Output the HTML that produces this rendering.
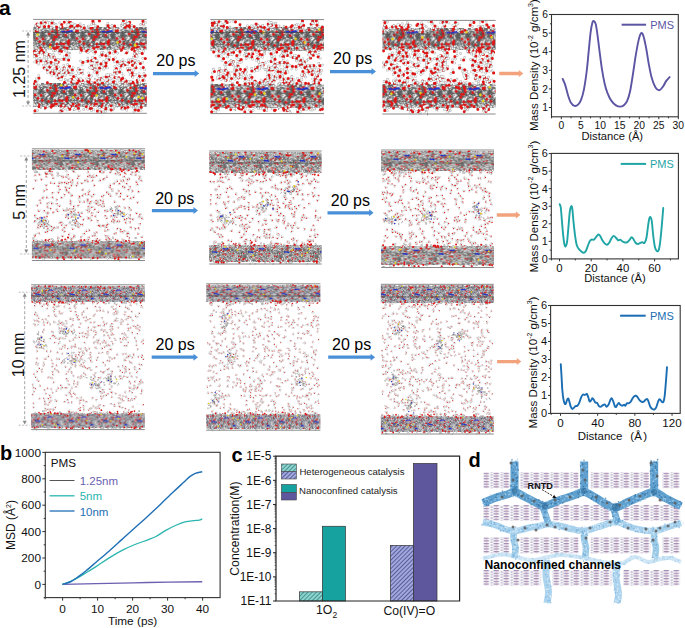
<!DOCTYPE html><html><head><meta charset="utf-8"><style>html,body{margin:0;padding:0;background:#fff;}svg{display:block;}</style></head><body><svg width="685" height="628" viewBox="0 0 685 628" font-family='"Liberation Sans", sans-serif'>
<rect width="685" height="628" fill="#fff"/>
<defs><pattern id="t0" width="40" height="24" patternUnits="userSpaceOnUse"><linearGradient id="bgg0" x1="0" y1="0" x2="0" y2="1"><stop offset="0" stop-color="#c4c4c4" stop-opacity="0"/><stop offset=".3" stop-color="#c4c4c4"/><stop offset=".75" stop-color="#c4c4c4"/><stop offset="1" stop-color="#c4c4c4" stop-opacity="0"/></linearGradient><rect y="1.0" width="40" height="22.1" fill="url(#bgg0)"/><g fill="none" stroke-linecap="round" stroke-linejoin="round"><path d="M5.8 10.9l-1.5 -.5l-.3 -1.6l1.2 -1l-.3 -1.6M45.8 10.9l-1.5 -.5l-.3 -1.6l1.2 -1l-.3 -1.6M21.3 1.9l1.5 .6l.2 1.6M9.2 20.1l-.7 1.4l.9 1.3M35.7 8.9l-1.1 1.2l-1.6 -.4M-4.3 8.9l-1.1 1.2l-1.6 -.4M22.2 21.6l.1 1.6l1.4 .7M.2 9.5l.3 1.6l1.5 .5l1.2 -1.1l-.3 -1.6M40.2 9.5l.3 1.6l1.5 .5l1.2 -1.1l-.3 -1.6M36.6 5.7l-1.2 1l.3 1.6l1.5 .6l1.2 -1M-3.4 5.7l-1.2 1l.3 1.6l1.5 .6l1.2 -1M28.7 18.6l-1.4 .8l-1.4 -.8l0 -1.6M39.9 9.6l.5 1.5l-1.1 1.2M-.1 9.6l.5 1.5l-1.1 1.2M10.1 20.3l-1.2 -1.1l.4 -1.6l1.5 -.4l.4 -1.6M2.3 14l-.8 1.4l.8 1.4M42.3 14l-.8 1.4l.8 1.4M28.7 18.8l-.3 1.6l-1.5 .6l-1.2 -1M18.2 16.5l1.4 .7l1.3 -.9l-.1 -1.6l1.3 -.9M29 2.5l-1.6 -.1l-.8 1.4M28 3.9l.2 1.6l1.5 .6M6.3 .9l1.5 -.6l1.3 1M2.7 22.7l-1.1 1.2l-1.6 -.4l-.5 -1.5l1.1 -1.2M42.7 22.7l-1.1 1.2l-1.6 -.4l-.5 -1.5l1.1 -1.2M27.8 12.6l-1.6 .3l-.5 1.5l1 1.2M33.1 1.9l-.8 -1.4l.8 -1.4l-.8 -1.4M7.6 24l1.6 .3l.5 1.5l-1 1.2M1.5 .6l.1 1.6l-1.4 .8l.1 1.6M41.5 .6l.1 1.6l-1.4 .8l.1 1.6M26.1 5.3l.9 1.3l1.6 -.1l.9 1.3l-.7 1.4M27 10.7l.5 1.5l1.6 .3M27.7 20.5l-.1 1.6l1.4 .8l1.4 -.8l0 -1.6M28.1 12.2l-0 1.6l1.4 .8l1.4 -.8M36.4 14.4l1.2 1.1l-.4 1.6l1.2 1.1M-3.6 14.4l1.2 1.1l-.4 1.6l1.2 1.1M17.5 20.5l-1.4 .8l-0 1.6l1.4 .8l1.4 -.8M1.9 19.3l1.5 .5l1.2 -1.1l-.4 -1.6M41.9 19.3l1.5 .5l1.2 -1.1l-.4 -1.6M36.3 10l1.2 1.1l1.5 -.5l1.2 1.1M-3.7 10l1.2 1.1l1.5 -.5l1.2 1.1M25 2.3l1.2 1.1l1.5 -.5M6.8 22.8l.5 1.5l-1.1 1.2l-1.6 -.4M4.6 22l.3 1.6l-1.2 1l.3 1.6M44.6 22l.3 1.6l-1.2 1l.3 1.6M1.4 .3l1.4 .8l1.4 -.8l1.4 .8l1.4 -.8M41.4 .3l1.4 .8l1.4 -.8l1.4 .8l1.4 -.8M29.5 8.4l1.4 .7l.1 1.6l1.4 .7M24.2 12.6l.1 1.6l1.4 .7M37.3 17l1.5 .6l1.3 -1l-.2 -1.6l1.3 -1M-2.7 17l1.5 .6l1.3 -1l-.2 -1.6l1.3 -1M35.2 2.9l-.7 1.5l-1.6 .2l-.7 1.5M-4.8 2.9l-.7 1.5l-1.6 .2l-.7 1.5M13 3.8l1.1 1.2l1.6 -.4l1.1 1.2l1.6 -.4M3.5 14.5l1.6 -.1l.9 1.3M43.5 14.5l1.6 -.1l.9 1.3M37.2 21.7l1.5 -.6l1.3 1l1.5 -.6l1.3 1M-2.8 21.7l1.5 -.6l1.3 1l1.5 -.6l1.3 1M39 .2l-1.4 .8l0 1.6l1.4 .8M-1 .2l-1.4 .8l0 1.6l1.4 .8M17.4 4.9l-.4 1.5l-1.6 .4l-1.1 -1.2M13.4 17.5l1.5 -.5l.4 -1.6l1.5 -.5l.4 -1.6M28.8 2.9l-1.5 -.6l-1.3 1l.2 1.6M16.2 .5l-1.4 -.8l0 -1.6M23.9 1.2l.5 1.5l-1.1 1.2M23 17.3l-.6 1.5l-1.6 .2l-.6 1.5M36.7 17.7l-.8 1.4l.8 1.4l-.8 1.4M-3.3 17.7l-.8 1.4l.8 1.4l-.8 1.4M29.8 12.7l1.4 -.8l0 -1.6M24.6 19.9l-1.4 -.8l0 -1.6M27.7 14.3l-1.3 .9l.1 1.6l-1.3 .9l.1 1.6M15 23.5l1.6 .3l.5 1.5M37.7 12.8l.4 1.5l-1.1 1.1l-1.5 -.4l-.4 -1.5M-2.3 12.8l.4 1.5l-1.1 1.1l-1.5 -.4l-.4 -1.5M21.3 17.7l1 1.3l-.6 1.5l-1.6 .2l-.6 1.5M3.5 18.3l1 1.2l1.6 -.3l1 1.2l1.6 -.3M43.5 18.3l1 1.2l1.6 -.3l1 1.2l1.6 -.3M39.5 12.2l1.6 .3l.5 1.5l1.6 .3M-.5 12.2l1.6 .3l.5 1.5l1.6 .3M31.6 17.9l-1.6 -.1l-.9 1.3l-1.6 -.1M16.9 10.8l.6 1.5l-1 1.2l-1.6 -.3M25.4 12.7l-.2 1.6l1.3 1l-.2 1.6M15.6 .6l1.6 .3l1.1 -1.2M38 21.7l.4 1.5l-1.1 1.1l-1.5 -.4M-2 21.7l.4 1.5l-1.1 1.1l-1.5 -.4M11.9 20.5l-1 1.2l.6 1.5l1.6 .3l1 -1.2M20.4 1.4l-1.4 .8l-0 1.6l1.4 .8M4.5 5.4l1.6 .2l.6 1.5l-1 1.2M44.5 5.4l1.6 .2l.6 1.5l-1 1.2M26.7 8.3l-1.1 1.2l.5 1.5M39.4 9.3l1.6 -.2l1 1.3l-.6 1.5l-1.6 .2M-.6 9.3l1.6 -.2l1 1.3l-.6 1.5l-1.6 .2M10.2 3.3l-1.6 -.2l-.6 -1.5l-1.6 -.2l-1 1.3M15.7 12.5l1.6 .3l.5 1.5M2 16.9l-1.5 .7l-1.3 -.9l-1.5 .7l-1.3 -.9M42 16.9l-1.5 .7l-1.3 -.9l-1.5 .7l-1.3 -.9M23.6 16.2l-.2 1.6l1.3 .9l-.2 1.6l-1.5 .6M12.6 7.7l1.6 -.1l.9 1.3M38.1 23.5l.9 1.3l-.7 1.5M-1.9 23.5l.9 1.3l-.7 1.5M5.9 11.3l1.3 -.9l-.1 -1.6l-1.4 -.7M45.9 11.3l1.3 -.9l-.1 -1.6l-1.4 -.7M28.6 6.8l-1.4 -.8l0 -1.6l1.4 -.8M1.2 9.2l-1 1.2l-1.6 -.3l-.5 -1.5M41.2 9.2l-1 1.2l-1.6 -.3l-.5 -1.5M28.9 .7l1.3 .9l-.1 1.6l-1.4 .7M14 9l1.2 -1l-.2 -1.6M3.3 3.7l-0 1.6l-1.4 .8l-1.4 -.8l-1.4 .8M43.3 3.7l-0 1.6l-1.4 .8l-1.4 -.8l-1.4 .8M15.8 8l-1.6 .1l-.7 1.4l.9 1.3M2.8 17.8l-1.5 .5l-.4 1.6l1.2 1.1l1.5 -.5M42.8 17.8l-1.5 .5l-.4 1.6l1.2 1.1l1.5 -.5M21 22.2l.4 1.6l1.5 .5l.4 1.6M.2 8.2l1.5 .6l.2 1.6M40.2 8.2l1.5 .6l.2 1.6M2.4 15.4l-1 -1.3l.6 -1.5l1.6 -.2l.6 -1.5M42.4 15.4l-1 -1.3l.6 -1.5l1.6 -.2l.6 -1.5M2.1 23.6l-1.6 -.3l-1.1 1.2l-1.6 -.3M42.1 23.6l-1.6 -.3l-1.1 1.2l-1.6 -.3M1.6 9.5l-1.5 .5l-.3 1.6M41.6 9.5l-1.5 .5l-.3 1.6M27.6 19.7l1.4 -.7l.1 -1.6l1.4 -.7M8.8 3.4l-1.4 .8l-0 1.6l-1.4 .8l-0 1.6M3.9 21.5l-.9 -1.3l-1.6 .1l-.9 -1.3l.7 -1.4M43.9 21.5l-.9 -1.3l-1.6 .1l-.9 -1.3l.7 -1.4M1.4 16.3l-1.6 .4l-.5 1.5l-1.6 .4l-1.1 -1.2M41.4 16.3l-1.6 .4l-.5 1.5l-1.6 .4l-1.1 -1.2M22.3 1.5l-1.3 -.9l.2 -1.6l-1.3 -.9l-1.5 .7M1.4 16l-1.6 -.3l-1 1.2l-1.6 -.3l-1 1.2M41.4 16l-1.6 -.3l-1 1.2l-1.6 -.3l-1 1.2M26.9 2.3l.9 -1.3l1.6 .1l.7 1.4l1.6 .1M25.2 1.4l1.5 -.5l1.2 1l1.5 -.5l.3 -1.6M18.4 15l-1.4 .8l-1.4 -.8M17.8 10.2l-1.6 .4l-1.1 -1.2l-1.6 .4l-1.1 -1.2M14.8 4.5l-.7 1.5l.9 1.3l1.6 -.2l.9 1.3M34 1.1l1.6 .3l.5 1.5l-1.1 1.2M23.7 8.8l1.1 -1.1l1.6 .4l1.1 -1.1M22.8 6.7l.8 1.4l-.8 1.4l.8 1.4M21.3 15.3l1.6 -.3l1 1.2M32.5 23.1l-.1 1.6l1.3 .9l1.4 -.7l1.3 .9M32.9 14.6l-1.2 1.1l.3 1.6l1.5 .5l.3 1.6M15.6 19.3l-.1 1.6l-1.4 .7l-1.3 -.9M16 8.7l-1.4 .8l-1.4 -.8M19.5 15.5l-.2 1.6l1.3 .9M25.3 13l-.1 1.6l1.3 .9M36.6 21.6l-1.6 -.1l-.7 -1.4l.9 -1.3l-.7 -1.4M-3.4 21.6l-1.6 -.1l-.7 -1.4l.9 -1.3l-.7 -1.4M26.1 9.5l1.2 -1.1l1.5 .5M16.5 4l1.6 .1l.7 1.5M6.5 21.8l-1.4 -.8l-1.4 .8l-1.4 -.8M16.9 3l1.4 .7l1.3 -.9l1.4 .7M2.6 20.8l-1.4 -.8l0 -1.6l1.4 -.8l0 -1.6M42.6 20.8l-1.4 -.8l0 -1.6l1.4 -.8l0 -1.6M23.3 13l-1.2 -1.1l-1.5 .5l-.4 1.6l1.2 1.1M5.1 10.7l-1.6 -0l-.8 -1.4l.8 -1.4l1.6 0M45.1 10.7l-1.6 -0l-.8 -1.4l.8 -1.4l1.6 0M8.8 6.4l1.6 -.2l.7 -1.5M28.3 9.1l.5 1.5l-1.1 1.2M7.1 15.3l1.2 -1l-.3 -1.6l-1.5 -.5M35.6 20.5l.5 1.5l-1.1 1.2l-1.6 -.4l-1.1 1.2M-4.4 20.5l.5 1.5l-1.1 1.2l-1.6 -.4l-1.1 1.2M21.3 5.7l-1 1.2l.5 1.5l1.6 .3l1 -1.2M31.9 6l1.5 -.4l1.2 1.1M7.7 7.9l-1.5 -.6l-1.3 1l-1.5 -.6l-.2 -1.6M23.2 19l1.4 -.7l.1 -1.6M27.8 7.3l1.5 -.4l.4 -1.6l-1.2 -1.1M31.5 5.1l-1.2 -1l-1.5 .6M23.8 5.4l-1.3 .9l-1.4 -.7M32.7 14.4l.1 1.6l1.4 .7l1.3 -.9M22 4.8l1.6 -.1l.9 1.3M30.9 24l-1.5 -.5l-1.2 1.1l.4 1.6l-1.2 1.1M26.4 9.3l-1.6 -.3l-.5 -1.5l-1.6 -.3l-1.1 1.2M13.9 17.5l1.5 -.6l.2 -1.6M37.1 10.5l1.6 -.3l.5 -1.5l-1 -1.2l.5 -1.5M-2.9 10.5l1.6 -.3l.5 -1.5l-1 -1.2l.5 -1.5M11 4.8l1.6 -.2l.6 -1.5l1.6 -.2l.6 -1.5M26.4 9.7l.7 1.4l-.9 1.3l.7 1.4M16.8 10.4l-1.3 .9l-1.5 -.7l-1.3 .9M25 16l-1 1.2l.6 1.5l1.6 .2l.6 1.5M14.4 7.2l1.5 .5l.3 1.6M11.6 6l1.2 1.1l1.5 -.5M37.7 7.4l1.2 -1l1.5 .6l1.2 -1M-2.3 7.4l1.2 -1l1.5 .6l1.2 -1M1.4 4.6l-.5 1.5l-1.6 .4M41.4 4.6l-.5 1.5l-1.6 .4M23.1 18.5l1.4 .8l1.4 -.8l1.4 .8M11.1 16.5l-.6 1.5l.9 1.3M33.9 .7l-1 -1.2l-1.6 .3M15.9 16.3l.9 1.3l1.6 -.2l.6 -1.5l1.6 -.2M27.9 13.5l-1.3 .9l.1 1.6l-1.3 .9l-1.4 -.7M28.1 6l-.1 1.6l1.3 .9M19.6 21.4l1.6 -.3l1 1.2M25.3 11.7l.6 1.5l-1 1.2M10.5 10.3l.7 1.4l-.9 1.3M24.3 5.3l-.8 -1.4l.8 -1.4M6.9 2.9l.6 1.5l1.6 .3l1 -1.2l-.6 -1.5M19.2 9.4l-1.5 -.6l-1.3 1M11.2 7.6l-1.1 -1.2l-1.6 .3l-1.1 -1.2M25.3 10.8l-.9 1.3l.7 1.5l-.9 1.3M32.2 13.7l-1 -1.2l.6 -1.5M32.4 6.2l.2 1.6l-1.3 1l.2 1.6l-1.3 1M37.2 1l.4 1.5l-1.1 1.1l-1.5 -.4l-1.1 1.1M-2.8 1l.4 1.5l-1.1 1.1l-1.5 -.4l-1.1 1.1M20.2 2.7l-.7 1.4l.9 1.3l1.6 -.1l.9 1.3M39.7 10.6l-1.2 1l-1.5 -.6M-.3 10.6l-1.2 1l-1.5 -.6M11.3 1.1l-1.2 -1.1l-1.5 .5l-.3 1.6M11.6 9.9l1.3 -.9l1.4 .7M32.3 .9l1.6 -.2l1 1.3M21.5 17l1.2 1l1.5 -.5l1.2 1l-.3 1.6M7.1 23.6l-.3 1.6l1.2 1.1M35.3 23.5l.5 1.5l1.6 .3M-4.7 23.5l.5 1.5l1.6 .3M11.7 10.4l1.5 .5l1.2 -1.1M10.9 23.7l-1.6 -0l-.8 -1.4M36.1 7.5l-1.1 1.2l.5 1.5l-1.1 1.2l-1.6 -.4M-3.9 7.5l-1.1 1.2l.5 1.5l-1.1 1.2l-1.6 -.4M10.4 1.1l-.6 1.5l1 1.3M21.6 20.7l-.8 -1.4l-1.6 .1l-.8 -1.4l.8 -1.4M37.1 1.5l1.1 1.2l1.6 -.4l1.1 1.2M-2.9 1.5l1.1 1.2l1.6 -.4l1.1 1.2M29.1 .2l1.5 -.5l1.2 1.1l-.4 1.6M5.4 8l.2 1.6l-1.3 1l.2 1.6M45.4 8l.2 1.6l-1.3 1l.2 1.6M23.8 1l-1.6 -.3l-.5 -1.5l-1.6 -.3M4.2 3.4l1 1.3l-.6 1.5l1 1.3M44.2 3.4l1 1.3l-.6 1.5l1 1.3M2.6 7.1l-.4 1.5l1.1 1.1l1.6 -.4l1.1 1.1M42.6 7.1l-.4 1.5l1.1 1.1l1.6 -.4l1.1 1.1M20.2 10.5l-1 -1.2l-1.6 .3l-1 -1.2l-1.6 .3M38.4 14.9l-.4 1.5l-1.5 .4M-1.6 14.9l-.4 1.5l-1.5 .4M27.8 15.7l.9 1.3l1.6 -.1M35.7 20.7l-1.5 .6l-.2 1.6l-1.5 .6M-4.3 20.7l-1.5 .6l-.2 1.6l-1.5 .6M16.2 16.5l.3 1.6l-1.2 1l-1.5 -.6M12.2 13.8l.8 1.4l-.8 1.4M8.1 20.1l1.6 .3l1 -1.2l1.6 .3l1 -1.2M1.8 22.9l-.1 1.6l1.3 .9l1.4 -.7l.1 -1.6M41.8 22.9l-.1 1.6l1.3 .9l1.4 -.7l.1 -1.6M11.8 17.4l-.9 1.3l.7 1.5M4.3 15.5l.1 1.6l-1.3 .9l-1.4 -.7M44.3 15.5l.1 1.6l-1.3 .9l-1.4 -.7M2.9 20.2l0 1.6l-1.4 .8l-1.4 -.8l-1.4 .8M42.9 20.2l0 1.6l-1.4 .8l-1.4 -.8l-1.4 .8M35.4 10.4l-.9 -1.3l.7 -1.5l1.6 -.2l.7 -1.5M-4.6 10.4l-.9 -1.3l.7 -1.5l1.6 -.2l.7 -1.5M21 9.4l.7 1.4l-.9 1.3l-1.6 -.1l-.9 1.3M39.5 8.1l.8 1.4l1.6 0l.8 -1.4M-.5 8.1l.8 1.4l1.6 0l.8 -1.4M28.4 8.4l.9 1.3l1.6 -.1M17.2 18.9l1.2 1l-.3 1.6l-1.5 .6M36.6 9.8l-1.5 -.4l-1.1 1.1l.4 1.5l1.6 .4M-3.4 9.8l-1.5 -.4l-1.1 1.1l.4 1.5l1.6 .4M27.4 19.2l-.8 1.4l-1.6 -0M36.7 .5l-1.1 -1.1l-1.5 .4l-.4 1.6M-3.3 .5l-1.1 -1.1l-1.5 .4l-.4 1.6M.1 7.5l.3 1.6l1.5 .5l1.2 -1.1M40.1 7.5l.3 1.6l1.5 .5l1.2 -1.1M23.7 2.4l1.4 -.7l.1 -1.6l1.4 -.7l1.3 .9M9.8 3.9l1.4 .8l-.1 1.6l-1.4 .8M31.9 7.8l-1.2 -1.1l.4 -1.6l1.5 -.5M31.6 8.2l-.9 -1.4l-1.6 .1l-.9 -1.4l.7 -1.4M23.4 9.7l.7 1.4l-.9 1.3l-1.6 -.1M11.4 3.4l-1.5 -.5l-1.2 1.1l.4 1.6M17.6 23.6l-.7 1.5l.9 1.3M6.6 11.2l-.7 1.5l.9 1.3l1.6 -.2M6.2 8.5l-.1 1.6l-1.4 .7l-.1 1.6M38.8 13.3l1.3 -1l1.5 .6M-1.2 13.3l1.3 -1l1.5 .6M34 1.9l.6 1.5l-1 1.3M2.1 11.4l.9 1.3l1.6 -.1l.9 1.3l1.6 -.1M42.1 11.4l.9 1.3l1.6 -.1l.9 1.3l1.6 -.1M33.6 16.3l.4 1.5l-1.1 1.1l.4 1.5M7.3 15.5l1.2 1l-.3 1.6l1.2 1l-.3 1.6M12.1 15.5l1.6 .3l.5 1.5l1.6 .3l.5 1.5M21.5 9.4l.6 1.5l1.6 .2l1 -1.3l-.6 -1.5M19.7 17.6l.9 1.4l1.6 -.1l.7 -1.4M5.4 15.4l-.3 1.6l1.2 1l1.5 -.5M45.4 15.4l-.3 1.6l1.2 1l1.5 -.5M1.1 20.5l1 1.3l-.6 1.5l-1.6 .2l-.6 1.5M41.1 20.5l1 1.3l-.6 1.5l-1.6 .2l-.6 1.5M4.2 11l1.3 .9l1.4 -.7l.1 -1.6M44.2 11l1.3 .9l1.4 -.7l.1 -1.6M23.9 3.5l-.2 1.6l-1.5 .6M39.8 8.5l1.5 .6l1.3 -1l1.5 .6l.2 1.6M-.2 8.5l1.5 .6l1.3 -1l1.5 .6l.2 1.6M30.5 16l.2 1.6l-1.3 1l-1.5 -.6M3.8 1.6l-1.5 -.6l-1.2 1M43.8 1.6l-1.5 -.6l-1.2 1M23.6 11.5l.9 1.3l-.7 1.4l.9 1.3l1.6 -.1M21.9 13.2l-1.3 1l.2 1.6M30.8 18.4l1.6 0l.8 -1.4l-.8 -1.4M16.6 1.8l1.6 .1l.7 1.4l1.6 .1l.7 1.4M19.5 11.3l-.8 1.4l.8 1.4l1.6 -0M20.8 19.1l-1.2 1.1l-1.5 -.5l-1.2 1.1M27.9 3.5l1.1 1.2l1.6 -.4l.4 -1.5M38.7 1.8l-1.4 -.7l-1.4 .9l-1.4 -.7l-1.4 .9M-1.3 1.8l-1.4 -.7l-1.4 .9l-1.4 -.7l-1.4 .9M24.8 11l-.3 1.6l-1.5 .5M24.3 12.2l-.8 1.4l-1.6 0M13.9 23.8l-.4 1.5l1.1 1.1l-.4 1.5l-1.5 .4M2.1 17.1l-1.6 .2l-1 -1.3M42.1 17.1l-1.6 .2l-1 -1.3M26.5 17.8l-1.4 .8l-1.4 -.8l-0 -1.6l1.4 -.8M31.1 8.1l-1.5 -.6l-1.3 .9l.2 1.6M9.2 20.3l1 1.2l-.5 1.5l1 1.2M23.9 9.3l-.8 1.4l.8 1.4l1.6 -0l.8 -1.4M37.3 10.2l-1.4 .8l-1.4 -.8l0 -1.6l-1.4 -.8M-2.7 10.2l-1.4 .8l-1.4 -.8l0 -1.6l-1.4 -.8M31.3 15.9l.3 1.6l1.5 .5l1.2 -1M27 10l-1.5 .5l-1.2 -1.1l-1.5 .5l-1.2 -1.1M13.9 14.2l-1.6 -.1l-.9 1.3l-1.6 -.1l-.7 -1.4M38.4 4.8l-.6 1.5l1 1.2M-1.6 4.8l-.6 1.5l1 1.2M10.8 10.6l-.9 1.3l-1.6 -.1l-.7 -1.4M29 21.3l1.1 1.1l1.5 -.4M26.1 5.1l1.6 .4l1.1 -1.2l1.6 .4l1.1 -1.2M20.4 21.2l1 -1.2l-.6 -1.5l-1.6 -.3M33.8 14.4l1.1 1.2l-.5 1.5l1.1 1.2M34.9 23.4l-1.2 -1.1l-1.5 .5l-1.2 -1.1l.4 -1.6M-5.1 23.4l-1.2 -1.1l-1.5 .5l-1.2 -1.1l.4 -1.6M37.3 15.1l-1 -1.3l-1.6 .2l-1 -1.3M-2.7 15.1l-1 -1.3l-1.6 .2l-1 -1.3M37 3.8l-1.4 -.8l-1.4 .8l-1.4 -.8l0 -1.6M-3 3.8l-1.4 -.8l-1.4 .8l-1.4 -.8l0 -1.6M8.9 4.8l-1.1 -1.2l.5 -1.5l1.6 -.3" stroke="#555555" stroke-width="0.9"/><defs><path id="tw0" d="M.3 4h0M40.3 4h0M10.8 23h0M20.5 12.4h0M2 11.3h0M42 11.3h0M23.3 13.7h0M4.2 20.7h0M27.4 19.7h0M9.6 18.8h0M4.7 3.9h0M20.9 .2h0M30.8 5.5h0M28 15.8h0M37.7 6.2h0M-2.3 6.2h0M39.6 12.9h0M-.4 12.9h0M1.1 22.8h0M41.1 22.8h0M23.5 21.7h0M23.4 17.5h0M19.7 21.9h0M31.5 13.2h0M24.8 5.8h0M9 22.4h0M12.4 5.4h0M11.4 8h0M31.1 14.6h0M26.1 22.1h0M22.2 14.9h0M20.2 10.7h0M34.8 11.6h0M30.1 22.6h0M28.5 14.9h0M23.1 3.2h0M12.9 22.6h0M35 15.8h0M13.6 16.6h0M4.8 15.1h0M37.8 23.1h0M-2.2 23.1h0M33.8 5.5h0M19.3 5.9h0M36.6 18.3h0M-3.4 18.3h0M39.4 8h0M-.6 8h0M17.7 20.2h0M22.1 6h0M4 .9h0M44 .9h0M.4 4h0M40.4 4h0M13.5 14.4h0M39.8 1.3h0M-.2 1.3h0M1.6 .4h0M41.6 .4h0M30.6 16.2h0M15.2 12.5h0M34.5 4.5h0M36.2 4.6h0M-3.8 4.6h0M30.7 21.8h0M2.2 6.5h0M42.2 6.5h0M13.1 22.3h0M5.3 22h0M20.8 2.6h0M31.8 6.6h0M1.3 16.5h0M41.3 16.5h0M18.1 22.6h0M37.7 21.2h0M-2.3 21.2h0M1.5 9.5h0M41.5 9.5h0M36.6 15.3h0M-3.4 15.3h0M19.4 12.9h0M36.8 22.4h0M-3.2 22.4h0M15.6 24h0M21.7 23.5h0M22.6 22.8h0M30 23h0M21.5 11.2h0M23.4 4.6h0M39.6 1.5h0M-.4 1.5h0M19.2 2.3h0M33.2 9.3h0M18.6 6.4h0M31.8 21.4h0M38.1 18.7h0M-1.9 18.7h0M7.9 21h0M11.4 2.7h0M8.9 1.9h0M11.8 4.1h0M10.8 11.4h0M8.9 2.2h0M30 15.1h0M3.6 19.5h0M43.6 19.5h0M8.2 21.4h0M36.2 15h0M-3.8 15h0"/></defs><use href="#tw0" stroke="#8c8c8c" stroke-width="2.40"/><use href="#tw0" stroke="#f2f2f2" stroke-width="1.60"/><path d="M24.6 .1h0M9.7 3.8h0M28.7 10.4h0M25.6 22h0M.1 15.7h0M40.1 15.7h0M16.2 17.4h0M36.1 17.8h0M-3.9 17.8h0M30.2 5.7h0M9.1 12h0M30.4 7.7h0M30.5 20.9h0M36.8 21.5h0M-3.2 21.5h0M.9 16.3h0M40.9 16.3h0M22.6 18.4h0M24.5 4.8h0M38 8.7h0M-2 8.7h0M36.8 5h0M-3.2 5h0M29 17.9h0M.9 14.3h0M40.9 14.3h0M9.2 4.8h0M15.1 12.4h0M26.7 10.3h0M27 23.1h0M26 13.2h0M12.8 21.7h0M29.2 2.7h0M33.6 17.4h0M28.8 21.1h0M.5 17.9h0M40.5 17.9h0M21.4 7.4h0M0 3.7h0M40 3.7h0M8.3 4.4h0M12 15.3h0" stroke="#e01616" stroke-width="2.80"/><path d="M38.5 5.6h0M-1.5 5.6h0M40.3 5h0M.3 5h0M42.1 4.5h0M2.1 4.5h0M43.9 4.4h0M3.9 4.4h0M34.4 5h0M36.2 5h0M-3.8 5h0" stroke="#2434c8" stroke-width="2.30"/></g></pattern><pattern id="t1" width="36" height="20" patternUnits="userSpaceOnUse"><linearGradient id="bgg1" x1="0" y1="0" x2="0" y2="1"><stop offset="0" stop-color="#cecece" stop-opacity="0"/><stop offset=".3" stop-color="#cecece"/><stop offset=".75" stop-color="#cecece"/><stop offset="1" stop-color="#cecece" stop-opacity="0"/></linearGradient><rect y="0.8" width="36" height="18.4" fill="url(#bgg1)"/><g fill="none" stroke-linecap="round" stroke-linejoin="round"><path d="M20.9 3.9l-.7 -.9l-1.1 .1l-.5 1.1M21.7 18.4l-1 .6l-1 -.5M2.5 3.9l.3 1.1l1.1 .3l.3 1.1l-.8 .8M38.5 3.9l.3 1.1l1.1 .3l.3 1.1l-.8 .8M8.6 15.8l-.8 .8l-1.1 -.3M11 2.2l-1 -.5l-0 -1.2l1 -.6l1 .6M8.2 1.5l.3 1.1l-.8 .8l.3 1.1M19.3 6.9l.5 1l1.1 .1l.5 1l1.1 .1M35.5 8.6l-.4 1.1l-1.1 .2M-.5 8.6l-.4 1.1l-1.1 .2M32.3 11.4l-0 1.2l1 .6l1 -.6l-0 -1.2M-3.7 11.4l-0 1.2l1 .6l1 -.6l-0 -1.2M2.4 11.5l-1.1 .5l-.1 1.1l-1.1 .5l-.1 1.1M38.4 11.5l-1.1 .5l-.1 1.1l-1.1 .5l-.1 1.1M24.7 18.5l-.1 1.1l.9 .7l1.1 -.5l.1 -1.1M31.8 6.8l.3 1.1l-.8 .8l.3 1.1l1.1 .2M-4.2 6.8l.3 1.1l-.8 .8l.3 1.1l1.1 .2M10 16.5l.3 1.1l-.8 .8M7.4 2.2l-.5 1l.6 1l-.5 1M23.5 17.8l.5 1l-.6 1l.5 1l-.6 1M8.6 5.5l-1.2 0l-.6 -1l-1.2 0l-.6 1M10.4 13.6l-.2 1.1l.9 .8l1.1 -.4M7.8 13.3l.1 1.1l1 .5M16.1 13.3l-1.2 -0l-.6 1l.5 1l-.6 1M19.7 6.4l-1.2 -0l-.6 1l-1.2 -0l-.6 1M16.4 5.9l.4 1.1l-.7 .9M15.8 1l.9 .7l-.2 1.1M35.1 12.4l-1 -.6l0 -1.2M-.9 12.4l-1 -.6l0 -1.2M24 15.4l-.4 1.1l.7 .9l-.4 1.1M21.8 2.4l.3 1.1l-.8 .8l.3 1.1l1.1 .3M16.9 19.5l.9 -.7l1.1 .4M7.8 15.9l.8 -.8l-.3 -1.1M6.2 18.3l.2 1.1l-.9 .7l.2 1.1l1.1 .4M35.5 17.9l-.4 1.1l.8 .9l1.1 -.2l.8 .9M-.5 17.9l-.4 1.1l.8 .9l1.1 -.2l.8 .9M32.5 10.2l.1 1.1l1.1 .5l.9 -.7l-.1 -1.1M-3.5 10.2l.1 1.1l1.1 .5l.9 -.7l-.1 -1.1M35.6 9l.8 .8l-.3 1.1l-1.1 .3l-.3 1.1M-.4 9l.8 .8l-.3 1.1l-1.1 .3l-.3 1.1M25.2 2.3l.5 1l-.6 1M10.4 3.3l-1 -.6l-1 .6l-1 -.6l-1 .6M8.6 7.8l1.1 -.3l.8 .8M5.4 3.3l-.9 .8l.2 1.1M41.4 3.3l-.9 .8l.2 1.1M27.2 3.8l-1.1 -.4l-.2 -1.1M1.2 17.8l.1 1.1l-.9 .7l-1.1 -.5l-.9 .7M37.2 17.8l.1 1.1l-.9 .7l-1.1 -.5l-.9 .7M16.3 6l-0 1.2l-1 .5M30.8 .9l-.7 -.9l-1.1 .2M-5.2 .9l-.7 -.9l-1.1 .2M8.3 7.6l1 .5l1 -.6l1 .5M24.8 15.9l-1.1 -.2l-.8 .9l-1.1 -.2M30.7 2.8l0 1.2l-1 .6l0 1.2l-1 .6M-5.3 2.8l0 1.2l-1 .6l0 1.2l-1 .6M31.6 10.5l.7 -.9l1.1 .2M-4.4 10.5l.7 -.9l1.1 .2M10.3 12.5l-1.1 .2l-.7 -.9M8.7 2.7l-.9 .7l.2 1.1M22.4 9.6l-.6 -1l.6 -1M29.3 16.6l1 -.6l1 .6M26.6 15.3l-.8 -.8l-1.1 .3M.5 5.1l.4 1.1l-.7 .9l.4 1.1l1.1 .2M36.5 5.1l.4 1.1l-.7 .9l.4 1.1l1.1 .2M6.9 1l1 -.5l.1 -1.1l1 -.5M18 6.1l.1 1.1l-1 .7M17.3 1.2l-.7 .9l.5 1M24.1 .1l-.5 1l.6 1M33.7 12.7l-.6 1l.6 1l-.6 1M-2.3 12.7l-.6 1l.6 1l-.6 1M5.3 18.5l-.6 1l-1.2 -0l-.6 1l-1.2 -0M41.3 18.5l-.6 1l-1.2 -0l-.6 1l-1.2 -0M10.6 5.7l-.4 1.1l.8 .9M13.6 10.6l-1 -.5l-1 .6M16 18.5l1.1 -.4l.9 .7M32.4 16.1l-.8 .9l.4 1.1M-3.6 16.1l-.8 .9l.4 1.1M22.3 10l-1.1 -.3l-.8 .8M24.7 4.1l-.9 -.8l-1.1 .4l-.2 1.1l.9 .8M13.9 20l-1 .6l-0 1.2l1 .6l-0 1.2M6.2 9.9l.3 1.1l-.8 .8l-1.1 -.3l-.3 -1.1M2.5 13.4l-.6 1l-1.1 -.1M38.5 13.4l-.6 1l-1.1 -.1M1.4 1.4l1.2 0l.6 -1l-.5 -1M37.4 1.4l1.2 0l.6 -1l-.5 -1M28.5 9.4l1.1 -.1l.5 -1.1l-.7 -.9M32.6 2.7l1 .6l1 -.5l1 .6M-3.4 2.7l1 .6l1 -.5l1 .6M24.9 .6l-.1 1.2l-1 .5l-1 -.6M20.5 14.9l1.1 .3l.3 1.1l1.1 .3l.8 -.8M11.1 19.9l1 -.5l.1 -1.1l1 -.5M2.9 10.8l1 -.6l-.1 -1.2M38.9 10.8l1 -.6l-.1 -1.2M25.3 10.6l-.4 1.1l.7 .9l-.4 1.1l-1.1 .2M27.3 8l-.9 -.8l.2 -1.1l-.9 -.8M20.7 5.2l.9 .7l-.2 1.1l.9 .7l1.1 -.4M.7 9.8l.9 -.7l1.1 .4l.9 -.7l1.1 .4M36.7 9.8l.9 -.7l1.1 .4l.9 -.7l1.1 .4M29.4 19.2l-.9 .7l-1.1 -.5M31.3 13.6l-.3 1.1l-1.1 .3M-4.7 13.6l-.3 1.1l-1.1 .3M1.5 18.7l.5 1.1l-.7 .9l.5 1.1M37.5 18.7l.5 1.1l-.7 .9l.5 1.1M24.1 8.4l.9 .7l1 -.5M7 1.7l1.1 .2l.4 1.1l-.7 .9M28.9 17.2l.2 1.1l-.9 .8l.2 1.1l-.9 .8M23.9 13.2l0 1.2l-1 .6l0 1.2l1 .5M3.8 9l-.4 1.1l.8 .9l1.1 -.2l.4 -1.1M39.8 9l-.4 1.1l.8 .9l1.1 -.2l.4 -1.1M11.2 6.7l1 .5l1 -.6M22 12.8l-1 .6l0 1.2l-1 .6l0 1.2M8.7 5.9l.7 -.9l1.1 .2l.7 -.9M28.8 16.9l.9 -.7l-.2 -1.1M34.9 14.3l-1.1 .2l-.4 1.1l.7 .9M-1.1 14.3l-1.1 .2l-.4 1.1l.7 .9M32.2 2.6l-1.1 .4l-.9 -.7l-1.1 .4M-3.8 2.6l-1.1 .4l-.9 -.7l-1.1 .4M28 6.6l0 1.2l1 .5l0 1.2M20.4 3.6l-.9 .7l.2 1.1l1.1 .4l.9 -.7M28.9 .8l-.9 .7l.2 1.1l-.9 .7M34.9 7.1l-.3 1.1l-1.1 .3M-1.1 7.1l-.3 1.1l-1.1 .3M7.4 13.7l-.3 1.1l-1.1 .2l-.3 1.1l.8 .8M14.6 11.9l-1.1 -.1l-.7 .9l-1.1 -.1l-.5 -1M8.5 10.5l.5 1l1.1 .1l.5 1l1.1 .1M9 18.5l-0 1.2l1 .6M23.9 10.7l-1 -.5l-.9 .7l.1 1.1l-.9 .7M25.8 11.5l-.5 1l-1.1 .1M2.9 20l-.7 .9l.5 1l1.1 .1M38.9 20l-.7 .9l.5 1l1.1 .1M17.7 9.3l.7 .9l-.5 1.1M19.6 19.7l-1.1 .1l-.5 1l-1.1 .1l-.7 -.9M24.2 4.9l-.6 -1l-1.2 .1l-.5 1M9.9 9.6l-.7 -.9l-1.1 .2l-.7 -.9M4.8 18.4l-1.1 .3l-.3 1.1M40.8 18.4l-1.1 .3l-.3 1.1M22.1 19l-1.1 .4l-.9 -.8l.2 -1.1l1.1 -.4M31.9 16.9l.9 .7l1.1 -.4l.9 .7M-4.1 16.9l.9 .7l1.1 -.4l.9 .7M11.7 14.7l-.2 1.1l-1.1 .4l-.9 -.8M16.3 14.2l-.5 1.1l-1.1 .1l-.7 -.9M24.6 3.1l-.4 1.1l-1.1 .2M11.5 10.2l-1.1 -.3l-.8 .8l.3 1.1l1.1 .3M2.6 1.9l1 .5l1 -.6l-.1 -1.1M38.6 1.9l1 .5l1 -.6l-.1 -1.1M26.7 4.5l-.3 1.1l-1.1 .3l-.8 -.8M31.8 8.8l-.3 1.1l.8 .8M-4.2 8.8l-.3 1.1l.8 .8M17.8 16.6l-.6 -1l.5 -1l-.6 -1M22.4 .9l1.1 -.5l.1 -1.1l-.9 -.7l.1 -1.1M18.1 19.8l-1 -.6l-1 .6l-0 1.2M2.4 4.4l1 .6l0 1.2l-1 .6l-1 -.6M38.4 4.4l1 .6l0 1.2l-1 .6l-1 -.6M11.5 15.6l-1.1 .4l-.9 -.7M9.8 9.7l1.1 -.3l.8 .8l1.1 -.3l.8 .8M1.9 12.6l-.9 .7l-1.1 -.4M37.9 12.6l-.9 .7l-1.1 -.4M12.1 19.2l-.6 -1l-1.2 .1M.6 19.7l1.1 -.5l.1 -1.1l1.1 -.5M36.6 19.7l1.1 -.5l.1 -1.1l1.1 -.5M18 9.6l.1 1.1l1.1 .4M4.6 7.3l.4 1.1l-.7 .9l.4 1.1M40.6 7.3l.4 1.1l-.7 .9l.4 1.1M3.5 7.2l.8 .8l1.1 -.3M39.5 7.2l.8 .8l1.1 -.3M14.9 .2l-.8 -.9l-1.1 .2M30.8 19.2l-1.1 -.3l-.3 -1.1l-1.1 -.3l-.3 -1.1M-5.2 19.2l-1.1 -.3l-.3 -1.1l-1.1 -.3l-.3 -1.1M33 18.1l.3 1.1l1.1 .3M-3 18.1l.3 1.1l1.1 .3M16.1 19l-.4 1.1l-1.1 .2M3.8 7.7l.1 1.1l1 .5l.9 -.7l-.1 -1.1M39.8 7.7l.1 1.1l1 .5l.9 -.7l-.1 -1.1M26.8 15.5l-.9 -.7l-1 .5l-.1 1.1l1 .6M35.1 16.6l-.6 1l.5 1M-.9 16.6l-.6 1l.5 1M3.8 11l-1.1 -.2l-.7 .9l.4 1.1l1.1 .2M39.8 11l-1.1 -.2l-.7 .9l.4 1.1l1.1 .2M27.6 .7l.3 1.1l1.1 .3l.3 1.1l1.1 .3M35 12.7l-1 -.5l-.1 -1.2M-1 12.7l-1 -.5l-.1 -1.2M12.7 18.3l.3 1.1l1.1 .2l.3 1.1l-.8 .8M.4 5.2l1.1 -.3l.8 .8M36.4 5.2l1.1 -.3l.8 .8M.5 7.7l-1.1 .4l-.2 1.1l-1.1 .4l-.2 1.1M36.5 7.7l-1.1 .4l-.2 1.1l-1.1 .4l-.2 1.1M17 18.6l-.9 .7l-1.1 -.4l-.2 -1.1l.9 -.7M2.2 15.5l.8 -.8l-.3 -1.1M38.2 15.5l.8 -.8l-.3 -1.1M11.3 5.3l.8 .9l-.4 1.1l.8 .9M11.4 10.6l-1.1 .3l-.3 1.1l-1.1 .3M11.6 17.5l.5 1l1.1 .1l.5 1M14.1 7.9l.9 .7l-.2 1.1l.9 .7M31.9 2.2l.8 -.8l-.3 -1.1l-1.1 -.3l-.3 -1.1M-4.1 2.2l.8 -.8l-.3 -1.1l-1.1 -.3l-.3 -1.1M12.6 7.4l.6 -1l1.2 .1M21.1 8.8l1.1 -.5l.9 .7M12 2.4l-.3 1.1l-1.1 .3M29.3 17.9l.4 1.1l1.1 .2M10.2 16l-.6 1l.6 1M29.4 6.8l-1.1 .1l-.6 -1l-1.1 .1l-.6 -1M5.2 .2l.3 1.1l-.8 .8l-1.1 -.3M41.2 .2l.3 1.1l-.8 .8l-1.1 -.3M18.7 14.6l-.6 1l.5 1l-.6 1M23.9 13.8l-.8 .9l.4 1.1M31.8 6.5l-.9 .8l.2 1.1M-4.2 6.5l-.9 .8l.2 1.1M2.8 8.7l.5 1l1.1 .1l.7 -.9M38.8 8.7l.5 1l1.1 .1l.7 -.9M27 3l1 -.5l.1 -1.1M23 12.1l.4 1.1l-.7 .9l.4 1.1l-.7 .9M16 10.4l.4 1.1l-.7 .9l.4 1.1M17.6 13.5l-.3 1.1l.8 .8l1.1 -.3l.8 .8M.8 12l.4 1.1l1.1 .2M36.8 12l.4 1.1l1.1 .2M16.5 9.3l-.4 1.1l.7 .9l-.4 1.1M12.2 8.9l-1 .5l-.1 1.2M14.7 6.4l-1.1 .4l-.9 -.7M12.1 9.5l1.2 .1l.5 1M34.7 1l-.1 1.1l1 .6l-.1 1.1M-1.3 1l-.1 1.1l1 .6l-.1 1.1M17.1 17.4l.7 .9l-.4 1.1l-1.1 .2M23.8 17.5l-.3 1.1l-1.1 .3M33.7 15.5l1.1 .1l.5 1.1M-2.3 15.5l1.1 .1l.5 1.1M34.5 2.2l-1.1 -.5l-.1 -1.1M-1.5 2.2l-1.1 -.5l-.1 -1.1M4.7 5.5l-1 -.6l.1 -1.1M40.7 5.5l-1 -.6l.1 -1.1M20.9 19.2l.8 .8l1.1 -.3l.8 .8l1.1 -.3M19.9 10.6l-.9 -.7l-1.1 .5l-.9 -.7l-1.1 .5M19.7 4.6l-.3 1.1l.8 .8l1.1 -.3M13.8 9.3l-.1 1.1l-1.1 .5l-.1 1.1M35.4 17l-1 -.5l-.1 -1.2M-.6 17l-1 -.5l-.1 -1.2M11.9 5.6l-1 -.6l.1 -1.1l1 -.5M26.3 6.9l.7 -.9l1.1 .2l.7 -.9l1.1 .2M34.8 17.8l1.1 .4l.2 1.1l-.9 .7M-1.2 17.8l1.1 .4l.2 1.1l-.9 .7M9.9 3.2l.6 1l1.2 0l.6 1M27.1 8.1l-.5 1l.6 1l-.5 1l.6 1M21.6 19.4l-1.1 -.2l-.7 .9l-1.1 -.2M19.1 5.9l-.5 1.1l.7 .9M18.6 7.3l-1.1 .1l-.7 -.9M9.5 12.1l1.2 -0l.6 1l1.2 -0l.5 -1M33.3 4.6l.8 .8l-.3 1.1M-2.7 4.6l.8 .8l-.3 1.1M18.8 11.3l1.1 -.1l.7 .9M29.3 8.5l.2 1.1l1.1 .4l.9 -.7l1.1 .4M29.9 6.9l-.7 -.9l-1.1 .2l-.7 -.9l.4 -1.1M34.9 8.3l-.9 .7l-1.1 -.5M-1.1 8.3l-.9 .7l-1.1 -.5M24.7 6.7l.9 -.7l1.1 .4l.2 1.1M31.6 11.3l.2 1.1l-.9 .8M-4.4 11.3l.2 1.1l-.9 .8M21.2 6.4l-.6 -1l-1.1 .1M3.5 13.8l-.3 1.1l-1.1 .3l-.8 -.8l-1.1 .3M39.5 13.8l-.3 1.1l-1.1 .3l-.8 -.8l-1.1 .3M5.5 4.1l1 .5l0 1.2l-1 .6M41.5 4.1l1 .5l0 1.2l-1 .6M16.1 2l-1.1 -.2l-.4 -1.1l-1.1 -.2M34.8 19.4l-.9 -.7l.2 -1.1l-.9 -.7l-1.1 .4M-1.2 19.4l-.9 -.7l.2 -1.1l-.9 -.7l-1.1 .4M6.4 12.5l.5 1.1l1.1 .1M26.8 6.1l-1.1 -.3l-.8 .8l.3 1.1l-.8 .8M4.8 7.5l.8 .8l-.3 1.1l-1.1 .3M40.8 7.5l.8 .8l-.3 1.1l-1.1 .3M8.7 5.9l-.9 .7l-1 -.5l-.9 .7M2 15.9l.1 1.1l-.9 .7l.1 1.1M38 15.9l.1 1.1l-.9 .7l.1 1.1M35.3 7.4l.6 1l-.5 1l-1.1 .1l-.5 1M-.7 7.4l.6 1l-.5 1l-1.1 .1l-.5 1M8.5 7.4l1 .5l.1 1.2M12.8 9.8l1.1 -.2l.4 -1.1l1.1 -.2M27.5 8.8l-.3 1.1l.8 .8l-.3 1.1l-1.1 .3M5.2 16.1l-.9 .8l.2 1.1M41.2 16.1l-.9 .8l.2 1.1M14.3 5.3l1.1 -.5l.1 -1.1M2.8 17.3l-1.1 -.5l-.1 -1.1l-1.1 -.5M38.8 17.3l-1.1 -.5l-.1 -1.1l-1.1 -.5M15.4 8l-.7 .9l-1.1 -.1l-.5 -1l.7 -.9M6.3 14l.5 1l1.1 .1M.6 16.3l-1.1 .4l-.9 -.7l-1.1 .4l-.2 1.1M36.6 16.3l-1.1 .4l-.9 -.7l-1.1 .4l-.2 1.1M10.8 9.2l.8 -.8l1.1 .3l.2 1.1l-.9 .8M12.5 17.8l-1.1 -.1l-.7 .9l-1.1 -.1M19.6 15.7l-.7 .9l.4 1.1l1.1 .2M35.1 3.5l1.1 -.4l.9 .8l-.2 1.1M-.9 3.5l1.1 -.4l.9 .8l-.2 1.1M2.8 15.7l-.8 -.8l.3 -1.1M38.8 15.7l-.8 -.8l.3 -1.1M34.5 19.3l.9 .8l1.1 -.4M-1.5 19.3l.9 .8l1.1 -.4M31.6 15.5l-1.1 .1l-.7 -.9l-1.1 .1l-.7 -.9M-4.4 15.5l-1.1 .1l-.7 -.9l-1.1 .1l-.7 -.9M9.1 2.7l-.7 -.9l.4 -1.1l1.1 -.2M10.8 .7l-.9 .8l-1.1 -.4l-.2 -1.1M15.3 8.1l1 -.5l.1 -1.1l1 -.5l.1 -1.1M12.1 11.5l.3 1.1l-.8 .8l.3 1.1M29.7 14.3l.1 1.1l-1 .6M28.1 7.6l-.7 .9l.4 1.1M25.7 1.6l.2 1.1l1.1 .4l.9 -.8M8.2 17l.6 1l1.2 -.1M8.8 1.3l1.1 .5l.1 1.1M15.4 11l-1 .7l-1 -.5M4.7 13.1l.5 1.1l-.7 .9M40.7 13.1l.5 1.1l-.7 .9M29.3 19.3l1 -.5l1 .6M12.1 17.5l-1 -.6l-1 .6l0 1.2M7.6 10.8l1.1 -.4l.9 .7M33.3 14.1l.5 1l1.2 0l.6 -1M-2.7 14.1l.5 1l1.2 0l.6 -1M1.9 1.4l-1.2 .1l-.6 -1M37.9 1.4l-1.2 .1l-.6 -1M27.5 6.3l-1.1 -.3l-.8 .8l-1.1 -.3l-.3 -1.1M34.7 3l.3 1.1l-.8 .8M-1.3 3l.3 1.1l-.8 .8M22.9 6.6l1.1 .3l.8 -.8l1.1 .3M12.1 .1l-.4 1.1l.7 .9M26.6 7.5l.8 .9l-.4 1.1l-1.1 .2M5 17.7l-.6 -1l.5 -1l1.1 -.1M41 17.7l-.6 -1l.5 -1l1.1 -.1M10.5 3l-1.1 -.4l-.2 -1.1M33.3 5.4l.8 .8l-.3 1.1l.8 .8l-.3 1.1M-2.7 5.4l.8 .8l-.3 1.1l.8 .8l-.3 1.1M34.6 9.1l-.3 1.1l.8 .8l1.1 -.3l.8 .8M-1.4 9.1l-.3 1.1l.8 .8l1.1 -.3l.8 .8M34 .4l-1.2 0l-.6 -1l-1.2 0M-2 .4l-1.2 0l-.6 -1l-1.2 0M14.1 5.5l-.7 -.9l.4 -1.1l1.1 -.2M8.1 8.8l-1.1 -.1l-.5 -1.1M30.4 19.5l.6 -1l1.2 0M-5.6 19.5l.6 -1l1.2 0M12 4.7l.8 -.9l-.4 -1.1l-1.1 -.2l-.7 .9M22.9 13.8l-.8 .9l-1.1 -.2l-.3 -1.1l.8 -.8M2.3 .6l-1 -.6l-1 .5l-1 -.6l.1 -1.1M38.3 .6l-1 -.6l-1 .5l-1 -.6l.1 -1.1M2.2 13.5l.7 -.9l1.1 .2M38.2 13.5l.7 -.9l1.1 .2M28.5 19.3l-1.2 0l-.6 -1l-1.2 0M24.7 4.6l-.6 1l-1.2 -0l-.6 -1l-1.2 -0M32.9 9.5l-.5 1l-1.1 .1l-.6 -1M-3.1 9.5l-.5 1l-1.1 .1l-.6 -1M19.2 14.3l.7 -.9l1.1 .2M4.5 8.3l-.7 -.9l-1.1 .2l-.7 -.9l.4 -1.1M40.5 8.3l-.7 -.9l-1.1 .2l-.7 -.9l.4 -1.1M15 3.3l-0 1.2l1 .6M25.3 14.5l-.8 .9l.4 1.1l-.8 .9M7.6 .2l-1 .6l0 1.2l-1 .6l-1 -.6M34.9 12.7l-1.1 .1l-.5 1.1l-1.1 .1M-1.1 12.7l-1.1 .1l-.5 1.1l-1.1 .1M4.1 18.1l-1.1 .2l-.4 1.1l-1.1 .2M40.1 18.1l-1.1 .2l-.4 1.1l-1.1 .2M5.9 5.1l-.4 1.1l.7 .9M41.9 5.1l-.4 1.1l.7 .9M1.5 14.4l.7 -.9l-.5 -1l.7 -.9M37.5 14.4l.7 -.9l-.5 -1l.7 -.9M32.7 2.6l1.1 .3l.8 -.8M-3.3 2.6l1.1 .3l.8 -.8M9.3 3.9l.5 1l1.1 .1M15.7 .7l.1 1.1l-.9 .7l.1 1.1M31.9 15.5l-.8 -.9l.4 -1.1l1.1 -.2M-4.1 15.5l-.8 -.9l.4 -1.1l1.1 -.2M21.6 18.8l-.9 .7l.1 1.1l1.1 .4l.9 -.7M7.6 9.8l-.6 -1l.5 -1l1.2 -0l.5 -1M8.4 4.8l.1 1.1l1 .5M20.4 12.8l.8 .8l1.1 -.3M33.8 7.7l.5 1l-.7 .9l-1.1 -.1l-.7 .9M-2.2 7.7l.5 1l-.7 .9l-1.1 -.1l-.7 .9M11.8 .9l-1.1 -.2l-.7 .9l-1.1 -.2l-.4 -1.1M16.2 17.3l1.1 .3l.8 -.8l1.1 .3M.4 10.1l.8 .9l-.4 1.1l-1.1 .2l-.4 1.1M36.4 10.1l.8 .9l-.4 1.1l-1.1 .2l-.4 1.1M13.6 17.8l.9 .7l1.1 -.4M17.8 10l.9 .8l-.2 1.1M27.7 1.1l-.1 1.2l1 .6M26 5.6l-.6 -1l-1.2 .1l-.5 1l.6 1M23.5 7.6l.1 1.1l1.1 .5M19.8 16l-0 1.2l-1 .5l-1 -.6l-1 .5M11 18.6l-.6 1l-1.2 -0l-.6 -1l.6 -1M17.9 5.8l1.2 -0l.6 1l1.2 -0M33.2 6.7l-1 -.5l-.9 .7M-2.8 6.7l-1 -.5l-.9 .7M1.9 13.7l.6 1l1.2 -0l.6 1l1.2 -0M37.9 13.7l.6 1l1.2 -0l.6 1l1.2 -0M3.1 6.7l0 1.2l-1 .6l-1 -.6l-1 .6M39.1 6.7l0 1.2l-1 .6l-1 -.6l-1 .6M1.7 14.8l-.4 1.1l-1.1 .2M37.7 14.8l-.4 1.1l-1.1 .2M.7 .8l-1.1 .4l-.2 1.1l.9 .8M36.7 .8l-1.1 .4l-.2 1.1l.9 .8M9.3 6.2l.2 1.1l-.9 .7l.2 1.1" stroke="#5e5e5e" stroke-width="0.6"/><defs><path id="tw1" d="M24.1 10.5h0M12 15.1h0M10.3 14.7h0M32.1 3.6h0M-3.9 3.6h0M25.2 15.1h0M17.3 18.3h0M15.9 9.5h0M33.8 4.8h0M-2.2 4.8h0M.1 10h0M36.1 10h0M35.9 3.3h0M-.1 3.3h0M34.3 19.9h0M-1.7 19.9h0M24.8 2h0M27.6 17.5h0M22.7 8.5h0M12.3 16.1h0M27.1 5.8h0M35.1 2.5h0M-.9 2.5h0M2.2 19.5h0M38.2 19.5h0M22.6 13.7h0M27.4 8.4h0M9 11.4h0M4.5 6.9h0M14.9 7.2h0M23.3 19.3h0M19.8 4.5h0M9.8 14.3h0M17 .7h0M13.4 9.9h0M1.5 3h0M37.5 3h0M9.7 1.7h0M31.4 8h0M5.3 15.8h0M7.1 6.9h0M31.1 11.6h0M6.4 .6h0M20.9 18.6h0M13.5 2.7h0M18.8 19.1h0M16.2 3.7h0M27.2 14.8h0M17.7 9.1h0M1 17h0M37 17h0M11.9 4.3h0M33.2 11.6h0M-2.8 11.6h0M4.5 13.2h0M18.7 11.5h0M20.9 15.2h0M34.2 16.1h0M-1.8 16.1h0M19 7.7h0M10.6 1h0M18.1 2.6h0M.3 1.8h0M36.3 1.8h0M20.2 9h0M33 9.1h0M-3 9.1h0M29.2 .6h0M11.7 14.6h0M8.1 9.7h0M27.7 1.2h0M26.9 2.7h0M21.1 0h0M13 15.3h0M28.7 11.3h0M4.5 12.3h0M33.8 4.9h0M-2.2 4.9h0M11.8 6.7h0M16 1.8h0M1.5 18h0M37.5 18h0M10.3 4.8h0M10.1 9.6h0M17.7 11.5h0M15 13.7h0M13 4.8h0M10.1 15.5h0M12.9 3.6h0M21.1 12.2h0M5.3 5.4h0M31.3 2.8h0M1.5 16.8h0M37.5 16.8h0M30.5 15.2h0M24.7 14.6h0M21.8 1h0M23.6 5.9h0M15.6 2.4h0M17.4 4.2h0M14.2 8h0M5.8 17.7h0M5.4 14.4h0M14.3 7.1h0M19.3 1.6h0M8.7 12.2h0M4.3 12.5h0M1.2 6.8h0M37.2 6.8h0M28.5 10.1h0M11.9 15.3h0M25.3 1.7h0M19.9 15.9h0M34 16.7h0M-2 16.7h0M23.1 3.4h0M26.3 15.5h0M29.9 14.6h0M30.6 3.4h0M30.4 13.3h0M30 14.2h0M9.4 11.5h0M20.8 17h0M17.6 18.4h0M26.3 17.8h0M.4 6.1h0M36.4 6.1h0M24.8 16.6h0M24.9 8.1h0M23.1 9.8h0M18.9 3.9h0M16 3.2h0M33.3 11h0M-2.7 11h0M5.4 16.5h0M8.5 15.5h0M11.3 5h0M24.5 .7h0M18.6 .1h0M5.2 14.1h0M26.3 18.7h0M11.2 2.1h0M18.9 8.9h0M3.5 2.2h0M39.5 2.2h0M11.2 9.5h0M4.2 9.3h0M22.9 3.7h0M32.1 18.3h0M-3.9 18.3h0M35.3 11.4h0M-.7 11.4h0M23.3 6.1h0M13.9 1.2h0M18 8.3h0M10.4 6.4h0M23 16.4h0M27 10.8h0M1.5 3.1h0M37.5 3.1h0M14.1 11.5h0M25.4 17.3h0"/></defs><use href="#tw1" stroke="#8c8c8c" stroke-width="1.90"/><use href="#tw1" stroke="#f2f2f2" stroke-width="1.10"/><path d="M23.4 10.5h0M31.7 3h0M25.9 12.8h0M3 4.4h0M39 4.4h0M16.4 16.1h0M22.9 2.7h0M8.5 14h0M15.8 .6h0M26.3 10h0M14.3 6.2h0M1.6 16.2h0M37.6 16.2h0M17.4 5.5h0M.7 9.9h0M36.7 9.9h0M18 10.8h0M7.9 5.8h0M16 10.8h0M20.7 6.9h0M11.9 7.3h0M7.5 .4h0M22.2 5.9h0M24.9 19.6h0M33.9 13.7h0M-2.1 13.7h0M3.9 18.3h0M39.9 18.3h0M20.4 18.6h0M14.7 18.3h0M30.8 3.5h0M16.3 7.7h0M8.9 3.8h0M13 15.3h0M13.5 17.2h0M18.9 11.9h0M31.6 13.2h0M28.9 .9h0" stroke="#e01616" stroke-width="1.55"/><path d="M16.5 4.4h0M17.8 4.5h0M19.1 4.8h0M20.4 4.4h0M5.7 8.1h0M7 8.3h0M8.3 8.3h0M9.6 8.8h0" stroke="#2434c8" stroke-width="1.66"/></g></pattern><pattern id="t2" width="34" height="16" patternUnits="userSpaceOnUse"><linearGradient id="bgg2" x1="0" y1="0" x2="0" y2="1"><stop offset="0" stop-color="#d2d2da" stop-opacity="0"/><stop offset=".3" stop-color="#d2d2da"/><stop offset=".75" stop-color="#d2d2da"/><stop offset="1" stop-color="#d2d2da" stop-opacity="0"/></linearGradient><rect y="0.6" width="34" height="14.7" fill="url(#bgg2)"/><g fill="none" stroke-linecap="round" stroke-linejoin="round"><path d="M5 9.9l.8 -.5l.8 .5l-0 .9l-.8 .5M39 9.9l.8 -.5l.8 .5l-0 .9l-.8 .5M19.3 .7l.8 .5l-.1 .9l-.8 .4l-.1 .9M17.3 1.4l.3 .9l.9 .2M24.3 8.4l-.8 .5l0 .9l.8 .4M20.8 13.3l-.6 .7l-.9 -.1M28.6 2.1l.1 .9l.8 .4l.8 -.5M-5.4 2.1l.1 .9l.8 .4l.8 -.5M21.5 6.9l-.9 .3l-.7 -.6l.2 -.9M21.7 8.6l-.1 .9l-.9 .4l-.1 .9l.7 .6M20.4 14.6l-.9 .1l-.3 .9l-.9 .1l-.3 .9M31.9 15.1l-0 .9l-.8 .4M-2.1 15.1l-0 .9l-.8 .4M14.1 14.2l-0 .9l.8 .5l.8 -.5M7.5 6.6l.8 -.5l-.1 -.9l-.8 -.4M8.2 4.4l.7 -.6l.9 .3M9.3 4.3l.9 .3l.2 .9l.9 .3l.2 .9M28.3 10.9l.4 .8l.9 .1M-5.7 10.9l.4 .8l.9 .1M21.8 3.6l.2 .9l-.7 .6M4.7 4.1l-.6 .7l.3 .9M38.7 4.1l-.6 .7l.3 .9M24 15.4l.5 .8l.9 -.1l.5 .8M23.5 2.6l.8 -.4l.1 -.9M4.6 11.4l.9 .2l.3 .9l.9 .2l.3 .9M38.6 11.4l.9 .2l.3 .9l.9 .2l.3 .9M31.1 7.3l.9 -.2l.7 .7M-2.9 7.3l.9 -.2l.7 .7M19.8 4.5l.7 .6l.9 -.3l.2 -.9M25.8 12.1l-.6 -.7l.4 -.9M18.9 9.6l.8 .4l.8 -.5l.8 .4M18.8 1.3l.4 .8l.9 .1M31.3 12.4l.4 .8l-.6 .7l.4 .8M-2.7 12.4l.4 .8l-.6 .7l.4 .8M27 12l-.3 .9l.6 .7l.9 -.2M16.4 3.3l.2 .9l-.7 .6l-.9 -.3l-.7 .6M20.3 12.3l.9 .3l.1 .9M.9 1.8l-.3 .9l.6 .7l-.3 .9M34.9 1.8l-.3 .9l.6 .7l-.3 .9M32.8 11.3l.3 .9l-.6 .7M-1.2 11.3l.3 .9l-.6 .7M33.4 15.2l-.9 .1l-.4 .8l-.9 .1M-.6 15.2l-.9 .1l-.4 .8l-.9 .1M25.3 13l.4 .8l.9 0M9.6 1.4l-.8 -.5l-.8 .4l-.1 .9M2.7 11.6l-.9 .3l-.1 .9M36.7 11.6l-.9 .3l-.1 .9M33.3 15.6l.9 .3l.7 -.6l.9 .3M-.7 15.6l.9 .3l.7 -.6l.9 .3M16.7 8.2l-.8 -.4l-.1 -.9M17.1 15.1l.9 -.3l.7 .6l.9 -.3M14.4 11.8l-.8 .5l0 .9M30.4 11.8l-.4 .9l.6 .7l.9 -.1M-3.6 11.8l-.4 .9l.6 .7l.9 -.1M6.5 6.2l-.3 .9l.6 .7l.9 -.1M17.1 4.5l-.9 .2l-.6 -.7M12.7 14.5l-.8 -.5l0 -.9M25.9 15.8l-.6 -.7l-.9 .2l-.3 .9M9.2 3l-.9 -.3l-.7 .6M13 10.3l-0 .9l-.8 .4M33.3 2.7l-.6 .7l-.9 -.1l-.6 .7M-.7 2.7l-.6 .7l-.9 -.1l-.6 .7M17.4 .1l-.9 -.3l-.7 .6l.1 .9l.9 .3M30.6 12l.6 .7l.9 -.2M-3.4 12l.6 .7l.9 -.2M14.2 15.8l0 .9l.8 .5l.8 -.5l.8 .5M26.5 7.6l-.2 .9l.7 .6l.9 -.3l.7 .6M31.5 3.1l.8 -.4l.7 .5l-.1 .9l-.9 .4M-2.5 3.1l.8 -.4l.7 .5l-.1 .9l-.9 .4M3 8.4l.8 .4l.8 -.5M37 8.4l.8 .4l.8 -.5M1.9 15.3l-.9 -0l-.4 -.8l-.9 -0l-.4 -.8M35.9 15.3l-.9 -0l-.4 -.8l-.9 -0l-.4 -.8M28.1 9.8l-.2 .9l-.9 .3l-.2 .9l-.9 .3M-5.9 9.8l-.2 .9l-.9 .3l-.2 .9l-.9 .3M16.7 10.6l.9 -.4l.7 .6l-.1 .9M11.9 9.9l-.9 -.1l-.4 -.8l-.9 -.1l-.4 -.8M23.7 6.2l.2 .9l-.7 .6l-.9 -.3l-.7 .6M3.9 12.5l-.3 .9l-.9 .2M37.9 12.5l-.3 .9l-.9 .2M20.1 13.6l-.4 .8l-.9 0l-.5 -.8M27 12.5l.3 .9l.9 .1l.6 -.7M3.5 14.9l.9 .2l.2 .9l-.7 .7M37.5 14.9l.9 .2l.2 .9l-.7 .7M11.2 1.2l-.1 .9l.7 .6l-.1 .9l.7 .6M27.3 13.5l-.8 .5l-.8 -.4M20.5 11.3l.8 .5l.8 -.5l0 -.9M7.2 .5l.3 .9l.9 .2M7.9 15.7l-.1 .9l.8 .5l-.1 .9l-.8 .4M20.1 13.9l-.9 .1l-.4 .8l.5 .8M26 3.7l.8 .5l.8 -.5l0 -.9M31.9 10.5l.8 -.5l0 -.9l.8 -.5M-2.1 10.5l.8 -.5l0 -.9l.8 -.5M28.4 15.7l-.2 .9l.7 .6M-5.6 15.7l-.2 .9l.7 .6M23.9 10.3l.4 .8l.9 .1M7.8 6.8l.7 -.6l-.1 -.9M21.6 11.7l.9 -.2l.6 .7M26.6 13l-.8 -.5l.1 -.9l.8 -.4M7.5 6.2l-.5 -.8l.5 -.8l.9 -0l.5 -.8M17.8 7.2l.9 .2l.7 -.7M10.5 1.7l.8 .4l.8 -.5l.8 .4M25.4 7.1l.9 .2l.3 .9l.9 .2M12.6 8.2l-.5 .8l-.9 -0l-.5 .8l-.9 -0M12.9 2l-.9 .4l-.7 -.6M9.8 3.7l-.9 .2l-.6 -.7l.3 -.9M1.3 .1l.1 .9l.9 .3l.1 .9l-.7 .6M35.3 .1l.1 .9l.9 .3l.1 .9l-.7 .6M5.5 2l-.6 .7l-.9 -.2M39.5 2l-.6 .7l-.9 -.2M15.2 12.4l-.5 .8l.4 .8l-.5 .8M16.3 9.6l-.3 .9l-.9 .2l-.3 .9M28.7 13l-.1 .9l-.8 .4l-.8 -.5l.1 -.9M-5.3 13l-.1 .9l-.8 .4l-.8 -.5l.1 -.9M4.3 12.5l-.6 -.7l-.9 .2l-.3 .9l-.9 .2M38.3 12.5l-.6 -.7l-.9 .2l-.3 .9l-.9 .2M26.4 .2l.6 .7l-.3 .9l-.9 .1l-.3 .9M3.1 6.2l.5 -.8l-.4 -.8l.5 -.8M37.1 6.2l.5 -.8l-.4 -.8l.5 -.8M26.8 4.6l.7 -.6l.9 .3l.7 -.6M29.8 8.1l-.8 -.5l-.8 .4l-.8 -.5M-4.2 8.1l-.8 -.5l-.8 .4l-.8 -.5M4.4 2.2l.7 .6l-.2 .9M38.4 2.2l.7 .6l-.2 .9M19.8 13.6l.5 -.8l-.5 -.8l.5 -.8M5.4 14.5l-.4 .8l.5 .8l.9 -0l.5 .8M39.4 14.5l-.4 .8l.5 .8l.9 -0l.5 .8M29.3 10.8l-.9 .3l-.7 -.6M-4.7 10.8l-.9 .3l-.7 -.6M7.2 15.1l.4 .8l-.5 .8l-.9 -0l-.5 .8M19.4 9.9l.3 .9l.9 .2l.6 -.7l.9 .2M19.2 6.3l.9 .1l.4 .8l-.6 .7l.4 .8M29.4 2.5l-.9 .4l-.7 -.6l.1 -.9l.9 -.4M-4.6 2.5l-.9 .4l-.7 -.6l.1 -.9l.9 -.4M32.4 9l.8 .5l-0 .9M-1.6 9l.8 .5l-0 .9M1.9 9.7l.1 .9l-.7 .6l-.9 -.4l-.1 -.9M35.9 9.7l.1 .9l-.7 .6l-.9 -.4l-.1 -.9M22.1 9.1l-.1 .9l-.8 .4M23.7 14.6l-.9 -.1l-.5 .8l.4 .8M1.5 13.6l.3 .9l.9 .2l.6 -.7l.9 .2M35.5 13.6l.3 .9l.9 .2l.6 -.7l.9 .2M30 .9l.3 .9l-.6 .7l-.9 -.2M-4 .9l.3 .9l-.6 .7l-.9 -.2M21.4 6.7l.4 .8l-.5 .8l-.9 -.1l-.5 .8M20 14.2l.6 -.7l.9 .2M19.7 8.9l-.8 .5l0 .9M16.3 7l.4 .8l-.5 .8l.4 .8l-.5 .8M31.4 1l-0 .9l-.8 .4M-2.6 1l-0 .9l-.8 .4M10.1 8.6l.4 .8l-.5 .8M5.7 7.2l.2 .9l.9 .3l.7 -.6l-.2 -.9M39.7 7.2l.2 .9l.9 .3l.7 -.6l-.2 -.9M28.2 5l.9 .1l.3 .9M-5.8 5l.9 .1l.3 .9M26 14.5l-.4 .8l-.9 .1l-.5 -.8l.4 -.8M1.2 3.5l-.9 -0l-.5 .8l-.9 -0M35.2 3.5l-.9 -0l-.5 .8l-.9 -0M14.6 14.9l.4 .8l.9 .1l.4 .8l-.5 .8M10.3 15.1l.2 .9l-.7 .6l-.9 -.3M24 8.5l-.5 -.8l.4 -.8l.9 -0l.5 .8M17.9 5.7l-.8 .5l0 .9l-.8 .5l0 .9M34 10.8l.5 -.8l-.4 -.8l.5 -.8M-0 10.8l.5 -.8l-.4 -.8l.5 -.8M.7 11.9l.5 -.8l-.5 -.8M34.7 11.9l.5 -.8l-.5 -.8M24.3 11.7l.2 .9l-.7 .6M2.8 15.3l-.7 -.6l.2 -.9M36.8 15.3l-.7 -.6l.2 -.9M.4 7l.8 -.4l.8 .5M34.4 7l.8 -.4l.8 .5M1.3 11.9l.8 .4l.8 -.5l-.1 -.9l-.8 -.4M35.3 11.9l.8 .4l.8 -.5l-.1 -.9l-.8 -.4M18.7 12.5l.9 .2l.3 .9M24.6 .2l.5 .8l-.5 .8l.5 .8l-.5 .8M16.3 .8l-0 .9l.8 .5l-0 .9l-.8 .4M13 10.7l-.1 .9l-.9 .4l-.1 .9M6.8 3.8l-.1 .9l.8 .5l.8 -.4l.8 .5M29 1.3l.7 -.6l-.2 -.9M-5 1.3l.7 -.6l-.2 -.9M11.2 6.7l-.6 -.7l-.9 .2l-.3 .9l-.9 .2M22.9 1.5l.9 -.2l.3 -.9l.9 -.2M9.3 .3l-.6 -.7l.3 -.9M4.9 10.9l.2 .9l-.7 .6l.2 .9M38.9 10.9l.2 .9l-.7 .6l.2 .9M27.6 8.5l.1 .9l.9 .4l.1 .9l.9 .4M18.7 3.7l-.3 .9l-.9 .2l-.6 -.7l-.9 .2M27.2 6.1l.6 .7l-.3 .9l.6 .7M29.2 .1l.4 .9l-.6 .7M-4.8 .1l.4 .9l-.6 .7M3.1 10.9l.9 .3l.2 .9l-.7 .6l.2 .9M37.1 10.9l.9 .3l.2 .9l-.7 .6l.2 .9M15.6 1.6l.6 .7l.9 -.2l.6 .7l-.3 .9M4.5 6.1l-.5 .8l.5 .8M38.5 6.1l-.5 .8l.5 .8M13.8 6.1l.2 .9l-.7 .7M17.3 9l.8 -.4l.8 .5M9.5 8.4l.7 -.6l.9 .3l.7 -.6l.9 .3M33.1 1.7l.2 .9l-.7 .6l-.9 -.3M-.9 1.7l.2 .9l-.7 .6l-.9 -.3M27 13.1l.5 .8l.9 -0l.5 -.8l-.5 -.8M9.3 5.4l.9 .2l.6 -.7l-.3 -.9M3.2 11.2l-.5 .8l.4 .8l.9 .1l.5 -.8M37.2 11.2l-.5 .8l.4 .8l.9 .1l.5 -.8M17 3.8l.8 .4l.8 -.5l.8 .4l.8 -.5M2.9 5.8l0 .9l.8 .4l0 .9M36.9 5.8l0 .9l.8 .4l0 .9M22.7 5l.6 -.7l.9 .2l.3 .9l.9 .2M24.3 7.6l-.9 -.3l-.2 -.9l-.9 -.3l-.2 -.9M29.9 .5l-.2 .9l.7 .6l-.2 .9M-4.1 .5l-.2 .9l.7 .6l-.2 .9M19.1 3.6l-.6 -.7l-.9 .2M14.2 6.4l.8 .4l0 .9l-.8 .5M28.4 6.7l.8 .5l-.1 .9l-.8 .4M-5.6 6.7l.8 .5l-.1 .9l-.8 .4M28 16l.7 .6l.9 -.4l.1 -.9M22.7 12.5l-.3 .9l-.9 .1l-.3 .9M29.5 9.1l-.9 -.3l-.2 -.9l.7 -.6M-4.5 9.1l-.9 -.3l-.2 -.9l.7 -.6M3.6 9l-0 .9l.8 .5l.8 -.4l.8 .5M37.6 9l-0 .9l.8 .5l.8 -.4l.8 .5M17 13.7l.7 -.6l-.1 -.9l.7 -.6l-.1 -.9M14.4 .9l.1 .9l.8 .4M21 2.2l.5 -.8l-.4 -.8M12.9 4.4l.7 .6l.9 -.3l.7 .6M7.7 15.5l0 .9l.8 .4l.8 -.5M23.5 4.3l.1 .9l.8 .4l.1 .9l.8 .4M30 10.3l.6 -.7l.9 .1M-4 10.3l.6 -.7l.9 .1M11.2 7.5l.1 .9l.8 .4l.1 .9l.8 .4M13.1 4.7l-.9 -.3l-.1 -.9M12.2 12.5l.9 -0l.5 .8l-.5 .8l-.9 0M30.1 4.8l.3 .9l-.6 .7l-.9 -.2l-.3 -.9M-3.9 4.8l.3 .9l-.6 .7l-.9 -.2l-.3 -.9M32.1 11l-.5 -.8l.4 -.8M-1.9 11l-.5 -.8l.4 -.8M25.8 1.3l-.9 -.3l-.2 -.9l-.9 -.3l-.7 .6M12.3 10.8l.5 .8l-.5 .8l.5 .8l-.5 .8M28.1 .6l0 .9l-.8 .5l0 .9M-5.9 .6l0 .9l-.8 .5l0 .9M25.1 .8l-0 .9l.8 .5l-0 .9l-.8 .4M3.6 7l.4 .8l.9 0l.4 .8M37.6 7l.4 .8l.9 0l.4 .8M22.9 13.9l-.5 .8l-.9 -.1l-.5 .8l-.9 -.1M31.6 3.1l-.7 -.6l-.9 .3M-2.4 3.1l-.7 -.6l-.9 .3M15.2 5.6l.9 .3l.7 -.6l-.1 -.9M.6 3.4l.9 -.4l.1 -.9l.9 -.4l.1 -.9M34.6 3.4l.9 -.4l.1 -.9l.9 -.4l.1 -.9M30.9 14l-.6 -.7l-.9 .2l-.3 .9M-3.1 14l-.6 -.7l-.9 .2l-.3 .9M4.7 12.6l-.4 .8l-.9 .1M38.7 12.6l-.4 .8l-.9 .1M24.1 5.4l-.4 .8l-.9 0l-.4 .8l.5 .8M22.4 10.5l-.9 0l-.5 -.8l.5 -.8l-.5 -.8M11.6 1.5l-.9 0l-.5 .8M11 11.4l-.9 -.1l-.3 -.9M9.7 .4l.8 .4l.1 .9l.8 .4l.8 -.5M2.7 10.6l-.8 -.5l.1 -.9l-.8 -.5M36.7 10.6l-.8 -.5l.1 -.9l-.8 -.5M12.3 9.8l-.9 -.1l-.6 .7l.3 .9l-.6 .7M5.8 5.4l-.9 .2l-.6 -.7l.3 -.9M39.8 5.4l-.9 .2l-.6 -.7l.3 -.9M33.8 9.4l.1 .9l-.8 .5l-.8 -.4l-.1 -.9M-.2 9.4l.1 .9l-.8 .5l-.8 -.4l-.1 -.9M24.2 14.5l-.7 -.6l.1 -.9l-.7 -.6M5.8 4.2l-.8 .5l-0 .9l-.8 .5l-.8 -.5M39.8 4.2l-.8 .5l-0 .9l-.8 .5l-.8 -.5M8.4 5.4l.9 .1l.5 -.8l.9 .1M26.5 9.6l-.9 -.3l-.2 -.9l-.9 -.3l-.2 -.9M28.5 8l-.9 -0l-.5 -.8l.5 -.8l-.5 -.8M-5.5 8l-.9 -0l-.5 -.8l.5 -.8l-.5 -.8M27.2 4.1l.5 -.8l.9 0l.4 .8M.7 .8l.8 .4l.8 -.5l.8 .4M34.7 .8l.8 .4l.8 -.5l.8 .4M7.9 13.2l-.4 .9l-.9 .1l-.4 .9l-.9 .1M9.2 15.1l-.8 .5l-.8 -.5l-.8 .5l0 .9M24.4 14.3l.2 .9l.9 .2l.2 .9M14.4 10.9l-.4 .8l.5 .8M21.6 7.9l-.4 .8l.5 .8l.9 -.1l.4 -.8M28 4.2l-.1 .9l-.9 .3l-.7 -.6M-6 4.2l-.1 .9l-.9 .3l-.7 -.6M15.7 7l.3 .9l.9 .2M6 1.5l.5 .8l-.4 .8l-.9 0l-.5 -.8M40 1.5l.5 .8l-.4 .8l-.9 0l-.5 -.8M8.5 14.9l-.4 .8l-.9 0l-.5 -.8l-.9 0M22.4 16l-.9 .2l-.3 .9l.6 .7M11.7 3.9l.3 .9l.9 .2M20 8.7l-.8 -.4l-.1 -.9l.8 -.5M22.9 4.8l.9 -.2l.6 .7M14.8 13.4l0 .9l-.8 .5l0 .9l-.8 .5M1.6 3.1l-.9 -.4l-.7 .6l-.9 -.4l-.7 .6M35.6 3.1l-.9 -.4l-.7 .6l-.9 -.4l-.7 .6M18.5 14.4l-.2 .9l.7 .6l-.2 .9l-.9 .3M29.9 14.7l.7 -.6l-.2 -.9M-4.1 14.7l.7 -.6l-.2 -.9M10.2 11.6l.4 .8l-.5 .8l-.9 -0l-.5 .8M33.2 2.9l.9 .1l.6 -.7l.9 .1l.4 .9M-.8 2.9l.9 .1l.6 -.7l.9 .1l.4 .9M22.8 3.1l.4 .8l-.5 .8M5 13.6l.7 .6l-.2 .9l-.9 .3l-.7 -.6M39 13.6l.7 .6l-.2 .9l-.9 .3l-.7 -.6M.6 14.3l.8 .5l.8 -.4l0 -.9M34.6 14.3l.8 .5l.8 -.4l0 -.9M18.6 12.4l-.9 .2l-.3 .9l-.9 .2l-.3 .9M18.3 8.8l.9 .1l.5 -.7M28.6 2.8l-.7 -.6l-.9 .3M-5.4 2.8l-.7 -.6l-.9 .3M29.8 13.9l.3 .9l.9 .2l.6 -.7l.9 .2M-4.2 13.9l.3 .9l.9 .2l.6 -.7l.9 .2M2.1 4l-.7 .6l-.9 -.3l-.7 .6M36.1 4l-.7 .6l-.9 -.3l-.7 .6M26.1 .7l-.9 -.3l-.2 -.9M13.3 14.4l.9 .3l.2 .9l-.7 .6M14.3 15.9l.4 .8l-.5 .8M9.1 .9l-.9 .1l-.4 .9l.6 .7l.9 -.1M5.6 .2l.8 .5l-0 .9M39.6 .2l.8 .5l-0 .9M19 15.8l.3 .9l.9 .1l.6 -.7l-.3 -.9M9.3 8.8l.3 .9l.9 .2M27.5 0l.7 -.6l-.2 -.9l-.9 -.3l-.2 -.9M20 7.5l-.9 .3l-.7 -.6l-.9 .3l-.2 .9M1.8 2.9l.7 -.6l.9 .3M35.8 2.9l.7 -.6l.9 .3M7.3 .6l.7 -.5l-.1 -.9M15.2 9.2l-.4 .8l-.9 .1M2.3 10l.9 .1l.5 -.8l-.4 -.8M36.3 10l.9 .1l.5 -.8l-.4 -.8M28.7 12.3l.7 .6l-.2 .9M-5.3 12.3l.7 .6l-.2 .9M16.7 2.1l.1 .9l-.8 .5l-.8 -.4l-.8 .5M33.4 10.5l-.3 .9l-.9 .2l-.6 -.7M-.6 10.5l-.3 .9l-.9 .2l-.6 -.7M1.8 5l-.9 -.1l-.4 -.8M35.8 5l-.9 -.1l-.4 -.8M16.1 13.9l-.7 -.6l-.9 .3l-.7 -.6M31.6 8.4l-.4 .9l.6 .7M-2.4 8.4l-.4 .9l.6 .7M4.9 1.3l.6 .7l.9 -.1l.6 .7l-.4 .9M38.9 1.3l.6 .7l.9 -.1l.6 .7l-.4 .9M26.6 15.7l.1 .9l.8 .4l.1 .9l-.8 .5M10.6 7l-.3 .9l.6 .7l-.3 .9l-.9 .2M15.6 6.4l.5 .8l-.4 .8l.5 .8M19.7 10.5l-.9 .3l-.2 .9l.7 .6M10.7 6.9l-.2 .9l.7 .6l.9 -.3M8.4 2.4l.3 .9l.9 .2l.3 .9M12 13.5l.1 .9l-.8 .5l-.8 -.4M32.2 2.6l.9 .1l.6 -.7l-.4 -.9l.6 -.7M-1.8 2.6l.9 .1l.6 -.7l-.4 -.9l.6 -.7M19.7 8.5l-.9 .3l-.7 -.6l-.9 .3M15.1 8.4l.1 .9l.9 .4l.1 .9M26.2 8.5l-.9 0l-.5 -.8l.4 -.8l.9 -0M25.7 14.4l.6 .7l.9 -.2l.6 .7l-.3 .9M18.1 8.7l-0 .9l.8 .5l-0 .9M19.2 1.3l.6 .7l.9 -.2l.6 .7M6 6.2l-.8 .4l-.8 -.5l.1 -.9l.8 -.4M24.6 6.4l.7 -.6l-.1 -.9M9.4 8.4l-.9 -.2l-.2 -.9l-.9 -.2M1.4 .5l-.8 .5l0 .9l.8 .4l0 .9M35.4 .5l-.8 .5l0 .9l.8 .4l0 .9M6 11.7l.6 .7l.9 -.2l.6 .7M32.8 7.7l-.9 .1l-.3 .9l.6 .7M-1.2 7.7l-.9 .1l-.3 .9l.6 .7M18.4 14.3l-.8 .5l0 .9l.8 .5l0 .9M26.3 2.9l-.8 -.5l0 -.9l.8 -.4M31.3 8.4l.9 .4l.1 .9l.9 .4l.7 -.6M-2.7 8.4l.9 .4l.1 .9l.9 .4l.7 -.6M19.7 13l.3 .9l.9 .1l.6 -.7M10.7 4.3l-.9 .1l-.5 -.8l.4 -.8M12.8 12.4l.4 .8l.9 .1l.4 .8M22.1 8.2l-.9 .2l-.3 .9M3.4 9.4l.9 -.3l.2 -.9M37.4 9.4l.9 -.3l.2 -.9M29.4 11.3l-.7 -.6l.1 -.9l-.7 -.6l.1 -.9M-4.6 11.3l-.7 -.6l.1 -.9l-.7 -.6l.1 -.9M28.8 12.8l.9 .4l.1 .9M-5.2 12.8l.9 .4l.1 .9M14.6 10l-.5 .8l-.9 -.1l-.4 -.8M9.2 13.7l-.8 .5l0 .9l-.8 .5l-.8 -.5M22.8 12.1l.5 .8l.9 -.1M19 4.2l-.9 -.1l-.4 -.8M28.3 4.6l-.8 .5l-.8 -.4l-.8 .5M-5.7 4.6l-.8 .5l-.8 -.4l-.8 .5M22 6.1l.4 .8l.9 0l.4 .8l.9 0M7 7.1l.9 -.1l.3 -.9M10.1 2.5l.9 0l.4 .8l.9 0M16 .5l.7 .6l.9 -.4M4.6 1.9l.9 -.2l.6 .7l-.3 .9M38.6 1.9l.9 -.2l.6 .7l-.3 .9M4.5 7.1l.8 -.4l.1 -.9l-.8 -.5l-.8 .4M38.5 7.1l.8 -.4l.1 -.9l-.8 -.5l-.8 .4M23.6 4.3l.9 -.4l.7 .6l-.1 .9l-.9 .4M33.8 7.1l.9 -.1l.4 -.8l.9 -.1M-.2 7.1l.9 -.1l.4 -.8l.9 -.1M27.5 4.9l-.8 -.4l-.8 .5l.1 .9l-.8 .5M27.6 4.5l.9 .1l.5 -.8l.9 .1l.5 -.8M13.8 8.4l.3 .9l-.6 .7l.3 .9M28.5 8.6l.9 -.3l.2 -.9l.9 -.3M-5.5 8.6l.9 -.3l.2 -.9l.9 -.3M13.1 2.1l-.4 .8l-.9 0l-.4 .8M26.6 9.7l.8 -.5l-0 -.9l.8 -.5l-0 -.9M20.2 2l.9 .3l.2 .9l-.7 .6M10.6 9.5l.3 .9l.9 .2l.3 .9M32.7 5.6l-.8 .4l-.1 .9l.8 .5l.8 -.4M-1.3 5.6l-.8 .4l-.1 .9l.8 .5l.8 -.4M11.1 1.3l.5 .8l-.4 .8M32.6 14.4l.2 .9l-.7 .7l.2 .9M-1.4 14.4l.2 .9l-.7 .7l.2 .9M33.3 7.5l.1 .9l.9 .4l.7 -.6M-.7 7.5l.1 .9l.9 .4l.7 -.6M7.2 2.2l.8 -.5l.8 .5M1.1 1.9l.9 -.1l.5 .8l.9 -.1l.4 -.8M35.1 1.9l.9 -.1l.5 .8l.9 -.1l.4 -.8M27.6 .2l-.4 .8l-.9 0l-.5 -.8M19.8 4.3l0 .9l.8 .5M26 10.4l.1 .9l-.8 .5M27.4 3l-.9 -.1l-.4 -.8l-.9 -.1M32.2 7.6l.3 .9l-.6 .7l-.9 -.2l-.3 -.9M-1.8 7.6l.3 .9l-.6 .7l-.9 -.2l-.3 -.9M27.6 11.1l-.4 .9l.6 .7l-.4 .9l.6 .7M23.2 1.2l-.5 .8l.4 .8l.9 .1M8 4.7l-.5 -.8l.4 -.8l.9 -0M10.5 7.9l-.2 .9l-.9 .3M3.2 3.7l.9 .3l.2 .9l.9 .3l.2 .9M37.2 3.7l.9 .3l.2 .9l.9 .3l.2 .9M27.5 10.6l.6 -.7l.9 .2l.3 .9M26.1 4l.8 .4l.1 .9M23.2 13.8l-.8 -.5l-.8 .4l-.8 -.5M16.8 1.5l-.9 0l-.5 -.8l-.9 0M9.7 4l-.9 -.4l-.7 .6M4.3 1.1l-.1 .9l.8 .5M38.3 1.1l-.1 .9l.8 .5M15.6 8.3l.3 .9l.9 .1l.3 .9l.9 .1M18.2 7.2l-.2 .9l-.9 .3l-.2 .9l.7 .6" stroke="#5a5a6a" stroke-width="0.5"/><defs><path id="tw2" d="M8.7 8.9h0M14 8.6h0M18.7 3.9h0M27.3 3.7h0M10.5 14.1h0M28 11.7h0M27.3 4.6h0M19 13h0M20.2 3.1h0M32.1 2.7h0M-1.9 2.7h0M20.6 6.3h0M10.9 1.3h0M12.9 12.9h0M7.7 7.8h0M9.3 9.1h0M22.8 12.6h0M20.1 13.4h0M7.5 14.6h0M10.8 15.4h0M21.1 10.3h0M21.9 4.3h0M32.9 13.4h0M-1.1 13.4h0M10.8 6.9h0M21.1 10.9h0M11.7 13.7h0M2.4 6.2h0M36.4 6.2h0M30.7 14.1h0M-3.3 14.1h0M3.3 14.7h0M37.3 14.7h0M25.4 1.1h0M18.9 1.4h0M32.5 1.8h0M-1.5 1.8h0M33.3 11.7h0M-.7 11.7h0M15.4 13.3h0M21.4 12.9h0M5.6 13.6h0M20.5 1h0M21.3 11.3h0M33.9 2.2h0M-.1 2.2h0M13.8 9h0M3.2 4.9h0M37.2 4.9h0M26.6 9.2h0M21.5 8.6h0M27.1 .6h0M17.5 8.7h0M23.4 8h0M12.3 10.9h0M29.9 6.7h0M9.9 7.1h0M21.7 .2h0M20.1 7.5h0M17.5 11.5h0M27.8 1.2h0M4.5 6.5h0M18.7 3h0M29.6 11.6h0M32.6 3.7h0M-1.4 3.7h0M8.8 10.9h0M19.5 12.2h0M19.6 14.7h0M19.5 8h0M8.2 5.4h0M13.8 .9h0M17.2 8.7h0M3 12.5h0M37 12.5h0M26.1 3.5h0M.4 15.7h0M34.4 15.7h0M5.7 12.3h0M31.4 11.9h0M-2.6 11.9h0M13.1 .9h0M20.4 11.2h0M10.3 10.8h0M23.9 .7h0M.9 13.1h0M34.9 13.1h0M31.3 8.8h0M-2.7 8.8h0M10.8 15.3h0M17.9 4.5h0M29.1 16h0M19 5.9h0M13.8 7.6h0M26.5 .8h0M22.1 .8h0M2.5 6.4h0M36.5 6.4h0M26.7 5.6h0M21.6 4.2h0M.4 9.5h0M34.4 9.5h0M4.1 14.4h0M28.3 3.9h0M27.8 14.4h0M16.1 11.3h0M10.8 1.3h0M19 11.9h0M12.5 3.3h0M13.9 9.6h0M8 8.7h0M11.2 15.4h0M28.2 12.8h0M26.2 9.7h0M10.5 15.3h0M29.3 11.8h0M23.5 2.2h0M14.3 5.2h0M26.9 7.5h0M8.9 2h0M5 9.4h0M2.1 14.9h0M36.1 14.9h0M28.7 10.8h0M21.8 3.3h0M28.8 9.1h0M19.9 5.6h0M15.5 .2h0M29 4.4h0M31.8 5.5h0M-2.2 5.5h0M4.4 3.7h0M13.1 7.8h0M15.7 3.2h0M5.7 4.8h0M8.3 3.2h0M29.1 4.5h0M1 4.1h0M35 4.1h0M1.3 1h0M35.3 1h0M13.8 8.3h0M30.5 2.8h0M-3.5 2.8h0M10.2 11.6h0M27.1 3.9h0M6.3 5.3h0M25.2 8.3h0M33.7 .5h0M-.3 .5h0M33.5 8.6h0M-.5 8.6h0M10 15.4h0"/></defs><use href="#tw2" stroke="#8c8c8c" stroke-width="1.60"/><use href="#tw2" stroke="#f2f2f2" stroke-width="0.80"/><path d="M12.2 2.9h0M2.6 .2h0M36.6 .2h0M19.4 14.8h0M17.5 10.6h0M7.6 .1h0M32.5 11.4h0M-1.5 11.4h0M25.9 7h0M13.7 7.2h0M9.4 3.9h0M10.1 1.3h0M20.4 13.9h0M11.8 1.8h0M12.8 15.5h0M20.7 .8h0M17.5 6.6h0M14.8 7.4h0M19 5.2h0M13.2 9.4h0M7.5 .7h0M11.5 12h0M23.5 9.4h0M3.4 10.4h0M37.4 10.4h0M31.4 9h0M-2.6 9h0M26.3 4.4h0M14.7 2.4h0M2.5 6.2h0M36.5 6.2h0M25.1 4.9h0M25.1 1.1h0M32.2 5h0M-1.8 5h0M28.8 8.8h0M18.9 6.4h0M29.3 3.8h0M22.1 8.8h0M32.7 7.6h0M-1.3 7.6h0M33.8 5.8h0M-.2 5.8h0M33.3 10.9h0M-.7 10.9h0M25.4 12.7h0M5.8 15.7h0" stroke="#e01616" stroke-width="1.30"/><path d="M16 7.9h0M17.1 8.2h0M18.1 8.4h0M19.2 8.4h0M20.2 8.8h0M28.1 4.3h0M29.1 4.2h0M30.2 4.1h0M-3.8 4.1h0M31.2 3.9h0M-2.8 3.9h0M32.2 4.3h0M-1.8 4.3h0M3.4 12.5h0M37.4 12.5h0M4.4 12.5h0M5.5 12.9h0" stroke="#2434c8" stroke-width="1.33"/></g></pattern></defs>
<g transform="translate(27.8 27) scale(1 0.958)"><rect x="5.4" width="113.6" height="24" fill="url(#t0)"/></g>
<g transform="translate(26.1 83) scale(1 1.000)"><rect x="7.1" width="113.6" height="24" fill="url(#t0)"/></g>
<g stroke-linecap="round" fill="none">
<path d="M106.9 25.5l1.8 .2M37.4 27.4l1.3 1.2M58.6 29.1l1.8 .1M130.2 26l-1.2 1.4M128.6 24.3l-1.4 1.1M121.1 25.3l.1 1.8M143.8 27.3l-.1 1.8M124.5 24.5l-1.7 .7M102.5 28.4l1.4 1.2M72.6 28.1l1.2 1.4M113.6 27.5l.1 1.8M36.8 25.4l-1.7 .6M59.1 32.4l-.4 1.7M68.8 53.1l1.8 0M112.8 49.5l.8 1.6M57.2 49l-.9 1.6M67.2 48.1l-1.7 .7M121.5 50.2l-.9 1.5M88.3 49.2l-1.2 1.4M101.2 53.9l.9 1.6M49.3 48l1.8 .2M42.4 52.3l-.6 1.7M137.4 50.8l-1.4 1.1M126.6 53l-1.7 .6M45.7 50.8l-1.8 .2M135.7 49.6l-.8 1.6M67.2 48.2l-1.7 .5M142.4 48.8l1.4 1.1M63.1 49.7l1.3 1.3M106 55.6l1 1.5M70.7 48.4l.9 1.6M66.7 50.6l-0 1.8M53.5 50.9l1.7 .6M91.6 44.3l-1.7 .6M82.5 84.7l1.8 .4M94.6 84.3l1.2 1.3M97.9 84.7l1.2 1.3M115.8 83.2l.5 1.7M132.7 81.8l-1.1 1.5M134.3 85.5l1.4 1.1M97.8 82.4l-1 1.5M104.3 82.5l-1.4 1.2M82.5 80.6l1.7 .7M47.4 82.7l-1.3 1.3M101.8 85l1.1 1.4M77 83.2l-1.5 1M106.5 85.1l1.8 0M79.8 82.8l-.7 1.7M93.5 101.1l.6 1.7M117.3 105.3l-0 1.8M92.6 105.4l-.8 1.6M113.8 108.8l-.6 1.7M101.9 106.8l-1.1 1.4M74.5 109.4l-1.1 1.4M45.4 107.9l-.5 1.7M141.8 107.5l-1.6 .9M76.4 106.2l-1.5 1M85.8 105.8l-.5 1.7M135.7 106.3l-1.4 1.1M40.6 106.8l.2 1.8M39 106.7l1.7 .5" stroke="#6a6a6a" stroke-width="0.80"/>
<defs><path id="w1" d="M128.8 27.1h0M106.9 25.5h0M134.8 27.4h0M37.4 27.4h0M58.6 29.1h0M113.6 28.9h0M68.1 26.2h0M112.7 26.1h0M121.1 25.3h0M37.5 30h0M143.8 27.3h0M140.5 24.5h0M125.8 25.5h0M124.5 24.5h0M88.3 25.9h0M102.5 28.4h0M54 23.6h0M72.6 28.1h0M113.6 27.5h0M52.1 27h0M95 28h0M59.1 32.4h0M68.8 53.1h0M141.6 48.9h0M112.8 49.5h0M67.2 48.1h0M127.7 51.7h0M88.3 49.2h0M101.2 53.9h0M66.7 51.8h0M49.3 48h0M42.4 52.3h0M121.5 47.4h0M59.2 51.4h0M137.4 50.8h0M45.7 50.8h0M135.7 49.6h0M142.4 48.8h0M103.1 52.5h0M63.1 49.7h0M43.3 48.9h0M106 55.6h0M70.7 48.4h0M94.9 53.5h0M66.7 50.6h0M53.5 50.9h0M91.6 44.3h0M82.5 84.7h0M141.7 85.7h0M94.6 84.3h0M36.9 81.2h0M126.7 83.7h0M102.5 83h0M106.6 83.2h0M115.8 83.2h0M96.7 85.3h0M132.7 81.8h0M116.4 85.8h0M97.8 82.4h0M38.7 85h0M104.3 82.5h0M128.2 87.4h0M83.9 87.7h0M135.6 84h0M101.8 85h0M122.5 85.6h0M95.1 79.1h0M47.4 83h0M98.1 82.1h0M34.3 85.2h0M68.2 80.2h0M106.5 85.1h0M65.2 79.6h0M144.4 80.6h0M93.5 101.1h0M81.7 103.7h0M134.4 109.2h0M117.4 105.2h0M104.4 104.8h0M121.5 108.9h0M131.7 105.9h0M117.3 105.3h0M139.8 107.9h0M92.6 105.4h0M113.8 108.8h0M60.1 105.9h0M113.1 107.3h0M69.5 106.6h0M83.7 109.6h0M74.5 109.4h0M114.4 106.7h0M133.4 107.1h0M141.8 107.5h0M47.4 106.7h0M85.8 105.8h0M135.7 106.3h0M129.9 106.2h0M78.8 108.8h0M40.6 106.8h0M37.3 104.9h0M108.2 104.5h0"/></defs>
<use href="#w1" stroke="#999" stroke-width="2.50"/>
<use href="#w1" stroke="#f6f6f6" stroke-width="1.70"/>
<path d="M127.5 23.9h0M114.7 28.4h0M76.7 27.1h0M127.7 24.3h0M130.2 26h0M128.6 24.3h0M80.4 26.9h0M78.1 27.8h0M64.3 22.2h0M97.8 26.7h0M125.3 25h0M109.3 27.3h0M62.1 27.2h0M36.8 25.4h0M91.1 28.4h0M125.4 27.4h0M70.1 26.5h0M131.9 49.5h0M132.3 48.8h0M57.2 49h0M134.6 51.3h0M121.5 50.2h0M43.7 52.1h0M126.6 53h0M38.7 50.2h0M81.2 50.9h0M38.6 51.5h0M67.2 48.2h0M61.6 51.5h0M42.1 50.2h0M122.9 47.7h0M97.9 84.7h0M64.9 82.6h0M132.1 82.5h0M134.3 85.5h0M114.2 81.6h0M82.5 80.6h0M47.4 82.7h0M34.6 83.8h0M94.7 82.6h0M77 83.2h0M142.8 80.5h0M79.8 82.8h0M73.2 104.2h0M86.3 106.7h0M111.1 105.9h0M64.2 106.2h0M71 106.5h0M121.9 108h0M101.9 106.8h0M45.4 107.9h0M76.4 106.2h0M51.2 107.3h0M127.9 107.4h0M39 106.7h0" stroke="#e01616" stroke-width="2.90"/>
<path d="M41.2 22.8h0M56.6 27h0M108.1 25.7h0M114.6 26h0M143 21.2h0M129.4 26.8h0M44.5 26.5h0M75.6 27.9h0M93.5 23.5h0M78.3 25.7h0M37.1 24.2h0M123.4 20.7h0M77.1 25.9h0M48.9 26.4h0M129.6 22.4h0M61.7 24.5h0M72.1 26.3h0M99.4 20.8h0M84.3 27.9h0M127.2 25.6h0M134.1 26.7h0M51.9 23h0M45.2 22.8h0M39.2 26.5h0M69.3 22.4h0M70.6 26h0M92.9 21.2h0M70.6 22.6h0M143.3 23.8h0M137.6 82h0M137.3 80.4h0M49.4 67.3h0M144.8 75.9h0M117.4 61.9h0M106 63.3h0M143.3 67.6h0M50.9 72.7h0M135.2 56.1h0M115.3 51.7h0M95.1 58.8h0M63.5 70.9h0M43.1 52.4h0M105.9 55.7h0M36.8 62.1h0M113.4 59.4h0M100.9 78.6h0M81.7 72.3h0M139.5 76.3h0M124.9 82.9h0M56.8 74.6h0M91.6 66.1h0M132.6 76.3h0M38.9 78.1h0M55.5 59.9h0M35 54h0M133.1 74.6h0M94.8 68.9h0M92.8 67.9h0M140.4 63.5h0M68.6 60h0M99.6 68.1h0M52.5 71h0M116.3 68.7h0M79.1 80.9h0M108.9 79.7h0M128.5 62.7h0M122.9 62.3h0M87.9 61.1h0M47.4 61.7h0M36.4 55.7h0M129.8 69.5h0M145.3 58.5h0M116.6 72.8h0M120.8 66h0M89 82.1h0M44.6 54.3h0M59.9 50.9h0M87.8 81.4h0M114.9 77.5h0M102.4 82.9h0M93.8 61.4h0M142.2 53.4h0M81.1 72.2h0M63.9 59.2h0M122.6 78.3h0M109.7 52.9h0M108.8 59.7h0M135 53.8h0M46.2 62.8h0M56.8 67.2h0M133.1 82.7h0M89.2 79.5h0M58.3 75.1h0M88.4 50.3h0M107.5 80.6h0M64.1 67.8h0M118.9 77.8h0M64.9 73.3h0M48.9 56.4h0M101 81.7h0M102.1 54.9h0M65.5 72.9h0M58.2 62.1h0M72 70h0M132.2 72.9h0M40.9 60.8h0M106.1 76.8h0M69.5 66.3h0M48.6 54.6h0M44.2 67.8h0M97 72.6h0M56.6 68.7h0M81.4 50.1h0M68.3 70.3h0M59.4 72.5h0M72.3 69.8h0M37 60.9h0M62.3 75.4h0M39 52.6h0M45.9 60.5h0M39.9 51h0M78.8 80.8h0M61.3 72.4h0M91.7 60.6h0M73.6 76.5h0M128.2 70h0M79.5 72.4h0M93.1 68.6h0M78.2 79.6h0M95.5 51.8h0M53.9 57.1h0M95.1 58.3h0M93.4 65.6h0M45.9 62.3h0M94.9 68h0M114.8 72.6h0M68.7 72.5h0M136 54.7h0M58.4 77.8h0M71.7 79.3h0M128.8 62.6h0M47.5 69.8h0M108.6 76.4h0M35.3 81.4h0M105.9 62.5h0M132.6 65.2h0M101 63.9h0M79.8 70h0M86.7 51.2h0M34.5 51.4h0M49.9 66.8h0M64.5 82.5h0M107.2 76.5h0M61.7 76.7h0M96.9 61.8h0M120.8 80.2h0M132.2 61.4h0M145.1 75.5h0M82.8 62.4h0M125.2 64.6h0M105 67.1h0M109.2 79.4h0M105.9 66.1h0M113.4 82.2h0M134.2 62.6h0M53.8 73.6h0M71.7 82h0M121.6 65.2h0M89.2 75.5h0M55.9 64.5h0M97.9 80.6h0M51.1 62.4h0M37.3 52.5h0M119.6 72h0M66.5 55.1h0M126.3 81.2h0M78.5 70.9h0M135.9 67.7h0M35 110.8h0M135.3 110h0M61 110.7h0M141.2 107.1h0M91.5 108.6h0M138.5 110.3h0M111.2 109.9h0M62 110.7h0M106 108.3h0M105.7 108.9h0M61 106.1h0M69.1 107.7h0M100.6 111.9h0M69.8 109.2h0M90.2 108.5h0M78.4 108.3h0M125.2 108.2h0M97.4 111.1h0" stroke="#e01616" stroke-width="3.20"/>
<defs><path id="ww1" d="M39 24.2h0M54.3 28.2h0M56 24.6h0M107.9 23.2h0M110.5 26.2h0M114.6 28.6h0M112.1 25.4h0M143.6 23.7h0M131.8 27.6h0M128 28.9h0M42 27h0M44.7 24h0M78 28.5h0M74.3 30.1h0M95.3 25.4h0M91.3 24.8h0M80.2 23.9h0M79.5 27.9h0M39.3 25.6h0M35.3 25.9h0M125.9 21.2h0M122.3 23h0M76.1 28.2h0M75.1 24.3h0M49.7 24h0M50.9 27.8h0M127.3 23.6h0M60.5 26.7h0M59.8 22.7h0M74.5 25.6h0M72.1 28.8h0M83.8 25.4h0M86.8 28h0M124.7 25h0M128.4 23.3h0M133.5 29.1h0M131.9 25.4h0M49.3 22.6h0M52.8 20.6h0M43 21.6h0M46.9 20.8h0M37.8 24.5h0M41.6 25.6h0M67.7 24.4h0M67.7 20.4h0M68 26h0M71.2 23.5h0M93.6 23.6h0M72.9 23.7h0M69 24.6h0M145.5 22.5h0M144.1 26.3h0M138.6 79.7h0M139.6 83.6h0M138.1 78h0M139.4 81.8h0M47.1 66.1h0M51.1 65.4h0M144 73.4h0M119.8 61h0M117.7 64.5h0M103.5 63.8h0M106 60.7h0M144.6 69.8h0M140.9 68.2h0M48.5 71.7h0M52.4 70.6h0M133.1 57.4h0M134.5 53.7h0M117.4 53.1h0M113.4 53.3h0M97.1 60.4h0M93.1 60.3h0M61 70.4h0M64.5 68.5h0M44.6 50.3h0M44.7 54.4h0M107.6 53.8h0M107.4 57.8h0M38.3 60.1h0M38.5 64.1h0M115.4 57.8h0M114.5 61.7h0M102.9 77h0M102 80.9h0M79.3 71.6h0M83 70.1h0M139.1 73.8h0M142 76.6h0M124.8 85.5h0M122.5 82.2h0M57.1 72.1h0M59.2 75.6h0M89.5 67.5h0M90.7 63.7h0M130.4 75h0M134.3 74.5h0M36.4 78.7h0M38.8 75.5h0M54.6 57.5h0M58 59.6h0M34.2 56.4h0M135.6 74.2h0M132.9 77.2h0M92.4 68.1h0M96.2 66.7h0M93.9 65.6h0M94.8 69.5h0M138.7 61.6h0M142.6 62.2h0M66.1 59.9h0M69.3 57.5h0M102.1 67.8h0M99.3 70.7h0M55.1 70.9h0M52 73.5h0M114.5 70.5h0M114.9 66.5h0M81.1 79.3h0M80.1 83.2h0M111.1 78.5h0M109.4 82.1h0M126 63.2h0M128.6 60.1h0M122.9 59.8h0M125.4 62.9h0M85.5 61.8h0M87.9 58.6h0M45.2 63h0M46.6 59.3h0M36.3 58.2h0M129.2 71.9h0M127.5 68.3h0M142.8 58.3h0M114.3 73.8h0M116.2 70.3h0M120.3 63.5h0M123.3 66.1h0M88.5 79.6h0M91.6 82.2h0M47.1 53.7h0M44.5 56.8h0M59.8 53.4h0M57.4 50.2h0M85.7 82.9h0M86.8 79.1h0M117 78.9h0M113 79.3h0M100 82.1h0M103.8 80.7h0M96.2 60.6h0M94.1 64h0M139.8 52.6h0M143.6 51.3h0M82.9 73.9h0M78.9 73.6h0M61.4 59.5h0M64.2 56.7h0M123.2 75.8h0M124.9 79.5h0M107.7 54.5h0M108.6 50.6h0M106.2 59.6h0M109.5 57.3h0M136.6 51.8h0M136.6 55.8h0M48.3 61.3h0M47 65.1h0M54.6 68.5h0M56.1 64.7h0M132.5 85.2h0M130.9 81.5h0M86.7 78.8h0M90.5 77.3h0M56.9 77.2h0M56.5 73.2h0M91 50.1h0M88 52.8h0M110 80.1h0M107.4 83.1h0M61.8 68.8h0M63.8 65.3h0M119.2 80.3h0M116.4 77.5h0M62.8 74.6h0M64.2 70.9h0M46.5 55.5h0M50.4 54.4h0M98.5 81.2h0M102.1 79.4h0M99.9 56.2h0M101.4 52.5h0M65.2 75.5h0M63.1 72.1h0M55.7 62.6h0M58.4 59.6h0M73.1 72.3h0M69.5 70.5h0M129.8 72.4h0M133.4 70.6h0M39.9 58.4h0M43.4 60.4h0M108.1 75.2h0M107.2 79.1h0M68.2 68.5h0M67.6 64.6h0M48.5 57.2h0M46.2 53.9h0M43.4 65.3h0M46.7 67.7h0M97.4 75.1h0M94.5 72.3h0M58.5 67h0M57.7 71h0M83.9 50.5h0M80.4 52.5h0M70.5 71.6h0M66.6 72.1h0M61.9 72.2h0M59 75h0M69.8 69.5h0M73.2 67.5h0M38.6 62.8h0M34.7 62h0M61.2 73.1h0M64.8 74.9h0M38.6 50h0M41.5 52.8h0M45.6 63h0M43.5 59.5h0M41.6 53h0M37.6 52.1h0M77.2 78.9h0M81.1 79.7h0M60.9 74.9h0M59 71.4h0M94.1 59.8h0M91.9 63.2h0M72 74.5h0M75.9 75.4h0M129.9 68.2h0M129.5 72.2h0M77.6 70.7h0M81.6 71h0M90.6 68.1h0M94.2 66.4h0M76.5 77.8h0M80.4 78.5h0M92.9 51.6h0M96.2 49.4h0M51.5 58.1h0M53.5 54.6h0M94.8 60.8h0M92.7 57.3h0M91.3 67.1h0M92.5 63.2h0M44.5 60.2h0M48.3 61.4h0M96.3 65.9h0M96.6 69.9h0M117.3 73.1h0M113.7 74.9h0M70.1 74.6h0M66.3 73.4h0M137.8 52.9h0M137.2 56.9h0M59.9 75.7h0M60.1 79.7h0M73.1 81.5h0M69.3 80.1h0M126.5 63.5h0M128.5 60.1h0M47.2 72.4h0M45.1 68.9h0M106.5 74.8h0M110.6 74.8h0M37.5 80.2h0M36 83.9h0M103.5 61.6h0M107.4 60.5h0M133 62.7h0M134.9 66.2h0M103.3 62.9h0M101.4 66.4h0M82.2 70.8h0M78.4 72.1h0M86 48.8h0M89.3 51.1h0M36.4 53h0M48.3 68.8h0M48.4 64.7h0M66.7 81.1h0M65.3 84.9h0M108.3 74.2h0M109.2 78.1h0M61.8 79.2h0M59.2 76.2h0M98.3 63.9h0M94.5 62.6h0M119.8 82.6h0M118.8 78.7h0M130.8 59.3h0M134.6 60.6h0M143.7 77.6h0M82.1 64.9h0M80.6 61.1h0M124.4 62.1h0M127.7 64.4h0M107.4 68h0M103.6 69.2h0M110.4 81.7h0M106.8 80h0M104.5 68.2h0M104.1 64.2h0M115.9 82.5h0M112.4 84.5h0M135.5 60.4h0M136 64.4h0M55.9 75.1h0M51.9 75.3h0M70.3 79.9h0M74.1 81.2h0M119.1 65.7h0M121.8 62.7h0M88.8 73h0M91.7 75.7h0M53.5 63.9h0M57.2 62.3h0M99.3 78.4h0M99.7 82.4h0M53 64h0M49 63.9h0M38.4 54.8h0M34.8 52.9h0M120.3 69.6h0M121.8 73.3h0M69 54.7h0M66.3 57.7h0M128.8 81.5h0M125.3 83.6h0M78.3 68.4h0M81 71.3h0M133.9 69.4h0M134.8 65.4h0M37.5 110.5h0M133.9 112.1h0M133.6 108.1h0M63.3 109.6h0M139 105.8h0M143 105.3h0M92.2 106.1h0M93.7 109.8h0M137.7 107.9h0M141 110.2h0M108.7 109.3h0M112.4 107.7h0M59.8 112.1h0M103.6 107.4h0M107.5 106.3h0M108.2 108.5h0M105.4 111.4h0M63.4 105.4h0M61.1 108.6h0M66.9 109h0M68.4 105.2h0M99.9 109.5h0M103.1 111.9h0M67.4 110h0M69.6 106.7h0M91.4 110.7h0M87.7 109.2h0M79.2 110.8h0M75.8 108.5h0M126.7 110.2h0M122.9 109.1h0M97.9 108.6h0M99.7 112.2h0"/></defs>
<use href="#ww1" stroke="#a0a0a0" stroke-width="2.60"/>
<use href="#ww1" stroke="#f6f6f6" stroke-width="1.90"/>
<path d="" stroke="#2434c8" stroke-width="2.30"/>
<path d="M50 47.1h0M37.7 34.6h0M135 44.9h0M135.4 45.7h0M117.5 42.5h0M142.4 98.1h0M61.3 85.3h0M138.6 97h0M73.2 97.3h0M96.7 95.5h0" stroke="#e6d21e" stroke-width="2.60"/>
</g>
<line x1="33.2" y1="32.5" x2="146.8" y2="32.5" stroke="#444" stroke-width="0.8" opacity="0.8"/>
<line x1="33.2" y1="19.4" x2="146.8" y2="19.4" stroke="#8a8a8a" stroke-width="1"/>
<line x1="33.2" y1="113.3" x2="146.8" y2="113.3" stroke="#8a8a8a" stroke-width="1"/>
<g transform="translate(172.2 27) scale(1 1.000)"><rect x="38.2" width="113.6" height="24" fill="url(#t0)"/></g>
<g transform="translate(183.4 84) scale(1 1.000)"><rect x="27" width="113.6" height="24" fill="url(#t0)"/></g>
<g stroke-linecap="round" fill="none">
<path d="M279.1 26l-1.2 1.4M270.1 25.6l1.6 .7M296.5 24.8l-1.8 .1M229.9 27.1l-1.7 .5M284.1 26.2l1.4 1.1M292.4 25.9l-1.3 1.3M215 31l-.9 1.5M220.7 27.4l1.2 1.3M302.2 26.9l-1 1.5M254.4 32.8l.8 1.6M280.1 28.6l.9 1.6M264.2 27.5l.3 1.8M255.3 25.9l-.6 1.7M227.1 27.5l-.7 1.6M240 24.8l.5 1.7M223.8 52.1l1.7 .6M246 52.4l-1.7 .5M314.2 53l-1.8 .1M252.9 54l-1.6 .9M257.2 49.6l1.1 1.4M253 51.1l-1.3 1.3M255.5 50.1l1.7 .5M306.3 47.8l-.9 1.6M313.9 47.8l-1.8 0M227.7 49.1l1.7 .5M311.3 53.9l1.3 1.2M283.9 51.2l-1.8 .3M292.8 47.6l-1.5 1M248.8 83.7l-1.3 1.3M256.5 82.4l1.6 .9M254 80.9l1.8 .1M273.6 85.9l.3 1.8M223.9 84.8l1.7 .4M315.1 81.2l1.3 1.2M232.2 85l.8 1.6M260.1 82.6l1.1 1.4M282.6 83.6l-1.8 .4M239.3 85.1l1.3 1.2M279.5 83l1.6 .8M270 83.7l-1.8 0M225.7 86.8l1 1.5M300.4 106.8l.8 1.6M303.1 105l0 1.8M226.1 107.6l1.4 1.1M234.9 108.8l.4 1.8M214.8 111.1l1.5 1M303.3 109.4l1.7 .6M282.4 105.7l-1.8 .2M320.5 109.8l-1.5 .9M275.4 110.1l-.6 1.7M287.5 110.7l-1.6 .9M244.8 112l1 1.5M240 108.3l.3 1.8M258.2 108.2l1.6 .8M279.1 107.7l-.5 1.7M289.8 111l1.4 1.1" stroke="#6a6a6a" stroke-width="0.80"/>
<defs><path id="w2" d="M317.2 27.8h0M279.1 26h0M322.4 26.4h0M246.9 27.5h0M268.3 26.5h0M231.7 29.8h0M296.5 24.8h0M318.7 28.8h0M270.6 29.8h0M267.3 27.9h0M262.8 25.4h0M229.9 27.1h0M245.9 30h0M284.1 26.2h0M292.4 25.9h0M223.3 25.7h0M238.7 28h0M215 31h0M220.7 27.4h0M280.1 28.6h0M214.8 23.8h0M295.7 28.1h0M255.3 25.9h0M268.1 27.2h0M281.1 29.2h0M223.8 52.1h0M231.7 51.2h0M246 52.4h0M318.9 50.7h0M217.1 48.9h0M231.6 54h0M314.2 53h0M257.2 49.6h0M253 51.1h0M232.9 49.2h0M306.3 47.8h0M298.1 47.1h0M264.7 52h0M240.3 49.6h0M227.7 49.1h0M286.3 50.8h0M269.9 52.9h0M222.1 52.6h0M240.1 52.8h0M322.5 49.6h0M227.6 50.5h0M231.5 51.2h0M256.6 49.8h0M256.3 47.1h0M282.2 53.2h0M283.9 51.2h0M292.8 47.6h0M230.8 86.4h0M256.5 82.4h0M254 80.9h0M273.6 85.9h0M245.3 82.9h0M255 86.4h0M223.9 84.8h0M244 87.6h0M232.6 83.2h0M237.4 82.3h0M256.1 84.8h0M267.5 82.4h0M294.3 84h0M250.9 85.5h0M313.8 83.7h0M260.1 82.6h0M279.5 83h0M306.4 85.7h0M279.5 83.4h0M278.1 84.5h0M321.3 87.8h0M225.7 86.8h0M303.1 105h0M217.3 108.4h0M312.3 109.9h0M313.7 108.5h0M234.9 108.8h0M259.1 105.1h0M321.5 108.4h0M214.8 111.1h0M276.1 106.3h0M282.4 105.7h0M274.9 106.2h0M255.2 107.3h0M233.8 108.4h0M307.4 108.5h0M240 108.3h0M258.2 108.2h0M279.1 107.7h0M313.4 106.6h0M314.7 108.9h0M289.8 111h0"/></defs>
<use href="#w2" stroke="#999" stroke-width="2.50"/>
<use href="#w2" stroke="#f6f6f6" stroke-width="1.70"/>
<path d="M286.1 27.3h0M261 26.9h0M270.1 25.6h0M292.2 25.6h0M268.5 29.6h0M218 26.1h0M302.2 26.9h0M254.4 32.8h0M264.2 27.5h0M309 29.9h0M258.2 26.9h0M227.1 27.5h0M322.4 27.2h0M240 24.8h0M252.9 54h0M286.5 51.4h0M255.5 50.1h0M251.3 47.5h0M315.4 51.9h0M313.9 47.8h0M311.3 53.9h0M318.8 46.4h0M284.9 51.3h0M297 48.3h0M276.8 52.3h0M259.9 54.4h0M248.8 83.7h0M308.5 83.6h0M265.4 79.7h0M284.3 81h0M300.4 82.8h0M237.3 82.8h0M262.4 82.2h0M315.1 81.2h0M320.7 80h0M286.2 82.7h0M232.2 85h0M282.6 83.6h0M222 84.8h0M239.3 85.1h0M226.2 80.2h0M255.2 81.3h0M270 83.7h0M300.4 106.8h0M230.7 109.8h0M283.9 110.4h0M238.4 105.5h0M218.1 108.3h0M226.1 107.6h0M264.2 110.1h0M264.4 105.8h0M303.3 109.4h0M320.5 109.8h0M289.6 106.7h0M285 109.1h0M241.8 109.2h0M262.1 105h0M239.8 108.8h0M275.4 110.1h0M287.5 110.7h0M244.8 112h0M228.3 106.2h0" stroke="#e01616" stroke-width="2.90"/>
<path d="M235.5 21.8h0M302.5 20.7h0M256.2 24.1h0M268.3 24.2h0M276.2 25.6h0M226 21.1h0M271.4 24.9h0M316.4 20.8h0M221.2 25.4h0M227.2 22.5h0M264.2 27.6h0M249.4 27.4h0M223.5 26.3h0M317 25.1h0M311.2 24.1h0M214.4 22.7h0M212.5 25.4h0M291.1 26.9h0M271.7 24.9h0M258.2 26.3h0M216.6 24.7h0M303.6 25.4h0M299.2 27.2h0M312.7 20.9h0M219.1 21.9h0M212.3 23.2h0M242.8 72.5h0M269.1 68.4h0M313.3 55.2h0M262.7 63.3h0M275.2 68h0M260.2 82.4h0M283.6 56.4h0M225.8 62.6h0M290 83.3h0M275 59.3h0M263.2 65h0M236 75.8h0M302.9 71.5h0M245.2 78.7h0M272.5 69.8h0M239.1 74.5h0M305.8 66.2h0M273.4 68.6h0M317.5 75.9h0M267.8 80.6h0M284.2 82.6h0M278.1 71.6h0M318.7 82.9h0M280.1 76.3h0M251.9 77.3h0M227.9 72.9h0M257 67.5h0M301.5 64.4h0M275 64.4h0M298.7 80.6h0M285.8 64.2h0M262.2 54.8h0M251.9 71h0M231.5 78.5h0M220.5 70.8h0M313.8 65.7h0M213.7 52h0M291 52.7h0M264.8 80.6h0M308.9 72.1h0M236.4 71.2h0M245.3 78.4h0M292.4 66.4h0M267.6 69.9h0M305.6 83.4h0M238.5 77.8h0M236.6 70.3h0M307.5 70.4h0M229.6 64.4h0M251.8 56.9h0M289.5 81.5h0M280 77.1h0M234.9 74.2h0M220.9 76.7h0M232.2 64h0M212.8 80h0M275.1 66.6h0M318.2 56.8h0M309.3 66h0M218.6 55.9h0M219.9 77.7h0M300.4 60.5h0M310.6 57.9h0M225.6 70.4h0M233.6 52.3h0M298.7 56.1h0M280.4 72h0M283.3 79h0M314.1 52h0M223.1 76.6h0M314.1 83.2h0M279.9 62.6h0M293.1 57.5h0M213.9 51.6h0M291.6 79.4h0M226.8 75.4h0M286.9 66.9h0M218.7 71.6h0M224.4 78.1h0M250.8 78.9h0M245 69.7h0M271.2 53.9h0M275.2 76.7h0M248.8 54h0M260.2 64.6h0M304.3 62h0M284.2 62.4h0M317.9 72.7h0M287.7 63.5h0M296.7 58.4h0M271.7 80.9h0M304.3 74.8h0M285.2 71.5h0M271.3 61.4h0M238 66h0M223.5 58.7h0M255.4 69.6h0M240.4 69.3h0M236.8 55.6h0M315.3 78.4h0M228.4 54.4h0M259 51.2h0M288.2 78.5h0M211.8 77.2h0M246.5 56.1h0M241.2 59.5h0M269.1 77.8h0M257.9 67h0M296.8 83.5h0M301.2 60.7h0M270.2 70h0M219.6 51.3h0M310.2 66.2h0M304.8 67.6h0M282.7 56.2h0M302.2 75.2h0M259.8 83.1h0M268 80.4h0M219.4 77.9h0M268.9 75.3h0M236.1 77h0M274.1 80.6h0M245.2 83.9h0M299.6 80.6h0M275.4 78.2h0M240 60.2h0M214.4 71.5h0M312.8 52.7h0M233.3 61.7h0M318.1 72.3h0M232.1 52.6h0M319.9 65.7h0M309.5 52.6h0M258.1 58.5h0M287.4 55.4h0M244.6 72.7h0M299.4 64.8h0M319.2 70.2h0M252.3 83.2h0M296 66.7h0M312.5 71.2h0M223.1 51.2h0M291.7 79h0M310.2 52h0M240 51.6h0M315 80.7h0M285.5 73.1h0M257.4 58.8h0M312.1 74.6h0M215.3 108.4h0M238.6 108.1h0M287.2 107.9h0M211.7 111.8h0M283.4 108.4h0M309.1 108h0M299.2 108.2h0M266.3 107.9h0M243.1 107.4h0M274.5 110.3h0M297.8 111.8h0M216.3 108.6h0M264.4 110.3h0M251 111.8h0M322.4 109.1h0" stroke="#e01616" stroke-width="3.20"/>
<defs><path id="ww2" d="M233 21.3h0M302.7 23.3h0M258.3 25.6h0M254.3 25.7h0M268.9 21.7h0M270.6 25.3h0M275.9 23.1h0M278.7 26h0M224.9 23.4h0M269.8 22.9h0M273.7 23.9h0M218.9 26.3h0M220.9 22.8h0M229.6 21.7h0M262.7 29.6h0M262.7 25.5h0M247.4 25.8h0M251.4 25.8h0M221.8 28.2h0M222 24.2h0M317.8 22.7h0M319.1 26.5h0M313.7 23.6h0M311.1 26.6h0M216.2 24.6h0M215.1 25.4h0M211.9 27.8h0M293.4 28.1h0M289.4 28.8h0M269.3 25.9h0M271.3 22.4h0M259.6 28.5h0M255.8 27.1h0M219.1 24.2h0M216.5 27.3h0M302.9 27.8h0M301.4 24.1h0M312.2 22.9h0M297.1 28.6h0M298.3 24.8h0M220.1 24.2h0M216.6 22.2h0M212.9 20.8h0M245.3 73.3h0M241.5 74.6h0M267.1 69.9h0M268.2 66h0M311 56.3h0M312.8 52.7h0M265.2 62.9h0M262.5 65.8h0M272.8 69h0M274.9 65.5h0M261 80h0M262.4 83.7h0M281.5 54.9h0M285.5 54.7h0M228.3 62.9h0M224.8 64.9h0M288.4 81.3h0M292.3 82.1h0M272.6 60.2h0M274.7 56.7h0M262.9 67.5h0M260.9 64h0M238.4 75h0M236.1 78.3h0M305.4 72h0M301.9 73.8h0M247.7 78.3h0M245 81.3h0M271.5 67.4h0M275 69.4h0M237.4 76.4h0M237.6 72.4h0M304.5 64.1h0M308.2 65.5h0M271 69.3h0M273.4 66.1h0M315.3 77.1h0M316.8 73.4h0M267.8 78.1h0M270.3 81.2h0M286.1 84.4h0M282.1 84h0M275.7 72.3h0M278 69.1h0M316.7 84.5h0M317.6 80.6h0M279.3 73.9h0M282.7 76h0M250.5 79.4h0M250.3 75.4h0M226.4 70.9h0M230.3 72h0M259.6 67.3h0M256.6 70h0M303.6 63.1h0M302.2 66.9h0M273.5 62.3h0M277.4 63.4h0M297.5 78.3h0M301.2 79.9h0M288.3 64.9h0M284.6 66.5h0M264.5 53.9h0M262.5 57.3h0M251.6 68.4h0M254.4 71.3h0M230.3 80.8h0M229.6 76.8h0M218.5 72.3h0M219.6 68.4h0M315.9 67.1h0M311.9 67.4h0M214.2 49.5h0M289.8 54.9h0M289.2 51h0M267.3 80.2h0M264.6 83.2h0M306.6 70.9h0M310.6 70.2h0M237.7 73.4h0M233.9 71.9h0M243 77.3h0M246.9 76.4h0M291.9 68.9h0M290 65.3h0M267.7 72.5h0M265.1 69.4h0M306.7 85.7h0M303.1 83.8h0M238.1 75.3h0M241.1 78h0M236.8 72.9h0M234.1 69.9h0M305 70.2h0M308.3 68h0M227.1 64.8h0M229.8 61.9h0M252.6 59.3h0M249.3 57.1h0M290.9 79.4h0M291.2 83.4h0M281.7 79h0M277.8 78.3h0M237.5 74.2h0M234.3 76.7h0M221.8 79.1h0M218.4 76.9h0M233.5 61.9h0M233.9 65.9h0M211.9 82.4h0M276.9 68.4h0M272.9 67.9h0M319 54.4h0M320.3 58.2h0M311.8 65.3h0M309.3 68.5h0M216.1 56.1h0M219 53.4h0M217.4 77.2h0M220.9 75.3h0M302.9 60.9h0M299.4 62.8h0M308.4 59.1h0M309.9 55.4h0M223.1 70.9h0M225.6 67.8h0M232.3 54.5h0M231.9 50.5h0M299.1 58.6h0M296.2 55.8h0M281.2 69.6h0M282.5 73.4h0M284.8 81.2h0M280.9 79.9h0M316 53.7h0M312 53.3h0M220.6 76.5h0M223.8 74.1h0M316.5 82.4h0M314.2 85.7h0M282.3 61.9h0M279.9 65.1h0M290.7 56.6h0M294.5 55.3h0M212.2 49.6h0M216.2 50.5h0M291.6 76.9h0M294 80.1h0M229.3 75.1h0M226.5 77.9h0M286.2 69.3h0M284.7 65.6h0M221.2 71h0M218.7 74.2h0M226.4 76.6h0M225.3 80.4h0M252.2 81h0M248.4 79.8h0M246.9 67.9h0M246.3 71.9h0M273.5 52.9h0M271.7 56.4h0M275.5 79.2h0M272.6 76.4h0M249.8 56.3h0M246.3 54.4h0M258.8 62.4h0M262.6 63.7h0M306.6 60.9h0M304.8 64.5h0M285.2 64.7h0M281.7 62.8h0M320.4 73.4h0M316.6 74.9h0M285.5 64.7h0M287.1 61h0M296.4 60.9h0M294.4 57.5h0M273.9 82.2h0M269.9 82.6h0M305.5 77.1h0M301.9 75.3h0M284.5 69h0M287.7 71.5h0M268.8 61.3h0M272 58.9h0M235.9 67.4h0M237.2 63.6h0M222 60.8h0M221.8 56.8h0M255.3 67h0M257.9 70.2h0M239.1 71.5h0M238.6 67.5h0M239.3 55h0M236.8 58.2h0M316.5 80.7h0M312.8 79h0M227.6 56.9h0M226.2 53.1h0M256.8 52.4h0M258.4 48.8h0M289.2 80.9h0M285.7 78.8h0M246.2 58.6h0M244.1 55.2h0M241.5 62h0M238.7 59.1h0M268.2 80.2h0M267.1 76.4h0M259.3 64.8h0M259.6 68.8h0M298 85.8h0M294.4 84.1h0M298.9 59.5h0M302.9 58.8h0M269.1 72.3h0M268.3 68.3h0M221.9 50.1h0M220.1 53.8h0M312.3 67.5h0M308.3 67.9h0M302.3 68h0M305 65h0M283.2 58.7h0M280.1 56.1h0M304.7 75h0M301.8 77.8h0M261.7 81.4h0M260.9 85.4h0M269.4 82.6h0M265.6 81.2h0M221 79.8h0M217.1 78.9h0M267.8 73h0M271.4 74.8h0M238.5 77.6h0M234.8 79.2h0M271.7 79.9h0M275.4 78.4h0M244.9 81.4h0M247.8 84.2h0M302 79.6h0M300 83.1h0M272.9 78.2h0M276.1 75.7h0M239.8 62.7h0M237.5 59.4h0M212.4 73h0M213.5 69.1h0M313.4 50.2h0M315.1 53.8h0M232.6 64.1h0M231.1 60.4h0M315.6 72.8h0M318.2 69.8h0M230.4 54.5h0M230.7 50.4h0M318.8 63.4h0M322.4 65.1h0M308.4 54.9h0M307.5 50.9h0M256.2 60.2h0M256.9 56.2h0M286.5 53.1h0M289.9 55.2h0M245.8 74.9h0M242.1 73.3h0M300.6 62.6h0M301.2 66.6h0M321.7 70.5h0M318.2 72.5h0M250.8 81.1h0M254.7 82.3h0M298.3 65.8h0M296.3 69.2h0M310.3 69.9h0M314.3 69.5h0M223.8 53.7h0M220.5 51.3h0M292.1 76.4h0M294.1 79.9h0M312.7 52.5h0M309.2 54.3h0M237.8 50.3h0M241.8 49.8h0M317 82.2h0M313 82.2h0M284.1 71h0M287.9 72.3h0M259.3 57.1h0M258.5 61.1h0M309.6 74h0M313.4 72.4h0M215.4 110.9h0M212.8 107.9h0M237.3 105.9h0M241 107.4h0M289.3 106.4h0M288.1 110.3h0M213.4 110h0M282.4 106h0M285.9 108.1h0M310.8 109.9h0M306.8 109.2h0M301.2 109.8h0M297.2 109.8h0M266.9 110.4h0M263.8 107.9h0M244.2 105.1h0M245.1 109h0M272.2 109h0M300.3 111.8h0M218.5 109.9h0M214.5 110.3h0M262.4 108.7h0M266.4 108.8h0M249.2 110h0M253.2 110.5h0M320.9 107.1h0"/></defs>
<use href="#ww2" stroke="#a0a0a0" stroke-width="2.60"/>
<use href="#ww2" stroke="#f6f6f6" stroke-width="1.90"/>
<path d="" stroke="#2434c8" stroke-width="2.30"/>
<path d="M263.5 32.5h0M319.3 29.6h0M211.7 38.7h0M304.8 42.5h0M295.6 38.7h0M218.3 99.6h0M226.8 98.7h0M255.1 94.6h0M319.7 93.6h0M264.4 93.4h0" stroke="#e6d21e" stroke-width="2.60"/>
</g>
<line x1="210.4" y1="32.5" x2="324" y2="32.5" stroke="#444" stroke-width="0.8" opacity="0.8"/>
<line x1="210.4" y1="19.6" x2="324" y2="19.6" stroke="#8a8a8a" stroke-width="1"/>
<line x1="210.4" y1="113.6" x2="324" y2="113.6" stroke="#8a8a8a" stroke-width="1"/>
<g transform="translate(372.9 28) scale(1 0.917)"><rect x="9.5" width="113.2" height="24" fill="url(#t0)"/></g>
<g transform="translate(354.8 84) scale(1 1.000)"><rect x="27.6" width="113.2" height="24" fill="url(#t0)"/></g>
<g stroke-linecap="round" fill="none">
<path d="M443.9 26.1l1.8 .1M476.5 30l-1.8 0M435.7 29.2l-.7 1.6M458.1 31.1l1.8 .2M406.9 29.3l-1.6 .8M388.3 29.4l-1.1 1.4M386.9 28.7l1.8 .2M488 25.9l1.1 1.5M490.5 28l.7 1.6M465.2 30.4l-1.5 1M409.9 28.8l1 1.5M433.6 29.6l-.2 1.8M404.6 29.3l-1.5 1M454.8 46.4l1.7 .7M415.5 46.2l1.8 .4M483.4 49.7l1.1 1.5M436.5 48.8l1.5 1M473 48.9l-.7 1.7M423.5 51.7l1.7 .7M445.2 49.6l.7 1.7M450.6 48.1l-1.5 1.1M394.9 47.1l1.6 .8M447.8 47.5l-1.3 1.2M467.2 51.3l.6 1.7M483.2 81.9l-1.3 1.3M485.3 81.8l1.2 1.3M405.5 83.8l1.3 1.2M478.3 83.5l1.4 1.1M386 82.1l1 1.5M458.5 87.8l1.2 1.3M464.5 88l-1.6 .9M415.8 82.4l.9 1.6M431.9 86.1l-.5 1.7M489.6 82.1l-.9 1.6M422.6 83.4l-.8 1.6M456.3 87.3l-1.1 1.4M423.3 83.8l-0 1.8M410.9 86l.9 1.6M395.9 83.1l1.7 .6M446.6 85.6l-1.4 1.1M386.7 85.4l-.3 1.8M457 105.6l-.2 1.8M432.8 103.4l-1.4 1.1M452.7 106l1.3 1.2M450.2 110.8l-1.5 1M467.6 107l1.5 1.1M467.6 109.4l-1.7 .6M408.3 109.4l-1.4 1.1M399.4 106.7l.5 1.7M402.1 108.3l1.6 .9M427.5 113.1l.1 1.8M401.7 108.9l1.7 .7M487.1 106.4l1.2 1.3M491.2 106.7l1.8 .2M436.4 109.5l1 1.5M450.9 103.8l1.1 1.4M465 109.3l.5 1.7M426.4 110.8l-1.1 1.4M386 104.7l1.3 1.2" stroke="#6a6a6a" stroke-width="0.80"/>
<defs><path id="w3" d="M443.9 26.1h0M435.7 29.2h0M479.9 26.1h0M458.1 31.1h0M479.6 29.3h0M481.1 27h0M432.8 23.6h0M394.2 28.9h0M426.3 26.4h0M459.2 30.1h0M493.6 27.4h0M484 26.9h0M429 29h0M388.3 29.4h0M420.2 32.1h0M386.9 28.7h0M483.1 26.4h0M449.6 29.5h0M488 25.9h0M492.1 27.9h0M435.2 27.2h0M490.5 28h0M418.2 30.2h0M409.9 28.8h0M420.5 30h0M478.5 28.9h0M454.8 46.4h0M430.1 48.5h0M400.7 54.8h0M431.7 50.1h0M408.1 49.9h0M460.5 53.5h0M483.4 49.7h0M457.1 49.8h0M436.5 48.8h0M442.9 50.5h0M473 48.9h0M430.4 50.5h0M418.5 49.3h0M450.6 48.1h0M452.7 48.2h0M430.2 50.8h0M430.8 49.3h0M397.1 47.9h0M482.1 50.8h0M394.9 47.1h0M396.9 51.7h0M447.8 47.5h0M440.3 49.8h0M467.2 51.3h0M467.5 82.9h0M485.3 81.8h0M405.5 83.8h0M460.3 85.6h0M478.3 83.5h0M436.7 82.2h0M445.4 82.7h0M478.7 81.4h0M404.2 83h0M415.8 82.4h0M431.9 86.1h0M395.9 85.6h0M394.2 85.8h0M416.3 83.3h0M473 83.7h0M422.6 83.4h0M449.8 87.2h0M467.3 85.2h0M423.3 83.8h0M410.9 86h0M428.3 80.7h0M466.1 82.7h0M386.7 85.4h0M448.2 104h0M459.8 106.8h0M457 105.6h0M387.5 108.1h0M432.8 103.4h0M450.2 110.8h0M487 106.6h0M401.3 108.1h0M467.6 109.4h0M463.4 106.7h0M437.9 108.4h0M401.7 108.9h0M389.2 107.8h0M491.2 106.7h0M436.4 109.5h0M450.9 103.8h0M465 109.3h0M408.9 105.8h0M413.4 109.5h0M426.4 110.8h0M386 104.7h0M477.2 108.7h0"/></defs>
<use href="#w3" stroke="#999" stroke-width="2.50"/>
<use href="#w3" stroke="#f6f6f6" stroke-width="1.70"/>
<path d="M476.5 30h0M453.1 29.1h0M406.9 29.3h0M493.5 25.7h0M417.8 24.2h0M479.9 29.9h0M384.7 25.7h0M453.7 29.3h0M385.9 26.3h0M416.8 25.5h0M465.2 30.4h0M433.6 29.6h0M404.6 29.3h0M415.9 50.4h0M415.5 46.2h0M448.9 49.2h0M487.8 48.6h0M479.3 51.5h0M383.6 51h0M478.4 50.4h0M423.5 51.7h0M445.2 49.6h0M410.7 47h0M425 52.8h0M469.5 50.8h0M403.3 50.2h0M390.2 49.1h0M475.5 50.1h0M483.2 81.9h0M386 82.1h0M469.5 84.3h0M408.9 85.9h0M458.5 87.8h0M483.5 83.9h0M464.5 88h0M489.6 82.1h0M443 87.3h0M453.6 81h0M456.3 87.3h0M434.3 83.5h0M395.9 83.1h0M470 83.8h0M449.2 85.2h0M446.6 85.6h0M464.2 111.8h0M452.7 106h0M392.1 103.5h0M460.6 106.9h0M467.6 107h0M443.2 105.4h0M408.3 109.4h0M399.4 106.7h0M402.1 108.3h0M461.6 108.2h0M487.1 106.4h0M474 106.7h0M393.5 108.3h0M483.5 108.5h0M477.9 109.5h0M486.7 109.3h0" stroke="#e01616" stroke-width="2.90"/>
<path d="M446.6 21.8h0M455.5 22.7h0M400.5 25.5h0M384.9 22.6h0M408 24.9h0M470.2 25.2h0M442.9 22.3h0M392.4 26.8h0M386.3 27.8h0M482.6 21.6h0M408.3 26.8h0M454.7 26.3h0M421.9 25.2h0M395.9 26.8h0M473.9 22.4h0M435 26.1h0M422 24.4h0M444.8 26.1h0M455.4 25.2h0M422.4 28h0M431.3 21.6h0M401.9 27.5h0M480.5 27.9h0M486.8 24.8h0M488.6 27.3h0M437.2 76.3h0M494.1 81.3h0M487.1 56.3h0M463.6 60h0M454.4 51.4h0M414.2 64.7h0M465.8 75.4h0M395.1 60.2h0M392.2 55.2h0M461.2 83.2h0M480.7 62.7h0M418.2 65.7h0M443.7 62.2h0M415.2 65.7h0M473 60.1h0M473 50.3h0M442.4 68.2h0M389.2 56.9h0M435.2 83.3h0M492.1 51.2h0M385.1 64.7h0M389.3 68.6h0M418.1 58.4h0M429.9 58.9h0M431.2 71.3h0M484.7 77.5h0M398.6 75.8h0M440 78.3h0M414.6 55.7h0M454.9 80.5h0M435.4 72.6h0M473.8 70.5h0M441 55.8h0M459.4 83.7h0M428.8 62h0M472.6 65.4h0M400.8 60.7h0M429.2 78.9h0M486.8 70.8h0M447.3 68.7h0M414.6 74.1h0M395 72.7h0M440.6 80.5h0M454.9 56.6h0M403.7 63h0M418.6 59.2h0M488.2 60.8h0M414.8 54.5h0M492.2 52.7h0M405.8 52.7h0M465.9 78.5h0M474.2 50.2h0M490.1 52.4h0M437.1 59.1h0M388.8 58h0M399.6 80.8h0M493.6 72.9h0M399.4 51.9h0M403.1 56.4h0M480.5 51.7h0M442.8 63h0M426.8 83.6h0M398.1 54.9h0M422.6 81.1h0M404.9 81.9h0M492.2 58.4h0M489 66.5h0M418.3 50.7h0M466.5 76.6h0M435 68.3h0M442.8 78.3h0M449.4 81.7h0M403.5 82.8h0M402.2 59h0M389.5 83.3h0M480.3 53.9h0M480 77h0M459.6 67.9h0M393.9 68.4h0M399.8 70.4h0M439.7 62.7h0M423.3 70.4h0M487.3 79.3h0M415.4 83.2h0M397.2 67h0M421.4 71.9h0M490.7 65.4h0M442.5 79.7h0M442.2 65h0M391.3 64.5h0M469.7 52h0M426.1 83.4h0M407.4 68.7h0M431.4 79.5h0M423.7 60.2h0M427.8 62.7h0M480.6 69.9h0M408 62.6h0M399.1 52.8h0M415 51h0M485.7 68.2h0M475.4 78.5h0M432.5 73.2h0M481.1 62.9h0M482.2 59.7h0M474.9 70.4h0M386.7 61.9h0M475.8 56.2h0M426.7 67.4h0M453.3 72.4h0M394.4 83.3h0M392.9 65h0M493.5 52.2h0M436.8 64.4h0M475.2 61.3h0M448.2 80.1h0M427 53h0M386.5 81.8h0M447.2 52.9h0M435.5 79.2h0M415.1 83.4h0M442.1 56.9h0M483.3 54.5h0M452.3 62.1h0M484.4 79.2h0M406.2 52h0M418.2 56.6h0M407.5 78h0M396.9 81.1h0M407.1 56.3h0M438.9 63.1h0M475.9 51.9h0M426.7 56h0M412.8 73.6h0M395.9 57.5h0M446.2 58.3h0M407.5 72.8h0M403.1 75.5h0M443.4 70.3h0M432.6 51.9h0M478.8 66.7h0M413.3 80.6h0M408.2 77.8h0M421.9 83.8h0M403.4 74.4h0M464.7 69.8h0M442.1 78.9h0M443.4 79.3h0M438.2 69.8h0M406.1 53.2h0M444.8 60.3h0M481.6 68.4h0M476.2 75.4h0M384.8 110.4h0M422.5 109.4h0M411.3 110.5h0M426.3 107.5h0M419 110.6h0M427.3 108h0M447.5 107.5h0M437 108h0M402.1 107.5h0M485.9 111.3h0M427.6 107.3h0M418.4 111.7h0M488.6 109.4h0M412.7 111.8h0M446.9 109.6h0" stroke="#e01616" stroke-width="3.20"/>
<defs><path id="ww3" d="M448.9 23h0M444.9 23.6h0M458 23.5h0M454.2 24.8h0M398.3 24.2h0M402.3 23.7h0M387.4 22.1h0M384.8 25.2h0M405.8 26.2h0M407.3 22.5h0M470.8 22.8h0M472.4 26.4h0M444 24.6h0M440.4 22.8h0M394.3 28.4h0M390.3 28.2h0M387.1 30.2h0M383.7 27.9h0M480.1 22.2h0M406.4 25.1h0M410.4 25.4h0M456.5 24.5h0M456.1 28.5h0M419.5 26.1h0M421.7 22.7h0M393.8 25.4h0M397.8 25.2h0M471.4 21.8h0M437.3 27.3h0M433.3 28h0M424.2 25.5h0M420.3 26.3h0M442.6 27.3h0M444.2 23.7h0M456 27.7h0M452.9 25.2h0M421.1 30.2h0M420.6 26.2h0M431.8 24.1h0M428.8 21.5h0M401.5 25h0M404.4 27.8h0M478.6 26.3h0M482.6 26.4h0M484.6 26h0M486.1 22.3h0M491.1 26.5h0M488.8 29.9h0M435.1 77.7h0M436.4 73.9h0M493.4 83.7h0M491.9 80h0M489.2 57.7h0M485.2 58h0M461.1 59.7h0M464.6 57.6h0M454.4 48.8h0M456.9 51.9h0M412.8 66.8h0M412.5 62.8h0M465.2 77.9h0M463.6 74.2h0M392.9 61.5h0M394.3 57.8h0M392.4 52.7h0M394.6 56h0M463.7 82.9h0M460.9 85.7h0M482 64.8h0M478.3 63.4h0M415.7 65.3h0M419.2 63.4h0M445.2 60.2h0M445.3 64.2h0M417.1 64.1h0M416.3 68h0M473.1 62.7h0M470.5 59.6h0M474.7 52.2h0M470.7 51.6h0M443.7 70.4h0M440 68.9h0M389.5 54.4h0M391.5 57.9h0M435.8 80.8h0M437.5 84.5h0M493.1 53.5h0M489.6 51.6h0M383.7 66.9h0M383.3 62.9h0M391.4 70h0M387.4 70.3h0M418.9 56h0M420.3 59.8h0M432.4 59.5h0M428.7 61.1h0M430 69.1h0M433.7 70.8h0M484.8 80h0M482.2 76.9h0M399.3 73.3h0M400.9 77h0M437.6 77.4h0M441.4 76.1h0M417.1 56h0M413.7 58.1h0M457 79.1h0M455.7 82.9h0M437.7 71.5h0M435.9 75.1h0M471.6 71.8h0M473.1 68.1h0M442.1 58.1h0M438.5 56.2h0M456.9 83h0M460.7 81.6h0M426.4 62.7h0M428.7 59.4h0M475 64.7h0M472.6 67.9h0M398.3 60.4h0M401.8 58.4h0M430.4 76.7h0M431.1 80.6h0M489.3 71.3h0M485.7 73.1h0M444.7 68.9h0M447.7 66.2h0M416.8 72.8h0M415.4 76.5h0M393.2 74.6h0M393.6 70.6h0M443.1 79.8h0M440.6 83h0M457.1 55.4h0M455.5 59.1h0M404.9 60.8h0M405.5 64.7h0M421.1 58.4h0M418.8 61.7h0M486.2 62.4h0M487.1 58.5h0M414.8 57h0M412.4 53.8h0M492.5 55.2h0M489.7 52.4h0M403.2 52.3h0M406.8 50.4h0M464.2 76.6h0M468.2 77.3h0M473.7 52.7h0M471.9 49.1h0M489.8 54.9h0M487.7 51.5h0M434.7 58.4h0M438.4 56.9h0M391.3 57.4h0M388.9 60.6h0M400.7 83.1h0M397.1 81.3h0M492.1 70.9h0M399.5 49.3h0M401.8 52.6h0M404.2 54.2h0M405.1 58.1h0M483 51h0M480.5 54.2h0M444.8 64.6h0M440.8 64.5h0M426.3 86.1h0M424.5 82.5h0M399.9 56.8h0M395.9 56.2h0M424.9 82.3h0M420.9 83h0M407.4 81.9h0M404.3 84.4h0M490.6 60.4h0M490.6 56.4h0M488.2 64.1h0M491.5 66.4h0M416.9 52.8h0M416.6 48.8h0M464.2 75.5h0M468.1 74.6h0M432.6 69.2h0M434.7 65.8h0M443.6 80.7h0M440.3 78.5h0M450.9 79.6h0M451.1 83.7h0M404.8 80.6h0M405.2 84.6h0M403 61.5h0M399.7 59.2h0M387.3 84.6h0M388.7 80.8h0M482.8 54.1h0M479.5 56.3h0M482.5 76.9h0M479.5 79.5h0M459.8 65.3h0M461.9 68.7h0M391.5 69.3h0M393.5 65.8h0M398.7 72.7h0M397.9 68.8h0M438.7 65h0M437.7 61.1h0M425.8 70.1h0M423 73h0M488.6 77.1h0M489.1 81.1h0M415.1 85.7h0M413 82.3h0M397 64.5h0M399.8 67.4h0M420.9 74.4h0M419.1 70.8h0M488.2 65.8h0M491 62.9h0M445 79.5h0M442.1 82.3h0M440.3 63.3h0M444.3 63.6h0M392.7 62.4h0M392.9 66.4h0M471.3 50h0M471.3 54h0M424.4 85.3h0M424.7 81.2h0M409.3 67h0M408.6 70.9h0M430.8 77h0M433.9 79.5h0M421.1 60.1h0M424.4 57.8h0M426.3 60.6h0M430.2 61.8h0M482.1 71.9h0M478.2 70.9h0M406.1 60.9h0M410.1 61.2h0M398 55.1h0M397.1 51.1h0M412.5 50.4h0M416.2 48.8h0M485.5 65.6h0M488.2 68.6h0M477.6 77.2h0M476.1 80.9h0M434.4 75h0M430.4 74.6h0M478.6 63.3h0M481.3 60.3h0M483.2 62.1h0M479.7 60.1h0M477 71.7h0M473.1 72.2h0M389.3 62.1h0M386 64.4h0M475.4 58.8h0M473.5 55.3h0M424.4 68.4h0M426.2 64.9h0M450.9 73.4h0M452.9 69.9h0M393.4 80.9h0M396.9 83h0M392.9 62.5h0M395.3 65.7h0M492.7 54.7h0M438.8 62.8h0M437.8 66.7h0M473 62.5h0M474.5 58.8h0M448.9 82.5h0M445.6 80.2h0M425.4 51h0M429.3 51.9h0M384 81.4h0M387.5 79.4h0M447.5 55.4h0M444.7 52.6h0M433.1 78.5h0M436.7 76.9h0M413.8 81.2h0M417.6 82.6h0M441.4 59.3h0M440 55.5h0M480.8 54h0M484.4 52.2h0M452.6 59.5h0M454.7 63h0M484.2 76.6h0M486.9 79.6h0M403.8 53.1h0M405.7 49.5h0M419.9 54.8h0M419.5 58.8h0M409.9 77h0M407.9 80.5h0M394.8 82.6h0M395.9 78.7h0M409.6 56.9h0M405.9 58.6h0M440.4 61h0M440.5 65h0M473.8 53.4h0M475 49.6h0M426.7 58.6h0M424.3 55.4h0M411.4 75.7h0M411 71.7h0M393.5 58.4h0M395.6 55h0M445.4 55.9h0M448.7 58.2h0M405.5 71.2h0M409.5 71.3h0M401.1 77.1h0M402 73.2h0M441.6 68.5h0M445.6 69.1h0M433.2 49.4h0M434.9 53.1h0M476.6 65.5h0M480.6 64.8h0M412.3 78.2h0M415.9 80.2h0M410.7 77.6h0M407.8 80.3h0M419.4 84.1h0M422.3 81.3h0M402.1 76.5h0M401.6 72.5h0M466.7 71.4h0M462.7 71.4h0M439.6 79.3h0M442.4 76.4h0M441 80.2h0M443.1 76.8h0M439.3 67.5h0M440.1 71.5h0M406.3 50.6h0M408.5 54h0M446.8 58.7h0M445.9 62.6h0M484.2 68.2h0M481.2 70.9h0M475.6 77.9h0M474 74.2h0M384.6 107.9h0M387.3 110.8h0M420.1 108.4h0M424 107.4h0M408.9 109.5h0M412.8 108.4h0M423.9 106.7h0M427.7 105.4h0M420.2 112.9h0M416.5 111.2h0M425.2 109.4h0M426.5 105.6h0M449.9 108.4h0M446 109.6h0M434.5 107.9h0M437.7 105.6h0M399.6 106.9h0M403.3 105.3h0M483.4 111.1h0M486.8 108.9h0M427.2 109.8h0M425.3 106.3h0M486.3 110.4h0M488.2 106.9h0M410.1 112.2h0M447.7 112h0M444.4 109.7h0"/></defs>
<use href="#ww3" stroke="#a0a0a0" stroke-width="2.60"/>
<use href="#ww3" stroke="#f6f6f6" stroke-width="1.90"/>
<path d="" stroke="#2434c8" stroke-width="2.30"/>
<path d="M422.4 37.4h0M392.7 39h0M491.6 37.3h0M466.5 32.2h0M480.4 94.9h0M483.1 101.1h0M420.5 93.1h0M391.4 93.8h0M489.7 87.3h0" stroke="#e6d21e" stroke-width="2.60"/>
</g>
<line x1="382.4" y1="34" x2="495.6" y2="34" stroke="#444" stroke-width="0.8" opacity="0.8"/>
<line x1="382.4" y1="20.4" x2="495.6" y2="20.4" stroke="#8a8a8a" stroke-width="1"/>
<line x1="382.4" y1="114" x2="495.6" y2="114" stroke="#8a8a8a" stroke-width="1"/>
<g transform="translate(23.4 150) scale(1 1.000)"><rect x="8.5" width="113.1" height="20" fill="url(#t1)"/></g>
<g transform="translate(28.6 241) scale(1 0.875)"><rect x="3.3" width="113.1" height="20" fill="url(#t1)"/></g>
<g stroke-linecap="round" fill="none">
<path d="M57.6 148.9l1 .8M127.9 151.2l-.4 1.2M107.5 149.1l-1.3 .3M129.1 150l-1.2 .4M123.2 150.4l-.1 1.3M54.6 149.2l.6 1.2M101.3 150.3l1.1 .7M114.5 150.6l.8 1M51.7 152.5l.8 1M43.7 151.5l1.3 .2M51.6 149.8l1.3 .2M88.3 151.1l1 .9M129.5 150.2l-1.3 .3M41.2 153.6l-1.2 .4M135.9 151.8l-1.3 .3M85.3 148.9l1.3 .1M118.2 150.2l-1.1 .6M119.2 152.7l-1.1 .6M79.8 151.2l-1.2 .5M133.3 151.4l.7 1.1M93.4 167.7l.9 .9M142.4 168.5l-1.2 .4M84.8 168.5l-1.2 .5M73.1 169l1.3 .3M48.9 170.3l-.3 1.3M71.8 169.2l.4 1.2M136.9 170.9l1.3 .1M111.1 169.4l.7 1.1M100 171.6l.9 .9M57.6 172.7l.9 .9M66.1 168.7l-1 .8M50.4 168.9l.7 1.1M50 170.9l-1.2 .5M128.6 169.3l-1.2 .5M35 171.3l1.1 .6M143.6 169.1l-1.2 .6M125.5 166.9l-.5 1.2M37 172l-1.2 .6M106.4 168.9l-1.1 .6M88.2 168.1l1.3 .3M45.9 172.7l-1.1 .6M102.2 169.6l-.9 1M116 170.1l.4 1.2M120.5 169.6l-1.2 .5M142.9 241.5l-1.3 .1M35.9 242.3l1 .8M73.4 242.1l1 .8M139.1 243.1l-1.2 .4M126 241l.9 .9M71.1 239.5l.6 1.2M142 242.7l1.1 .7M124.6 240.6l.7 1.1M112.8 237.6l.5 1.2M84.4 240l-1 .8M114.3 242.2l.8 1M48.3 240.7l.8 1M81.2 240.2l-.7 1.1M61.6 240.1l-1.2 .5M54.8 242.5l-1.2 .5M139.5 242.6l.3 1.3M33.2 238.2l.3 1.3M64.4 243l-1.3 .3M135.4 238l1.3 0M93.9 240.8l1.2 .4M117.6 240.5l.8 1M108.9 240.5l.7 1.1M68 237.5l1 .8M86.7 240.6l-1.2 .5M52.5 244.9l-1.2 .5M57.7 258.6l.2 1.3M71 257.2l-.9 .9M81 258.3l1 .8M35.9 257.1l.2 1.3M130.5 256.7l.6 1.1M120.3 260.4l-.5 1.2M53.7 257.1l1.3 .1M126.1 257.5l.2 1.3M113.1 258l-1 .8M39.9 257.8l-1 .8M70.5 257.7l.9 .9M75.6 257.5l0 1.3M111.1 256.1l1.2 .6M91.4 259.3l-.6 1.2M62.9 257.4l-.3 1.3M130.8 257.8l-1 .8M76.3 256.5l-1.2 .5M93 257.9l1.3 .3M97.6 258.1l-.4 1.2M51.2 257.6l1.3 .1M56.3 258.3l1.1 .7M39 222.2l-1.2 1M37.9 218.5l-.4 1.2M39.2 221.1l1.3 .5M42.9 221.7l.9 1.6M45.1 222.8l-1.7 .5M41.6 219.9l.1 1.2M41.3 220.6l.4 1.1M42.2 219.6l-1.5 .8M45.4 226.5l-.9 1M44 222l.9 1.4M48.7 220.9l-.3 1.6M53 227.1l.7 1.2M44.9 220.7l1.7 .5M40.8 221.3l.5 1M45.2 222.9l1.8 0M39.6 222.6l.5 1.2M49.7 224.9l.9 1.5M46.1 219.7l.3 1.4M47.4 223.5l.7 1.4M42.5 219.2l1.8 .4M44.1 225.3l.6 1M42.4 223.8l1.1 .2M38.9 219l1.3 .2M42.3 225.8l-1.7 .4M47.5 223.5l1.2 1M42.3 226.4l1.2 1M75.8 222.2l1.3 .5M70.1 213.7l1.3 .2M75.6 222.8l.6 1.2M73.9 219.9l-1.6 .9M74.1 211.6l1.3 1.3M75.9 223.8l-.1 1.5M77.2 223.7l1.1 .4M75 217.2l.6 1.6M70.7 202.8l.1 1.3M74.9 222.8l.4 1.6M75.1 209.1l.1 1.4M74.5 224.7l.8 1.2M76.2 214.4l1.3 .9M73.1 224.9l-1.9 0M73.9 213.5l-.3 1.7M72.7 219.6l.7 1.2M75.2 225.4l.7 1.3M73.8 208.2l-1.1 1.2M78.1 226.3l1.6 .8M76.2 220.1l1.1 1.3M75.7 219.3l-1.3 1.2M73.9 214.7l.9 .9M78.4 222.5l1.1 1.2M76.6 219.3l-1.5 .5M75.2 222.7l.6 1.1M75.6 214.1l-1.4 .2M109.9 209.2l.9 .7M126.9 213.9l-1 1.3M120.5 210.7l-1.8 .5M116.6 208.7l1.2 .2M110.3 208.7l1.8 .2M119.2 212.1l-1.1 1.3M115.5 213.6l1.2 .8M122.4 212.2l0 1.3M116.2 209.5l.5 1.4M111 206.9l.7 1M117.8 213.4l-.1 1.2M119.7 214.4l1.4 0M121.3 212l-.4 1.6M115.2 206.6l-0 1.2M118 211l.2 1.1M118.5 213.6l-.6 1.7M128.1 217l.7 1.1M121.9 213.5l1.4 0M117.4 209.6l1.3 1.3M123.5 211.9l.9 1M124.7 215.4l-.7 1.5M115.6 209.5l0 1.4M117.4 212.5l-.4 1.5M122.7 212.4l-1.1 0M112.3 210.6l-.5 1.7M111.7 209.1l-1.7 .8" stroke="#6a6a6a" stroke-width="0.58"/>
<defs><path id="w4" d="M134.9 150.5h0M121.8 150.4h0M127.9 151.2h0M129.1 150h0M96.5 152.1h0M123.2 150.4h0M83.9 152.1h0M114.5 150.6h0M140.2 150.2h0M51.7 152.5h0M51.6 149.8h0M118.9 155h0M60.5 151.5h0M95.7 151.5h0M120.8 149.9h0M43.2 150.7h0M70.3 152.8h0M104.3 150.7h0M41.2 153.6h0M39.6 151h0M34.4 150.5h0M118.2 150.2h0M124.8 151.6h0M140.3 150.6h0M89.8 150.4h0M79.8 151.2h0M133.3 151.4h0M93.4 167.7h0M127.1 170.2h0M142.4 168.5h0M84.8 168.5h0M73.1 169h0M48.9 170.3h0M71.8 169.2h0M35.1 171.9h0M87.9 166.7h0M117.4 170.7h0M115.7 169.9h0M66.5 171.3h0M102.5 173.1h0M34.4 170.7h0M73.4 171.6h0M50.2 173.5h0M57.6 172.7h0M66.1 168.7h0M110.9 171.7h0M138.7 171.7h0M113.3 168.4h0M61.3 168.6h0M128.6 169.3h0M35 171.3h0M127.2 170.5h0M143.6 169.1h0M125.5 166.9h0M134.2 169.3h0M37 172h0M106.4 168.9h0M132 172.9h0M106 169.4h0M119.7 169.5h0M45.9 172.7h0M102.2 169.6h0M36.7 169.2h0M116 170.1h0M100.1 171.5h0M56.4 243h0M142.9 241.5h0M65.9 241.9h0M35.9 242.3h0M36.8 240.4h0M73.4 242.1h0M139.1 243.1h0M111.1 240.3h0M44.5 241.2h0M93 241.7h0M71.1 239.5h0M124.6 240.6h0M112.8 237.6h0M114.3 242.2h0M94.9 242.3h0M53 240h0M99.5 241h0M93.4 242.9h0M61.6 240.1h0M54.8 242.5h0M99.1 241.8h0M38.6 240.9h0M41.8 243.4h0M139.5 242.6h0M33.2 238.2h0M41.8 240.5h0M64.4 243h0M135.4 238h0M107.1 240.8h0M93.9 240.8h0M50.3 242.4h0M80.1 240.5h0M51.9 238.9h0M108.9 240.5h0M86.7 240.6h0M33.2 243.6h0M57.7 258.6h0M43.6 258.6h0M114.8 258.5h0M131.7 255.5h0M111.9 257.1h0M130.5 256.7h0M36.8 257.6h0M107.6 258.6h0M72.3 259.4h0M118.8 259.5h0M71.5 254.8h0M53.7 257.1h0M113.1 258h0M71.7 256.8h0M70.5 257.7h0M43.6 259.3h0M111.1 256.1h0M91.4 259.3h0M130.8 257.8h0M76.3 256.5h0M71.1 258.3h0M51.2 257.6h0M56.3 258.3h0M73.5 256.9h0M82.8 257h0M44.1 227.9h0M46.4 224.2h0M42.5 219.9h0M37.9 225.6h0M43.9 225.3h0M35.2 221.2h0M35.3 221h0M41.1 222.3h0M46.4 219.4h0M46.5 225.8h0M75.8 215h0M73.5 221.4h0M67.4 216.7h0M71.8 212.7h0M75.8 224.2h0M69.6 223.3h0M73.1 216.4h0M70.4 221.7h0M73.3 215.7h0M76.8 224.3h0M110.7 210.5h0M121.4 215.5h0M116.3 211.3h0M116.1 209.5h0M116.3 210.4h0M116.1 207.1h0M117.6 206.3h0M118.1 211.7h0M121.4 214.3h0M114.1 214.5h0"/></defs>
<use href="#w4" stroke="#999" stroke-width="1.97"/>
<use href="#w4" stroke="#f6f6f6" stroke-width="1.17"/>
<path d="M85.3 150.1h0M115.9 150.5h0M133.4 150.4h0M101.3 150.3h0M43.7 151.5h0M87.4 150h0M86 150.1h0M88.3 151.1h0M129.5 150.2h0M135.9 151.8h0M67.5 150.9h0M119.2 152.7h0M52.5 151h0M120.3 168.8h0M136.9 170.9h0M121.9 171.3h0M111.1 169.4h0M123.7 169.9h0M100 171.6h0M108.5 166.5h0M50.4 168.9h0M46.4 174.2h0M50 170.9h0M112.7 169.1h0M72.1 168.1h0M88.2 168.1h0M128.7 170.3h0M120.5 169.6h0M136.4 168.5h0M45.6 240.1h0M133.7 243.5h0M126 241h0M96.7 240.6h0M142 242.7h0M84.4 240h0M48.3 240.7h0M81.2 240.2h0M62.1 240.1h0M129.1 241.4h0M65.3 239.5h0M117.6 240.5h0M98.1 242.5h0M92.5 242.3h0M96.2 241.2h0M68 237.5h0M121.5 242.3h0M52.5 244.9h0M71 257.2h0M81 258.3h0M35.9 257.1h0M114.9 258.6h0M64.1 259.4h0M139 259.3h0M118.6 257.6h0M126.1 257.5h0M39.9 257.8h0M57.3 257.9h0M75.6 257.5h0M62.9 257.4h0M93 257.9h0M118.3 259.5h0M97.6 258.1h0" stroke="#e01616" stroke-width="2.09"/>
<path d="M52.6 197.3h0M68.5 214.5h0M51.7 203.3h0M66.4 189.3h0M110.1 172.6h0M39.2 233.2h0M124.4 172.4h0M61.5 225.1h0M47.1 173.7h0M79.5 196.5h0M73.7 210.9h0M47.4 203.5h0M118 221h0M82.3 195.7h0M44.5 224.4h0M102.1 206.5h0M40.1 217.7h0M37.4 218.5h0M115.5 239.5h0M78.1 205.5h0M135.4 172h0M78.2 227.1h0M94.6 235.4h0M130.3 215h0M114.4 220.9h0M52 171.6h0M61.4 197.5h0M100.7 200.3h0M44.3 210.8h0M128.3 189.7h0M46.8 197.7h0M90.8 201.8h0M51.3 230.4h0M64.7 194.8h0M103.1 201.3h0M105 231h0M65.8 217.3h0M133.6 197.4h0M116.9 193.8h0M101.8 196.5h0M71.5 185.6h0M99.3 240.3h0M79.8 201.9h0M89 211.7h0M128.3 233.3h0M116 233h0M137.4 184.3h0M87.9 181.2h0M100.2 180.6h0M73.7 237h0M89.5 203.2h0M71.5 195.8h0M94.8 209.5h0M81.9 213.3h0M47 216.6h0M127.5 179.4h0M66.3 214.9h0M105 210.6h0M58.1 240.7h0M103.2 179.2h0M50.7 208.6h0M121.1 181h0M132.7 219.2h0M124.3 230.9h0M89.6 191.2h0M113.7 221.9h0M52 175h0M124.2 176.5h0M48.3 240.3h0M96.8 232.2h0M108.7 194.1h0M84.9 180.6h0M88.5 239.7h0M139.3 216.5h0M33.6 240.4h0M120.7 229.5h0M111.2 216h0M92.8 236h0M120.2 174.8h0M89.1 209.4h0M87.4 210.2h0M107.7 211.2h0M64.7 231.3h0M112 189.3h0M57 199.8h0M130.2 222h0M60.1 222.8h0M53 178.3h0M106.3 227.2h0M86.3 180.3h0M58.5 186.3h0M51.3 226.4h0M62.6 223.6h0M66.1 225.6h0M122.8 231.7h0M42.7 197.9h0M64.8 231.6h0M135.8 175h0M102.7 225.8h0M132.7 191.1h0M54.4 183.4h0M114.1 183.7h0M81 239.8h0M122.7 186.6h0M35.7 180.8h0M91.8 207.4h0M71.6 217h0M97.9 220.7h0M117.4 228.6h0M40 200.3h0M51.7 203.6h0M47 226.5h0M140.2 223.7h0M112.5 210.8h0M120.7 193.5h0M130.6 198.2h0M123.4 181.2h0M130.1 186.8h0M76.5 221.3h0M68.1 174.7h0M115.7 215.4h0M132.5 172.2h0M103.4 195.5h0M57.8 238.1h0M108 236.9h0M70.4 201h0M124 214.8h0M106.8 225.2h0M125 207.9h0M47.4 213.1h0M73.1 208.8h0M58.8 175.4h0M124.7 187.3h0M48 213.1h0M53.8 228.3h0M46.1 176.7h0M42.3 221.9h0M66.1 177.1h0M74.1 236h0M95.4 202.7h0M97.3 238.8h0M52.9 240.9h0M103 203.3h0M57.8 227h0M100 204.7h0M39.3 174.7h0M59.5 206.3h0M117.3 181.3h0M116.7 217.2h0M104 225.9h0M91.8 177.2h0M106.8 218.3h0M110.3 185.5h0M75.2 223.2h0M63.5 177.1h0M129 240.6h0M70.3 203.8h0M96.1 200.4h0M114.3 233.7h0M141.9 218.5h0M88.9 218.2h0M138 233.9h0M87.6 199.6h0M138.5 217.3h0M106.9 177.2h0M71.8 238.8h0M73.6 206.4h0M91.6 220.2h0M80.3 224.4h0M107.9 229.7h0M91.6 213.6h0M120.9 231.7h0M47.8 228.7h0M112 190.7h0M104.1 206.3h0M66.2 240.9h0M139.3 178.5h0M52.5 192.7h0M47.3 207h0M66.8 190.7h0M39.1 211.3h0M57 209.8h0M110 187.3h0M130.1 218.8h0M71.1 211.4h0M108.4 237.9h0M83.5 219.8h0M73.8 171.6h0M89.5 230.2h0M131 227.3h0M119.3 173h0M119.5 221.2h0M72.1 182.9h0M98.6 225.5h0M81 236.9h0M115.2 216.2h0M68.9 192.7h0M107.8 224.3h0M77.5 178.3h0M129.4 207.7h0M126.7 183.4h0M97 204h0M34.8 236.2h0M88.2 171.9h0M89.1 237.2h0M47.3 231.4h0M88.2 206.7h0M84.2 202h0M60 189.5h0M40.4 202.9h0M129.5 178.9h0M129.4 237.9h0M52.8 229.6h0M105.8 235.7h0M65.8 210.4h0M89.1 210.9h0M115.1 217.3h0M123.4 180.2h0M64.5 182.4h0M127.3 233.6h0M127.3 236.3h0M126.7 218.7h0M69.4 188.3h0M95.4 235.1h0M141.2 180.8h0M68.1 210h0M38.5 211.1h0M61.9 176.6h0M61.9 182.5h0M96.4 203.3h0M46.1 185.6h0M77.4 183h0M93.6 194.5h0M92.6 180.8h0M62.4 230h0M41.4 179.7h0M88.8 192.1h0M48.5 203.3h0M136.6 213.5h0M37.3 205.8h0M106.6 192.2h0M111.7 221.2h0M139 179.2h0M91.8 212.9h0M40.5 226.5h0M142 237.2h0M98.3 212.3h0M122.9 240h0M79.1 197.8h0M50.6 182.9h0M53.1 212.3h0M78.3 241h0M72.5 180.1h0M78.2 225h0M57.8 174.6h0M69.7 209h0M44.7 217.3h0M38 227.6h0M115.4 173.7h0M85.4 194h0M123.9 199.6h0M68.6 182.7h0M61.5 222.6h0M118.9 190.9h0M137.6 202.8h0M38.8 225.1h0M57.1 203.7h0M72.1 195.6h0M70.6 182h0M91.8 196.8h0M44.1 191h0M86.5 231.3h0M78.3 212.7h0M68.4 218.2h0M35.1 175.2h0M76.5 185.8h0M114.5 202h0M66.7 183.4h0M94.6 185.4h0M131 174.3h0M45.7 232.3h0M46.9 189.6h0M99.8 226.1h0M57.5 211.2h0M54.2 227.4h0M98.6 205.4h0M127.5 179.8h0M139.9 214.6h0M58.5 192.7h0M119.2 206.3h0M82.3 224.6h0M43 197.8h0M114.4 213.8h0M87.8 199.7h0M87.8 176.4h0M81.8 183.4h0M68.9 179h0M35.3 235.1h0M62.5 236.5h0M34.7 221.3h0M63.8 210.4h0M138.7 228.1h0M93.9 177.3h0M80.3 216.4h0M87.8 201h0M106.1 239.6h0M139.8 176.9h0M97.6 202.1h0M78.7 176.2h0M127.4 196.3h0M49.5 239.4h0M34.8 215.6h0M89.9 175.7h0M88.5 194.3h0M57.7 228h0M92 215.6h0M117.3 221.4h0M103.9 171.9h0M135.5 228.8h0M136.3 182.3h0M117.8 172.8h0M92.6 240.7h0M84.2 233.6h0M125.5 222.8h0M71 212.9h0M64.2 227.5h0M93.2 176h0M104.1 178.7h0M105.2 215.7h0M124.6 219.6h0M41.6 224.8h0M120.4 211.5h0M82.8 190h0M131 210h0M109.7 239.1h0M95.1 233.1h0M59.2 183.2h0M96.5 175.6h0M67.1 209.1h0M65.6 187.4h0M120.2 196.6h0M110.4 195.9h0M33.3 188.7h0M45.7 172.9h0M95.2 216.2h0M68.8 234.4h0M138.5 191.6h0M119.3 183.6h0M113.2 219.5h0M45.2 220.7h0M88.2 218h0M72.7 229.2h0M125.2 173.6h0" stroke="#dc2a2a" stroke-width="1.55"/>
<defs><path id="ww4" d="M53.1 198.4h0M51.3 197.5h0M67.5 215.3h0M68 213.3h0M51.1 202.2h0M52.9 203h0M65.3 189.8h0M66.3 188.1h0M109.5 171.5h0M111.3 172.3h0M39.6 234.4h0M37.9 233.3h0M123.1 172.5h0M124.6 171.2h0M61.7 223.8h0M62.7 225.6h0M47 172.4h0M48.4 173.8h0M78.7 197.5h0M78.7 195.5h0M72.7 211.8h0M73.2 209.8h0M48.6 203.4h0M47.1 204.7h0M119.1 220.4h0M118.2 222.2h0M82.7 194.5h0M83.4 196.4h0M45.2 225.4h0M43.3 224.9h0M102.3 205.2h0M103.3 207h0M40.6 216.6h0M41 218.5h0M37.2 219.8h0M36.2 218h0M116.8 239.5h0M115.2 240.7h0M79.4 205.3h0M78 206.7h0M136.2 173h0M134.3 172.6h0M78.5 225.9h0M79.3 227.7h0M95.2 234.3h0M95.6 236.2h0M130.2 216.3h0M129.1 214.7h0M115.5 220.3h0M114.7 222.1h0M51.3 172.6h0M51.2 170.6h0M62.6 197.9h0M60.7 198.5h0M100.6 201.6h0M99.5 199.9h0M45.4 211.5h0M43.4 211.6h0M129.4 188.9h0M128.8 190.8h0M47 196.4h0M48 198.2h0M91.8 200.9h0M91.4 202.9h0M50 230.3h0M51.7 229.2h0M64.5 196.1h0M63.6 194.3h0M101.9 201.1h0M103.6 200.1h0M104.6 229.8h0M106.2 230.9h0M65.4 216.1h0M67.1 217.1h0M132.4 197.2h0M134.2 196.3h0M116.3 194.9h0M115.9 192.9h0M102.6 195.5h0M102.7 197.5h0M70.6 184.8h0M72.6 184.9h0M100.5 239.9h0M99.5 241.6h0M79 200.8h0M80.9 201.4h0M87.9 212.5h0M88.5 210.5h0M128.6 232.1h0M129.4 234h0M116 234.3h0M114.8 232.7h0M138.4 185.1h0M136.4 185.1h0M87.8 182.5h0M86.7 180.9h0M99.1 181.3h0M99.7 179.4h0M74.8 237.6h0M72.8 237.9h0M90.2 204.3h0M88.3 203.6h0M70.7 196.8h0M70.7 194.8h0M93.5 209.8h0M94.8 208.2h0M80.6 213.4h0M82 212h0M45.9 217.3h0M46.6 215.4h0M126.3 179h0M128.2 178.3h0M66.8 213.8h0M67.3 215.7h0M106.2 210.1h0M105.2 211.8h0M57 241.2h0M58 239.4h0M104.5 179.5h0M102.7 180.4h0M50.8 209.8h0M49.5 208.3h0M120.4 179.9h0M122.3 180.6h0M133.9 218.6h0M133 220.4h0M125.5 231.2h0M123.7 232h0M88.4 191.7h0M89.4 190h0M114.1 223.1h0M112.5 222h0M51.9 173.7h0M53.3 175.2h0M125 177.5h0M123 177.1h0M49.5 240.9h0M47.5 241.3h0M97.4 233.3h0M95.6 232.5h0M107.9 193.1h0M109.9 193.6h0M86 179.8h0M85.4 181.8h0M87.4 239h0M89.4 238.9h0M140.5 216.9h0M138.6 217.5h0M33 239.3h0M34.8 240.1h0M119.9 230.5h0M120 228.5h0M112.4 216.4h0M110.4 217h0M91.6 235.6h0M93.5 235h0M119.1 175.4h0M119.8 173.5h0M89.8 208.4h0M89.9 210.4h0M86.1 210.1h0M87.8 209h0M106.7 211.9h0M107.2 210h0M63.9 232.3h0M63.9 230.3h0M113.3 189.2h0M111.8 190.5h0M56.2 200.8h0M56.3 198.8h0M130.1 223.2h0M129 221.5h0M58.9 223.2h0M60 221.5h0M52.8 177h0M54.3 178.3h0M107.4 227.8h0M105.4 228.2h0M85.1 179.7h0M87.1 179.3h0M57.3 185.9h0M59.3 185.3h0M51.9 227.5h0M50 226.7h0M62.5 224.9h0M61.4 223.2h0M65 225.1h0M66.9 224.6h0M124 231.4h0M122.8 232.9h0M41.5 198.3h0M42.6 196.6h0M63.8 232.4h0M64.3 230.4h0M134.6 175.4h0M135.7 173.7h0M101.4 226h0M102.8 224.6h0M131.9 192.1h0M131.9 190.1h0M53.2 183.5h0M54.6 182.2h0M112.8 183.8h0M114.3 182.4h0M79.8 239.8h0M81.3 238.5h0M123.7 185.9h0M123.2 187.8h0M34.9 179.8h0M36.8 180.2h0M90.9 206.5h0M92.9 206.8h0M70.6 217.8h0M71.1 215.8h0M97.4 221.9h0M96.8 220h0M118.6 228.5h0M117.1 229.8h0M40.7 201.3h0M38.8 200.6h0M51.9 202.3h0M52.9 204.1h0M47.7 225.4h0M47.8 227.4h0M140.5 225h0M138.9 223.7h0M112.3 212h0M111.4 210.3h0M121.4 192.5h0M121.6 194.5h0M131.4 199.1h0M129.4 198.8h0M124.3 182h0M122.3 181.8h0M130.1 188.1h0M128.9 186.4h0M76.9 222.5h0M75.2 221.5h0M68 176h0M66.9 174.4h0M114.7 214.6h0M116.7 214.6h0M132.3 173.4h0M131.4 171.6h0M104.6 195.3h0M103.2 196.8h0M57.7 236.9h0M59.1 238.3h0M106.9 237.4h0M107.8 235.6h0M70.3 199.7h0M71.7 201.2h0M124.3 213.6h0M125.1 215.4h0M107.7 226.1h0M105.7 225.8h0M124.4 209h0M124 207h0M47.7 214.3h0M46.2 213h0M73.5 210h0M71.9 208.8h0M58 176.4h0M58 174.4h0M124.6 188.6h0M123.5 186.9h0M47.9 211.8h0M49.3 213.3h0M55.1 228.4h0M53.4 229.5h0M46.3 175.4h0M47.2 177.3h0M42.6 223.1h0M41 221.9h0M66.6 175.9h0M67.2 177.8h0M73.7 234.8h0M75.4 235.9h0M94.2 202.2h0M96.2 201.7h0M97.5 240.1h0M96 238.8h0M52.4 239.7h0M54.1 240.7h0M104.3 203.4h0M102.6 204.5h0M57.6 228.2h0M56.6 226.5h0M100.6 205.8h0M98.8 205h0M39 173.4h0M40.6 174.7h0M58.3 205.7h0M60.3 205.3h0M116.1 181.9h0M117 180.1h0M115.5 217.4h0M116.8 215.9h0M104.9 225h0M104.6 227h0M92.6 178.1h0M90.6 177.8h0M105.6 218.7h0M106.7 217h0M109.3 186.2h0M109.7 184.3h0M76.5 222.9h0M75.2 224.5h0M62.7 178h0M62.9 176h0M130.2 241.1h0M128.2 241.7h0M71.3 203h0M70.8 205h0M97.3 200.2h0M96 201.7h0M114.8 232.6h0M115.3 234.5h0M142.1 217.3h0M143.1 219.1h0M90.1 217.7h0M89.1 219.4h0M137.5 232.8h0M139.3 233.7h0M86.6 200.4h0M87.1 198.5h0M138.9 216.1h0M139.6 218h0M105.7 177.6h0M106.8 175.9h0M71.4 237.6h0M73.1 238.6h0M74.6 205.6h0M74.1 207.5h0M90.7 221.1h0M90.8 219.1h0M80.7 225.6h0M79 224.5h0M109.2 229.7h0M107.6 231h0M92.9 213.5h0M91.4 214.8h0M119.7 231.5h0M121.4 230.5h0M48.8 229.4h0M46.8 229.6h0M112.5 189.5h0M113 191.4h0M102.8 206.4h0M104.3 205h0M65 240.5h0M66.9 239.9h0M140.6 178.7h0M138.8 179.7h0M53.8 192.6h0M52.3 193.9h0M48.1 206h0M48.1 208h0M67.1 191.9h0M65.5 190.7h0M37.9 210.8h0M39.9 210.3h0M55.7 209.8h0M57.3 208.6h0M110.2 188.6h0M108.7 187.2h0M130.2 217.5h0M131.3 219.1h0M70.2 212.3h0M70.5 210.3h0M107.1 238h0M108.6 236.6h0M82.3 219.8h0M83.8 218.5h0M74.3 170.4h0M74.8 172.4h0M88.8 231.2h0M88.7 229.2h0M131.1 228.6h0M129.7 227.1h0M118.5 172h0M120.4 172.5h0M119.1 222.4h0M118.3 220.6h0M73.1 182.2h0M72.6 184.1h0M97.3 225.6h0M98.8 224.2h0M82.2 236.4h0M81.2 238.1h0M116.2 215.4h0M115.8 217.3h0M69.2 191.5h0M70 193.3h0M107.5 223.1h0M109 224.3h0M77.7 177.1h0M78.7 178.8h0M128.9 208.9h0M128.4 206.9h0M127.2 184.6h0M125.5 183.5h0M97.1 202.8h0M98.2 204.4h0M34.5 237.4h0M33.6 235.6h0M87.3 172.8h0M87.6 170.8h0M89.6 238.4h0M87.9 237.3h0M48.4 230.8h0M47.6 232.7h0M89.1 205.8h0M88.8 207.8h0M83 202.5h0M83.9 200.7h0M59.1 190.4h0M59.3 188.4h0M40.6 201.6h0M41.5 203.4h0M128.7 179.9h0M128.8 177.9h0M128.9 239h0M128.4 237.1h0M52.5 230.9h0M51.7 229h0M105.8 236.9h0M104.6 235.4h0M66.9 211.1h0M64.9 211.3h0M88 211.4h0M88.9 209.7h0M114 216.7h0M116 216.4h0M124 181.3h0M122.2 180.4h0M65.5 181.7h0M65 183.6h0M126.3 234.4h0M126.7 232.4h0M127.4 235.1h0M128.5 236.8h0M127.9 218.8h0M126.2 219.9h0M68.2 188.1h0M69.9 187.2h0M95.3 236.4h0M94.2 234.8h0M141.5 179.6h0M142.3 181.4h0M67.2 209.1h0M69.2 209.3h0M37.8 210h0M39.7 210.7h0M60.9 175.9h0M62.9 175.9h0M62 183.8h0M60.7 182.3h0M95.4 204.1h0M95.8 202.2h0M45.2 184.7h0M47.2 184.8h0M77.9 181.8h0M78.4 183.8h0M94.9 194.3h0M93.5 195.8h0M91.3 181h0M92.7 179.6h0M62.7 228.8h0M63.6 230.6h0M40.8 178.6h0M42.7 179.4h0M87.5 192.2h0M89 190.9h0M47.3 202.8h0M49.3 202.3h0M135.4 212.9h0M137.4 212.5h0M36.2 205.3h0M38.1 204.8h0M107.8 191.8h0M106.8 193.5h0M112.9 221.1h0M111.5 222.5h0M140 178.4h0M139.5 180.4h0M93.1 213.1h0M91.4 214.1h0M39.7 227.5h0M39.8 225.5h0M140.8 236.8h0M142.6 236.1h0M97.1 211.9h0M98.9 211.1h0M122.3 241.1h0M122 239.1h0M80.2 198.4h0M78.3 198.8h0M50.6 181.6h0M51.9 183.2h0M54.4 212.1h0M53 213.6h0M78.3 242.2h0M77.1 240.6h0M73.2 181.2h0M71.3 180.6h0M77.4 223.9h0M79.4 224.5h0M58.9 175.2h0M56.9 175.6h0M71 209h0M69.4 210.3h0M44.9 218.6h0M43.5 217.1h0M39.1 228.1h0M37.2 228.5h0M116.2 172.8h0M116.2 174.8h0M85.7 195.2h0M84.1 194h0M122.7 199.1h0M124.6 198.5h0M68.2 183.9h0M67.6 182h0M62.1 221.5h0M62.5 223.5h0M118.2 192h0M118 190h0M136.5 202.2h0M138.4 201.8h0M37.6 225.6h0M38.7 223.9h0M57.5 204.9h0M55.9 203.8h0M70.9 196.1h0M71.9 194.4h0M71.3 180.9h0M71.5 182.9h0M91 195.9h0M92.9 196.2h0M43.4 192h0M43.4 190h0M85.3 231.7h0M86.4 230h0M78.5 211.5h0M79.5 213.2h0M67.6 219.2h0M67.7 217.2h0M36.3 175.6h0M34.4 176.3h0M75.4 185.3h0M77.3 184.8h0M114.4 200.8h0M115.8 202.2h0M67.2 182.3h0M67.6 184.3h0M93.8 186.4h0M93.8 184.4h0M131.7 173.3h0M131.8 175.3h0M44.5 232h0M46.3 231.2h0M45.9 190.3h0M46.3 188.4h0M100.5 225h0M100.7 227h0M57.6 209.9h0M58.6 211.7h0M54.3 228.7h0M53 227.2h0M97.4 205.1h0M99.2 204.3h0M127.4 181.1h0M126.3 179.4h0M140.9 213.9h0M140.4 215.8h0M57.4 192.1h0M59.4 191.8h0M120.3 206.8h0M118.3 207.2h0M83.2 223.7h0M82.9 225.7h0M44.1 197.2h0M43.4 199h0M115 214.9h0M113.1 214.1h0M86.6 199.7h0M88.2 198.5h0M88.2 175.3h0M88.8 177.2h0M80.9 182.6h0M82.9 182.7h0M67.8 178.4h0M69.8 178.1h0M34.2 234.6h0M36.1 234.1h0M61.4 235.9h0M63.3 235.6h0M35.9 221.8h0M34 222.4h0M63.1 209.4h0M65 210h0M139.2 229.2h0M137.4 228.3h0M93.5 176h0M95.1 177.2h0M81.5 216.9h0M79.5 217.4h0M89 201.3h0M87.1 202.1h0M106.1 238.3h0M107.4 239.8h0M139 175.9h0M140.9 176.3h0M98 200.9h0M98.7 202.8h0M77.9 175.2h0M79.9 175.6h0M126.5 195.4h0M128.5 195.7h0M50.8 239.2h0M49.4 240.6h0M35.9 215.1h0M35 216.9h0M89.8 174.4h0M91.2 175.9h0M89.7 194.7h0M87.8 195.3h0M56.4 228.3h0M57.8 226.8h0M91.1 216.5h0M91.4 214.5h0M118.5 221.5h0M116.8 222.6h0M102.6 171.9h0M104.3 170.7h0M135.1 230h0M134.4 228.1h0M136 181.1h0M137.6 182.2h0M117.7 174.1h0M116.6 172.4h0M93.2 241.8h0M91.3 241.1h0M84.8 234.7h0M83 233.9h0M125.8 221.6h0M126.6 223.4h0M71.8 213.9h0M69.8 213.4h0M65.2 228.3h0M63.2 228.2h0M93.6 174.8h0M94.2 176.7h0M105.1 177.8h0M104.7 179.8h0M106.3 216.3h0M104.4 216.7h0M123.7 220.5h0M124 218.5h0M41.8 226.1h0M40.3 224.8h0M119.5 212.4h0M119.7 210.4h0M81.5 189.9h0M83.2 188.8h0M130 210.8h0M130.4 208.9h0M110.2 240.3h0M108.4 239.3h0M93.9 232.7h0M95.8 232h0M58.9 182h0M60.5 183.2h0M97.5 176.3h0M95.5 176.3h0M65.9 209.6h0M66.9 207.9h0M64.6 186.7h0M66.5 186.5h0M118.9 196.9h0M120.2 195.3h0M110.6 194.7h0M111.6 196.4h0M34.2 187.8h0M44.8 172h0M46.8 172.2h0M95.9 215.2h0M96 217.2h0M69.6 233.4h0M69.5 235.4h0M139.7 192.1h0M137.8 192.6h0M120.5 184.1h0M118.6 184.7h0M112.6 218.4h0M114.4 219.2h0M45.2 222h0M43.9 220.4h0M87.4 219h0M87.4 217h0M72 228.1h0M73.9 228.7h0M125.4 172.3h0M126.4 174.1h0"/></defs>
<use href="#ww4" stroke="#c4c4c4" stroke-width="1.60"/>
<use href="#ww4" stroke="#f6f6f6" stroke-width="0.90"/>
<path d="M41.8 220.9h0M42.5 218h0M41.6 217.9h0M68.2 214.8h0M78 218.1h0M79.2 215.1h0M122.8 216.5h0M113.7 215.5h0M118.5 210.5h0" stroke="#2434c8" stroke-width="1.66"/>
<path d="M78.1 162.3h0M126.4 156.8h0M101.8 155.6h0M89.7 151.5h0M62.2 156.2h0M134.5 153.4h0M117.1 152.6h0M142.5 154h0M105.9 253.6h0M133.1 256.2h0M88.9 249.6h0M140.1 243.3h0M74.5 250.5h0M99.7 251.5h0M50.5 249.9h0M43.3 220.6h0M75.6 217.1h0M124 214.1h0" stroke="#e6d21e" stroke-width="1.87"/>
</g>
<line x1="31.9" y1="161" x2="145" y2="161" stroke="#444" stroke-width="0.8" opacity="0.8"/>
<line x1="31.9" y1="148.8" x2="145" y2="148.8" stroke="#8a8a8a" stroke-width="1"/>
<line x1="31.9" y1="260.5" x2="145" y2="260.5" stroke="#8a8a8a" stroke-width="1"/>
<g transform="translate(186.8 152) scale(1 1.050)"><rect x="22.4" width="112.5" height="20" fill="url(#t1)"/></g>
<g transform="translate(207 245) scale(1 0.850)"><rect x="2.2" width="112.5" height="20" fill="url(#t1)"/></g>
<g stroke-linecap="round" fill="none">
<path d="M281.9 152.6l-.2 1.3M273.6 151.6l.8 1M311.5 152.1l-.5 1.2M233.3 152.9l-1.3 .2M269.8 156l-1.3 .2M286.5 155l1.1 .6M226.3 151.4l-.4 1.2M250.7 151.8l-1.3 .2M305.2 155.4l-.4 1.2M270.4 151.5l1.2 .6M286.4 153.2l1.3 .2M279.9 152.2l-1.1 .6M265.4 155l.8 1M282 151.8l-.7 1.1M262.9 151.2l-1 .8M279.1 152.3l1.1 .6M279.9 153.6l1.2 .5M245.3 152.4l1.3 .1M210.3 153.4l.4 1.2M272.5 176.6l-1.2 .4M278.2 174.3l.3 1.3M252.2 176.1l-1.3 .1M265 172.2l-1.3 .1M296.6 173.1l1.1 .6M276.9 174.9l-.9 .9M308.3 173.2l-1 .8M310.9 172l-1.2 .6M287 175.6l-1 .8M288.9 173.8l-.4 1.2M215 174.1l-.3 1.3M292.2 173.9l.3 1.3M245 171.7l1.3 .2M266.1 174.5l-.2 1.3M225 173.1l-.8 1M285.5 172.5l-1.3 .1M283.7 173.3l1 .9M247 172.3l.5 1.2M273.5 172.9l1 .8M257.6 173l1.1 .6M227.8 172l.9 .9M240.9 174l1 .9M290.8 174.4l1.3 .1M267.5 245.2l1.3 .3M309.5 241.6l1.3 .2M254.1 245.2l.4 1.2M244 245.4l-0 1.3M254.7 245.1l.7 1.1M301.5 245.1l-1 .8M300.7 245.7l1.3 .3M237.3 246.3l1.3 .2M287.6 245.8l.8 1M239.8 245.5l1.1 .7M239.2 243.7l1.3 .3M294.6 244.7l.6 1.2M235.7 243.8l-.3 1.3M301.6 245.6l-.1 1.3M307.6 244.2l-.3 1.3M249.6 245.6l.6 1.2M275 245.6l.7 1.1M250.3 243.2l1.3 .3M294.1 244.7l-.8 1M309.2 245.3l1.3 0M309.6 246.7l-.7 1.1M271.4 243.9l-1.2 .5M317 261.3l1.2 .5M217 259.3l-1.2 .6M281.5 262.3l-.8 1.1M303.1 261.3l1.2 .4M227 262.1l-.9 .9M221.6 262.4l.2 1.3M285.4 262.3l.4 1.2M270.3 261.5l-.7 1.1M218.2 262.1l.1 1.3M273.8 263.6l-1.2 .6M218.3 262.5l.1 1.3M319 260.6l.6 1.2M250.1 263.1l-.1 1.3M286.1 262.1l.4 1.2M280.5 262.8l-1 .9M255.9 263.9l-1.3 0M293.8 260.1l-1 .8M240.1 261.2l-.6 1.1M223.8 262.8l-1.2 .4M308 263.4l-1.1 .7M313.8 261.5l.3 1.3M239.7 262l-.1 1.3M317.9 260.6l1.2 .4M256.5 260l-0 1.3M214.4 261.9l1.3 .1M243.1 260l-.1 1.3M319.4 261.7l.2 1.3M291.6 262.8l-1.3 .3M243.3 259.4l0 1.3M222.5 216.9l1 1M226.9 222l-.1 1.3M224.4 218.8l1.3 .5M229 221.8l1.2 1.2M222.2 220.4l-1.8 .3M224.1 222.3l.2 1.8M219.6 215.1l1.2 1.2M217.6 216.5l-.9 1.1M228.1 220.4l.4 1.3M224.7 217.7l.2 1.8M231.6 221.3l-.9 1.3M232.4 222.8l.2 1.5M230.4 220.5l-.4 1.3M223.5 214.9l-1.8 .3M235.3 224.6l1.1 .2M219.3 217.7l-.2 1.3M227.1 220.3l1.1 .5M225.6 217l1.4 .8M229 223.6l-.8 1.6M225.6 214.9l.9 1.1M221.3 217l-1.4 .4M228.1 217.1l1.2 .3M219.3 212.5l1 .9M220.9 217l.5 1.8M222.9 215.5l.7 1.3M226.4 220.7l1.6 .3M285 189l1 1.1M293.3 188.8l1.6 1M287.3 190.4l-.9 1M286.5 187.9l-1.2 .1M291.7 191.4l-1.6 0M284.7 193l1.3 .6M291 190.8l1.8 .5M284 192.7l1.6 .3M281.6 192.3l-.9 1.1M298.2 191.1l0 1.1M281.8 188.4l-1.1 1.4M288.5 189.7l-.8 1.2M293.4 188.9l-1.3 1.2M291.2 191.6l0 1.4M294.1 188.6l.2 1.8M289.4 191.1l-.9 1.5M295 185.5l-1.1 .2M293.7 190.4l.2 1.5M286.1 193l-1.2 .4M289 192l1.4 .9M293.2 189.8l-1.4 .5M297.6 192.9l.8 1.3M293.9 189.5l-.2 1.8M291.6 191l-.9 1.3M294.4 186.9l.6 1.6M296.4 186.2l.7 1M266.3 206l1.2 .6M264.3 206.1l.8 1M269.5 196.6l1 .6M262.2 208.5l-.9 1.1M268.5 203.1l.6 1.3M257 213.9l-.8 .9M261.1 205.3l-0 1.7M265.8 205.6l-1.1 .7M260 208l-1.1 .7M267.1 198.9l.9 1.1M263.5 207.1l-1.8 .3M262.8 208l1.2 .8M258.9 207.2l-.4 1.7M268.4 200.2l-1.2 .2M261.3 204.1l-.5 1.6M260 212l-.6 1.6M267.3 202.4l.9 1.5M265.8 204l-.8 1.7M268.6 202.6l.2 1.6M268.7 202.3l-1.7 .5M266.3 208l-.8 1M267.3 201.8l1.5 1.1M261.7 203.9l-1.2 .7M263 207.4l-.7 1.5M265.9 200.5l1.4 .8M266.5 208.2l-.3 1.5" stroke="#6a6a6a" stroke-width="0.58"/>
<defs><path id="w5" d="M292.2 153h0M281.9 152.6h0M311.5 152.1h0M233.3 152.9h0M269.8 156h0M222.1 153.1h0M286.4 153.2h0M216.4 152.3h0M279.9 152.2h0M304.4 153.6h0M296.6 152.9h0M248.9 153.7h0M286.3 155.6h0M279.1 152.3h0M210.3 153.4h0M316.1 152.6h0M272.5 176.6h0M278.2 174.3h0M252.2 176.1h0M265 172.2h0M319.5 172.5h0M276.9 174.9h0M261.5 172.7h0M275.5 174.1h0M308.3 173.2h0M257.5 171h0M310.9 172h0M287 175.6h0M310.8 174h0M299.9 173.9h0M234.4 173h0M288.9 173.8h0M292.2 173.9h0M245 171.7h0M266.1 174.5h0M238.3 172h0M225 173.1h0M283.7 173.3h0M247 172.3h0M225.3 174h0M304.3 171.2h0M214.6 171.6h0M294.2 174.6h0M257.6 173h0M227.8 172h0M263.5 176.2h0M286.2 173.7h0M296.3 244.6h0M267.5 245.2h0M244 245.4h0M254.7 245.1h0M222.1 241.9h0M264 243.7h0M237.3 246.3h0M271.6 245.9h0M294.1 243.6h0M315.7 244.3h0M239.2 243.7h0M305.2 244.9h0M301.6 245.6h0M229.1 244.6h0M261.1 243.6h0M269.1 245.6h0M213.8 243.6h0M249.6 245.6h0M237.6 247.7h0M246 243.8h0M252.5 246.3h0M254.3 247.6h0M284.3 244.7h0M250.3 243.2h0M219.8 243.8h0M294.1 244.7h0M218.2 243.8h0M315.9 246.8h0M309.2 245.3h0M309.6 246.7h0M271.4 243.9h0M233.7 244.6h0M228.7 246.1h0M290.6 262.7h0M281.6 261.4h0M217 259.3h0M281.5 262.3h0M227 262.1h0M315.9 259.6h0M285.4 262.3h0M270.3 261.5h0M265 262.5h0M249.3 259.7h0M252.4 261.6h0M319 260.6h0M286.1 262.1h0M296.2 260.2h0M293.8 260.1h0M240.1 261.2h0M239.7 262h0M317.9 260.6h0M281.3 261h0M256.5 260h0M214.4 261.9h0M243.1 260h0M289 262.6h0M319.4 261.7h0M291.6 262.8h0M222.3 218h0M217.9 220.7h0M222.7 215.2h0M225.4 223.6h0M221.8 216.9h0M221 218.7h0M219.3 212.1h0M221.5 221.6h0M219.5 215.7h0M225.1 221h0M290.1 193.4h0M287.9 190h0M291 193.9h0M291.6 191.5h0M287.3 187.9h0M298.8 184.8h0M288.5 187.2h0M290.2 186.4h0M292.9 186.9h0M287.6 183.8h0M262 197.5h0M262.2 201.8h0M256.7 211.6h0M267.2 204.3h0M267.4 199.8h0M261.6 210.1h0M264 211.5h0M260.1 203.1h0M273.1 208h0M271.5 203.2h0"/></defs>
<use href="#w5" stroke="#999" stroke-width="1.97"/>
<use href="#w5" stroke="#f6f6f6" stroke-width="1.17"/>
<path d="M286.5 155h0M288.1 155.7h0M303.6 153.4h0M305.2 155.4h0M311.6 152.8h0M265.4 155h0M279.9 153.6h0M245.3 152.4h0M222.9 152.7h0M210.3 172h0M235.2 174.6h0M264.5 172.6h0M259.2 174.6h0M301.6 174.8h0M296.6 173.1h0M243.4 171.7h0M231.9 172.2h0M246.7 174.3h0M283.5 173.4h0M318.3 175.2h0M255.9 173.9h0M215 174.1h0M287.3 172h0M282.6 174.4h0M220.3 174.4h0M263.3 174.4h0M213.5 172.9h0M285.5 172.5h0M273.5 172.9h0M240.9 174h0M314.7 174.6h0M290.8 174.4h0M309.5 241.6h0M254.1 245.2h0M233.9 244.2h0M311.1 244.4h0M301.5 245.1h0M300.7 245.7h0M287.6 245.8h0M251.5 246.2h0M239.8 245.5h0M294.6 244.7h0M235.7 243.8h0M223.3 243.5h0M221.6 245.6h0M307.6 244.2h0M254.5 244.7h0M264.4 245.9h0M309.7 245.2h0M251.8 242.4h0M275 245.6h0M277.7 243.7h0M253.3 248.9h0M317 261.3h0M272.4 261.3h0M303.1 261.3h0M221.6 262.4h0M218.2 262.1h0M218.3 262.5h0M299.8 261.6h0M216.1 262.1h0M259.1 261.4h0M280.5 262.8h0M223.8 262.8h0M316.4 261.4h0M313.8 261.5h0M316.9 263h0M239.3 259.8h0M288.2 261.3h0M243.3 259.4h0M272.7 261.1h0M239.3 262.7h0" stroke="#e01616" stroke-width="2.09"/>
<path d="M291.8 213.4h0M215.2 232.3h0M306.3 175.9h0M223.3 224.9h0M277.8 188.9h0M222.6 177.6h0M220.6 177.8h0M281.8 237.2h0M218 219.3h0M223.7 227.3h0M243.3 173.1h0M267.2 237.9h0M227.5 188.6h0M314.6 187.8h0M249.2 178.7h0M278.8 219.8h0M225.7 208.4h0M259.6 214.3h0M226.4 192.3h0M269.4 237.8h0M283.3 203.2h0M302.4 194.1h0M238.9 198.7h0M239.5 218.3h0M315.7 181.4h0M247.4 180.4h0M303.4 214.9h0M317.4 200.7h0M290.1 191.8h0M246.7 179.9h0M289.3 202.6h0M217.3 194.7h0M314.3 229.9h0M266.2 180.5h0M235.3 174.9h0M242.3 180.8h0M313.1 241.1h0M221.7 228.3h0M269.6 179h0M270.2 204.5h0M271.1 243.1h0M233.4 210.1h0M252.4 218.6h0M246.3 231.4h0M225.8 176.9h0M261.7 204.9h0M273.6 209h0M292.3 191.4h0M293.9 216.6h0M232.7 223h0M221.7 244.8h0M228.9 179.5h0M278.6 234.7h0M287.3 180.6h0M238.1 198.7h0M289.7 181.8h0M247.4 215.6h0M264.2 235.9h0M241.5 197h0M225 203.2h0M317.9 182.2h0M293.7 225.4h0M314.3 195.5h0M283.2 203.3h0M284.8 197.5h0M266 224.2h0M298 184.5h0M210.5 229.9h0M302.6 176.1h0M263.1 181.6h0M317.7 234.4h0M301.7 219.9h0M281.4 189.5h0M211.5 220.3h0M292.2 209.3h0M244.1 225.9h0M276.1 227.5h0M285.9 177.4h0M303 183.6h0M212 228.2h0M260.8 204.6h0M262.9 210.6h0M298 228.3h0M302.3 217.2h0M304.1 217.4h0M307.8 244.2h0M217.7 197.5h0M251.1 179.4h0M210.8 203.9h0M290.6 201h0M315.4 237.4h0M234.3 202h0M255.4 174.9h0M294.9 222.9h0M285.6 227.9h0M311.4 230.1h0M283 220.4h0M289 204.9h0M246.5 191h0M295.1 186.8h0M302.9 199.3h0M277.1 199.1h0M242.1 173.5h0M257.2 180.6h0M271 242h0M246.3 239.6h0M227 173.5h0M276.7 227.5h0M298.8 205.5h0M277.3 211.7h0M257.4 204.7h0M235.7 194.2h0M218.2 211.7h0M283.6 215.8h0M290.8 202.3h0M304.7 229.1h0M285 181.9h0M219.5 219.1h0M280.5 175.9h0M262.1 204.9h0M241 205.4h0M284.6 190.5h0M220.4 194.8h0M242.5 179.9h0M314.4 179.3h0M233.4 222.1h0M221.2 235.1h0M285.9 205.6h0M216.8 189.4h0M239.5 232.2h0M248.6 209.5h0M273.1 205.5h0M278.1 202.2h0M224.9 204.6h0M244.1 199.3h0M275.4 185.6h0M291.2 176h0M293.6 238.2h0M219.4 218.1h0M282.7 175.5h0M228.2 196.9h0M266.6 234.4h0M278.6 234h0M262.6 196h0M222.7 236.7h0M296.7 240.9h0M253.4 234.7h0M224.7 226.8h0M260.8 193h0M255.7 240.1h0M238.5 217.6h0M278 205.7h0M214.3 231.9h0M237.2 209h0M265.8 237.9h0M244.1 197.4h0M228.3 240.3h0M265.4 192.7h0M215.4 189.1h0M297.2 188.9h0M214 181.8h0M318.8 195.4h0M217.6 180.9h0M291.9 239.3h0M296.6 191.4h0M240.1 177.7h0M289.7 208.4h0M243.9 234.2h0M290.7 225.7h0M271.7 200.6h0M241.5 175.6h0M260.8 181.7h0M237.6 199.5h0M264 233.3h0M275.6 196.2h0M245.3 218.7h0M297.4 194.3h0M211.4 215.1h0M211 194.7h0M233 220.8h0M241.4 225.6h0M311.8 181.6h0M288 225.7h0M306.4 218.3h0M219.1 186.4h0M270.4 179.9h0M248.6 207.2h0M302.8 194.8h0M277.1 220.2h0M241.1 206.9h0M281.4 182.6h0M272.1 187h0M312.7 174.5h0M242.8 175.2h0M228.2 201.8h0M219.1 198.3h0M279.2 174.5h0M241.3 237.4h0M238.8 207.6h0M226.9 221h0M262.9 211.7h0M315.7 217.1h0M266 220.7h0M285.7 199.5h0M278 221.2h0M288.3 224.1h0M235.8 217.2h0M217.1 227.3h0M264.6 210.7h0M294.7 206.7h0M259.2 213.8h0M246 224.4h0M219.7 229h0M269.8 229.8h0M226.5 208h0M287.3 242h0M301.6 177.6h0M311 241.1h0M247.1 228.4h0M283.9 218.9h0M289 242.9h0M264.7 220.3h0M215.8 242.1h0M265.4 176.1h0M312.7 193h0M299.8 190.4h0M273 237.5h0M246.6 191.7h0M210.4 181.6h0M245 228.3h0M249.4 191h0M279.7 207.5h0M268.1 192.4h0M296.9 180.6h0M294.7 212.1h0M245.3 241.1h0M309 203.5h0M239 244.2h0M291.6 231.4h0M244.2 206.5h0M310.4 183.8h0M271.4 194.9h0M257.4 210.5h0M244.6 241.2h0M244.3 229h0M256.9 180.5h0M320.2 217.7h0M284.5 221.4h0M250.8 183.6h0M223.7 202.2h0M284.7 197.3h0M244.9 208.5h0M304.2 207.8h0M219.8 237.1h0M242.5 224.3h0M308.3 240.4h0M216 203.7h0M275.7 188h0M217.4 210.6h0M259.5 237.5h0M264.6 229.4h0M314.7 235.3h0M308 194.4h0M245.9 239.6h0M313.3 225.3h0M241.2 220.2h0M285.4 175.8h0M248.4 185.3h0M267.2 199.8h0M255.8 241.2h0M293.2 240.2h0M307.3 179.9h0M291.8 227.2h0M262.8 225h0M231.8 188.8h0M214.4 241.5h0M248.8 202.7h0M296.4 208.5h0M307.7 239.9h0M261 188.9h0M249.9 194.4h0M277.3 209.2h0M285.3 207.1h0M258.7 230h0M278.9 215.4h0M288.8 186.9h0M227.7 174.5h0M246.6 191.3h0M212.9 221.4h0M258.4 221.7h0M287.6 188.8h0M230.6 214.8h0M242 237h0M288.6 183h0M242 217.5h0M245.9 192.1h0M318.1 220.3h0M272.3 220.2h0M218.8 180.9h0M276.3 243.4h0M304.3 244.1h0M256.8 206.9h0M294.1 214.4h0M315.6 210.9h0M270.7 215.4h0M223 182.4h0M248.9 182.3h0M292.7 228h0M224.9 227.7h0M284 223.1h0M210.6 215.5h0M275.2 243.9h0M290.9 204.3h0M243.7 189.6h0M277.3 238.5h0M265.4 219.9h0M255.3 192.2h0M253 175.7h0M249.9 222.4h0M264.4 231.8h0M249.1 227.1h0M257.3 237h0M269.5 234.8h0M231.7 231.1h0M313.4 196.6h0M281.1 244.3h0M253.3 182h0M218.1 234.1h0M231.4 241.4h0M293.5 197.9h0M251 243.8h0M310 236.6h0M239.7 225.6h0M275.7 188.8h0M315.7 215.5h0M232.7 218.4h0M210.5 199.9h0M264.7 178.3h0M284.8 195.8h0M268.4 229.8h0M280.7 213.6h0M221 181.2h0M302.2 173.6h0M277.4 234.6h0M251.8 181.2h0M288.6 206.9h0M250.5 240.4h0M233.5 244h0M229.9 187.2h0M253 207.1h0M240.5 215.8h0M234.8 212.3h0M308.9 183.3h0M239.2 197.7h0M245.2 243.6h0M302.4 243.3h0" stroke="#dc2a2a" stroke-width="1.55"/>
<defs><path id="ww5" d="M293.1 213.5h0M291.5 214.6h0M213.9 232.4h0M215.4 231.1h0M305.3 175.2h0M307.2 175h0M222.4 224.1h0M224.4 224.2h0M279 188.5h0M277.9 190.2h0M222.1 176.4h0M223.9 177.4h0M219.4 178.1h0M220.6 176.5h0M281.6 236h0M283.1 237.3h0M218.7 218.2h0M218.9 220.2h0M223.6 228.6h0M222.5 226.9h0M243.3 171.8h0M244.5 173.5h0M265.9 238.2h0M267.2 236.7h0M227.4 189.8h0M226.3 188.2h0M315.7 188.4h0M313.7 188.7h0M248.1 179.3h0M249 177.5h0M279.4 221h0M277.6 220.1h0M225.2 207.2h0M226.9 208.2h0M260.7 213.6h0M260 215.5h0M225.1 192.3h0M226.6 191h0M268.2 237.4h0M270.1 236.8h0M283.6 202h0M284.5 203.8h0M303.4 194.9h0M301.4 194.9h0M239.9 197.9h0M239.5 199.9h0M238.7 217.3h0M240.7 217.8h0M315.8 180.1h0M316.9 181.9h0M246.6 179.5h0M248.6 179.8h0M304.6 215.3h0M302.7 216h0M316.6 199.7h0M318.6 200.1h0M289 192.5h0M289.7 190.6h0M247.8 180.4h0M245.9 180.9h0M290.2 201.6h0M290 203.6h0M217.8 195.9h0M216.1 194.9h0M315.3 229.1h0M314.8 231.1h0M265.1 181.1h0M265.8 179.3h0M234.1 174.4h0M236.1 173.9h0M241.1 180.7h0M242.7 179.6h0M311.9 241.4h0M313.2 239.8h0M222.7 229.2h0M220.7 229.1h0M270.8 178.9h0M269.4 180.3h0M270 205.8h0M269 204h0M269.9 243.6h0M270.8 241.8h0M234.5 209.4h0M233.8 211.3h0M253.5 218h0M252.8 219.9h0M245 231.2h0M246.8 230.2h0M226.9 176.4h0M225.9 178.1h0M262.8 204.3h0M262 206.1h0M273.3 210.3h0M272.5 208.4h0M291.1 191.7h0M292.4 190.2h0M294.8 217.5h0M292.8 217.1h0M232.6 221.8h0M234 223.2h0M222.5 245.8h0M220.6 245.4h0M227.7 179.9h0M228.8 178.2h0M279.3 235.8h0M277.4 235.1h0M286.2 180h0M288.2 179.7h0M239.3 199.1h0M237.4 199.7h0M289.9 180.5h0M290.9 182.2h0M246.6 214.6h0M248.6 215.1h0M265.3 235.3h0M264.5 237.1h0M242.4 196.1h0M242.1 198.1h0M223.9 203.9h0M224.7 202h0M317.2 181.2h0M319.1 181.8h0M295 225.4h0M293.4 226.7h0M315.1 194.5h0M315.1 196.5h0M283.9 202.2h0M284.1 204.2h0M284.7 196.2h0M286.1 197.6h0M265.1 223.4h0M267.1 223.5h0M296.8 184.5h0M298.3 183.2h0M210.7 228.7h0M211.7 230.4h0M301.3 175.8h0M303.1 175h0M263.5 182.8h0M261.8 181.7h0M317.8 235.7h0M316.4 234.2h0M300.7 220.7h0M301.1 218.7h0M281.2 190.7h0M280.2 189h0M210.4 219.7h0M212.4 219.4h0M291.1 209.8h0M292 208h0M243.3 226.9h0M243.5 224.9h0M274.9 228h0M276 226.3h0M285.9 178.7h0M284.7 177h0M304.1 184.1h0M302.2 184.7h0M213 228.9h0M211 228.9h0M261.3 203.4h0M261.9 205.3h0M264.1 210.8h0M262.4 211.7h0M297.1 227.4h0M299 227.6h0M302 216h0M303.6 217.3h0M305.4 217.6h0M303.6 218.6h0M308.2 245.5h0M306.5 244.3h0M218.7 198.2h0M216.7 198.3h0M251.3 180.7h0M249.8 179.3h0M210.4 205.1h0M291.3 202.1h0M289.4 201.3h0M314.9 236.2h0M316.6 237.2h0M233.1 202.4h0M234.2 200.7h0M254.2 175.2h0M255.4 173.6h0M295.7 222h0M295.7 224h0M286.5 227h0M286.3 229h0M310.3 230.7h0M311 228.9h0M284 219.5h0M283.6 221.5h0M289.4 206.1h0M287.7 205.1h0M245.9 189.9h0M247.7 190.8h0M293.9 186.6h0M295.7 185.7h0M304 200h0M302 200.2h0M277.9 200.1h0M275.9 199.6h0M242.9 174.5h0M240.9 174h0M258.5 180.6h0M256.9 181.8h0M271.6 240.9h0M271.9 242.8h0M247.4 240.2h0M245.4 240.5h0M228.1 173.9h0M226.2 174.5h0M275.4 227.7h0M276.8 226.2h0M300 204.9h0M299.2 206.7h0M277.9 212.8h0M276.1 212h0M257.9 203.6h0M258.3 205.5h0M236.2 193.1h0M236.7 195h0M218.4 212.9h0M216.9 211.6h0M284.7 216.5h0M282.7 216.6h0M290.3 203.5h0M289.8 201.5h0M304.2 230.3h0M303.7 228.3h0M283.8 181.7h0M285.5 180.7h0M220.6 218.5h0M219.8 220.4h0M279.2 175.8h0M280.9 174.7h0M262.8 205.9h0M260.9 205.4h0M242.2 205.9h0M240.2 206.3h0M284.3 191.8h0M283.5 189.9h0M221.6 194.3h0M220.6 196h0M241.8 181h0M241.7 179h0M313.8 180.4h0M313.6 178.4h0M232.2 222.4h0M233.4 220.8h0M220.6 236.2h0M220.3 234.2h0M286.8 204.7h0M286.6 206.7h0M216.5 190.7h0M215.7 188.8h0M238.2 232.2h0M239.8 231h0M249.3 208.4h0M249.4 210.4h0M272.4 204.4h0M274.3 205.1h0M277 202.8h0M277.9 201h0M225.8 203.7h0M225.5 205.7h0M243.1 198.5h0M245.1 198.5h0M274.2 186h0M275.3 184.4h0M292.2 176.8h0M290.2 176.7h0M294.7 238.7h0M292.8 239.2h0M219.1 219.4h0M218.2 217.5h0M281.5 175.8h0M282.7 174.2h0M227.8 195.7h0M229.5 196.8h0M267.2 233.4h0M267.4 235.4h0M279.2 235.2h0M277.4 234.3h0M261.7 195.1h0M263.7 195.4h0M221.8 237.7h0M222 235.7h0M297.9 240.4h0M296.9 242.1h0M254.6 234.7h0M253.1 235.9h0M224.6 225.6h0M226 227h0M261.4 194.1h0M259.6 193.3h0M254.7 240.8h0M255.3 238.9h0M237.3 218.1h0M238.3 216.3h0M277.7 207h0M276.8 205.1h0M213.6 230.9h0M215.5 231.5h0M236.1 208.3h0M238.1 208h0M266.1 236.6h0M267 238.4h0M243.2 196.6h0M245.2 196.7h0M229.5 240.6h0M227.6 241.4h0M264.1 192.5h0M265.9 191.5h0M216.7 189.1h0M215.2 190.4h0M295.9 189.3h0M297.1 187.6h0M214.4 183h0M212.7 181.9h0M318.8 196.7h0M317.5 195.2h0M218.9 180.9h0M217.3 182.2h0M292.5 238.2h0M292.8 240.2h0M297.2 192.5h0M295.3 191.7h0M240.7 178.8h0M238.9 178h0M290.9 208.4h0M289.3 209.6h0M244.7 233.1h0M244.8 235.1h0M291.8 225h0M291.1 226.9h0M270.6 200h0M272.6 199.6h0M241.4 176.9h0M240.3 175.2h0M261.9 182.3h0M259.9 182.6h0M238.9 199.2h0M237.7 200.8h0M264 232h0M265.3 233.5h0M274.6 197h0M275.1 195h0M246.1 217.7h0M246.1 219.7h0M298.2 195.3h0M296.3 194.7h0M211.6 216.3h0M210.1 214.9h0M211.2 196h0M231.9 220.2h0M233.9 219.9h0M241.8 226.8h0M240.1 225.6h0M310.8 180.9h0M312.8 180.7h0M286.7 225.8h0M288.2 224.5h0M305.9 217.1h0M307.6 218.1h0M217.9 186.7h0M219.1 185.2h0M270.4 178.6h0M271.7 180.1h0M247.3 207h0M249 206h0M301.6 194.3h0M303.5 193.7h0M276.6 221.4h0M276 219.4h0M240.1 206.1h0M242.1 206.1h0M280.2 183.1h0M281.3 181.4h0M273.1 187.8h0M271.1 187.8h0M311.4 174.5h0M313 173.3h0M242.7 176.5h0M241.7 174.8h0M229.2 201.1h0M228.6 203h0M218.7 197.1h0M220.4 198.2h0M279.4 175.8h0M277.9 174.4h0M240.2 237.9h0M241.2 236.2h0M237.5 207.7h0M239 206.3h0M226.6 219.8h0M228.1 221.1h0M263.1 210.4h0M264.1 212.2h0M316.9 217.5h0M315.1 218.2h0M265.4 221.8h0M265.1 219.8h0M284.8 198.6h0M286.8 198.8h0M279.2 220.7h0M278.3 222.5h0M288 222.9h0M289.6 224h0M234.9 216.3h0M236.9 216.5h0M217.3 228.6h0M215.9 227.2h0M264.4 209.5h0M265.8 210.8h0M295.8 206.2h0M294.8 208h0M260.4 213.7h0M258.9 215h0M247.3 224.1h0M246.1 225.7h0M219 227.9h0M220.9 228.5h0M270.6 228.9h0M270.6 230.9h0M225.6 207.2h0M227.6 207.3h0M287.8 240.8h0M288.4 242.7h0M300.5 178.2h0M301.3 176.4h0M311 239.8h0M312.2 241.5h0M245.9 228.2h0M247.7 227.3h0M284.7 217.9h0M284.6 219.9h0M287.8 242.9h0M289.3 241.6h0M263.6 219.9h0M265.5 219.3h0M215.3 243.2h0M214.8 241.3h0M265.9 177.2h0M264.1 176.2h0M312.3 194.2h0M311.6 192.3h0M299.2 189.3h0M301 190h0M271.7 237.7h0M273.1 236.3h0M245.8 192.6h0M245.9 190.6h0M211.2 182.6h0M246.2 227.9h0M245.2 229.6h0M249.1 192.2h0M248.3 190.4h0M280.6 208.3h0M278.6 208.2h0M268.9 193.4h0M266.9 192.9h0M295.7 181h0M296.7 179.3h0M295.6 211.2h0M295.4 213.2h0M246.6 241.5h0M244.7 242.2h0M310.2 203.6h0M308.6 204.8h0M238.7 243h0M240.2 244.2h0M292.8 231.4h0M291.2 232.6h0M245.3 205.8h0M244.6 207.7h0M311.6 183.7h0M310.2 185h0M272.5 195.6h0M270.5 195.8h0M256.2 210.8h0M257.3 209.2h0M243.3 241.4h0M244.7 240h0M244.3 230.3h0M243 228.7h0M257 181.8h0M255.7 180.3h0M318.9 217.5h0M320.7 216.6h0M283.3 221.2h0M285 220.2h0M252 183.8h0M250.2 184.8h0M225 202.3h0M223.3 203.4h0M284.8 198.5h0M283.4 197.1h0M245.3 209.7h0M243.7 208.5h0M305.4 208.3h0M303.4 208.8h0M218.7 236.5h0M220.6 236.2h0M243.7 224.7h0M241.8 225.4h0M307.6 239.3h0M309.5 240.1h0M216.6 202.6h0M216.8 204.6h0M275.9 189.3h0M274.5 187.9h0M217.9 211.7h0M216.2 210.8h0M260.5 236.7h0M259.9 238.7h0M265.4 230.4h0M263.4 230h0M313.5 235.5h0M314.9 234.1h0M309.2 194.2h0M307.8 195.7h0M246.6 238.5h0M246.8 240.5h0M314.4 225.9h0M312.5 226.3h0M242.2 219.5h0M241.6 221.4h0M284.6 176.8h0M284.5 174.8h0M248.6 186.6h0M247.1 185.2h0M267.1 201.1h0M266 199.4h0M254.7 240.5h0M256.7 240.4h0M294.4 240.4h0M292.6 241.3h0M307.8 181h0M306.1 180h0M290.9 226.4h0M292.9 226.5h0M261.7 225.6h0M262.6 223.8h0M232.8 189.6h0M230.8 189.5h0M215.7 241.2h0M214.5 242.8h0M248.6 203.9h0M247.6 202.2h0M297 209.6h0M295.2 208.8h0M309 240.2h0M307.1 241h0M260.1 187.9h0M262.1 188.4h0M249.5 195.6h0M248.8 193.8h0M276 209.3h0M277.5 208h0M286.5 206.7h0M285.4 208.3h0M259.8 229.5h0M258.9 231.3h0M279.2 214.2h0M280 216h0M287.7 187.6h0M288.4 185.7h0M227.2 173.3h0M228.9 174.3h0M247.9 191.6h0M246.1 192.5h0M212.1 222.4h0M212.1 220.3h0M259.5 221h0M258.8 222.9h0M288.8 188.7h0M287.3 190h0M229.8 213.8h0M231.8 214.3h0M241.1 236.2h0M243.1 236.3h0M289.2 181.9h0M289.5 183.9h0M241.9 216.2h0M243.3 217.7h0M245.3 193.2h0M244.9 191.2h0M316.9 220.6h0M318.2 219.1h0M272.2 221.5h0M271.1 219.8h0M217.6 180.2h0M219.6 179.9h0M275.4 242.5h0M277.4 242.7h0M303 244.1h0M304.6 242.8h0M255.9 207.8h0M256.2 205.8h0M295 215.3h0M293 215.1h0M315.6 209.6h0M316.8 211.2h0M269.5 214.8h0M271.5 214.4h0M222.9 181.2h0M224.3 182.6h0M249.4 181.1h0M249.9 183.1h0M291.8 228.8h0M292.2 226.9h0M225.2 228.9h0M223.6 227.6h0M283.8 224.4h0M282.8 222.7h0M211 214.3h0M211.8 216.1h0M275.4 245.1h0M273.9 243.7h0M289.8 203.7h0M291.8 203.4h0M242.5 189.2h0M244.3 188.5h0M276.3 237.7h0M278.3 237.7h0M264.5 219h0M266.5 219.2h0M254.8 191h0M256.6 192h0M253.6 176.8h0M251.8 176h0M249.2 221.4h0M251.1 222h0M263.8 232.9h0M263.4 230.9h0M248.5 225.9h0M250.3 226.8h0M258.5 237.2h0M256.8 238.2h0M270.4 233.9h0M270.1 235.9h0M230.4 230.9h0M232.2 230h0M312.7 195.5h0M314.6 196.3h0M280.4 245.4h0M280.2 243.4h0M252.8 180.8h0M254.6 181.8h0M218.9 235.2h0M217 234.6h0M230.1 241.4h0M231.7 240.2h0M293.6 199.2h0M292.3 197.6h0M251.4 244.9h0M249.7 243.9h0M309.5 235.4h0M311.3 236.3h0M240.7 224.9h0M240.1 226.8h0M274.7 188h0M276.7 188.1h0M316.5 216.6h0M314.5 216h0M233.9 218.8h0M232 219.5h0M210.5 201.2h0M263.6 177.8h0M265.5 177.3h0M283.7 195.2h0M285.7 194.9h0M267.3 229.2h0M269.3 228.9h0M281.2 212.5h0M281.6 214.4h0M221.9 180.3h0M221.7 182.3h0M303.2 172.8h0M302.8 174.7h0M277.1 233.4h0M278.7 234.6h0M251.9 179.9h0M253 181.6h0M288.4 208.1h0M287.4 206.4h0M249.3 240.7h0M250.5 239.1h0M234.8 243.8h0M233.4 245.3h0M229.7 185.9h0M231.1 187.3h0M252.5 206h0M254.2 206.9h0M240.8 217h0M239.2 215.8h0M233.6 212.8h0M234.5 211h0M310 182.7h0M309.2 184.5h0M240.2 198.5h0M238.2 198.5h0M244.4 244.6h0M244.5 242.6h0M302 242.1h0M303.7 243.2h0"/></defs>
<use href="#ww5" stroke="#c4c4c4" stroke-width="1.60"/>
<use href="#ww5" stroke="#f6f6f6" stroke-width="0.90"/>
<path d="M230 212.5h0M222.2 216h0M220.9 216.4h0M289.1 191.6h0M298.2 181.8h0M287.8 191.3h0M267.8 205h0M263.9 205.8h0M272.9 208.9h0" stroke="#2434c8" stroke-width="1.66"/>
<path d="M235.7 154.5h0M254.5 171.5h0M250.4 158.9h0M261.9 158.4h0M291.1 166.6h0M228.3 157.6h0M284.5 170.9h0M281.6 161.2h0M318 153.1h0M292.1 249.9h0M301.8 255.4h0M253.1 255.4h0M237.4 250h0M307.1 252.6h0M309.3 248.7h0M225.4 246.8h0M226.7 221.3h0M294.3 186h0M263.4 201.5h0" stroke="#e6d21e" stroke-width="1.87"/>
</g>
<line x1="209.2" y1="163" x2="321.7" y2="163" stroke="#444" stroke-width="0.8" opacity="0.8"/>
<line x1="209.2" y1="151" x2="321.7" y2="151" stroke="#8a8a8a" stroke-width="1"/>
<line x1="209.2" y1="264" x2="321.7" y2="264" stroke="#8a8a8a" stroke-width="1"/>
<g transform="translate(352.5 151) scale(1 1.000)"><rect x="28.6" width="112.9" height="20" fill="url(#t1)"/></g>
<g transform="translate(361.5 246) scale(1 0.950)"><rect x="19.6" width="112.9" height="20" fill="url(#t1)"/></g>
<g stroke-linecap="round" fill="none">
<path d="M434.3 151.1l-1 .9M415.8 150.9l-1.2 .5M440.4 152.6l.1 1.3M459.5 153.5l-1.2 .4M450.9 151.2l.4 1.2M426.2 151l-1.3 .1M460.4 150.5l.1 1.3M469 151.3l1.2 .5M450 150.8l.5 1.2M416 152.6l-.6 1.1M489.8 152.2l.4 1.2M414.3 152.6l-1 .8M394.5 151.1l-1.3 .2M436.6 150.4l-.5 1.2M451.9 152.3l-1.1 .7M452.9 150.8l1.1 .7M459.8 152.5l-.9 1M398.8 150.8l1 .8M469.3 152.1l.7 1.1M471.4 169.5l-.5 1.2M424.8 172.5l-.9 .9M394.8 170.8l-.2 1.3M400.8 172.6l1.2 .4M463 172l.2 1.3M404.5 172.6l-.4 1.2M492.5 170.4l-.4 1.2M385.7 168.9l-1.3 .2M387.8 169.3l1.3 .3M382.4 171.3l1.2 .5M471.9 171.8l-.4 1.2M399.2 173.5l.9 .9M467.3 171l.5 1.2M454.1 170.9l1.2 .5M391.7 173.1l1.1 .6M462.8 170.7l1.1 .7M451.8 172.5l-.5 1.2M463.5 173l1.3 0M432.6 172.1l-.5 1.2M393.4 171.4l-1.1 .6M398.4 170.2l-.1 1.3M470.2 173.9l-.2 1.3M455.5 170.7l-1.2 .5M437 170.1l1 .8M415.8 170.8l-.8 1M392.1 170.3l1.1 .7M421.9 170.5l.3 1.3M481.5 246.6l-.6 1.1M438.4 247l.2 1.3M441.3 246.5l.7 1.1M481.2 244.8l1.3 .2M477.9 245.4l-1 .8M397.1 247.1l.8 1M401.6 247l1.3 .1M403.5 246.3l1 .8M410.2 243.6l.5 1.2M450.8 248.5l-1.2 .6M421.2 248.6l1.3 .1M485.8 245l1.3 .2M384.8 248.4l-.7 1.1M404.2 243.7l.8 1.1M426.5 247.5l.3 1.3M465.9 246.3l-.8 1M427.1 245.1l-1.3 .1M433.6 245.9l.7 1.1M489.4 265.2l1.2 .5M412.1 265.1l-.6 1.2M483.2 265.1l-1.3 .1M385.1 267l1 .8M449.3 263.9l.6 1.2M413.8 264.8l1.2 .5M470.6 264.3l.5 1.2M427.1 265.2l-1.3 .3M392.5 266.4l-0 1.3M463.1 266.4l-.5 1.2M492.1 265.2l.5 1.2M464.4 266.2l-.2 1.3M404.3 262.5l-0 1.3M384 266.5l-1.3 .1M412.6 267.1l1 .8M453 262.2l-1 .8M414.5 266.2l-1.1 .7M472.4 264.4l.8 1M463.7 266.4l-.1 1.3M398.5 264.4l-1.2 .5M385.5 217.9l1.3 .9M402.6 221.3l-.9 1.6M391.9 216.4l-.5 1.7M398.8 223.3l-.1 1.5M386.4 218.7l.4 1.2M389.7 220.6l.7 1.6M388.5 219.3l-.2 1.3M392.2 222.6l-.4 1.6M385.5 219l.4 1.7M387.6 219.9l-.3 1.8M389.6 219.7l-1.2 .2M392 222.2l-.1 1.8M396.9 219.7l-1.4 0M392.6 219.4l-1.6 .8M385.1 220.5l-.7 1.7M394.4 219.6l1.4 1.1M390.5 219.2l-.2 1.2M385.4 220.6l-1.7 .7M396.3 220l.6 .9M399.4 219.4l-1.1 .6M387.7 217.8l-.4 1.2M388.7 219.8l-.9 1.1M394.2 217.7l-.6 .9M396.1 220.2l-1.5 .1M397.3 217.8l-1.7 .4M392.6 218.6l-1.4 .8M424 214.7l1.8 .4M424.8 215.3l-1.6 .6M427.2 212.4l-1 .5M430.3 215.5l-1.5 0M433.4 211.3l.3 1.7M422.4 214l.3 1.2M426.5 216.8l1.6 .3M431.7 215.5l.3 1.4M435.3 207.9l-.3 1.8M426.8 218.4l.5 1.1M430.2 213.4l1.7 .2M433.9 216.4l1.6 .5M431.9 214.6l.6 1.4M423 216.6l-1.3 1.2M432 215.7l-.6 .9M429.7 216.3l1.6 .7M426.4 219l0 1.2M429.6 214l1 .6M431.9 210.8l-0 1.4M424.9 217l1.7 .4M421.5 219.1l.5 1.7M430.4 213.7l1.8 .2M428.1 216.8l-1.1 .3M428.5 210.8l-1.2 .5M422.2 220.7l-1.2 .2M429.3 214.4l1 .8M479 213l1.6 .3M475.7 209.1l1.2 1.4M480.7 209.2l.1 1.1M480.5 215.1l-1.7 .7M484.6 212.1l.6 1.3M478 210.7l-.8 1.2M478.9 208.6l-.2 1.5M475 205.5l-1.5 .8M477.2 204.2l1 1M477.1 205.8l-1.1 .5M479.3 214l1.2 .3M475.4 206.2l-1.3 .6M483.7 217.6l.1 1.3M477.6 210l1.7 .3M474.3 205.8l-.2 1.6M477.7 209.2l1.2 .7M473.9 208.8l.8 1.6M482.2 210.3l-.8 1.6M476.2 214.6l1 .6M481 216.6l1 .8M476.1 209.6l-.1 1.1M478.8 209.8l-.6 1.2M478.6 211l-1.5 .6M477 203.9l-.7 1.6M473 206.4l-.3 1.2M480.1 215.2l-.5 1.6" stroke="#6a6a6a" stroke-width="0.58"/>
<defs><path id="w6" d="M434.3 151.1h0M412.3 151.7h0M414.4 151.2h0M471.4 151.3h0M396.2 151.5h0M410.4 151.8h0M416 152.6h0M489.8 152.2h0M394.5 151.1h0M476.8 151.9h0M428.9 151.4h0M392.9 152.6h0M451.9 152.3h0M397.3 154h0M423.2 155.3h0M406.7 151.8h0M469.3 152.1h0M455.5 151.5h0M471.4 169.5h0M394.8 170.8h0M484.4 170.6h0M400.8 172.6h0M491.1 174.1h0M463 172h0M404.5 172.6h0M410.4 169.1h0M492.5 170.4h0M385.7 168.9h0M385.2 174.1h0M382.4 171.3h0M424.7 169.5h0M403.5 168.5h0M471.9 171.8h0M434.6 172.1h0M434.3 169.6h0M399.2 173.5h0M396.8 169.6h0M467.3 171h0M396.1 173.3h0M439.8 169.5h0M422.5 173.8h0M454.1 170.9h0M394.7 169.6h0M462.8 170.7h0M451.8 172.5h0M432.6 169.2h0M463.5 173h0M432.6 172.1h0M393.4 171.4h0M398.4 170.2h0M383.5 174.8h0M470.2 173.9h0M420.5 170.8h0M455.5 170.7h0M460 171.7h0M392.1 170.3h0M402.4 171.9h0M421.9 170.5h0M481.5 246.6h0M425.2 247h0M461.7 245.9h0M439.3 246.6h0M477.9 245.4h0M397.1 247.1h0M406.2 245.3h0M403.5 246.3h0M421.1 246.6h0M447.8 245.2h0M427.2 245.5h0M395.4 244.1h0M410.2 243.6h0M461.1 243.8h0M415.9 248.2h0M393.6 246.7h0M492.9 249h0M452.8 246.2h0M490.4 244.7h0M394.8 244.8h0M474.1 247.7h0M472.1 245.8h0M450.8 248.5h0M453.6 246.3h0M485.8 245h0M406.8 246.2h0M421.7 245.1h0M444.4 245h0M483.9 246h0M431 245.3h0M405.9 246.4h0M448.5 247.4h0M478.5 248h0M404.2 243.7h0M465.9 246.3h0M448.2 247.1h0M489.4 265.2h0M414.3 264.6h0M412.1 265.1h0M448.4 264.3h0M477.1 265h0M388.6 263.6h0M413.8 264.8h0M470.6 264.3h0M427.1 265.2h0M446.5 264h0M392.5 266.4h0M418.9 264.4h0M463.1 266.4h0M475.5 265.2h0M460.4 265h0M404.4 265.1h0M486.4 265.2h0M464.4 266.2h0M476.3 263.5h0M453 262.2h0M390 266.4h0M487.1 265.2h0M450 264.6h0M469.4 265.2h0M403.4 266.2h0M472.4 264.4h0M412.4 265.3h0M489.1 263.5h0M389.3 222.7h0M390.6 220.3h0M390.4 221.2h0M387.2 215.5h0M398.5 217.8h0M390.4 220.4h0M385.9 214.4h0M389.3 221h0M388.9 218.6h0M394 216.5h0M417.3 218.8h0M427.3 214h0M429 218.8h0M425.8 222.8h0M418.6 214.9h0M425.3 211.2h0M423.8 214.3h0M426.2 223.8h0M434.2 218.7h0M421.5 211.4h0M476.1 216h0M476.2 206.3h0M475.1 208.3h0M477.3 209.8h0M486.4 210.7h0M485.2 220.1h0M481.6 208.5h0M477.6 212.3h0M483.5 199h0M472.4 212h0"/></defs>
<use href="#w6" stroke="#999" stroke-width="1.97"/>
<use href="#w6" stroke="#f6f6f6" stroke-width="1.17"/>
<path d="M419.3 153.6h0M440.4 152.6h0M397.4 152.4h0M459.5 153.5h0M450.9 151.2h0M469 151.3h0M414.3 152.6h0M449.4 151.1h0M389.2 152.2h0M429.9 151.3h0M459.8 152.5h0M428.6 151.7h0M424.8 172.5h0M469.3 170.4h0M387.8 169.3h0M428.6 170.5h0M412.1 170h0M422.3 172.2h0M394.2 169.2h0M391.7 173.1h0M480 170.6h0M475 169.6h0M389.9 170.9h0M432.3 173.3h0M437 170.1h0M415.8 170.8h0M438.4 247h0M441.3 246.5h0M481.2 244.8h0M401.6 247h0M436.2 247.3h0M434.1 245.5h0M435.3 245.9h0M421.2 248.6h0M413.1 247h0M384.8 248.4h0M456.1 244.5h0M393.1 244.5h0M383.1 245.2h0M385.3 247.6h0M426.5 247.5h0M427.1 245.1h0M437.7 245.9h0M433.6 245.9h0M483.2 265.1h0M449.3 263.9h0M492.1 265.2h0M393.9 265.4h0M418.6 266.4h0M452.8 264.8h0M404.3 262.5h0M489.6 264.9h0M414.5 266.2h0M423.4 265h0M404.4 264.2h0M429.7 263.4h0M463.7 266.4h0M408.9 265.4h0M441.7 266.3h0M398.5 264.4h0M471.8 266.4h0" stroke="#e01616" stroke-width="2.09"/>
<path d="M383.3 194.5h0M434.4 230.9h0M480.5 172.3h0M469.2 172.3h0M395.4 177.9h0M406.1 210.2h0M409.9 244.9h0M438.8 233.3h0M478.8 233.2h0M479 217.6h0M419 222.4h0M459.8 229h0M482.5 190.2h0M480.6 231.8h0M448.9 235.5h0M405.9 174.1h0M391.3 210.2h0M396.1 236.8h0M389.2 211.2h0M432.1 227.6h0M385.2 171.8h0M397.6 233.3h0M446.6 218.5h0M475.5 242.9h0M408.9 202.9h0M443.3 241.4h0M485.3 191.6h0M465.1 221.9h0M450.3 193.2h0M410 172.6h0M489.2 172h0M459.5 220.8h0M404.5 207h0M474.5 202.8h0M429.1 198.3h0M405.4 240.1h0M398.7 216.7h0M458 181.5h0M491.1 236.2h0M490.7 245.7h0M476.7 185.8h0M427.2 244.4h0M402.4 234.7h0M469.3 211.7h0M437.3 219h0M484.3 208.2h0M439 177.7h0M478.9 203h0M451.4 190.3h0M437.6 178.9h0M431.4 206.3h0M444 229.3h0M430.1 221.8h0M404.7 207.1h0M416.5 220.3h0M401.1 215.1h0M409.7 225.1h0M461.1 240.2h0M476 192.1h0M395.5 232.1h0M489.9 200.2h0M435.5 177.3h0M399.8 219.3h0M456.4 220h0M457.7 175h0M486.9 231.3h0M441.7 227.4h0M387.2 192.1h0M383.9 219.7h0M412.8 215.5h0M433.5 185.4h0M457 183.8h0M450.9 171.7h0M385.1 213.3h0M395.3 202.5h0M387.1 229.7h0M444.5 212.6h0M393.9 175.4h0M492.3 217.6h0M448.1 209.7h0M458.3 239.9h0M441.8 237h0M415.5 208.4h0M468.1 239.2h0M420.2 228.9h0M402.5 203.3h0M487.4 172.4h0M429.2 172.5h0M423.1 181h0M434.9 204.7h0M401.1 237.5h0M390.4 206.1h0M421.8 241.7h0M444.8 237.1h0M403.3 190h0M419.7 241.9h0M454.5 220.8h0M475.6 217.8h0M389 181h0M399.4 171.9h0M411.7 232.6h0M382.5 199.4h0M415.8 242.7h0M390.1 193.6h0M490.8 181.8h0M462.8 201.9h0M457.2 221.5h0M432.3 212h0M410.7 238.2h0M389.3 204.7h0M399.7 200.1h0M481 188h0M444.8 203.4h0M391.9 221.5h0M405.5 184.5h0M424.1 237.4h0M473.5 227.3h0M383.7 179.5h0M485.6 202h0M416.8 181.9h0M400.7 236.2h0M423.5 196.6h0M417.7 193.1h0M448.8 178.2h0M430.7 188.2h0M468.7 186.1h0M401.3 200.2h0M406 173.1h0M451.9 175.4h0M417.7 223.5h0M394.5 174h0M453.7 228.6h0M489.3 193.3h0M454.6 185.5h0M392.3 221.8h0M400.4 196.2h0M464.2 245.8h0M454.1 171.3h0M432.8 188.6h0M385.5 235.7h0M430.8 186h0M422 233.8h0M481.1 213.8h0M471.9 189.2h0M457.4 188.7h0M459.2 207.7h0M404 176.3h0M410.7 187.8h0M416.8 244h0M399.6 175.8h0M397.5 213.7h0M419.6 182.9h0M435.2 205.2h0M398.3 202.1h0M460.9 213h0M438.8 223.9h0M486.8 209h0M418.3 209.4h0M491.6 218.1h0M461.9 228h0M459.5 227.8h0M444.9 221.9h0M462.9 198.7h0M468.8 186.4h0M440.8 189.4h0M412.4 233h0M473.3 230.1h0M463.3 239.8h0M452.3 238.8h0M392.7 232.4h0M452.5 171.8h0M468.1 183.1h0M485.3 227.5h0M457.6 239.7h0M427.5 176.9h0M399.6 234.4h0M470.2 242.7h0M392.4 229.5h0M489.4 196.3h0M438.8 201.8h0M431.2 203h0M491 204.2h0M460.5 195.9h0M443.5 206.4h0M437.7 201.8h0M437.1 239.8h0M481.4 226.2h0M410.5 222.9h0M386.8 179.1h0M413.2 171.1h0M489.3 221.5h0M416.4 198.1h0M392.6 194.1h0M424.2 219.5h0M492.2 243.7h0M444 198.7h0M383.8 198.5h0M418.3 204.4h0M410.1 237.8h0M488.7 210.3h0M446.4 188.6h0M418.2 224.5h0M411.7 234.1h0M399.6 176.2h0M402.8 246h0M454.8 177.5h0M416.3 189.7h0M410.5 222.5h0M412.5 199.3h0M480.4 178.3h0M401.3 238.8h0M471.1 235.9h0M431.2 197.4h0M434.3 235.3h0M486.9 234.3h0M409.6 220.8h0M386.6 197.9h0M416.7 215.7h0M484.2 220.5h0M388.4 221h0M408.6 172.3h0M398.8 180.9h0M402.6 215.4h0M409 207.3h0M437.7 242.6h0M410.8 209.8h0M398.1 179.1h0M406 241.1h0M458.6 193.3h0M448.6 223.6h0M418 182.5h0M428.9 241.9h0M452.5 233.6h0M435.9 211.6h0M436.8 195.6h0M490 172.8h0M411.4 236.3h0M488 218.1h0M423.3 208.8h0M460.9 181.1h0M388.4 177.5h0M403.3 192h0M391.8 195.4h0M445.6 227.2h0M413.2 234.3h0M448.3 243.4h0M430.5 214.7h0M384.7 192.6h0M456.6 240.7h0M424.3 210.2h0M464.4 178.1h0M435.8 179.9h0M387.7 192.9h0M455.5 185.4h0M447.2 240.8h0M420.3 211.6h0M385.5 202h0M383.8 180.9h0M472 175.3h0M485.7 238.8h0M436.6 187.4h0M387.2 237.8h0M449.9 242.9h0M464 191.4h0M454.3 233h0M409.3 176.5h0M466.5 171.2h0M457.6 241.9h0M410.9 189.9h0M448.9 233.8h0M418.6 199.3h0M394.9 185.7h0M469.4 190.5h0M392.1 173.5h0M468.7 179.6h0M476.3 187.7h0M416.3 236.6h0M473.6 211.9h0M422.6 205.2h0M491.3 172.6h0M441.2 187.9h0M428.1 181.9h0M472.2 244.3h0M464.9 179h0M420.8 201.8h0M425 218.3h0M383.1 178.7h0M423.2 182.5h0M433.4 222.6h0M421.8 200.7h0M426.1 183.7h0M449.1 180.8h0M405.6 219.1h0M434 185.3h0M410.9 172.6h0M473.4 243.5h0M387.1 221.1h0M483.4 234.1h0M402.5 187.1h0M392.1 184h0M486.6 210.1h0M456.4 204.1h0M464.4 215.3h0M485.1 188.5h0M425.6 192.1h0M455 199h0M410.8 181.1h0M441.8 236.5h0M488.9 181.3h0M442 204h0M480 219.2h0M397.7 217.6h0M442.2 186.4h0M429.2 201h0M384.7 241h0M466.3 214.4h0M484.2 197.3h0M395.4 214.8h0M465.8 219.6h0M422.6 231.2h0M413.6 191.1h0M431.7 214.6h0M423.8 179.4h0M486 239.5h0M468.8 241.1h0M430.8 205.7h0M481 172.5h0M424.5 238h0M409.8 233.2h0M458.2 216.8h0M437.4 182.5h0M485.6 239.3h0M465.3 235.9h0M492 222.5h0M479.5 229.6h0M388 183.6h0M456.5 179.3h0M487.9 223.2h0M478.5 178.5h0M442.3 195.4h0M411.6 224.8h0M382.6 192.8h0M389.1 203h0M419 206h0M422 213.4h0M431.8 178.5h0M423.3 203.7h0M474.9 185.3h0M406 173.3h0M394.1 174h0M457.3 229.4h0M423.4 220.3h0M466.8 232.7h0M462.3 230.6h0M429.2 212.9h0M385.8 187.7h0M422.7 178.2h0M455.9 199.9h0M479.4 184.7h0M486.8 192h0M411.2 178.3h0M476.6 232.1h0M485.4 177.4h0M461.3 244.8h0M401.8 210.9h0M490.3 217.6h0M432.6 177.8h0M424.6 180.2h0M455 217.6h0M478 211.6h0M485.4 224.5h0M452.2 184.7h0" stroke="#dc2a2a" stroke-width="1.55"/>
<defs><path id="ww6" d="M382 194.1h0M383.9 193.4h0M435.6 231.4h0M433.6 231.9h0M481.7 171.9h0M480.6 173.6h0M470.4 172.7h0M468.5 173.3h0M396 179h0M394.2 178.2h0M404.9 210.3h0M406.4 209h0M408.8 244.2h0M410.8 244.1h0M437.8 232.4h0M439.8 232.6h0M478 234.2h0M478.1 232.2h0M480.3 217.8h0M478.6 218.8h0M418.6 221.2h0M420.3 222.3h0M459.6 227.7h0M461 229.1h0M483.6 189.5h0M482.9 191.4h0M480.7 233.1h0M479.3 231.7h0M449.6 234.4h0M449.7 236.4h0M404.7 173.7h0M406.6 173h0M392.3 211.1h0M390.3 210.9h0M395.1 236h0M397.1 236.2h0M388.9 212.4h0M388.1 210.6h0M433.1 226.8h0M432.6 228.8h0M386.3 171.2h0M385.5 173h0M396.8 232.4h0M398.7 232.7h0M445.6 219.2h0M446.2 217.3h0M475.2 244.2h0M474.3 242.4h0M408 203.8h0M408.2 201.8h0M442.7 242.6h0M442.3 240.6h0M484.4 192.6h0M484.6 190.6h0M466.2 221.2h0M465.6 223.1h0M450.8 192.1h0M451.4 194h0M409.4 173.7h0M409.1 171.7h0M490 171h0M490 173h0M458.5 219.9h0M460.5 220h0M405.8 207h0M404.2 208.2h0M473.3 203.2h0M474.4 201.5h0M428.3 199.2h0M428.5 197.2h0M406.6 240.3h0M404.9 241.2h0M399.4 215.6h0M399.5 217.6h0M456.7 181.6h0M458.2 180.3h0M491.3 237.5h0M489.9 236h0M491.5 246.8h0M489.6 246.2h0M477.9 186.2h0M476 186.9h0M427 243.1h0M428.4 244.5h0M402 235.9h0M401.3 234h0M468.6 210.7h0M470.5 211.3h0M436.2 218.3h0M438.3 218.2h0M485 207.1h0M485.2 209.1h0M438.1 176.8h0M440.1 176.9h0M477.8 203.5h0M478.7 201.7h0M451.6 191.6h0M450.2 190.2h0M436.4 179.2h0M437.7 177.6h0M430.2 206.7h0M431.3 205.1h0M444.9 228.5h0M444.6 230.4h0M429.8 223h0M429 221.2h0M404.5 208.3h0M403.6 206.5h0M415.3 219.9h0M417.2 219.3h0M402.4 215h0M400.9 216.3h0M409.1 226.2h0M408.8 224.2h0M462.4 240.1h0M460.9 241.5h0M476.8 191.1h0M476.9 193.1h0M394.8 231h0M396.7 231.8h0M490.9 199.4h0M490.4 201.3h0M436.6 176.8h0M435.7 178.6h0M399.3 218.1h0M401.1 219.1h0M457.6 219.6h0M456.5 221.3h0M456.6 174.5h0M458.5 174h0M485.7 231.7h0M486.8 230h0M442 226.2h0M442.8 228h0M386.2 192.9h0M386.7 190.9h0M382.9 218.9h0M384.9 219h0M414.1 215.3h0M412.7 216.8h0M432.3 185.8h0M433.5 184.2h0M456.3 182.8h0M458.2 183.4h0M449.6 171.7h0M451.2 170.4h0M385.2 214.6h0M383.8 213.1h0M394.5 201.5h0M396.5 202h0M386.1 230.5h0M386.6 228.5h0M443.2 212.7h0M444.7 211.3h0M393.6 176.6h0M392.7 174.8h0M491.4 218.5h0M448.2 211h0M446.8 209.5h0M459.6 239.7h0M458.2 241.2h0M442.9 236.3h0M442.3 238.2h0M415.9 209.6h0M414.2 208.6h0M467.8 238h0M469.3 239.2h0M419.2 229.7h0M419.7 227.8h0M402.5 204.6h0M401.3 203h0M488 171.3h0M488.3 173.3h0M429.9 171.4h0M430.1 173.4h0M422.4 179.9h0M424.3 180.6h0M434.2 205.8h0M434 203.8h0M402 238.3h0M400 238.3h0M390 204.9h0M391.7 206h0M422.6 240.7h0M422.5 242.7h0M446 236.7h0M445 238.4h0M404.5 189.5h0M403.4 191.2h0M419.8 240.7h0M420.9 242.3h0M454.1 219.6h0M455.8 220.8h0M476.5 218.7h0M474.5 218.5h0M389.1 179.8h0M390.2 181.4h0M399 173.1h0M398.3 171.2h0M411.9 231.4h0M412.9 233.1h0M383.5 198.6h0M416.4 241.6h0M416.8 243.5h0M391.3 193.1h0M390.3 194.9h0M491.1 183h0M489.5 181.7h0M463.1 203.2h0M461.5 201.9h0M458.5 221.7h0M456.7 222.7h0M431.9 213.2h0M431.3 211.3h0M411.9 238.7h0M409.9 239.2h0M390.5 205.2h0M388.5 205.8h0M398.5 200h0M400.1 198.9h0M481.3 189.2h0M479.7 188h0M445.8 204.2h0M443.8 204.3h0M391.4 220.4h0M393.2 221.3h0M406.5 185.3h0M404.5 185.2h0M423.9 236.2h0M425.4 237.5h0M472.3 227.7h0M473.4 226h0M384.9 179.9h0M383 180.6h0M486.1 200.8h0M486.6 202.8h0M415.9 181h0M417.9 181.2h0M399.5 236.1h0M401.1 235h0M423 195.4h0M424.8 196.3h0M418.5 192.1h0M418.5 194.1h0M449.1 177h0M449.9 178.8h0M430.8 189.4h0M429.4 187.9h0M467.9 185.1h0M469.9 185.6h0M400.3 199.6h0M402.3 199.4h0M404.9 173.7h0M405.7 171.9h0M450.7 175.8h0M451.8 174.2h0M418.8 224.1h0M416.9 224.5h0M394.9 172.8h0M395.6 174.6h0M452.9 227.6h0M454.8 228.1h0M490.6 193.3h0M489 194.5h0M455.2 186.7h0M453.3 185.9h0M393.1 220.7h0M393.2 222.7h0M401.5 195.6h0M400.7 197.4h0M464.2 247.1h0M463 245.6h0M453.1 172h0M453.7 170.1h0M432.1 189.7h0M432 187.7h0M386.4 236.6h0M384.4 236.4h0M429.5 186h0M431.1 184.8h0M421.5 232.6h0M423.2 233.6h0M482.3 214h0M480.5 215h0M472.4 188h0M472.9 189.9h0M458.6 188.4h0M457.4 190h0M459.1 209h0M458.1 207.3h0M405.2 176.5h0M403.5 177.4h0M411.7 187.1h0M411.2 189h0M415.6 244h0M417.1 242.7h0M400.8 175.7h0M399.3 177h0M396.9 212.6h0M398.8 213.3h0M418.3 182.6h0M420.2 181.8h0M435.8 206.3h0M434 205.6h0M398.4 203.4h0M397.1 201.9h0M459.9 213.7h0M460.4 211.8h0M439.4 222.8h0M439.7 224.8h0M485.6 209.4h0M486.6 207.7h0M418 210.6h0M417.3 208.7h0M490.3 218.2h0M491.8 216.9h0M461.6 229.2h0M460.8 227.4h0M458.8 228.9h0M458.6 226.9h0M446.1 222.3h0M444.2 223h0M462.1 199.7h0M462.1 197.7h0M470 186.5h0M468.4 187.7h0M441.9 188.8h0M441.1 190.6h0M411.4 233.8h0M411.8 231.8h0M473.7 228.9h0M474.4 230.8h0M464.4 239.2h0M463.7 241h0M452.5 240h0M451.1 238.6h0M391.5 232.1h0M393.3 231.3h0M452.9 173h0M451.2 172h0M468.8 182.1h0M468.8 184.1h0M486.2 228.4h0M484.2 228.2h0M458.8 240.1h0M457 240.8h0M428.6 176.2h0M427.9 178.1h0M399.8 233.2h0M400.7 234.9h0M470.9 241.6h0M471.1 243.6h0M391.7 230.6h0M391.5 228.6h0M489.2 197.5h0M488.2 195.8h0M438 200.8h0M439.9 201.2h0M430.1 202.5h0M432 202h0M491.4 203h0M492.1 204.9h0M461.1 197h0M459.2 196.2h0M443 207.6h0M442.4 205.6h0M436.5 202.3h0M437.5 200.5h0M436.5 238.6h0M438.3 239.4h0M480.2 226.4h0M481.5 224.9h0M409.8 221.8h0M411.7 222.5h0M388 178.8h0M386.9 180.4h0M414.1 170.1h0M414 172.1h0M489.7 220.2h0M490.4 222.1h0M415.3 197.6h0M417.2 197.1h0M391.7 193.2h0M393.7 193.4h0M425.4 219.2h0M424.2 220.8h0M491.5 244.8h0M491.3 242.8h0M444.7 199.7h0M442.8 199.1h0M383.8 197.3h0M385 198.9h0M419.2 205.3h0M417.2 205h0M410.5 236.6h0M411.1 238.5h0M489 211.5h0M487.4 210.3h0M446 189.8h0M445.3 187.9h0M418.1 223.3h0M419.5 224.7h0M412.4 233.1h0M412.5 235.1h0M398.3 176.1h0M400.1 175.1h0M403.3 247.2h0M401.5 246.2h0M453.9 176.6h0M455.9 176.8h0M415 189.9h0M416.4 188.4h0M411.4 221.6h0M411.2 223.6h0M411.2 199.4h0M412.8 198.1h0M480.7 179.5h0M479.2 178.2h0M400.9 240h0M400.3 238.1h0M472.1 235.1h0M471.7 237h0M430.8 198.6h0M430.1 196.7h0M434.1 236.5h0M433.2 234.7h0M487.6 235.3h0M485.7 234.7h0M410.1 222h0M408.3 221h0M385.5 198.4h0M386.4 196.6h0M416.2 214.5h0M417.9 215.5h0M484.5 219.3h0M485.3 221.1h0M387.2 221.1h0M388.6 219.7h0M409.9 172h0M408.7 173.6h0M398.6 182.2h0M397.6 180.5h0M401.3 215.6h0M402.8 214.2h0M409.5 206.2h0M409.9 208.1h0M437.8 241.3h0M438.9 242.9h0M411.1 211h0M409.6 209.7h0M398.2 177.9h0M399.3 179.5h0M407.1 241.7h0M405.1 242h0M459.4 194.3h0M457.5 193.8h0M448 224.7h0M447.7 222.8h0M417.3 181.5h0M419.2 182h0M429 240.7h0M430.1 242.3h0M453.8 233.2h0M452.6 234.9h0M436.9 212.5h0M434.9 212.3h0M438.1 195.7h0M436.4 196.8h0M490.5 174h0M488.8 173h0M411.3 237.5h0M410.2 235.9h0M486.9 218.8h0M487.6 216.9h0M423.2 207.5h0M424.5 209h0M459.7 181.3h0M461 179.8h0M387.7 176.5h0M389.6 177.1h0M404.5 191.5h0M403.4 193.2h0M391.2 196.5h0M390.9 194.5h0M445.1 228.4h0M444.6 226.4h0M412.1 233.6h0M414.1 233.4h0M448.4 244.7h0M447 243.2h0M430.1 215.9h0M429.4 214h0M384 193.6h0M383.8 191.6h0M455.6 241.5h0M456.1 239.5h0M425.2 209.3h0M425 211.3h0M464.5 176.8h0M465.6 178.5h0M435.9 181.2h0M434.5 179.7h0M387.1 194.1h0M386.7 192.1h0M454.5 184.6h0M456.5 184.7h0M446.2 240h0M448.2 240h0M419.3 210.8h0M421.3 210.9h0M384.8 201h0M386.7 201.6h0M384.8 181.6h0M382.8 181.7h0M471.7 176.5h0M470.8 174.8h0M484.6 238.2h0M486.6 237.8h0M435.6 186.6h0M437.6 186.6h0M386.5 236.8h0M388.4 237.4h0M448.8 242.2h0M450.8 242.1h0M463 190.6h0M465 190.7h0M455.5 232.8h0M454.2 234.3h0M408.7 175.3h0M410.5 176.2h0M465.9 172.3h0M465.5 170.4h0M457.8 243.2h0M456.3 241.8h0M410.7 191.2h0M409.8 189.4h0M447.8 234.4h0M448.6 232.6h0M417.6 200h0M418.2 198.1h0M394.4 186.9h0M393.8 185h0M470.7 190.5h0M469.1 191.8h0M392.6 174.7h0M390.9 173.7h0M468.9 180.8h0M467.5 179.4h0M475.9 186.5h0M477.6 187.5h0M415.3 237.3h0M415.9 235.4h0M474.4 212.9h0M472.4 212.5h0M421.4 204.8h0M423.3 204.1h0M492.4 173.2h0M490.4 173.6h0M441.2 189.1h0M440 187.6h0M428.7 180.7h0M429.1 182.7h0M472.5 243.1h0M473.3 244.9h0M464.2 177.9h0M466.1 178.6h0M420.8 200.5h0M422 202.1h0M425.1 219.6h0M423.8 218h0M383.5 179.9h0M422.1 181.8h0M424.1 181.6h0M433.5 223.8h0M432.2 222.3h0M422.9 200.3h0M421.9 202h0M426.1 182.5h0M427.3 184.1h0M449.9 179.8h0M449.8 181.8h0M406.8 219.6h0M404.8 220.1h0M433.4 186.4h0M433.1 184.4h0M409.8 172.1h0M411.8 171.7h0M472.5 244.3h0M472.8 242.3h0M387.1 219.9h0M388.3 221.5h0M482.3 233.4h0M484.3 233.2h0M401.9 186h0M403.7 186.8h0M393 184.8h0M391 184.7h0M486.1 211.3h0M485.7 209.3h0M455.3 204.8h0M455.9 202.9h0M463.4 214.6h0M465.4 214.5h0M485.1 189.8h0M483.9 188.1h0M425 193.1h0M424.8 191.2h0M456 198.3h0M455.4 200.2h0M412.1 181.1h0M410.5 182.4h0M440.8 235.7h0M442.8 235.7h0M490 181.8h0M488.1 182.2h0M440.7 204h0M442.3 202.8h0M481 220h0M479 219.9h0M396.6 218.3h0M397.2 216.4h0M443.5 186.1h0M442.2 187.7h0M428.2 201.8h0M428.7 199.8h0M384 242h0M384 240h0M465 214.5h0M466.5 213.1h0M483 197.9h0M483.9 196.1h0M395.7 213.6h0M396.5 215.5h0M464.7 220.3h0M465.4 218.4h0M423.9 231.1h0M422.5 232.5h0M414.6 191.9h0M412.6 191.9h0M430.6 214h0M432.6 213.7h0M422.6 179.9h0M423.6 178.2h0M486.4 238.2h0M487.1 240.1h0M468.7 239.8h0M470 241.4h0M431.9 205.1h0M431.1 206.9h0M479.9 173.1h0M480.7 171.3h0M425.7 238.4h0M423.9 239.2h0M409 234.2h0M409 232.1h0M458.2 218h0M457 216.5h0M437.6 183.7h0M436.2 182.3h0M485.5 238.1h0M486.8 239.6h0M464.1 235.5h0M466 234.8h0M492 221.2h0M480.6 230.3h0M478.6 230.5h0M387.7 182.4h0M389.3 183.6h0M456.8 180.5h0M455.2 179.3h0M488.1 224.4h0M486.6 223.1h0M478.2 177.3h0M479.8 178.5h0M442.4 196.7h0M441 195.2h0M410.3 224.6h0M412.1 223.7h0M382.2 191.6h0M383.8 192.7h0M388.1 202.2h0M390.1 202.3h0M420.1 205.3h0M419.4 207.2h0M421.7 212.2h0M423.2 213.5h0M433 178.6h0M431.4 179.7h0M422.3 204.4h0M423 202.5h0M476.2 185.5h0M474.4 186.4h0M404.8 172.9h0M406.7 172.3h0M394.4 175.3h0M392.8 174.1h0M458.5 229h0M457.3 230.6h0M424.3 219.5h0M424 221.5h0M467.9 232h0M467.2 233.9h0M463.1 229.6h0M463 231.6h0M429.3 211.7h0M430.3 213.4h0M385.1 186.7h0M387 187.4h0M422.4 177h0M423.9 178.2h0M457.1 199.6h0M455.8 201.2h0M479.9 183.6h0M480.3 185.5h0M486.5 190.7h0M488 192h0M410 178.6h0M411.2 177h0M476.9 233.4h0M475.3 232.1h0M484.3 178.1h0M484.9 176.2h0M460.1 244.9h0M461.5 243.5h0M403.1 210.7h0M401.7 212.2h0M491 218.7h0M489.1 218h0M432.3 179.1h0M431.4 177.3h0M423.5 179.6h0M425.4 179.2h0M455.8 216.6h0M455.7 218.6h0M477.3 212.7h0M477.1 210.7h0M484.2 225.1h0M485.1 223.3h0M451.4 185.7h0M451.4 183.7h0"/></defs>
<use href="#ww6" stroke="#c4c4c4" stroke-width="1.60"/>
<use href="#ww6" stroke="#f6f6f6" stroke-width="0.90"/>
<path d="M395.2 220.2h0M394.7 223.6h0M385.7 218.6h0M429.7 212.6h0M431.2 219.1h0M430.6 215.4h0M478.5 203.6h0M478.9 213.3h0M477 207.2h0" stroke="#2434c8" stroke-width="1.66"/>
<path d="M446.9 163.1h0M449.6 156.8h0M452.9 169.5h0M435.6 163.6h0M474.9 156.5h0M411.6 169.5h0M415.4 159.7h0M423.2 169.9h0M400.4 249.4h0M399.4 250h0M488.9 251.2h0M454.7 247.2h0M478.5 259.7h0M456.1 263.8h0M385.7 259.9h0M395.4 263h0M393.8 216.6h0M424.5 216.2h0M480.9 213.4h0" stroke="#e6d21e" stroke-width="1.87"/>
</g>
<line x1="381.1" y1="163" x2="494" y2="163" stroke="#444" stroke-width="0.8" opacity="0.8"/>
<line x1="381.1" y1="150" x2="494" y2="150" stroke="#8a8a8a" stroke-width="1"/>
<line x1="381.1" y1="267.5" x2="494" y2="267.5" stroke="#8a8a8a" stroke-width="1"/>
<g transform="translate(20.1 286) scale(1 1.000)"><rect x="11" width="113.7" height="16" fill="url(#t2)"/></g>
<g transform="translate(19.6 413) scale(1 0.938)"><rect x="11.5" width="113.7" height="16" fill="url(#t2)"/></g>
<g stroke-linecap="round" fill="none">
<path d="M48.9 285.7l1 .2M39.9 287l.8 .7M76.4 286.4l.9 .5M39.1 285.2l-.6 .9M79.9 285.4l-.8 .6M96.1 286l-.6 .9M85.1 285.4l-.6 .8M104.4 288.2l-.5 .9M34.6 285.9l1 .4M38.7 286.1l-1 .4M97.9 286.8l.3 1M101.1 284.8l-1 .3M119.2 287.5l1 .3M50.2 285.8l1 .3M100.7 286.5l1 .4M86.1 286.5l-.9 .5M119.1 286.5l-.9 .6M138.8 285.5l.8 .6M137.9 285.9l-1 .3M141.6 285.4l1 0M61.1 285.5l.1 1M94.1 286.3l-.2 1M119.7 286.4l-.7 .8M105.9 303.5l-1 .2M125.1 302.7l.9 .6M67.7 303l-.2 1M95.8 301.2l1 .2M135.6 301l-.1 1M58.7 302.5l.6 .9M66.2 302.4l-0 1M52 301.9l-.7 .8M103.1 301.9l1 .2M46.6 303.7l1 .3M63.6 302l.2 1M93.2 302.1l1 0M54.5 301.9l.3 1M36.8 302l.8 .7M130.3 301.6l-1 .1M131.8 301.3l1 .4M60.3 301.6l-.7 .8M55 301.8l.1 1M66.1 302.3l1 .2M62.1 301.2l-.1 1M84 300.4l-1 .3M34.9 303.3l.9 .4M111.7 299.8l.4 1M62.8 302l-.9 .5M93.4 300.5l-.7 .8M82.5 302l-1 .2M46.3 300.3l.6 .8M114.6 302.9l-.2 1M76.2 301.9l.8 .6M102.4 416l.7 .8M129.6 413.7l-.6 .8M132.1 411.5l-1 .2M97.2 412.4l.6 .8M110.8 413.1l0 1M57.4 413.4l.3 1M55 415l-.9 .6M87.5 414.9l.3 1M106.4 413.6l-1 .1M48 412.8l.3 1M115.5 414.7l.5 .9M51 413.3l.5 .9M138.8 415.1l-.9 .6M123.9 415.1l.1 1M70 412.6l-.7 .8M67.5 415.9l-.8 .7M134.5 411.1l.1 1M139 410.9l.7 .7M59.7 413.3l-1 .1M130.8 413.1l1 .3M42.9 411.2l.3 1M126.7 412.7l-.2 1M73.8 412.5l.7 .7M59.5 414.4l.3 1M143 415l-.9 .6M126 413l.6 .8M101.3 410.2l.9 .4M54.9 413l1 0M68.7 414.6l.6 .9M54.8 413.4l.3 1M93.6 411.6l.9 .5M67 413.5l.3 1M103.7 413.4l-0 1M141.1 427.6l-1 .3M101.4 428l-.8 .7M56.9 426.1l.8 .7M76.8 429.3l1 .4M45.3 426.8l.3 1M83.3 428.6l.2 1M113.9 427.8l-1 .1M136 427.3l-.8 .7M49.8 428.7l-0 1M134.9 427.4l-0 1M108 428.2l-.8 .7M37.5 426.8l-.4 .9M142 426.5l1 .1M34.6 427.6l1 .3M72 428.2l-.4 1M119.5 428.4l1 0M136.8 427.6l-1 .3M37 426.8l-.8 .7M123 429.5l.6 .8M37.5 429.6l-.9 .5M82.6 428.1l.5 .9M139.9 428.5l.8 .7M48.3 429.6l-1 .2M134.2 428.5l1 .1M124.3 427.4l-.8 .7M34.4 428l.6 .9M41.6 347.2l-.2 1.3M40.9 340l.7 .6M41 340.7l1.3 .4M39.8 338.5l-.7 1.1M39.4 338.4l-.6 .9M38.4 324.5l-1.2 .8M39.6 343l-0 .9M41.3 343.8l.7 .8M36.5 340.8l-.2 1.2M39.3 338.7l.8 1.2M44.2 342l.7 .7M41.1 345.8l.5 1.1M37.8 333.8l.6 1.3M37.4 344.5l-.2 .9M37.3 338.3l.3 1.2M38.2 338.7l-.8 .6M42.3 336.9l-.3 1.1M42.3 344.5l-.8 .3M37 334.1l1.4 .2M40.8 346.1l1.2 .8M38.6 331.7l0 1.3M40.7 337.8l1.1 .9M39 347.5l.7 .6M40.5 347.4l-1.1 .2M40.5 337.7l-1.3 .4M39.8 341.1l-.5 .7M59.3 332.9l.7 .9M65 334.1l-.9 .2M74.9 331.5l-.4 1.2M62.7 331.5l.9 1.1M63 333.1l-.9 .2M75.7 334.6l.7 1.3M65.9 332.5l.6 1M64.8 329l1.2 .7M65.6 331.3l-.2 .9M73.4 332.9l-.3 1.1M59.1 331.6l1.2 .4M60.5 330.3l.5 1M66.6 332.9l1.3 .7M69.7 328.9l-1.1 .5M63.7 331.4l-.9 .4M71.2 331.9l1.1 .4M61.8 330.1l-0 1.1M63.3 330.3l.8 .6M64.3 328.4l-0 1.4M53.1 331.7l.1 1.4M71.9 333.1l1 .9M62.8 330.9l1.1 .1M69.1 332.1l-.9 .3M68.2 332.6l-.4 1.3M65.4 332.6l.9 .9M63.6 332.1l-.5 1.2M90.9 379l-.7 .6M95.2 383.1l1.3 .7M93.4 380.6l1.3 .6M104 389.6l-1 1M98.1 384.4l.3 1.4M98.8 383.4l.9 1.2M85.9 377.4l1.4 .5M96.5 384.4l-.9 .5M95.3 387.6l.9 .8M101 387.5l-.7 .9M98.3 383.6l-.8 1.2M97.9 385l1.2 .3M97.7 385.2l-.4 1.3M95.2 384.9l0 .9M99.5 390.8l.3 1.2M91.2 382.8l.9 .7M99.4 385.6l.6 .7M92.5 386.6l.2 1.3M96.2 384.8l-.5 .8M96.7 385l1 1.1M92.6 384.4l-1.2 .4M98.8 386.4l0 1.5M83 376.1l1.2 .8M96.5 388.4l1 0M99.6 387.5l-.9 .6M93.5 384.7l-.2 1.4M70.7 360.7l-1.4 .2M75.9 362.3l-.2 .9M65.4 361.1l-.5 .9M72.5 358.6l-.2 1.1M79.2 360.4l-1.1 .7M62.3 362.1l-.8 1M71.4 361l-.3 1.4M73.4 358.5l1.1 .5M74.2 359.5l-.7 .7M71.3 360.5l.7 .9M84.5 360.4l.9 .6M75.1 359.9l.6 1M74.9 361.2l.4 1.1M75.8 360.1l1.2 .9M62.9 360.1l-.6 1.2M70.8 360.8l-.8 .8M65.2 358.3l-.7 .7M64.4 362.2l-.1 1M69.5 358.7l-.7 .6M75.2 358.3l.7 1.3M71.5 361.3l1.2 .3M72.5 357.3l.4 1.3M75.1 361.3l-.7 1.3M67.1 357.4l-.9 .7M79.7 359.8l.5 1M73.8 358.6l1.2 .8M109 376.6l-.4 1M115.3 383.4l-.9 .5M110.2 381.5l1.2 .4M118.3 383.1l.6 1.2M117.3 384.8l.5 .7M108.6 378.6l.6 .7M104.2 378.3l-.7 .5M111.3 379.7l1 .8M107.3 380.3l-.2 1M111.3 379.3l-1.2 .7M108.9 379.4l-.7 .6M105.2 377.8l1.2 .3M110 377.4l.4 1.1M107.5 378.2l-1.4 .6M115.6 377.7l.8 1.3M114.3 382.9l1.1 .5M108.1 376.3l.2 1.1M111 382.3l.6 .8M110.4 377.8l.2 1M109.6 378.6l.8 .9M108.1 374.1l-1 1.1M117 381.5l-.6 .7M110.1 380.3l-1.2 .6M108 378l.4 .9M102.1 372.1l.5 .7M111.3 382.2l-1.3 .4" stroke="#6a6a6a" stroke-width="0.55"/>
<defs><path id="w7" d="M39.9 287h0M102.2 286.7h0M76.4 286.4h0M96.1 286h0M34.6 285.9h0M119.2 287.5h0M126.9 286.7h0M141.4 287.2h0M142.1 287.3h0M35.2 285.8h0M82.1 286.9h0M101.8 286.6h0M140.6 287.8h0M97.3 286.3h0M94.1 286.3h0M117 288h0M91.7 286h0M119.7 286.4h0M105.9 303.5h0M76.6 303.9h0M125.1 302.7h0M67.7 303h0M81.3 303h0M39.3 302.1h0M95.8 301.2h0M109 301.6h0M66.2 302.4h0M136.5 303.7h0M125.3 303.3h0M108.9 303.1h0M103.1 301.9h0M126.1 302.8h0M63.6 302h0M61.5 303h0M74.7 305h0M97.5 300.1h0M130.3 301.6h0M131.7 300.4h0M122.8 302.9h0M122 303.1h0M94.5 300.9h0M32.5 300.8h0M55 301.8h0M108.5 298.8h0M66.1 302.3h0M62.1 301.2h0M84 300.4h0M123.7 301.6h0M47.9 304.7h0M46.9 302.6h0M57.9 300.7h0M34.9 303.3h0M111.7 299.8h0M76 303.5h0M53.3 301.7h0M130.9 302.6h0M93.4 300.5h0M46.3 300.3h0M114.6 302.9h0M102.4 416h0M59.9 412h0M124.3 413.3h0M59.9 413.5h0M137.3 413.4h0M58.1 413.4h0M66 413.6h0M97.2 412.4h0M83.6 413.5h0M107.4 412.2h0M108.3 413.7h0M55 415h0M106.4 413.6h0M132.4 414.4h0M115.5 414.7h0M123.9 415.1h0M73.7 413.7h0M35.5 412.6h0M60.8 413.1h0M70 412.6h0M139 410.9h0M114.6 413.1h0M99.9 412.5h0M59.7 413.3h0M130.8 413.1h0M42.9 411.2h0M101.4 413h0M126.7 412.7h0M73.8 412.5h0M59.5 414.4h0M143 415h0M105.1 413.5h0M126 413h0M45.4 414.2h0M73.7 415.9h0M54.9 413h0M68.7 414.6h0M93.6 411.6h0M67 413.5h0M79.4 413.5h0M103.7 413.4h0M141.1 427.6h0M101.4 428h0M56.9 426.1h0M45.3 426.8h0M97.2 427.1h0M82 427.8h0M58.4 428.1h0M36.7 427.7h0M74.3 428.6h0M113.9 427.8h0M108 428.2h0M45 426.4h0M94.1 427.7h0M61.7 427.9h0M37.5 426.8h0M48.8 427.1h0M72 428.2h0M59.3 428.3h0M119.5 428.4h0M104.1 427h0M136.8 427.6h0M33.5 427.8h0M48 428.5h0M115.3 426.7h0M115.8 428.5h0M111.6 427.9h0M102.5 427.3h0M141.5 425.8h0M80.9 428.4h0M102.9 428.2h0M39.4 427.1h0M126.8 427.8h0M34.4 428h0M36.5 346.9h0M44.1 345.9h0M44 339.5h0M43.8 340.8h0M38.2 337.8h0M38.3 339.5h0M33.7 341.4h0M34.5 342.6h0M45.7 344.9h0M46.5 346.3h0M63.6 332.9h0M65.2 338.5h0M64 329.9h0M63.8 333.8h0M65.9 334.7h0M59.7 341.5h0M72.1 331.9h0M60.3 332.6h0M66.6 323.4h0M65.1 326.3h0M98.7 384h0M92 380.2h0M91.5 388.4h0M91.1 377.2h0M91.2 385h0M96.4 384.8h0M98.1 379.8h0M90.9 383.5h0M95.1 376.6h0M94.1 378.4h0M64.2 359.9h0M69.4 355.4h0M67.7 363h0M70.8 367.6h0M73.8 352.6h0M75.5 364.9h0M72.1 355.3h0M78.9 354.9h0M71.7 352.6h0M67.1 353.4h0M111.3 375.6h0M110.9 378.1h0M114 383.3h0M107.3 379.9h0M110 380.8h0M115.3 376.6h0M120.6 376.2h0M104 382.5h0M104.5 384.9h0M111.2 378.2h0"/></defs>
<use href="#w7" stroke="#999" stroke-width="1.70"/>
<use href="#w7" stroke="#f6f6f6" stroke-width="0.90"/>
<path d="M45.3 285.9h0M110.2 287.4h0M90.8 287.3h0M104.4 288.2h0M38.7 286.1h0M130.8 287h0M49 286.4h0M97.9 286.8h0M72.7 286.3h0M100.7 286.5h0M86.1 286.5h0M50.1 286.3h0M91.1 286.9h0M119.1 286.5h0M85.5 286.9h0M137.9 285.9h0M64.8 286.9h0M52.6 286h0M110.2 288h0M81.5 286.8h0M140.6 302.7h0M62.3 302.6h0M133.9 302.4h0M121.6 302.2h0M39.5 302.8h0M135.6 301h0M58.7 302.5h0M52 301.9h0M93.7 302.2h0M46.6 303.7h0M93.2 302.1h0M54.5 301.9h0M36.8 302h0M48.8 301.7h0M131.8 301.3h0M72.4 300.4h0M88.3 300.3h0M60.3 301.6h0M103.9 302.6h0M54.4 304.7h0M62.1 302.7h0M70.5 302h0M32.3 302h0M62.8 302h0M64 302.8h0M82.5 302h0M76.2 301.9h0M39 412.5h0M129.6 413.7h0M132.1 411.5h0M117.5 411.6h0M44.6 413.6h0M130.8 412.2h0M110.8 413.1h0M57.4 413.4h0M57.9 413.3h0M87.5 414.9h0M48 412.8h0M68.9 411.7h0M51 413.3h0M138.8 415.1h0M117.7 413.3h0M67.5 415.9h0M134.5 411.1h0M80.1 410.3h0M40.9 413.9h0M61.1 413.5h0M101.3 410.2h0M54.8 413.4h0M109.8 412.2h0M128.6 414.1h0M54.8 413h0M50.3 411.9h0M48.4 412.7h0M59.7 427.6h0M116.7 425.6h0M83.3 428.6h0M89.2 427.6h0M136 427.3h0M134.9 427.4h0M72.3 428.1h0M142 426.5h0M89.4 428.5h0M34.6 427.6h0M37 426.8h0M82.6 428.1h0M139.9 428.5h0M66.5 428.4h0M70.6 428.2h0M131.7 427.4h0M134.2 428.5h0M124.3 427.4h0M55 427.3h0" stroke="#e01616" stroke-width="1.68"/>
<path d="M121 322.5h0M70.9 394.3h0M137.4 333.5h0M110.2 357.3h0M103.1 311h0M109.9 389.3h0M71.9 346.5h0M131.4 311.6h0M35.1 324.9h0M132.6 357.6h0M130.7 327.9h0M91.5 385.7h0M104.2 340.7h0M49.6 395.6h0M114.9 320.8h0M118.4 366.3h0M83.7 400.2h0M53.6 335.5h0M126.2 319.2h0M59.9 338.2h0M50.2 338.4h0M140.8 382.9h0M139.4 313.3h0M141.8 390.2h0M80.7 323.8h0M44.2 324.9h0M36.1 346.3h0M109.5 357.6h0M83.9 317.7h0M77.3 384.2h0M80.2 365.7h0M79.2 327.4h0M130.3 387.9h0M127.2 377.4h0M82.8 336.7h0M43.2 348.6h0M111.7 371.9h0M79.4 352.5h0M77.9 377h0M52.7 374.6h0M75.6 356.4h0M36.5 362.3h0M119.3 406.4h0M43.6 365.8h0M112.1 358.9h0M124.6 359.9h0M137.8 325.3h0M76 386.7h0M141.9 341.5h0M62.8 346.4h0M78.9 348.7h0M71.5 331.4h0M114.8 406.3h0M56.7 391h0M55.9 316.4h0M122.4 372.4h0M94.9 327.1h0M71.6 372.9h0M123.1 354h0M93.3 315.9h0M71.8 396.4h0M74.2 330.1h0M53 302.3h0M63.6 329.2h0M85.7 349.6h0M105.7 342.2h0M127.4 308.3h0M133.1 389h0M124.8 372.3h0M33.6 407.6h0M60.1 313.3h0M58.3 388.2h0M49.3 402.4h0M51 400.9h0M119.3 376.2h0M120 395.1h0M109.4 360.9h0M81.1 400h0M61.7 328h0M87.2 308.5h0M48.4 356.5h0M92.4 397.8h0M125.9 353.9h0M106.3 395.3h0M78.9 408.6h0M103.2 372.6h0M100.2 377.8h0M69.1 411h0M86.2 401.6h0M112.2 371.4h0M128.2 342.6h0M90.8 387.5h0M80.7 348.9h0M124.3 334.5h0M77.2 357.9h0M88.7 410.2h0M120.4 338.7h0M65.6 367.1h0M119.6 306.4h0M130.9 362.5h0M65.7 302.7h0M134.9 369.6h0M120.1 403h0M100.9 371.6h0M98.7 377.6h0M106.5 352.8h0M43.6 322.1h0M118.5 403.5h0M73.4 393.3h0M94.9 330.6h0M79.2 337.4h0M103.7 405.7h0M95.5 306.4h0M122.5 365.9h0M82 303.6h0M98.2 406.1h0M85.2 347.8h0M104 325.6h0M34 302.5h0M45.8 409.3h0M129.1 316.3h0M112.4 328.9h0M53.2 307.6h0M111.7 397h0M41.7 371.8h0M83.6 405.5h0M139.6 381.6h0M33.9 374.2h0M41.2 336.5h0M50.8 397.6h0M39 342.8h0M81.1 377.1h0M121 342.3h0M102.4 348.4h0M119.8 406.9h0M95.4 334.5h0M140.7 380.1h0M69.3 369.2h0M124.8 368.7h0M80 400.6h0M108.5 368.8h0M122.2 333.4h0M61.6 348.9h0M123.1 400.5h0M125 392.1h0M96 332.4h0M122.1 378h0M70.9 311.4h0M121 324.2h0M136 328h0M107.7 353.7h0M60.7 385.4h0M83.5 311.7h0M118.2 327.8h0M132.1 400.2h0M85.3 367.4h0M53.7 322.1h0M72.7 364.7h0M89.9 318.5h0M143.3 343.5h0M102.7 389.4h0M98.8 340.3h0M34.6 305.7h0M128.7 356h0M61.4 388.5h0M137.6 387.2h0M139.5 330.2h0M54.7 322.1h0M38 363.9h0M83.3 407.1h0M39.4 368.4h0M45.6 408.5h0M95.1 373.1h0M106.8 345.6h0M50.1 409.2h0M57 306.3h0M71.5 402.2h0M125.5 307.2h0M111.3 373.8h0M38.5 318.1h0M136.9 377.1h0M98.1 386.1h0M68.4 330.5h0M85.9 320.7h0M48.2 377.2h0M112.1 323.7h0M135.6 326.5h0M128.8 400.6h0M82.1 312.8h0M126 371.7h0M70.1 393.4h0M102.2 317.8h0M38.6 381.2h0M48.4 398.7h0M78.1 319.3h0M125.7 339.1h0M86.9 337.3h0M45 410.6h0M131.9 376.2h0M85.4 333.8h0M54.7 342.4h0M143.4 404.7h0M64.5 401.5h0M113.2 334.6h0M34.1 391.6h0M47.9 302.2h0M90.9 322.6h0M133.8 326.2h0M47.7 322h0M111.5 323.8h0M42 369.5h0M62.8 324.9h0M111.1 392.1h0M54.8 309.3h0M77.7 382.1h0M122.5 339.2h0M128.5 356.7h0M133.6 354.9h0M61.9 322.7h0M73.2 320.1h0M98.5 302.5h0M81.9 359.2h0M111.8 392.6h0M68 380.9h0M115.9 308.8h0M138.5 356.9h0M91.3 361.6h0M140 326.8h0M43.7 329.8h0M35.6 312.7h0M54 304h0M96.5 360h0M43.7 398.5h0M37.3 315.7h0M88 333h0M77.4 317.2h0M128.1 318.3h0M115.4 320.2h0M136.7 345.2h0M125.8 360.3h0M137.1 388.2h0M59.1 339.2h0M141.5 391.3h0M123 396.1h0M89.9 408.3h0M60 348.9h0M72.9 360.9h0M80.5 358h0M47.8 409.6h0M136.6 372.3h0M130.7 400.2h0M103.7 331.5h0M62.7 362.2h0M101.4 329.8h0M80.6 407.5h0M66.3 373.9h0M98.4 408.1h0M62.2 353.8h0M48.8 315.8h0M65 347.1h0M59.4 311.8h0M125.8 369.7h0M104.7 324.3h0M83.6 362.8h0M84.5 336.5h0M57 358.9h0M97.5 303.3h0M128.2 328.5h0M87 333.6h0M65.2 387.7h0M39.7 398.7h0M39.2 345.1h0M114.2 314.1h0M139.1 384h0M69.8 341.1h0M100.9 396.3h0M89.9 384h0M116.9 354.8h0M111.2 403.5h0M129.2 302.5h0M97.5 357.3h0M96 348.4h0M129.4 369.4h0M82.6 352.8h0M64.9 345.4h0M75.1 337.7h0M126.9 357.5h0M52.8 335.7h0M96.3 366.6h0M134.7 337.9h0M125.6 408.4h0M79.8 403.1h0M37.6 364.7h0M134.7 387.9h0M143.4 359.4h0M108.6 345.2h0M98.5 341h0M107.6 360.3h0M74 346.5h0M96.2 399.7h0M86.5 350.9h0M143.2 340.1h0M123.1 321h0M141.2 393.7h0M44.6 401.3h0M123.6 411.9h0M79.1 319.4h0M89.2 358h0M52.6 371.9h0M71.6 412.3h0M37 347.7h0M66.4 378.7h0M66.2 395.5h0M106.7 323.8h0M93.9 331.5h0M91.5 412.7h0M78.1 315.5h0M116.8 313.8h0M51.3 360h0M100.5 391.5h0M33.7 387.5h0M111.9 341.3h0M62 313h0M97.1 340.7h0M75.2 308.1h0M97.2 408.5h0M101.3 329.7h0M135.9 396.9h0M132.3 392.6h0M99.4 408.6h0M138 329h0M112.3 326.6h0M129.7 355.8h0M59.4 321.3h0M53.1 409.8h0M94.8 314.8h0M75.2 346.8h0M46 393.7h0M59.6 323.2h0M58.7 305.9h0M70.3 319.3h0M42.6 331.9h0M46.5 351.2h0M121.9 319.7h0M112.7 343.8h0M55.5 407.6h0M57.6 352.2h0M110.9 330.9h0M97.7 342.8h0M100 325.6h0M46 358.9h0M62.4 387.7h0M105.5 365h0M75.7 311.6h0M127 337.6h0M44.4 364.4h0M88 335h0M66.9 327.1h0M112.1 333.3h0M133.5 388h0M128.2 316.7h0M35.6 377.4h0M71.4 347.8h0M110.1 329.6h0M71.5 371.8h0M45.1 403.3h0M111.6 306.5h0M50.3 324h0M74.7 306.4h0M103.3 321.9h0M95.8 381.5h0M80.7 378h0M32.4 394.6h0M64.2 306.8h0M99.9 307.3h0M44.7 389.8h0M134.1 385.2h0M109.6 345.7h0M124.5 333.2h0M137.6 349.1h0M109.3 384h0M102.2 352.3h0M110 349.5h0M135.6 316.2h0M37.2 380h0M61.4 362.7h0M103.3 362.4h0M38.9 341.7h0M54.7 336.5h0M111 376.4h0M59.2 359.2h0M136.5 341h0M130.8 317.7h0M69.4 392.5h0M116.9 320.8h0M98.9 353.2h0M124.8 314.7h0M72.4 324.9h0M63.6 323.9h0M82.2 314.5h0M84.5 342.3h0M40.3 303.2h0M115.8 311.3h0M141.4 364.6h0M86.7 350.2h0M92.7 302.9h0M104 371.7h0M104.9 329.9h0M47.7 305.1h0M125.7 334.9h0M103.3 395.9h0M51 389.1h0M114.9 338.3h0M124.2 337.5h0M93.6 343h0M58.9 306.6h0M102.2 393h0M133 406.9h0M87.9 319.5h0M97 310.9h0M50.5 351.2h0M42.3 306.4h0M53.5 382.2h0M125.9 396.9h0M79.7 333.4h0M89.6 348.8h0M81.1 375.9h0M132.9 320.3h0M81.6 364.5h0M54 311.4h0M83.6 409.8h0M128.6 410.2h0M101.3 392h0M107.6 369.6h0M95.9 407.8h0M104.4 335.2h0M130.8 305.1h0M107.8 351.7h0M105.8 343.3h0M78.6 360.8h0M76.4 314.7h0M131.4 362.8h0M128.3 330.1h0M91.4 329.9h0M94 327.1h0M44.9 359h0M41.2 347.3h0M81.2 397.8h0M111.8 386h0M142.6 382.1h0M124.7 345.5h0M139.2 364.5h0M47.5 388.2h0M58.7 343.3h0M98.4 325.7h0M111 349.3h0M101.4 398.8h0M134.4 398.7h0M115.3 339.9h0M108 393.6h0M73.8 383.8h0M112.6 306.8h0M43.4 362.9h0M44.9 404.7h0M60.6 323.4h0M125.6 366.5h0M34.6 314.3h0M52.9 363.5h0M108.8 344.3h0M129.7 361.8h0M122.3 407.3h0M70.4 318.8h0M129.5 390.9h0M52.6 392.8h0M76 354.8h0M126.4 345.7h0M100.3 310.4h0M56.4 401.2h0M37.2 320.8h0M84.4 366.1h0M71.7 302.7h0M69.4 304.3h0M142.1 307h0M107 332.3h0M88 331.1h0M91.1 408.2h0M36.1 364.2h0M129.4 387.9h0M102.9 342.3h0M120.8 398.9h0M108.1 335.7h0M114.6 358.5h0M71.3 363.1h0M39 339.4h0M142.3 355.4h0M59.4 328.1h0M47.4 302.8h0M82.7 351.5h0M66 320.8h0M65.9 336.2h0M93.7 406.1h0M134.8 366.8h0M52.2 366.4h0M72 388h0M128.9 309.5h0M132.4 332.6h0M34.9 320.3h0M110.7 326.2h0M54.6 368.9h0M104.4 323.8h0M139.5 368.7h0M122.4 399.2h0M47.5 322.9h0M129.7 373h0M55.9 338.3h0M104.5 347h0M69.9 308.4h0M37.4 371.5h0M87.3 368.4h0M83.9 303.5h0M95.1 411.6h0M100.6 382.4h0M42.7 319.3h0M117.7 312h0M79.4 361.8h0M94.1 375h0M69.1 384.3h0M111.5 386.7h0M66.7 387.8h0M82.7 332.9h0M137 316.6h0M85.3 374.7h0M72.6 411.8h0M116.5 312h0M47.2 308.7h0M94.1 322.2h0M73 318.6h0M114.4 404.3h0M35.5 388.4h0M141.6 357.4h0M70.6 390.9h0M68.3 402.3h0M113.9 309.3h0M77 397.9h0M95.1 347.5h0M137.5 371.6h0M60.3 331.1h0M58.1 324.6h0M103.8 335.1h0M56.4 365.2h0M128.4 398.5h0M115.9 393.3h0M69.2 355.9h0M50.3 377.8h0M82.7 366.3h0M55.7 400.1h0M119.1 397.8h0M128.5 412.4h0M35 314.4h0M33.3 403.2h0M114.2 312.8h0M108.3 312h0M134.5 381.5h0M141.3 305.7h0M120.5 378.5h0M88.5 327.7h0M44 304.2h0M67.5 399.5h0M86.5 317.1h0M52.2 378.1h0M114.5 357.6h0M71.7 357.1h0M71.2 325.9h0M130.6 383.2h0M52 331.4h0M37.1 358.5h0M94.3 342.2h0M108.9 374.5h0M93.4 378.6h0M129.6 381.7h0M67.7 348.5h0M75.4 344.8h0M48.2 412.8h0M100 404.8h0M100.3 343.8h0M54.4 314.9h0M119.6 402.8h0M109.6 338h0M93.4 337h0M32.4 384.8h0M89.1 367.7h0M58.4 371.9h0M74.5 381.1h0M90.9 370h0M68.2 371.8h0M57.1 370h0M133.4 354.5h0M90.4 354.9h0M48.1 404.9h0M90.6 360.5h0M58.9 321.1h0M83.5 373.1h0M131.8 398.3h0M74.7 394.4h0M46 319.1h0M43.7 341.6h0M90.3 352.3h0M76.3 412.7h0M82.3 355.1h0M116.8 318.6h0M73.1 359.8h0M73.6 339.8h0M34.3 324.3h0M38.7 321.8h0M62.9 338h0M125.1 312.1h0M127.9 324.4h0M120.5 370.6h0M37.2 351.1h0M111.6 334.8h0M104.4 392h0M75.2 366.2h0M53.6 409.8h0M73.7 375.9h0M40.2 385.9h0M90.8 357.1h0M116.6 304.8h0M83.8 353.3h0M78.5 354.6h0M81.3 356.5h0M124.1 376.4h0" stroke="#d83434" stroke-width="1.25"/>
<defs><path id="ww7" d="M120 322.5h0M121.2 321.5h0M70.9 395.4h0M70 394h0M137.6 334.5h0M136.3 333.5h0M110.9 358h0M109.3 357.9h0M103.4 310h0M104.1 311.5h0M109.2 388.6h0M110.8 388.8h0M71.1 347.2h0M71.5 345.6h0M132.2 310.9h0M131.9 312.5h0M35 325.9h0M34.1 324.5h0M131.9 358.3h0M132.1 356.7h0M129.7 328.2h0M130.7 326.9h0M91.5 384.7h0M92.5 386h0M103.8 341.6h0M103.5 340h0M49 394.7h0M50.6 395.3h0M113.9 321.2h0M114.7 319.8h0M119.1 367h0M117.5 366.8h0M83.8 401.3h0M82.7 400.1h0M53.3 334.5h0M54.7 335.4h0M126.8 320h0M125.2 319.5h0M58.8 338.1h0M60.2 337.3h0M50.6 339.4h0M49.2 338.6h0M141.7 383.5h0M140 383.5h0M138.6 314h0M138.9 312.4h0M141.7 389.2h0M142.8 390.4h0M80 323h0M81.6 323.3h0M43.4 325.6h0M43.7 324h0M36.3 345.3h0M37 346.8h0M108.8 356.8h0M110.4 357.1h0M83 317.1h0M84.7 317.1h0M78.2 383.7h0M77.7 385.2h0M80.2 364.7h0M81.2 366h0M79 326.4h0M80.2 327.4h0M129.9 386.9h0M131.3 387.9h0M126.5 376.6h0M128.1 377h0M82.1 336h0M83.7 336.2h0M43.4 347.6h0M44.1 349h0M111.7 372.9h0M110.7 371.6h0M78.7 351.8h0M80.3 352h0M78.8 376.5h0M78.1 378h0M52.9 373.6h0M53.6 375.1h0M76.6 356.2h0M75.5 357.4h0M37.1 363.2h0M35.6 362.6h0M118.3 406.3h0M119.7 405.4h0M42.6 365.5h0M44.1 364.9h0M111.5 358.1h0M113.1 358.4h0M123.7 360.5h0M124.2 358.9h0M137.4 324.4h0M138.8 325.2h0M76.7 387.4h0M75.1 387.2h0M142.8 341.8h0M141.3 342.3h0M63.9 346.5h0M62.5 347.3h0M78.6 347.7h0M79.9 348.6h0M71.7 332.4h0M70.5 331.3h0M113.8 406.2h0M115.2 405.4h0M55.9 391.6h0M56.2 390h0M56.1 315.3h0M56.8 316.8h0M121.4 372.6h0M122.5 371.4h0M95.9 326.9h0M94.8 328.1h0M72 372h0M72.4 373.6h0M122.9 354.9h0M122.3 353.4h0M93.8 315h0M94.1 316.6h0M71.7 397.4h0M70.8 396.1h0M73.2 330.6h0M73.9 329.1h0M52.8 301.3h0M54 302.4h0M63.3 330.2h0M62.7 328.6h0M85 348.8h0M86.6 349.1h0M106.6 341.8h0M105.9 343.2h0M127.9 307.4h0M128.2 309h0M133.8 389.8h0M132.2 389.5h0M125.9 372.4h0M124.5 373.3h0M33 406.8h0M34.5 407.3h0M60.8 314.1h0M59.2 313.7h0M57.7 389h0M57.6 387.4h0M49.6 401.4h0M50.2 402.9h0M50.2 400.3h0M51.8 400.3h0M120.1 375.6h0M119.7 377.1h0M120.3 396.1h0M119 395.2h0M109.4 359.9h0M110.4 361.1h0M80.1 399.6h0M81.7 399.1h0M62.4 328.8h0M60.8 328.4h0M86.2 308.7h0M87.2 307.5h0M47.3 356.6h0M48.6 355.5h0M93.4 397.8h0M92.1 398.8h0M124.9 353.5h0M126.5 353.1h0M105.6 396h0M105.8 394.4h0M79.8 409.1h0M78.2 409.4h0M104.2 372.8h0M102.8 373.5h0M101.1 377.3h0M100.3 378.8h0M68.1 410.9h0M69.4 410h0M87.3 401.8h0M85.8 402.6h0M111.7 372.3h0M111.5 370.7h0M127.2 342.8h0M128.3 341.6h0M91 388.5h0M89.8 387.5h0M79.8 348.5h0M81.3 348h0M124.8 333.6h0M125.1 335.2h0M77.1 358.9h0M76.3 357.5h0M88.1 409.4h0M89.6 409.9h0M120 339.7h0M119.6 338.1h0M64.9 366.3h0M66.5 366.6h0M119.4 305.4h0M120.6 306.5h0M131.8 362.9h0M130.3 363.4h0M66.1 303.6h0M64.7 302.8h0M134.3 368.7h0M135.8 369.2h0M119.3 402.3h0M121 402.4h0M100.6 370.6h0M102 371.5h0M98.9 378.6h0M97.6 377.6h0M106.6 351.8h0M107.5 353.2h0M44.6 322.4h0M43.1 323h0M117.9 402.6h0M119.5 403.1h0M73.6 392.3h0M74.3 393.8h0M94.5 331.6h0M94 330.1h0M78.3 337.8h0M79.1 336.3h0M104.7 406h0M103.2 406.5h0M96.2 307.1h0M94.6 306.9h0M123.4 365.4h0M122.8 366.9h0M81.2 304.2h0M81.5 302.6h0M99.2 406h0M98.1 407.1h0M86 348.4h0M84.4 348.4h0M104.6 326.4h0M103.1 325.9h0M33.6 301.6h0M35 302.4h0M46.7 409.8h0M45.1 410h0M130.1 316.4h0M128.7 317.3h0M112.3 327.9h0M113.4 329h0M53.3 306.5h0M54.1 308h0M111.6 395.9h0M112.7 397.1h0M41.4 370.8h0M42.7 371.8h0M83.5 406.5h0M82.6 405.2h0M140.7 381.7h0M139.3 382.6h0M34.4 373.3h0M34.7 374.9h0M41 335.5h0M42.2 336.7h0M49.7 397.7h0M50.9 396.6h0M38 342.3h0M39.6 342h0M81.8 377.9h0M80.2 377.5h0M120.4 341.5h0M122 341.9h0M101.6 349.1h0M101.9 347.5h0M120 405.9h0M120.7 407.3h0M96.3 334.8h0M94.8 335.3h0M141.2 379.2h0M141.5 380.8h0M70.3 369.1h0M69.1 370.3h0M124.5 369.7h0M124 368.1h0M79.3 401.3h0M79.5 399.7h0M109.3 368.2h0M108.9 369.7h0M123.2 333.5h0M121.9 334.4h0M60.7 348.4h0M62.3 348.2h0M124.1 400.8h0M122.6 401.4h0M125.7 391.3h0M125.6 393h0M96.6 331.6h0M96.6 333.2h0M123 377.5h0M122.4 379h0M69.9 311.1h0M71.5 310.6h0M121.1 323.2h0M122 324.5h0M135.2 327.3h0M136.8 327.4h0M108 354.6h0M106.7 353.7h0M60.9 384.4h0M61.6 385.9h0M83.8 310.8h0M84.3 312.3h0M117.3 327.4h0M118.9 327.1h0M131.1 400.1h0M132.5 399.3h0M85.7 368.4h0M84.3 367.6h0M53.4 321.1h0M54.7 322h0M71.8 365.2h0M72.3 363.7h0M90.9 318.8h0M89.3 319.4h0M142.5 344.1h0M103.3 390.3h0M101.8 389.7h0M97.7 340.2h0M99.1 339.3h0M35.6 305.7h0M34.4 306.7h0M127.8 355.6h0M129.3 355.2h0M60.5 389h0M61.2 387.5h0M138.1 386.2h0M138.4 387.8h0M140.5 330.4h0M139.1 331.1h0M55.6 322.6h0M53.9 322.8h0M38.7 363.1h0M38.5 364.7h0M84.2 406.6h0M83.6 408.1h0M38.6 369h0M39 367.4h0M45.6 409.5h0M44.7 408.2h0M96.1 372.8h0M95.2 374.1h0M105.9 346h0M106.8 344.6h0M51.1 409.1h0M49.9 410.2h0M56.9 307.3h0M56 306h0M72.3 401.6h0M71.8 403.2h0M125.7 306.2h0M126.4 307.7h0M112.3 373.7h0M111.1 374.8h0M38.5 317h0M39.5 318.4h0M136.5 378.1h0M136 376.6h0M98.9 386.8h0M97.3 386.8h0M69.1 331.3h0M67.5 331.1h0M85.9 321.7h0M84.9 320.5h0M49.3 377.3h0M47.9 378.2h0M113.1 323.9h0M111.7 324.6h0M136.5 326.1h0M135.7 327.5h0M129.4 401.4h0M127.8 401.1h0M83 312.3h0M82.3 313.8h0M125.1 372.1h0M126 370.7h0M69.1 393.5h0M70.2 392.3h0M102.4 318.9h0M101.2 317.8h0M37.6 380.9h0M39.2 380.4h0M48.3 399.7h0M47.4 398.3h0M78 320.3h0M77.2 318.9h0M126.3 340h0M124.7 339.4h0M87.8 336.7h0M87.3 338.3h0M46 411h0M44.4 411.5h0M132.2 377.2h0M130.9 376.2h0M85.4 334.8h0M84.5 333.5h0M55.8 342.4h0M54.5 343.4h0M142.6 405.4h0M65.5 401.8h0M63.9 402.3h0M114.2 334.4h0M113 335.6h0M33.5 392.4h0M33.4 390.8h0M48.4 301.3h0M48.6 302.9h0M90 323h0M90.7 321.6h0M132.9 325.8h0M134.5 325.4h0M47.8 321h0M48.6 322.4h0M112.4 324.3h0M110.8 324.6h0M41 369.6h0M42.3 368.5h0M62 324.2h0M63.6 324.3h0M110.2 391.6h0M111.8 391.3h0M54.7 308.3h0M55.8 309.4h0M78.7 382.5h0M77.1 383h0M123.1 338.3h0M123.2 340h0M129.5 356.8h0M128.2 357.7h0M134.3 354.2h0M134.1 355.8h0M62.4 321.8h0M62.7 323.4h0M72.4 320.9h0M72.6 319.3h0M97.5 302.4h0M98.9 301.6h0M82.7 359.9h0M81 359.8h0M112.5 391.9h0M112.4 393.5h0M67.3 381.6h0M67.5 380h0M116.6 308.1h0M116.5 309.7h0M137.5 356.8h0M138.8 355.9h0M92.4 361.8h0M91 362.6h0M140.4 327.8h0M139 327h0M44.1 328.9h0M44.5 330.4h0M35.3 311.7h0M36.7 312.6h0M53.2 303.4h0M54.8 303.3h0M96.2 359.1h0M97.5 360h0M43.5 397.5h0M44.8 398.6h0M36.3 315.7h0M37.5 314.7h0M88.8 333.8h0M87.2 333.6h0M76.6 316.6h0M78.2 316.5h0M127.2 317.9h0M128.8 317.6h0M115.9 319.3h0M116.2 320.9h0M135.7 345.6h0M136.4 344.2h0M124.9 361h0M125.4 359.4h0M136.5 389.1h0M136.4 387.5h0M58.1 339.6h0M58.9 338.2h0M142.4 390.7h0M141.8 392.3h0M124 396.4h0M122.4 396.9h0M90.8 407.9h0M90.1 409.3h0M59.4 348.1h0M61 348.4h0M73.8 361.4h0M72.2 361.7h0M81.5 358.2h0M80.1 359h0M48 408.6h0M48.8 410.1h0M137 371.3h0M137.4 372.9h0M131.7 400.4h0M130.3 401.1h0M103.3 330.6h0M104.7 331.3h0M63.6 361.7h0M63 363.2h0M100.4 329.7h0M101.8 328.9h0M80.3 408.5h0M79.7 407.1h0M67 374.6h0M65.4 374.4h0M97.4 408h0M98.8 407.2h0M61.2 353.6h0M62.6 352.9h0M49.5 316.5h0M47.9 316.2h0M64.7 348.1h0M64.1 346.6h0M58.4 311.5h0M59.9 310.9h0M124.8 369.3h0M126.4 368.9h0M104.4 323.3h0M105.7 324.3h0M82.8 362.2h0M84.4 362.2h0M84.5 337.5h0M83.5 336.3h0M56.2 359.6h0M56.5 358h0M96.9 304.1h0M96.8 302.5h0M127.3 328.1h0M128.8 327.6h0M88 333.5h0M86.8 334.6h0M65.7 388.6h0M64.2 388h0M38.8 399.1h0M39.6 397.7h0M38.2 345.4h0M39.1 344h0M114.3 315.1h0M113.1 314h0M139.7 384.8h0M138.1 384.3h0M69.3 340.2h0M70.8 340.9h0M101.3 395.4h0M101.7 397h0M89.9 383h0M90.9 384.2h0M117.1 353.7h0M117.8 355.2h0M111.9 404.3h0M110.3 404h0M129.3 301.5h0M130.2 302.8h0M98.5 357h0M97.5 358.3h0M96.2 347.4h0M96.9 348.8h0M128.7 370.1h0M128.9 368.5h0M82.5 351.8h0M83.7 352.9h0M63.9 345h0M65.5 344.5h0M75.3 336.7h0M76 338.2h0M125.9 357.8h0M126.8 356.4h0M53.4 336.6h0M51.9 336.2h0M97.2 367.1h0M95.6 367.3h0M135.3 337.1h0M135.4 338.7h0M125.9 409.4h0M124.6 408.5h0M80.8 403.1h0M79.4 404.1h0M36.6 364.7h0M37.8 363.7h0M133.7 387.6h0M135.2 386.9h0M142.4 359.3h0M143.8 358.5h0M107.9 346h0M107.9 344.4h0M99.5 340.6h0M98.6 342h0M108.4 360.9h0M106.8 361h0M73 346.1h0M74.6 345.7h0M97.2 399.4h0M96.2 400.7h0M85.7 350.1h0M87.4 350.3h0M142.2 339.9h0M143.6 339.2h0M122.7 321.9h0M122.3 320.3h0M140.2 393.6h0M141.5 392.7h0M44.2 400.3h0M45.6 401.2h0M124.4 411.3h0M124.1 412.8h0M78.9 320.4h0M78.2 318.9h0M89.6 359h0M88.2 358.2h0M51.8 371.3h0M53.4 371.3h0M70.9 411.5h0M72.5 411.8h0M37.3 346.7h0M37.9 348.1h0M67.5 378.7h0M66.2 379.7h0M65.3 394.9h0M66.9 394.8h0M105.6 323.8h0M106.9 322.8h0M93.3 330.7h0M94.8 331.1h0M90.5 412.2h0M92.1 411.9h0M78.6 316.3h0M77.1 315.8h0M117.7 314.4h0M116 314.5h0M51.7 359.1h0M52.1 360.7h0M101.5 391.9h0M99.9 392.4h0M33.2 388.5h0M32.9 386.9h0M112.4 342.2h0M110.9 341.5h0M62.8 312.5h0M62.3 314h0M96.1 341h0M97 339.7h0M76 307.4h0M75.7 309h0M96.2 408.9h0M97 407.5h0M102.3 330h0M100.8 330.6h0M135.5 397.8h0M135.1 396.2h0M132 393.5h0M131.5 392h0M98.3 408.6h0M99.6 407.6h0M137.2 329.6h0M137.6 328h0M111.9 327.5h0M111.4 326h0M130 354.8h0M130.6 356.3h0M58.7 322.1h0M58.8 320.4h0M52.8 410.8h0M52.2 409.3h0M93.8 314.5h0M95.3 313.8h0M76.2 347.2h0M74.6 347.6h0M45.4 394.5h0M45.4 392.9h0M59.3 324.2h0M58.6 322.8h0M58.2 305h0M59.7 305.6h0M70 318.3h0M71.3 319.3h0M43.1 331h0M43.3 332.7h0M47.1 350.3h0M47.2 351.9h0M121.3 320.5h0M121.2 318.9h0M113.7 343.6h0M112.7 344.9h0M54.4 407.5h0M55.7 406.6h0M58.3 353h0M56.7 352.7h0M111.8 330.3h0M111.3 331.9h0M97.7 343.9h0M96.7 342.6h0M100.7 324.9h0M100.5 326.5h0M45 358.7h0M46.5 358.1h0M61.6 388.3h0M61.9 386.7h0M105.1 366h0M104.7 364.4h0M76.2 312.5h0M74.7 311.8h0M126.5 336.8h0M128 337.3h0M43.8 365.2h0M43.8 363.5h0M88.9 335.4h0M87.4 335.8h0M67.7 327.9h0M66.1 327.7h0M111.2 333.9h0M111.7 332.4h0M134.2 387.3h0M133.9 388.9h0M128 317.7h0M127.2 316.3h0M35.1 376.6h0M36.6 377.1h0M70.9 346.9h0M72.4 347.5h0M110.7 328.7h0M110.8 330.4h0M71.9 372.7h0M70.5 372h0M45 402.3h0M46.1 403.5h0M112.6 306.7h0M111.1 307.4h0M50 325h0M49.5 323.4h0M74.3 307.3h0M73.8 305.7h0M103.9 321.1h0M104.1 322.7h0M95.7 382.6h0M94.8 381.3h0M80.1 378.8h0M80 377.2h0M32.6 393.6h0M33.4 395h0M64.8 306h0M64.8 307.6h0M99.9 308.3h0M98.9 307h0M44.9 390.8h0M43.6 389.9h0M135 385.7h0M133.3 385.9h0M109.6 344.7h0M110.6 345.9h0M125.4 333.8h0M123.8 333.9h0M138.6 348.6h0M137.8 350.1h0M109.8 383.1h0M110 384.7h0M103.2 352.6h0M101.6 353.1h0M109 349.5h0M110.3 348.6h0M135.7 315.1h0M136.6 316.5h0M37.5 379h0M38 380.6h0M62.4 362.5h0M61.3 363.7h0M103.3 363.4h0M102.3 362.1h0M38 342.3h0M38.6 340.7h0M55.4 337.3h0M53.8 336.9h0M111.1 377.4h0M110 376.2h0M58.2 359.6h0M59.1 358.2h0M136.1 342h0M135.6 340.5h0M129.8 317.4h0M131.4 316.9h0M68.4 392.2h0M70 391.6h0M116.4 319.9h0M117.9 320.5h0M99 352.2h0M99.9 353.5h0M124.6 315.7h0M123.9 314.2h0M73.4 325.3h0M71.8 325.7h0M63.3 322.9h0M64.6 323.8h0M81.7 315.5h0M81.4 313.9h0M85 343.2h0M83.5 342.6h0M41.3 303.1h0M40.1 304.2h0M115.6 310.3h0M116.9 311.4h0M142.2 365.2h0M140.6 365.2h0M87.1 351.2h0M85.7 350.3h0M93.6 302.4h0M93 303.9h0M105 371.3h0M104.2 372.7h0M105 330.9h0M103.9 329.7h0M47.9 304.1h0M48.7 305.5h0M126.1 335.8h0M124.7 335h0M104.2 395.4h0M103.5 396.9h0M51.5 388.2h0M51.8 389.8h0M115.3 339.2h0M113.9 338.4h0M123.5 338.3h0M123.6 336.7h0M94.1 342.1h0M94.4 343.7h0M58 306.2h0M59.6 305.8h0M101.9 392h0M103.2 393h0M132 406.9h0M133.3 405.9h0M87.6 320.5h0M87 318.9h0M96.6 310h0M98 310.8h0M51.5 351h0M50.5 352.2h0M41.3 306.8h0M42.1 305.4h0M54.6 382.3h0M53.3 383.2h0M126.1 395.9h0M126.8 397.4h0M79.1 332.6h0M80.6 333.1h0M89 349.6h0M88.9 348h0M81.6 375h0M81.9 376.6h0M132.6 321.2h0M132 319.7h0M81 365.4h0M81 363.8h0M53.6 312.4h0M53.3 310.8h0M84.4 409.3h0M83.9 410.8h0M129.6 409.9h0M128.6 411.2h0M102.2 392.4h0M100.7 392.9h0M107.3 370.6h0M106.7 369.1h0M94.8 407.9h0M96 406.7h0M103.8 336.1h0M103.7 334.5h0M131.2 306h0M129.8 305.2h0M108.7 352.2h0M107.1 352.4h0M104.9 342.8h0M106.5 342.5h0M77.7 360.4h0M79.3 360h0M76.8 315.6h0M75.4 314.9h0M132.1 363.5h0M130.5 363.4h0M129.1 330.7h0M127.5 330.8h0M90.3 330h0M91.6 328.9h0M93 326.7h0M94.6 326.4h0M44 358.4h0M45.6 358.2h0M42.2 347.7h0M40.6 348.1h0M80.2 397.5h0M81.8 397h0M112.6 386.7h0M111 386.6h0M143.4 382.7h0M141.8 382.7h0M125.2 346.4h0M123.7 345.8h0M139.3 363.5h0M140.1 364.9h0M48.5 388.5h0M46.9 389h0M59.7 343.4h0M58.3 344.3h0M98.1 326.6h0M97.6 325.1h0M111.8 348.6h0M111.5 350.2h0M100.5 398.4h0M102.1 398h0M134.9 399.6h0M133.4 398.9h0M115.4 338.9h0M116.2 340.2h0M108.8 394.4h0M107.2 394.2h0M74.8 383.5h0M73.9 384.9h0M111.8 306.2h0M113.4 306.2h0M43.7 361.9h0M44.3 363.5h0M44.4 403.8h0M45.9 404.5h0M59.7 323.8h0M60.5 322.4h0M126.4 367.2h0M124.7 367.1h0M35 313.3h0M35.5 314.8h0M52.7 364.5h0M52 363h0M109.4 345.1h0M107.8 344.7h0M129.4 360.8h0M130.8 361.6h0M123.3 407.4h0M121.9 408.3h0M69.4 318.7h0M70.7 317.8h0M130.5 391.1h0M129 391.8h0M52.1 391.9h0M53.6 392.6h0M76.6 355.7h0M75 355.1h0M127.1 344.9h0M126.9 346.5h0M99.8 311.3h0M99.5 309.7h0M55.5 400.7h0M57.1 400.5h0M36.5 321.6h0M36.6 320h0M83.6 366.7h0M83.9 365.1h0M70.8 302.2h0M72.4 301.9h0M68.5 304.5h0M69.4 303.2h0M142.7 307.9h0M141.1 307.4h0M106.8 333.3h0M106 331.9h0M87 330.7h0M88.6 330.3h0M92.1 408.2h0M90.9 409.2h0M36.2 363.2h0M37.1 364.6h0M128.7 387.2h0M130.3 387.5h0M102.7 343.3h0M102 341.8h0M121.8 398.5h0M121 399.9h0M108.2 334.7h0M109.1 336.1h0M113.9 357.7h0M115.5 358h0M70.4 363.7h0M71 362.2h0M38.6 340.4h0M38.2 338.8h0M141.6 356.2h0M141.7 354.6h0M58.8 328.9h0M58.7 327.3h0M48.1 302.1h0M47.9 303.7h0M81.8 351h0M83.4 350.7h0M66.9 321.2h0M65.3 321.6h0M65.7 335.2h0M66.9 336.3h0M93.1 406.9h0M93 405.3h0M135.7 367.2h0M134.1 367.5h0M53.2 366.4h0M52 367.4h0M71.1 388.4h0M71.8 387h0M127.9 309.6h0M129.1 308.5h0M132.3 333.7h0M131.4 332.3h0M34.8 321.3h0M33.9 319.9h0M109.9 326.8h0M110.3 325.3h0M55.3 368.1h0M55.2 369.8h0M104.3 322.8h0M105.5 324h0M140.4 369.2h0M138.8 369.5h0M121.8 400h0M121.7 398.4h0M46.5 322.7h0M48 322h0M130.6 372.5h0M130 374h0M55.9 337.2h0M56.9 338.5h0M104.1 346.1h0M105.5 346.8h0M69 308.9h0M69.6 307.4h0M36.8 372.4h0M36.6 370.8h0M87.3 369.4h0M86.3 368.1h0M84.8 303h0M84.1 304.5h0M96.1 412h0M94.5 412.5h0M100.1 383.3h0M99.9 381.7h0M43.3 320.1h0M41.8 319.8h0M118.1 311h0M118.5 312.6h0M78.5 361.2h0M80.1 361.1h0M93.2 374.4h0M94.9 374.3h0M69.1 385.3h0M68.1 384h0M111.6 385.7h0M112.4 387.1h0M67.7 387.6h0M66.6 388.8h0M81.7 332.7h0M83.1 331.9h0M138.1 316.7h0M136.7 317.6h0M85.4 373.7h0M86.2 375.1h0M72.8 412.9h0M71.6 411.7h0M117.5 312.2h0M116.1 312.9h0M46.2 308.7h0M47.5 307.7h0M95.1 321.8h0M94.2 323.2h0M73.4 319.5h0M72 318.8h0M115 405.2h0M113.4 404.6h0M35.6 389.4h0M34.5 388.2h0M141 356.6h0M142.6 356.9h0M69.6 391.1h0M70.6 389.8h0M69.1 402.9h0M67.5 402.9h0M113.3 308.4h0M114.9 308.9h0M78 398.3h0M76.4 398.7h0M96 347h0M95.4 348.5h0M137.6 372.6h0M136.4 371.5h0M59.4 331.5h0M60.2 330.1h0M58.1 323.5h0M59 324.9h0M104.9 335.1h0M103.6 336.1h0M57 366.1h0M55.4 365.6h0M128.2 399.5h0M127.4 398.1h0M115.7 394.3h0M115 392.9h0M70 355.2h0M69.6 356.8h0M49.4 377.2h0M51.1 377.1h0M83.5 365.6h0M83.2 367.2h0M55 400.9h0M55 399.2h0M119.5 398.8h0M118.1 398h0M128.2 413.4h0M127.6 411.9h0M36 314.2h0M34.9 315.4h0M34 404h0M32.4 403.6h0M114.7 313.7h0M113.2 313.1h0M107.7 312.9h0M107.6 311.3h0M135.3 380.8h0M135 382.4h0M141.4 306.7h0M140.3 305.5h0M121.5 378.8h0M120 379.4h0M87.5 328.1h0M88.3 326.7h0M45 304.2h0M43.8 305.2h0M68.3 400.2h0M66.7 400.1h0M85.6 317.5h0M86.3 316.1h0M52.8 378.9h0M51.3 378.5h0M115.2 358.2h0M113.6 358.2h0M72.6 356.6h0M71.9 358.1h0M72.2 325.7h0M71.1 326.9h0M130.4 384.2h0M129.6 382.8h0M53 331.8h0M51.4 332.2h0M36.2 359h0M36.8 357.5h0M95.3 342.3h0M93.9 343.2h0M107.9 374.2h0M109.4 373.6h0M94.4 378.5h0M93.2 379.6h0M128.8 382.3h0M129.2 380.7h0M68.7 348.4h0M67.6 349.6h0M74.5 345.3h0M75.1 343.8h0M49.3 412.9h0M47.9 413.8h0M99.9 405.8h0M99 404.5h0M100.4 344.9h0M99.3 343.6h0M55 314h0M55.1 315.7h0M120.5 403.2h0M119 403.7h0M108.9 337.2h0M110.5 337.6h0M94.4 336.9h0M93.3 338.1h0M33 384h0M33 385.6h0M90.1 367.7h0M88.9 368.8h0M58.3 370.8h0M59.4 372.1h0M73.7 381.7h0M74 380.1h0M90.4 369.1h0M91.9 369.8h0M67.2 371.5h0M68.7 370.9h0M57.1 371h0M56.2 369.6h0M133.3 353.5h0M134.5 354.6h0M90.6 355.9h0M89.4 354.8h0M47.1 404.7h0M48.5 404h0M91 359.6h0M91.4 361.2h0M59.3 320.2h0M59.6 321.8h0M84 372.2h0M84.3 373.8h0M132.8 398.6h0M131.3 399.2h0M75.2 393.4h0M75.5 395h0M46 320.1h0M45 318.8h0M44.1 340.6h0M44.6 342.2h0M91.2 352.8h0M89.6 353h0M76 411.7h0M77.3 412.6h0M82.6 354.1h0M83.2 355.6h0M116.3 317.7h0M117.8 318.4h0M73.2 360.8h0M72.1 359.6h0M72.8 340.5h0M73.1 338.8h0M33.3 323.9h0M34.9 323.5h0M38.5 320.8h0M39.8 321.9h0M62.9 339h0M61.9 337.8h0M124.5 311.4h0M126.1 311.7h0M127 324.9h0M127.7 323.4h0M119.8 371.3h0M119.9 369.7h0M36.5 351.9h0M36.6 350.3h0M110.7 335.3h0M111.3 333.8h0M103.8 392.8h0M103.8 391.2h0M76.1 365.8h0M75.4 367.2h0M53.4 408.8h0M54.7 409.8h0M73.3 376.8h0M73 375.2h0M39.4 386.6h0M39.7 385h0M91.7 356.5h0M91.2 358.1h0M115.7 304.3h0M117.3 304.1h0M84.3 352.4h0M84.5 354h0M79.3 353.9h0M78.9 355.5h0M80.2 356.5h0M81.6 355.6h0M124 375.4h0M125.1 376.6h0"/></defs>
<use href="#ww7" stroke="#c4c4c4" stroke-width="1.40"/>
<use href="#ww7" stroke="#f6f6f6" stroke-width="0.70"/>
<path d="M41.5 337.5h0M40.5 344.6h0M38.1 344.1h0M66.3 329.1h0M66.4 328.4h0M65.5 331.8h0M91.6 384.7h0M101.7 381.8h0M94.3 383.8h0M67.8 359.2h0M68.3 353.4h0M74.1 362.4h0M108.4 380.5h0M111.6 381.3h0M110.7 376.1h0" stroke="#2434c8" stroke-width="1.33"/>
<path d="M133.3 294h0M56.7 299.7h0M143.4 293.3h0M47.7 289.7h0M42.2 291.8h0M42.3 290.3h0M61 295h0M131.2 297.5h0M78.2 292.8h0M90.6 292.3h0M101.2 414.4h0M78.2 419.7h0M118.4 418.5h0M110.8 421h0M56.3 425.2h0M42.3 424.7h0M51.1 414h0M54.7 423.9h0M141.3 414.1h0M86.9 420.4h0M43.8 345.4h0M67.9 330.9h0M92.7 382.7h0M74.8 361.2h0M116.6 379.6h0" stroke="#e6d21e" stroke-width="1.51"/>
</g>
<line x1="31.1" y1="296" x2="144.8" y2="296" stroke="#444" stroke-width="0.8" opacity="0.8"/>
<line x1="31.1" y1="284.8" x2="144.8" y2="284.8" stroke="#8a8a8a" stroke-width="1"/>
<line x1="31.1" y1="429.6" x2="144.8" y2="429.6" stroke="#8a8a8a" stroke-width="1"/>
<g transform="translate(198.5 285) scale(1 1.062)"><rect x="7.7" width="114.2" height="16" fill="url(#t2)"/></g>
<g transform="translate(196 414) scale(1 0.938)"><rect x="10.2" width="114.2" height="16" fill="url(#t2)"/></g>
<g stroke-linecap="round" fill="none">
<path d="M315.2 286.3l-1 0M258 284.2l.8 .7M214.3 285.4l-.5 .9M306 287.6l-1 .4M229.4 285.8l-1 .3M264.1 286.2l.8 .7M208.5 284.5l-.9 .5M307.2 285.8l.9 .5M281.6 285.8l1 0M293 284.9l.2 1M239.6 285.7l1 .3M317.2 286.6l.9 .4M216.6 283.9l1 .4M272.4 284.2l.2 1M288.6 284.7l.8 .7M290.7 284.3l-.4 1M309.2 284.9l.6 .8M240.4 284.8l.4 1M220.3 285.8l.6 .8M303.6 284.2l-.9 .5M298.6 284.8l.5 .9M295 285.8l.6 .8M263.3 303.4l.8 .7M279.8 302.8l-1 .2M277.9 302.5l-.3 1M280.8 301.9l-1 .2M280.2 301.3l.5 .9M248.9 302.1l-.4 1M211.5 303.2l1 .1M233.3 303.4l-.2 1M235.6 302.6l-.7 .8M289.8 301.9l-.9 .6M317.4 303l-.6 .8M313.9 301.3l-.3 1M280.9 302l1 .2M262 303.8l.3 1M262.7 300.4l-.5 .9M275.7 301.1l.8 .7M252 303.6l.4 1M229.4 304.8l.5 .9M297.3 301.9l-1 .2M227.7 303.1l-.1 1M283.3 303.7l-1 .3M277.8 301.8l.9 .6M256.3 302l-.1 1M231.8 415.3l-.9 .5M225.1 413.2l-1 .2M242 416.5l-.2 1M213.1 415.8l-.9 .6M310.1 414.4l-.4 1M254.2 414.2l.7 .8M277.1 414.1l.9 .4M292.6 413.8l-.7 .8M292.6 415l1 0M212.8 413.5l.4 1M262.3 412l.4 1M281.9 414.5l.7 .8M233.7 413.3l-.4 1M303.5 414.6l.9 .5M300.3 416.3l1 .4M252.5 414.1l-.5 .9M227.7 411.8l1 .1M216.2 412.5l1 .2M220 413.7l.3 1M215.5 415.1l.3 1M239.4 412.2l-.1 1M272 414.6l1 0M275.4 414.3l-.2 1M240.6 413.2l-.7 .8M231.8 428.3l-1 0M306.2 429.7l-.4 1M255.7 429.6l-.4 .9M306.4 428.6l.1 1M291.3 428.5l.6 .9M276.9 425.7l-.2 1M275.9 429l-.5 .9M265.7 428.6l.7 .8M256.7 430.1l.1 1M266.5 429.2l-1 .2M224.2 429.2l-.7 .8M246.8 429.6l-.9 .6M286.2 429.4l1 .4M309.7 429.2l-.2 1M315.8 429.5l-.2 1M249.5 428.2l.3 1M213.3 430.2l-.9 .6M225.2 428.5l-1 .1M224.2 427l.6 .9M219.5 429.6l-.1 1M271.3 428.3l.9 .5M275.4 427.8l-.7 .7M300.7 428.7l-.8 .6M226.6 313.8l1.2 .5M227.1 323.4l0 1.5M226.1 314.2l.6 1.2M222.8 318.1l1.3 .5M222.9 327l-1.3 .4M224.6 316.3l-.1 1.3M228.4 322.8l.6 1M224.2 326.4l-1.1 .4M225.2 327.9l-1 1M223.2 327.4l-.6 1.2M223.8 321.9l.5 1.4M223.7 325.7l.7 .8M225.2 327l-1.1 .3M226.1 320l-1.1 .7M226 325.2l-.1 1M226.9 324.6l.2 1M223.5 330.6l.3 1.3M228.7 319.3l.1 1.1M224.4 314.8l-1.2 .9M221.4 324.2l-1.2 .4M225.9 322.7l-.2 1.4M222.2 315.2l1 .7M226.3 326l-.7 .5M227.1 322.1l.3 1.4M225.8 316.9l.5 .7M225.9 317.8l.8 .9M228.5 361.5l-.7 .6M227.8 360.1l1.1 .4M233.8 361.5l1.3 .3M231.5 356.9l1.3 0M229.4 352.9l.9 1.1M228.1 356.2l-.8 .5M232.4 356.5l-.6 .9M230.8 361l-.5 1.2M228.6 367.9l.2 1.4M229.1 352.5l.2 1.3M229.1 359.6l-.6 .8M230.1 353.2l.5 1M228 355l-.6 .6M229.9 362.1l-.3 1.1M230 358.7l1 .6M230.9 360.3l-.5 1.2M231 356l-.9 .6M229 353.2l1 .4M231 352.8l-.1 1.3M231.2 349.8l-.7 1.3M231.9 356.6l1.2 .1M228.7 360.8l1 .1M229.4 357.8l-.8 .2M228.9 356.2l.9 .2M228.4 364l-1.4 .3M231.7 362.5l-1.1 .3M296 376.6l.2 1.1M304.6 383.3l-1.2 .5M304.4 385.9l1.2 .8M302.1 374.3l-1.1 .3M299.7 381.3l.7 1.2M302.2 384.7l1.1 .3M303.3 384.7l-.2 1.3M297.6 381.3l-.6 1.1M303.9 381.4l.5 1.1M301.2 382.4l1.2 .2M299.4 378.3l1.2 .7M296.3 381.9l-1 .1M293.6 372l.1 .9M303 383.2l.8 .9M295.9 373.3l-.2 .9M300.8 381.6l-.9 .5M296.8 371.6l1.4 .4M296.2 376.4l.8 .4M297.2 373.6l1 .6M301.6 379.3l1 .6M298 379.5l1.3 .3M302.6 382l-0 1.3M300 381.3l.2 1.3M298 383.2l.6 .7M297.1 383.2l-.2 1.1M302.6 388.6l-0 1M221.9 395.8l1 .1M218.8 397.2l-.4 1M213.5 401.4l1 .9M216 397.8l-.6 .7M213.8 401.2l1 .5M209.9 405l-1.4 .5M210.3 405.9l.6 1M213.6 400.8l.2 1.5M217.7 393.7l.8 .9M216 395.3l-.9 .1M210.9 405.3l.2 1M216.7 399l1.2 .4M216.7 400.8l1.3 .4M219.6 394.8l-0 1M214.7 401.8l-.5 1.3M207.9 407.9l.1 1.1M215.1 397.5l1.1 .8M210.4 407.2l-.5 .8M214.3 399.2l-.9 .7M210.9 402.2l-.5 1M213.7 402.3l1.1 .4M212.3 400.5l.9 .2M216.2 390.7l-.8 1.1M215.9 397.7l-.9 .3M214.6 395.8l.9 .4M214.4 403.3l.9 .6" stroke="#6a6a6a" stroke-width="0.55"/>
<defs><path id="w8" d="M230.7 286.3h0M214.3 285.4h0M262 286h0M222.3 285h0M229.4 285.8h0M264.1 286.2h0M281.6 285.8h0M210.9 286.9h0M286.7 284.8h0M217.7 284.8h0M309.2 284.9h0M240.4 284.8h0M288.9 285.7h0M220.3 285.8h0M247.7 285h0M291.1 285h0M248.5 287.1h0M284.1 286.1h0M246.3 285.5h0M243.9 286.4h0M214 286.1h0M310.7 286.4h0M263.3 303.4h0M266.3 301.7h0M246.1 302.8h0M221.5 301.6h0M277.9 302.5h0M280.8 301.9h0M248.9 302.1h0M211.5 303.2h0M233.3 303.4h0M241.1 300.8h0M239.7 302.8h0M289.8 301h0M250.2 303.2h0M289.8 301.9h0M244.1 300.5h0M261.2 302h0M313.9 301.3h0M262 303.8h0M285 301.9h0M230.6 303.4h0M228.4 302.6h0M262.7 300.4h0M216.4 301.2h0M309.2 303.1h0M288.3 301.4h0M237.1 301.6h0M223 302.1h0M252 303.6h0M303.3 301.4h0M268.7 300.9h0M229.7 302.1h0M249 299.2h0M229.4 304.8h0M296.5 303.2h0M313.8 300.7h0M267.9 302.2h0M264.9 300.8h0M264.5 301.2h0M314 299.6h0M227.7 303.1h0M283.3 303.7h0M269.1 301.6h0M228.5 300.3h0M261.7 302.7h0M271.4 301.7h0M284.6 302.9h0M231.8 415.3h0M242 416.5h0M276.9 413.7h0M277.1 414h0M247.8 414.2h0M281.5 413.7h0M310.1 414.4h0M254.2 414.2h0M316.9 414.5h0M264.7 414.1h0M295.9 413.3h0M241.3 414.9h0M277.1 414.1h0M306.7 413.8h0M222.4 416.5h0M285.1 414.1h0M299.8 411.6h0M292.6 415h0M272.5 414h0M315.2 412.7h0M212.8 413.5h0M240.5 413.6h0M262.3 412h0M243.4 415h0M314.3 413.1h0M281.9 414.5h0M245 412.6h0M233.7 413.3h0M303.5 414.6h0M249.8 413.2h0M216.1 414.6h0M300.3 416.3h0M239.2 413.9h0M271.4 413.4h0M225.2 413.8h0M252.5 414.1h0M252.6 413.2h0M216.1 413.3h0M227.7 411.8h0M216.2 412.5h0M255.9 413.1h0M220 413.7h0M288 413.2h0M215.5 415.1h0M272 414.6h0M242.6 415.3h0M240.6 413.2h0M294.8 426.9h0M306.4 428.6h0M291.3 428.5h0M211.8 429.2h0M265 427.4h0M224.5 427.9h0M265.7 428.6h0M222 428.8h0M266.5 429.2h0M319 428.4h0M270.2 428.7h0M309.7 429.2h0M208.6 428.7h0M226.8 428.1h0M260.6 427.2h0M311 428.3h0M249.5 428.2h0M225.2 428.5h0M282 429h0M224.2 427h0M209.3 428h0M271.3 428.3h0M224.1 428.3h0M275.4 427.8h0M276.4 427h0M300.7 428.7h0M306.9 429h0M221.4 317.6h0M225.2 323.5h0M222.6 311.3h0M223.6 314.5h0M225.6 320.5h0M225.7 326.4h0M224.7 321h0M224.5 319.9h0M225.1 315.4h0M216.3 312.1h0M228.3 358.9h0M233.3 363.4h0M233.7 357.4h0M226.3 356.6h0M230.3 356.3h0M239.7 366.4h0M235.2 354.6h0M227.7 351h0M237.7 356.2h0M231.5 360.7h0M302 377.5h0M297.4 385.2h0M299.4 382.9h0M304.5 382.5h0M299.4 374h0M303.2 388.5h0M299.4 380.9h0M299.8 382.5h0M302.5 379.7h0M296.8 384.1h0M218 398.2h0M213.5 400.2h0M215.4 396.5h0M211.5 399.4h0M217.5 404.7h0M216 394.1h0M212.5 403.1h0M216.7 405.7h0M218.5 400.1h0M214.1 395.1h0"/></defs>
<use href="#w8" stroke="#999" stroke-width="1.70"/>
<use href="#w8" stroke="#f6f6f6" stroke-width="0.90"/>
<path d="M315.2 286.3h0M209.4 285h0M306 287.6h0M307.2 285.8h0M293 284.9h0M239.6 285.7h0M317.2 286.6h0M314.8 285.6h0M237.4 286.7h0M311 285.7h0M295 285.8h0M227 285h0M260.6 286.7h0M279.8 302.8h0M223.3 301.8h0M280.2 301.3h0M272.7 300.4h0M280.6 301h0M226.7 303.3h0M292.4 303.7h0M235.6 302.6h0M231 301.5h0M309.4 305.3h0M317.4 303h0M280.9 302h0M276.5 301h0M275.7 301.1h0M275.8 305.2h0M250.4 301.5h0M297.3 301.9h0M277.8 301.8h0M256.3 302h0M248.5 301.7h0M270.9 302.5h0M210.3 302.9h0M225.1 413.2h0M250.7 413.1h0M262.9 414.4h0M288.5 415.8h0M213.1 415.8h0M292.6 413.8h0M282.3 412.3h0M284.9 412.7h0M270.5 414.9h0M289.2 414h0M306.4 414.6h0M264.7 413.7h0M244.8 415h0M215.6 413.4h0M253.1 414.3h0M305.3 413.5h0M236.3 414.8h0M232.6 415.7h0M239.4 412.2h0M275.4 414.3h0M257.7 414.5h0M231.8 428.3h0M276.9 425.7h0M318 428.3h0M275.9 429h0M230.7 428.5h0M252.9 426.4h0M318.2 428h0M309.4 429.1h0M267.5 428.6h0M289.7 428.1h0" stroke="#e01616" stroke-width="1.68"/>
<path d="M233.2 338.2h0M303.9 409.5h0M284.9 336.8h0M299.6 375.9h0M280.3 379h0M287 316.2h0M245.7 312h0M275.1 309.9h0M212.3 379.1h0M210.2 370.7h0M269.7 410.4h0M307.5 362.4h0M238.4 313.4h0M232.3 367.9h0M236 375h0M255.3 389.7h0M223.6 312.2h0M288.5 358.6h0M313.1 303.3h0M260.9 401.5h0M301.7 327h0M294.7 343.7h0M253.8 340.4h0M283.7 412.5h0M231.3 309.3h0M263.9 364.9h0M221.6 397.1h0M294.7 346.3h0M301.1 404.3h0M214.2 336.9h0M298.9 401.6h0M218.9 333.3h0M222.4 341h0M288.5 353.9h0M240.5 383h0M216.7 405.5h0M235.1 311.6h0M303.4 353.4h0M296.8 398.1h0M280.1 369.3h0M231.9 413.2h0M312.5 326.9h0M296.2 384h0M318.6 339.4h0M312.5 311.9h0M253 331.5h0M227.5 386.2h0M274.3 338.6h0M275.1 303.9h0M259.5 384.9h0M310 303.2h0M245.9 363h0M256 358.3h0M216.8 343.9h0M255 342h0M312 302.2h0M289.1 326h0M278.6 395h0M291.3 410.1h0M230 304.7h0M296.9 381.2h0M223.6 313.1h0M318 302.1h0M285.5 330.1h0M310.1 389.4h0M314.3 352.6h0M285.9 353.8h0M218.1 343.6h0M243.8 336.7h0M216.4 399.4h0M276.7 396.5h0M253.5 397.7h0M290.9 411.4h0M233.9 343.1h0M265.6 346.9h0M254.1 327h0M316 413.4h0M273.5 362.5h0M268.3 341.2h0M234.4 359.1h0M233.2 344.5h0M298.8 309.5h0M301.7 312.8h0M279 335.4h0M211.1 377.7h0M237.4 383.2h0M216.1 358.7h0M272 325.3h0M315.1 378.6h0M295.7 349.1h0M312.3 411.4h0M277.7 386.4h0M265.4 314.9h0M237.3 358.6h0M220.5 408h0M295.7 370.5h0M275.1 402.9h0M283.8 409.8h0M270.8 307.8h0M261.2 411.1h0M221.2 312.8h0M279.3 356.3h0M318.1 317.7h0M257 311.6h0M269.2 350.2h0M214.6 381h0M224.7 399.3h0M311.3 408.2h0M210.2 385.3h0M212.2 366.8h0M314.8 359.8h0M264.8 356.5h0M305.5 369.1h0M301.1 389.2h0M284.4 372.5h0M272.2 400.1h0M249.7 390.8h0M311.3 405.8h0M288.1 309h0M266.8 302.2h0M265.3 317.6h0M257.6 309.8h0M228.5 360.7h0M253.2 401.2h0M300.1 352h0M237.3 328.9h0M272.3 334.5h0M308.4 331.6h0M244.1 304h0M309 407.2h0M267.8 303.7h0M235.5 353h0M228.3 380.7h0M212.3 315.4h0M220 385.3h0M262.2 326.4h0M210.3 315.4h0M241.4 395.6h0M230.6 355.5h0M247.6 370.7h0M304.7 353.2h0M222.4 362.7h0M274.9 308.7h0M291.7 305.2h0M294 372.5h0M262.4 375h0M285.9 323.2h0M240.5 365.3h0M261.1 361h0M223.9 332.1h0M297 361.4h0M297.9 359.1h0M222.6 393.5h0M220.6 334h0M220.8 345.4h0M252.9 351.1h0M225.8 331.8h0M235.7 314.9h0M275.4 407.8h0M264.7 322.9h0M232.3 342.4h0M309.7 393.1h0M211.1 351.7h0M307.5 324.7h0M306.8 360.3h0M298.3 318.8h0M313.7 351h0M214.3 404h0M318.8 403.3h0M278.9 350.4h0M253.5 321.8h0M247.6 409.9h0M246.9 365.9h0M308.3 368.9h0M307.8 333.5h0M256 348.4h0M262.9 402h0M215.9 350.2h0M313.6 364.9h0M254.5 321.3h0M244.2 396.1h0M243.7 343.2h0M312.8 376.3h0M228.3 410.7h0M224.8 328.8h0M213.9 357.1h0M289.5 356h0M235.5 344.5h0M216.8 373.6h0M224.5 366.2h0M232.7 342.3h0M233.8 334.1h0M219.7 398.2h0M227.9 380.2h0M281.3 304.2h0M226.4 320.6h0M281 350.3h0M260.8 390.9h0M229 395.8h0M269.1 326.6h0M210 365.1h0M317.4 386.8h0M261.7 398.9h0M261 383.5h0M224.7 330.5h0M211.5 302.4h0M238.6 365h0M234.2 409.2h0M306.3 354.5h0M289.2 350.3h0M256.7 372h0M276.4 346.8h0M220.4 360.8h0M220 316.4h0M227.7 386h0M245.3 336h0M256.2 388.7h0M255.7 395.3h0M311 378.1h0M261.8 383.1h0M244.5 383.7h0M227.2 314.6h0M289.3 409.9h0M307.8 355.9h0M264.4 348.9h0M210.7 321.2h0M239.4 320.4h0M232 312.3h0M293.5 387.3h0M239 336h0M309.1 384.4h0M234.1 347h0M219.1 352.9h0M249.8 386.6h0M292.3 322.5h0M311 335.5h0M216.8 350.9h0M299 313.3h0M256.7 334.4h0M287.6 309.4h0M288.5 316.7h0M268.4 355.6h0M254.9 338.2h0M239.2 379h0M293.1 334.2h0M211.9 392.4h0M260.2 380.2h0M249.1 337h0M241.1 348.9h0M208.2 393h0M231.5 361.2h0M317.3 320.4h0M246.2 404.7h0M231.2 323.4h0M243.8 350.8h0M312.2 372.5h0M244.2 322.5h0M268.7 369.6h0M252.8 368.1h0M226.5 307.7h0M316.8 325.6h0M213.2 340.9h0M297.8 337.9h0M256 404.7h0M241.8 412.7h0M255.9 391.3h0M306.2 384.3h0M272.7 411.2h0M250.5 397.3h0M215.9 365.1h0M238.8 327.5h0M271.3 316.5h0M271.8 374.4h0M211.9 314.1h0M212.5 331.6h0M219.2 379h0M279.7 360.6h0M249.5 409.2h0M229.4 377.2h0M311.9 346.9h0M314.6 385.3h0M272.5 372.2h0M250.3 384.7h0M269.2 369.9h0M233.1 328.6h0M302.4 374.9h0M305.6 373.1h0M219.9 363h0M306 396.5h0M246.7 361.6h0M259.1 406.3h0M270.5 311.8h0M222.5 333.4h0M286.6 304.8h0M228 376.7h0M210.9 354h0M314 318.8h0M255.9 411.4h0M261.6 401.2h0M247.2 324.5h0M239.3 320.8h0M311.4 325.2h0M260 361.7h0M308.9 393.1h0M246 387.6h0M246.6 400.4h0M243.7 355.9h0M281.2 304.1h0M291.4 324.4h0M270.2 395.6h0M230.4 404.1h0M221.8 327.6h0M263.5 376.3h0M280.3 370.8h0M316.3 350.1h0M209.8 353h0M285.7 380.7h0M227.3 319.8h0M240.9 387h0M217.7 400.9h0M319.1 385.2h0M232.4 322.4h0M302 361.9h0M287.8 380h0M316.9 379.9h0M243.8 411.4h0M240.3 341.2h0M207.5 387h0M226.5 346.8h0M317.6 368.2h0M216.3 393.8h0M305.4 371.4h0M245.2 391.5h0M209.9 303.8h0M316 316.4h0M306.5 356.6h0M295.5 413.1h0M267.6 348.1h0M274.5 344.5h0M274.3 404.5h0M306.9 407.6h0M289.1 396.3h0M271.3 357.2h0M299.2 309.2h0M260.5 380.7h0M276 305.2h0M289.3 407.1h0M295.4 411.2h0M311.2 394h0M258.1 378.2h0M274.6 331.7h0M236.5 352.8h0M263.1 344.6h0M208.2 378.2h0M307.5 407.9h0M217.6 400.8h0M294.2 395.4h0M249.6 377.4h0M258.5 336.9h0M293.6 320.2h0M232.7 321h0M209.8 344.2h0M297.5 396.2h0M272.2 351h0M256.7 408.1h0M314.5 393.3h0M225.3 395.4h0M262.3 388.7h0M290.6 363.5h0M211.9 347.5h0M275.6 393h0M286.8 319.7h0M306.7 404.3h0M236.1 385.6h0M280.9 320.1h0M311.4 322.6h0M240.6 380.5h0M257.2 406.6h0M258.7 318.8h0M264 339h0M243.7 390.9h0M271 319.2h0M299.5 403.9h0M264.8 351.1h0M276.7 366.4h0M265.8 395.4h0M212 411.4h0M236.8 412.4h0M317.8 328.8h0M233.9 382.1h0M252.3 313.2h0M261.1 362.6h0M249.6 358.6h0M254.2 342.4h0M282 356h0M298.4 307.7h0M280.7 342.6h0M232.1 348.3h0M245.8 389.9h0M313.8 352.8h0M288.7 322.7h0M306.6 302.8h0M229.8 357.6h0M227.2 367.1h0M294.8 322.3h0M309.6 373.6h0M299.9 397.7h0M233.5 354.4h0M268.2 336.6h0M250.5 392.6h0M267.2 303.2h0M278.5 327h0M268 321.2h0M236.8 410.3h0M213.3 377h0M253.2 371.4h0M313.7 374.2h0M258.5 410.2h0M223.6 397h0M304.5 403.4h0M260.4 335.7h0M304.8 343h0M315.4 402.1h0M305 371.1h0M222.7 413.7h0M231.6 362.4h0M293.2 372.5h0M213.8 371.9h0M230.8 408.9h0M271.4 401.2h0M232 364.5h0M225.1 318.2h0M308.8 411.1h0M249.4 302h0M288.5 404.2h0M308.7 399h0M208.6 403.3h0M267.4 335.7h0M259.9 405h0M293.7 365.5h0M302.9 333.6h0M258.4 354.3h0M293.2 327.6h0M255 322.6h0M257.2 402.8h0M304.3 342.8h0M255.4 329.2h0M293.2 407.4h0M291.9 384.3h0M228.8 395h0M259.1 386.5h0M304.3 410.7h0M301.2 338.2h0M305.5 318.8h0M216.6 343.4h0M237.2 378.8h0M317.2 331.8h0M307.1 324.3h0M273.7 401.6h0M247 302.3h0M253.3 346.8h0M208.2 371h0M266.7 395h0M282.6 360.2h0M311.7 357.5h0M281.2 317.4h0M235.8 357h0M258.9 390.5h0M275.8 411.5h0M279.7 386.4h0M285.9 394.5h0M226.2 304.7h0M257.9 384.3h0M221.7 321.5h0M248.6 362.7h0M251.6 386.1h0M225.9 395.9h0M276.8 385.7h0M305.3 382.1h0M241.4 313.1h0M223.7 352h0M245.7 302h0M297.8 324.8h0M298.4 333.1h0M278.2 378.8h0M281.1 354.7h0M318.3 379.5h0M305 343.4h0M269.1 330.8h0M281.1 361.6h0M264.9 308.4h0M298.3 401.4h0M214.6 357.1h0M227.7 305.4h0M239.7 338h0M279.9 389.9h0M282.4 407.6h0M294.2 372h0M292.3 388.1h0M254.2 360.5h0M232.6 387h0M243.5 316.4h0M311.9 408.2h0M242.5 316.3h0M212 333.3h0M304.4 334.1h0M260.6 319.7h0M255.9 404.5h0M265.6 303.4h0M253.8 381.5h0M229.3 311.5h0M243.5 374.2h0M212.8 377.6h0M254.4 380.9h0M250.4 395.4h0M245.1 413.6h0M256 386.9h0M257.1 357.2h0M259.7 333.3h0M303.9 306.8h0M226.5 321.3h0M251.6 389.8h0M306.6 356.1h0M264.3 358.2h0M222.6 318.4h0M318.2 324.5h0M299.8 349h0M288.3 403.9h0M290.8 340.7h0M243.7 389h0M300.5 412.9h0M313.1 312.1h0M283.3 367.8h0M279 369.9h0M217.5 349.2h0M236.8 350.9h0M269.3 411.1h0M209 380.4h0M268.2 317.8h0M282.2 382.5h0M218.5 306.5h0M302.9 325.5h0M272.6 355h0M274.1 371.9h0M261.6 308.8h0M278.8 352.1h0M213.9 310.7h0M292 390h0M297.9 408.5h0M229.9 408.1h0M288.4 302.4h0M302.7 396h0M223.8 407.5h0M307.4 330.9h0M267 310.3h0M216.5 379.9h0M294.6 356.8h0M262.6 402.7h0M293.8 362.9h0M223.9 309.1h0M272.4 322.8h0M315.4 354.6h0M211.9 305h0M246.1 320.5h0M221.3 353.6h0M219.3 391h0M242.9 350.2h0M277.1 303.3h0M221.5 396.8h0M234.9 324.6h0M229.2 317.8h0M313.3 320.7h0M312.4 342h0M227.2 356.6h0M241.3 413.4h0M270.7 382.1h0M293.9 360.8h0M232.6 314.6h0M278.3 309.1h0M240.9 310.8h0M264 327.3h0M261.1 361.1h0M263 396h0M256.5 408.9h0M302.6 381.3h0M249.4 315.9h0M273.9 401.7h0M268.4 405.2h0M291.9 376.1h0M209.4 366.6h0M229.6 349.4h0M304.9 356.3h0M264.9 380.5h0M297.6 370.7h0M257.6 355.3h0M289.1 406.2h0M270.3 375.3h0M307.4 395.6h0M298.9 401.2h0M266.2 410.8h0M295.1 379.2h0M318.6 394h0M229.6 310.6h0M318.2 401h0M306.6 395.2h0M279 312.8h0M278.6 412.2h0M283.9 337.5h0M214.1 327.3h0M248.8 413h0M231.4 342.1h0M260.1 395.4h0M249.4 319h0M277.3 334.2h0M220.9 334.8h0M281 326.5h0M242.7 333.1h0M316.8 383.4h0M244.6 303.2h0M213.3 365.5h0M225.4 338.9h0M220.6 370.3h0M252.8 335.4h0M311.7 388.3h0M269.4 341.3h0M313.9 316.3h0M219.2 386.6h0M224.1 404h0M286.4 308.4h0M207.7 342.9h0M291.4 392.9h0M224.2 369.3h0M274.1 350.9h0M231 317.1h0M300.8 367.9h0M288.1 348.3h0M227.1 367.9h0M267 374h0M269.4 366.8h0" stroke="#d83434" stroke-width="1.25"/>
<defs><path id="ww8" d="M234.3 338.1h0M233.1 339.3h0M304.1 410.5h0M302.8 409.5h0M284.6 335.8h0M286 336.7h0M298.5 375.9h0M299.8 374.9h0M280.9 379.9h0M279.3 379.3h0M287.6 315.3h0M287.6 317h0M246.8 312.2h0M245.4 313h0M274.2 310.4h0M274.8 308.9h0M212.9 378.3h0M212.8 379.9h0M209.6 369.9h0M211.1 370.3h0M269.3 411.3h0M268.8 409.8h0M307.6 363.4h0M306.4 362.3h0M238.5 312.4h0M239.4 313.7h0M232.4 366.8h0M233.2 368.3h0M235.6 374.1h0M237.1 374.8h0M254.4 390.2h0M255.1 388.7h0M224.2 313h0M222.6 312.6h0M289.2 359.4h0M287.6 359h0M312.3 302.8h0M313.9 302.6h0M260 400.9h0M261.7 400.9h0M300.7 326.8h0M302.2 326.1h0M294.6 342.7h0M295.7 343.8h0M253.7 341.5h0M252.9 340h0M284.7 412.8h0M283.2 413.4h0M231.8 310.2h0M230.3 309.5h0M263.5 363.9h0M264.9 364.8h0M221.9 398.1h0M220.6 397.2h0M293.7 346.2h0M295.1 345.3h0M300.1 404h0M301.6 403.4h0M213.9 335.9h0M215.2 336.9h0M297.9 401.2h0M299.5 400.7h0M218 333.8h0M218.7 332.3h0M222.1 342h0M221.6 340.4h0M287.6 353.4h0M289.2 353.1h0M239.5 382.6h0M241 382.1h0M217.5 406.1h0M215.9 406.1h0M235.4 310.7h0M236 312.2h0M303.5 352.3h0M304.4 353.7h0M297.8 397.8h0M296.9 399.1h0M281.1 369.5h0M279.6 370.2h0M230.9 413h0M232.4 412.2h0M312.9 325.9h0M313.3 327.5h0M295.8 385h0M295.4 383.4h0M318.4 340.4h0M313.4 312.4h0M311.8 312.7h0M252.2 332.2h0M252.6 330.6h0M228.4 386.7h0M226.8 386.8h0M273.8 339.5h0M273.6 337.9h0M275.1 302.8h0M276.1 304.1h0M260 384h0M260.3 385.6h0M310 304.2h0M309.1 302.9h0M245.6 363.9h0M245.1 362.4h0M256.2 357.3h0M257 358.7h0M216.9 345h0M215.8 343.8h0M255 343h0M254 341.8h0M313 302.4h0M311.5 303.1h0M290 325.5h0M289.3 327h0M279.5 394.7h0M278.6 396h0M291.7 411h0M290.3 410.3h0M231.1 304.7h0M229.8 305.7h0M296.5 382.2h0M296 380.7h0M222.5 313h0M223.9 312.1h0M317 301.7h0M318.6 301.3h0M286.1 330.9h0M284.6 330.4h0M309.6 390.3h0M309.4 388.7h0M314.8 351.7h0M315 353.4h0M285.3 354.5h0M285.4 352.9h0M217.9 342.6h0M219.1 343.8h0M243.3 337.7h0M243.1 336.1h0M215.8 398.6h0M217.4 399h0M275.9 395.8h0M277.5 395.8h0M253.7 398.7h0M252.5 397.6h0M291.6 412.2h0M290 412h0M233.8 342.1h0M235 343.2h0M266.4 346.3h0M265.9 347.8h0M255.1 327.2h0M253.7 328h0M317 413.2h0M315.9 414.4h0M274.5 362.2h0M273.6 363.6h0M267.8 340.4h0M269.3 340.9h0M234.8 360h0M233.4 359.2h0M232.9 343.5h0M234.2 344.4h0M297.8 309.5h0M299 308.5h0M301.8 313.9h0M300.7 312.7h0M279.8 334.8h0M279.3 336.4h0M210.2 377.2h0M211.8 376.9h0M237.2 384.2h0M236.5 382.7h0M217 359.1h0M215.5 359.5h0M271 325.3h0M272.2 324.3h0M314.2 378.2h0M315.7 377.7h0M294.8 348.6h0M296.4 348.3h0M313.4 411.4h0M312 412.4h0M278.3 385.6h0M278.4 387.2h0M264.5 315.4h0M265.2 313.9h0M238 359.3h0M236.4 359.2h0M219.5 408.2h0M220.6 407h0M294.9 371.1h0M295.3 369.5h0M275.8 403.8h0M274.2 403.3h0M284.8 409.7h0M283.6 410.9h0M270.5 306.8h0M271.9 307.7h0M261.3 412.2h0M260.2 410.9h0M220.2 312.4h0M221.8 311.9h0M280 355.6h0M279.8 357.2h0M317.1 317.5h0M318.5 316.8h0M257.3 312.6h0M255.9 311.7h0M269 351.3h0M268.3 349.8h0M215.4 380.4h0M215 382h0M223.9 399.9h0M224.4 398.3h0M312.3 408h0M311.3 409.3h0M211.2 385.6h0M209.7 386.2h0M212 367.8h0M211.2 366.4h0M314.7 360.8h0M313.9 359.3h0M265.8 356.6h0M264.4 357.4h0M305.3 368.1h0M306.6 369.2h0M302.1 389.3h0M300.7 390.1h0M283.8 371.7h0M285.4 372.2h0M273.1 400.6h0M271.5 400.8h0M248.9 391.5h0M249.3 389.9h0M310.3 405.4h0M311.9 404.9h0M287.9 310h0M287.1 308.5h0M266.2 301.4h0M267.8 301.8h0M264.8 316.7h0M266.3 317.3h0M257.8 310.8h0M256.6 309.7h0M227.4 360.6h0M228.8 359.8h0M254.2 401.4h0M252.8 402.1h0M300.5 353h0M299 352.3h0M238.3 328.9h0M237.1 329.9h0M272.1 335.5h0M271.4 334h0M309 330.8h0M309.1 332.4h0M245.2 304h0M243.9 304.9h0M309.7 406.4h0M309.7 408h0M266.8 303.5h0M268.3 302.8h0M236.2 352.3h0M236.1 353.9h0M229 381.4h0M227.4 381.2h0M211.6 316.1h0M211.8 314.5h0M219.1 385.7h0M219.8 384.3h0M261.3 325.9h0M262.9 325.7h0M210.8 316.3h0M209.3 315.8h0M241.2 396.6h0M240.5 395.1h0M231.6 355.5h0M230.3 356.5h0M246.6 370.2h0M248.2 369.9h0M303.7 352.9h0M305.2 352.3h0M223.2 362.1h0M222.8 363.6h0M274 309.2h0M274.6 307.7h0M292.6 304.7h0M292 306.2h0M294 371.4h0M294.9 372.8h0M261.4 375.1h0M262.6 374h0M285.5 324.1h0M285.1 322.6h0M241.3 364.5h0M241 366.2h0M261.9 360.4h0M261.5 362h0M223.3 331.2h0M224.9 331.7h0M297 362.5h0M296 361.1h0M298.9 359.3h0M297.4 360.1h0M222.3 394.5h0M221.8 393h0M220.8 333h0M221.5 334.4h0M221.3 344.5h0M221.6 346.1h0M253.7 351.8h0M252.1 351.7h0M225.7 332.9h0M224.8 331.5h0M235.6 316h0M234.7 314.6h0M274.7 408.5h0M274.8 406.9h0M263.9 323.5h0M264.3 321.9h0M232.8 343.2h0M231.3 342.7h0M310.2 394h0M308.7 393.4h0M210.5 352.5h0M210.4 350.9h0M308.3 324h0M308 325.6h0M307.5 359.6h0M307.3 361.2h0M299.1 318.1h0M298.8 319.7h0M314.1 350.1h0M314.5 351.6h0M215.4 403.9h0M214.2 405h0M318.6 402.3h0M277.9 350.7h0M278.8 349.4h0M254.5 322h0M253 322.7h0M248.5 410.4h0M246.8 410.6h0M247.2 364.9h0M247.9 366.4h0M307.3 368.9h0M308.6 368h0M306.8 333.1h0M308.4 332.7h0M255.4 349.2h0M255.4 347.6h0M263.7 401.4h0M263.1 403h0M216.1 351.2h0M214.9 350.1h0M312.8 364.4h0M314.4 364.2h0M253.5 321.7h0M254.3 320.3h0M244.2 395h0M245.2 396.3h0M243.7 344.2h0M242.7 343h0M312 375.6h0M313.6 375.6h0M229.1 410h0M228.8 411.6h0M225.6 328.1h0M225.4 329.7h0M213.2 357.9h0M213.3 356.3h0M288.6 356.4h0M289.3 355h0M236.5 344.5h0M235.2 345.5h0M215.8 373.7h0M217 372.6h0M223.5 365.8h0M225.1 365.4h0M232 342.9h0M232.2 341.3h0M232.8 333.6h0M234.4 333.3h0M219.1 399h0M219 397.4h0M228.6 381h0M227 380.7h0M282 303.4h0M281.9 305h0M225.4 320.5h0M226.8 319.7h0M280.4 351.1h0M280.3 349.5h0M259.9 390.6h0M261.4 390h0M229.7 396.6h0M228.1 396.3h0M268.9 327.6h0M268.2 326.1h0M210.9 365.7h0M209.2 365.8h0M318.3 386.2h0M317.7 387.8h0M262.4 399.7h0M260.8 399.4h0M260 383.2h0M261.5 382.6h0M224.6 329.5h0M225.7 330.7h0M211.4 301.4h0M212.6 302.5h0M238.9 366h0M237.6 365h0M235.2 408.8h0M234.3 410.2h0M306.2 355.5h0M305.4 354.1h0M289.5 349.3h0M290.2 350.8h0M255.7 372.3h0M256.6 371h0M275.4 346.9h0M276.6 345.8h0M221.4 360.6h0M220.3 361.8h0M220.7 317.2h0M219.1 316.9h0M228.4 385.3h0M228.2 386.9h0M245.9 336.8h0M244.3 336.5h0M257.1 388.2h0M256.5 389.7h0M256.1 396.3h0M254.7 395.5h0M311.1 379.1h0M310 377.9h0M262.3 382.2h0M262.6 383.8h0M245.4 383.2h0M244.8 384.7h0M227.3 315.6h0M226.2 314.4h0M289.1 408.9h0M290.3 410h0M306.9 355.5h0M308.4 355h0M264 348h0M265.4 348.8h0M210.6 322.2h0M209.8 320.8h0M240.4 320.8h0M238.9 321.3h0M231.3 313.1h0M231.4 311.5h0M293.9 388.2h0M292.5 387.5h0M239.9 336.4h0M238.4 336.8h0M308.1 384.7h0M309 383.4h0M235.1 347h0M233.8 348h0M219.4 353.8h0M218.1 352.9h0M250.1 385.7h0M250.7 387.2h0M293.3 322.5h0M292 323.5h0M310 335.1h0M311.6 334.7h0M215.8 350.8h0M217.2 349.9h0M299.8 314h0M298.2 313.9h0M257.7 334.6h0M256.3 335.3h0M288.1 308.6h0M288.3 310.2h0M288.7 315.7h0M289.4 317.1h0M267.8 356.4h0M267.7 354.8h0M254.3 339h0M254.3 337.4h0M240.1 379.5h0M238.5 379.8h0M293.5 333.2h0M293.8 334.8h0M212.3 393.3h0M210.9 392.6h0M259.5 381h0M259.7 379.3h0M248.2 337.6h0M248.7 336h0M241.2 349.9h0M240.1 348.7h0M207.3 393.5h0M207.9 392h0M230.5 361.2h0M231.7 360.2h0M318.3 320.7h0M316.7 321.2h0M247.2 405h0M245.7 405.6h0M231.8 322.6h0M231.9 324.2h0M242.8 350.5h0M244.3 349.9h0M312 371.5h0M313.2 372.6h0M245 322h0M244.5 323.5h0M267.9 370.3h0M268.2 368.7h0M252.2 367.2h0M253.8 367.8h0M226.1 308.6h0M225.7 307h0M316 326.2h0M316.4 324.7h0M213.9 340.2h0M213.8 341.8h0M298.8 337.8h0M297.6 338.9h0M255.6 405.6h0M255.1 404.1h0M241.6 411.6h0M242.8 412.8h0M254.9 391.4h0M256 390.3h0M306.3 385.4h0M305.2 384.2h0M271.7 411.5h0M272.7 410.2h0M249.5 397.2h0M251 396.4h0M216.2 366.1h0M214.8 365.1h0M237.9 327.1h0M239.5 326.7h0M271.9 317.4h0M270.3 316.9h0M272.8 374.8h0M271.2 375.2h0M211.1 313.5h0M212.7 313.4h0M211.9 332.5h0M211.8 330.9h0M220.2 378.8h0M219.2 380.1h0M280.7 360.5h0M279.5 361.6h0M250 410.1h0M248.5 409.4h0M229.8 378.1h0M228.4 377.3h0M312.4 347.8h0M310.9 347.2h0M313.8 384.6h0M315.4 384.7h0M272.7 373.2h0M271.5 372h0M250.9 383.9h0M250.9 385.5h0M268.3 369.4h0M269.9 369.1h0M233.8 329.4h0M232.2 329h0M302.6 373.9h0M303.4 375.3h0M305.2 374h0M304.7 372.5h0M220.8 363.6h0M219.2 363.7h0M306.6 397.4h0M305 396.9h0M246.8 360.5h0M247.7 362h0M259.6 407.3h0M258.1 406.5h0M270.8 312.8h0M269.4 311.8h0M221.7 334h0M222.1 332.4h0M287.4 304.2h0M286.9 305.8h0M228.6 377.5h0M227 377.1h0M209.9 354.3h0M210.9 353h0M314.8 318.1h0M314.5 319.7h0M256.8 412h0M255.2 412.1h0M261.1 402.1h0M260.9 400.5h0M247.2 325.5h0M246.2 324.3h0M238.9 319.8h0M240.3 320.7h0M310.8 326.1h0M310.6 324.5h0M259.1 361.2h0M260.7 361h0M309.9 393.5h0M308.3 394h0M246.3 386.6h0M246.9 388.1h0M247.5 400.8h0M245.9 401.1h0M244 356.9h0M242.7 356h0M282.2 303.7h0M281.3 305.1h0M292 323.5h0M292.1 325.2h0M271.2 395.5h0M270 396.6h0M231 404.9h0M229.5 404.5h0M221.1 328.3h0M221.3 326.7h0M263.5 377.3h0M262.5 376h0M279.3 371.2h0M280.1 369.8h0M316.8 351h0M315.3 350.3h0M209.1 353.7h0M209.3 352.1h0M286 381.7h0M284.6 380.7h0M226.9 320.7h0M226.4 319.2h0M239.9 387.1h0M241 386h0M217.7 402h0M216.7 400.6h0M318.2 384.6h0M231.4 322.6h0M232.3 321.3h0M301.6 360.9h0M303 361.7h0M287.9 379h0M288.7 380.5h0M315.9 379.5h0M317.5 379.1h0M244.1 412.4h0M242.8 411.5h0M239.7 342h0M239.7 340.3h0M207.1 386h0M226.7 345.8h0M227.4 347.3h0M316.6 367.8h0M318.2 367.3h0M217.3 393.4h0M216.5 394.9h0M304.7 372.1h0M304.9 370.5h0M245.5 392.5h0M244.1 391.6h0M209.9 302.8h0M210.9 304.1h0M315.2 317h0M315.6 315.4h0M306.7 357.6h0M305.5 356.5h0M296.5 413.3h0M295.1 414h0M266.6 348.1h0M267.8 347h0M273.5 344.7h0M274.4 343.4h0M273.6 405.3h0M273.7 403.7h0M306.2 406.8h0M307.8 407.1h0M288.3 397h0M288.6 395.4h0M272 357.9h0M270.4 357.7h0M298.3 309.7h0M299 308.2h0M261.3 381.3h0M259.7 381.4h0M275.2 304.5h0M276.8 304.5h0M290.3 407.3h0M288.8 408.1h0M295.3 412.2h0M294.4 410.8h0M311 395h0M310.4 393.4h0M259 377.6h0M258.4 379.2h0M275.4 332.4h0M273.8 332.3h0M236.3 353.8h0M235.6 352.4h0M264 345h0M262.5 345.4h0M207.4 378.7h0M207.9 377.2h0M306.7 408.6h0M307.1 407h0M218.3 400.1h0M218.1 401.7h0M295.2 395.4h0M293.9 396.4h0M250.2 376.5h0M250.3 378.2h0M257.5 336.8h0M258.9 335.9h0M293.2 321.2h0M292.8 319.6h0M233.1 321.9h0M231.7 321.2h0M209.8 345.2h0M208.7 343.9h0M297.8 397.1h0M296.4 396.2h0M271.6 350.2h0M273.1 350.6h0M256.1 407.3h0M257.7 407.7h0M313.6 392.9h0M315.2 392.5h0M225.9 394.6h0M225.9 396.2h0M261.6 389.4h0M261.9 387.8h0M290.5 364.5h0M289.6 363.2h0M211.2 348.2h0M211.5 346.6h0M275.2 394h0M274.8 392.4h0M287.6 320.4h0M285.9 320.3h0M306.5 405.3h0M305.8 403.8h0M235.9 386.6h0M235.2 385.2h0M281 319.1h0M281.8 320.5h0M312.3 323.2h0M310.6 323.2h0M240.8 381.5h0M239.5 380.5h0M256.3 406.1h0M257.9 405.9h0M257.9 318.2h0M259.5 318.2h0M263 339.2h0M264 337.9h0M242.8 390.4h0M244.4 390.1h0M270.1 319.6h0M270.9 318.2h0M299.4 404.9h0M298.5 403.6h0M265.6 350.4h0M265.3 352h0M275.9 367h0M276.3 365.4h0M266.4 396.3h0M264.8 395.8h0M212.9 410.9h0M212.3 412.4h0M236.1 411.6h0M237.7 411.9h0M318.8 328.6h0M317.8 329.9h0M234 383.1h0M232.8 382h0M253.3 313h0M252.2 314.2h0M261.4 363.6h0M260 362.8h0M250.5 358.1h0M249.9 359.6h0M255.1 342.9h0M253.5 343.2h0M281.5 355.1h0M283 355.7h0M298.1 308.7h0M297.5 307.2h0M280.5 341.6h0M281.7 342.6h0M231.1 348.5h0M232.2 347.3h0M244.8 389.7h0M246.2 388.9h0M314.6 352.1h0M314.3 353.7h0M287.8 322.1h0M289.5 322h0M306 303.6h0M305.9 302h0M228.8 357.2h0M230.3 356.7h0M226.3 366.7h0M227.8 366.3h0M294 323h0M294.3 321.4h0M309.4 374.6h0M308.7 373.1h0M299.7 396.7h0M300.9 397.8h0M233 353.5h0M234.5 354.1h0M268.4 337.6h0M267.2 336.6h0M250.6 391.6h0M251.5 392.9h0M266.3 303.7h0M267 302.2h0M277.5 327.3h0M278.4 325.9h0M268.5 322.1h0M267 321.5h0M237.7 410h0M236.9 411.3h0M214.1 376.3h0M213.8 377.9h0M252.4 372.1h0M252.8 370.5h0M313 375h0M313.1 373.3h0M258.6 409.2h0M259.4 410.6h0M222.8 397.6h0M223.3 396.1h0M304.2 402.5h0M305.5 403.4h0M259.6 336.3h0M259.9 334.7h0M303.9 343.4h0M304.7 342h0M316.4 402.4h0M314.9 403h0M305.4 370.1h0M305.8 371.7h0M223.7 413.7h0M222.5 414.7h0M230.6 362.6h0M231.7 361.4h0M293.7 371.5h0M294 373.1h0M213.2 372.7h0M213.2 371.1h0M230.9 410h0M229.8 408.8h0M270.4 401.1h0M271.8 400.3h0M232.3 365.5h0M231 364.6h0M224.3 318.8h0M224.7 317.2h0M309.9 411h0M308.7 412.1h0M249.6 301h0M250.3 302.5h0M289.6 404.3h0M288.2 405.2h0M309.5 398.4h0M309.1 400h0M209.4 404h0M207.8 403.9h0M266.5 335.2h0M268.1 334.9h0M260.9 405h0M259.6 406h0M293.2 366.4h0M292.9 364.8h0M303 332.6h0M303.8 334.1h0M259.3 353.7h0M258.8 355.2h0M294 328.2h0M292.4 328.3h0M256 322.6h0M254.7 323.6h0M258.3 402.7h0M257 403.8h0M304.8 343.7h0M303.3 343h0M255.2 328.2h0M256.4 329.2h0M292.5 408.2h0M292.6 406.5h0M291.4 383.4h0M292.9 384.1h0M228.2 395.8h0M228.2 394.2h0M260.1 386.3h0M259 387.5h0M305.3 410.6h0M304.1 411.7h0M300.9 339.2h0M300.3 337.7h0M304.6 318.4h0M306.1 318h0M215.8 342.8h0M217.4 342.8h0M236.8 379.8h0M236.4 378.2h0M318 331.2h0M317.6 332.7h0M307.8 325.1h0M306.2 324.8h0M272.8 401h0M274.5 400.9h0M248 302.5h0M246.6 303.2h0M254.2 347h0M252.7 347.6h0M208.6 370.1h0M209.1 371.6h0M265.8 394.5h0M267.4 394.2h0M283.6 359.9h0M282.6 361.2h0M312.2 356.6h0M312.4 358.2h0M282.2 317h0M281.4 318.4h0M234.7 357h0M236.1 356h0M258.8 389.5h0M259.9 390.6h0M275.8 410.5h0M276.8 411.7h0M280.6 386.8h0M279.1 387.2h0M286.3 393.5h0M286.7 395.1h0M227.2 304.5h0M226.2 305.8h0M258.5 383.5h0M258.6 385.1h0M221.8 322.6h0M220.6 321.4h0M249.1 361.8h0M249.3 363.5h0M252.6 386.3h0M251.1 387h0M226.6 396.7h0M225 396.4h0M276.9 386.7h0M275.8 385.6h0M305.9 382.9h0M304.4 382.5h0M242.2 313.7h0M240.6 313.7h0M224 353h0M222.7 352.1h0M246.6 302.4h0M245 302.8h0M298.1 325.7h0M296.8 324.8h0M297.4 333h0M298.7 332.1h0M277.1 378.9h0M278.3 377.8h0M280.3 354.1h0M281.9 354.1h0M318.6 380.5h0M317.3 379.6h0M304.1 343h0M305.7 342.6h0M270 331.3h0M268.4 331.6h0M281.1 362.6h0M280.1 361.3h0M265.3 309.4h0M263.9 308.6h0M298.1 402.5h0M297.4 401h0M214.6 358.1h0M213.6 356.7h0M227.6 306.4h0M226.7 305.1h0M240.7 338h0M239.5 339h0M280.9 389.4h0M280.2 390.9h0M283.4 407.4h0M282.3 408.6h0M293.2 371.8h0M294.7 371.1h0M292.8 389h0M291.3 388.4h0M254.5 359.6h0M255 361.1h0M233.4 386.5h0M232.9 388h0M242.5 316.8h0M243.4 315.4h0M311.7 407.2h0M312.9 408.2h0M242 315.4h0M243.5 316.1h0M213.1 333.3h0M211.9 334.4h0M303.9 333.2h0M305.4 333.8h0M261.6 319.4h0M260.6 320.7h0M254.9 404.1h0M256.5 403.7h0M265.9 302.4h0M266.5 303.9h0M254.5 380.8h0M254.4 382.4h0M228.5 312.2h0M228.8 310.6h0M244.3 373.6h0M243.8 375.2h0M213.5 378.4h0M211.9 378h0M253.4 380.8h0M254.8 379.9h0M250.8 396.4h0M249.4 395.5h0M245.7 412.8h0M245.7 414.4h0M255 386.7h0M256.4 386h0M258.1 357.1h0M257 358.2h0M259.2 332.4h0M260.7 333.1h0M304.1 307.8h0M302.9 306.6h0M225.9 322.1h0M225.8 320.5h0M250.7 389.2h0M252.4 389.1h0M306.6 355h0M307.6 356.3h0M265.2 358.6h0M263.7 359h0M223.6 318.4h0M222.3 319.4h0M318.2 323.5h0M319.2 324.8h0M300.7 349.6h0M299.1 349.7h0M288.2 402.9h0M289.3 404.1h0M291.5 341.5h0M289.9 341.2h0M244.3 389.8h0M242.7 389.3h0M301.5 412.6h0M300.6 414h0M313.9 312.8h0M312.3 312.7h0M282.4 367.2h0M284.1 367.2h0M278.6 370.8h0M278.3 369.2h0M218.2 348.5h0M218 350.1h0M236.3 351.8h0M236.1 350.1h0M268.3 410.9h0M269.8 410.2h0M210 380.3h0M208.8 381.4h0M269 318.5h0M267.3 318.4h0M282.7 383.4h0M281.2 382.8h0M217.7 305.8h0M219.4 306h0M302.7 324.5h0M303.9 325.5h0M271.6 355.1h0M272.8 354h0M275.1 371.8h0M273.9 372.9h0M262 309.7h0M260.6 309h0M279.4 353h0M277.9 352.4h0M213 311.1h0M213.8 309.7h0M293 390.2h0M291.6 391h0M299 408.5h0M297.6 409.4h0M229.6 409.1h0M229.1 407.5h0M288.8 301.5h0M289.2 303h0M303.7 396.1h0M302.3 396.9h0M224.6 406.9h0M224.2 408.4h0M307.5 331.9h0M306.4 330.7h0M267.6 309.5h0M267.6 311.1h0M217.2 380.7h0M215.6 380.3h0M295.7 356.7h0M294.5 357.8h0M262 403.5h0M262 401.9h0M293.8 363.9h0M292.8 362.7h0M224.3 310.1h0M222.9 309.2h0M272.6 323.8h0M271.3 322.8h0M316.4 354.5h0M315.3 355.7h0M210.9 305.2h0M212 304h0M245.1 320.9h0M245.9 319.5h0M221 352.6h0M222.3 353.5h0M218.5 390.4h0M220.1 390.4h0M241.8 350.2h0M243.1 349.2h0M276.8 304.3h0M276.2 302.8h0M220.8 397.5h0M220.9 395.9h0M235.8 324.1h0M235.1 325.6h0M230.2 318h0M228.7 318.7h0M313.1 321.7h0M312.4 320.2h0M313.1 341.2h0M313 342.8h0M227.5 357.6h0M226.2 356.7h0M240.3 413.1h0M241.9 412.5h0M271.7 382.1h0M270.4 383.1h0M294.6 361.5h0M293 361.3h0M232.3 315.5h0M231.8 314h0M279.1 309.8h0M277.5 309.7h0M240.1 311.4h0M240.5 309.9h0M263 327.1h0M264.5 326.3h0M260.3 361.8h0M260.5 360.2h0M263.6 396.8h0M262.1 396.4h0M255.5 408.5h0M257 408h0M302.5 382.3h0M301.7 380.9h0M248.4 315.5h0M250 315.1h0M274.5 400.8h0M274.5 402.5h0M269.4 405.3h0M268 406.1h0M291.5 375.1h0M292.9 376h0M208.5 366.2h0M210 365.7h0M230 350.4h0M228.6 349.6h0M305.6 357h0M304 356.7h0M264.2 381.3h0M264.3 379.7h0M297.9 369.7h0M298.4 371.2h0M257.9 354.4h0M258.4 355.9h0M289.3 407.2h0M288 406.2h0M270.5 376.3h0M269.3 375.2h0M308.4 395.7h0M307.1 396.6h0M298.6 402.1h0M298 400.6h0M265.2 411h0M266.2 409.7h0M294.5 380.1h0M294.4 378.5h0M319.4 394.6h0M317.8 394.7h0M229.1 311.5h0M228.9 309.9h0M317.2 401h0M318.5 400h0M305.6 395.2h0M306.9 394.3h0M279.5 311.9h0M279.7 313.5h0M279.3 412.9h0M277.7 412.7h0M284.4 338.5h0M282.9 337.7h0M214.5 326.3h0M214.9 327.9h0M248.8 414h0M247.8 412.7h0M232.4 341.8h0M231.5 343.2h0M259.6 394.6h0M261.1 395.1h0M249.9 318.1h0M250.2 319.7h0M276.7 333.4h0M278.3 333.9h0M219.9 334.5h0M221.4 333.9h0M282 326.9h0M280.5 327.4h0M242.1 332.2h0M243.7 332.8h0M317.2 382.5h0M317.6 384.1h0M243.9 303.9h0M244.1 302.3h0M214.1 364.9h0M213.6 366.4h0M224.4 338.7h0M225.8 338h0M220.6 369.2h0M221.5 370.6h0M252.1 334.6h0M253.7 334.9h0M312.8 388.3h0M311.5 389.3h0M270.4 341.6h0M268.9 342.3h0M314.6 315.5h0M314.5 317.1h0M218.2 386.2h0M219.8 385.7h0M224.3 405h0M223.1 403.9h0M286.9 309.3h0M285.4 308.7h0M207.7 343.9h0M292 392.1h0M292 393.7h0M224 368.3h0M225.3 369.4h0M274.5 349.9h0M274.9 351.5h0M231.6 316.3h0M231.6 318h0M299.8 367.6h0M301.4 367h0M288.4 349.3h0M287.1 348.3h0M226.3 367.2h0M227.9 367.3h0M266.2 373.4h0M267.8 373.4h0M269.7 365.8h0M270.3 367.3h0"/></defs>
<use href="#ww8" stroke="#c4c4c4" stroke-width="1.40"/>
<use href="#ww8" stroke="#f6f6f6" stroke-width="0.70"/>
<path d="M224.6 321.2h0M222 316.8h0M227.9 313.5h0M225.8 356.6h0M232.7 357.4h0M227.8 354.5h0M300.2 385.3h0M299.6 382.4h0M301.8 378.4h0M218.8 401.8h0M212.6 400.9h0M215.2 392.4h0" stroke="#2434c8" stroke-width="1.33"/>
<path d="M259.9 296.1h0M254.1 287.9h0M215.5 288.7h0M257 290.1h0M270.1 296h0M310.3 288.2h0M314.6 286h0M307 300.8h0M248.2 298h0M263.9 294.4h0M303.4 300.1h0M218.3 426.2h0M233.6 418.2h0M253.8 416.8h0M292.4 417.5h0M237.9 419.4h0M297.6 415.5h0M290 418.6h0M280.5 427.6h0M227.8 415.4h0M240.7 424.2h0M229.3 315.9h0M233 357.6h0M306.3 377.4h0M208.7 403.4h0" stroke="#e6d21e" stroke-width="1.51"/>
</g>
<line x1="206.2" y1="296" x2="320.4" y2="296" stroke="#444" stroke-width="0.8" opacity="0.8"/>
<line x1="206.2" y1="283.8" x2="320.4" y2="283.8" stroke="#8a8a8a" stroke-width="1"/>
<line x1="206.2" y1="430.2" x2="320.4" y2="430.2" stroke="#8a8a8a" stroke-width="1"/>
<g transform="translate(365.1 285) scale(1 1.125)"><rect x="15.7" width="113" height="16" fill="url(#t2)"/></g>
<g transform="translate(377.9 416) scale(1 1.000)"><rect x="2.9" width="113" height="16" fill="url(#t2)"/></g>
<g stroke-linecap="round" fill="none">
<path d="M462.3 285.3l1 .4M438 286.4l-.7 .7M462.4 284.6l.7 .8M479.4 286.1l.2 1M487.4 285.1l-.5 .9M447.3 286.6l.5 .9M422.8 284.7l-.9 .5M491.3 286l1 .2M444.2 286l-.2 1M424.3 285.5l-.7 .8M467.5 286l-.1 1M401.9 285.2l.1 1M490.2 287.2l.8 .7M468.4 284.8l1 .4M486.6 286.4l-.8 .6M388.2 285l1 .2M389.7 305.6l.9 .5M453.9 301.1l-.6 .9M421.6 304.5l.4 1M402 301.2l-.6 .9M457 304.6l.2 1M457.3 301.9l-.7 .7M420.4 301.8l.9 .6M468.2 302.1l1 .4M405.2 300.6l-.6 .9M488.8 300.6l.5 .9M490 302.5l-.9 .5M446.3 303.7l.6 .8M432.2 303.3l-.2 1M446.3 304.2l.4 1M488.4 301.3l.1 1M487.2 302.9l-.1 1M416.4 303.2l1 0M433.4 303.7l-.4 .9M405.1 302.3l-.9 .5M460.6 302.1l-.6 .8M460.5 304.2l-.2 1M385.6 304l-.8 .6M440.9 302.8l-1 .4M400.5 301.9l1 0M395 302.3l.7 .8M459.4 304.8l1 0M423.1 302.9l-1 .1M459 302.4l-.6 .8M482.7 304.2l-.8 .6M472.2 302.6l.8 .6M414.1 304.8l-1 .3M475.7 413.7l.9 .5M419.3 416.8l.3 1M490.6 416.6l.8 .7M385.9 418.4l-.2 1M412.3 414.7l-.7 .7M429.2 415.7l.9 .5M417.1 415.8l-1 0M430.9 414.7l.2 1M389.6 415.9l.3 1M486.8 418.2l-.4 .9M473.9 415l1 .1M389.3 419.1l-1 .4M455.7 414.7l-.7 .8M430.9 416.3l.7 .8M483 416.1l1 .3M399.3 416.8l-.2 1M461.2 414.4l1 .4M424.2 418.4l-.4 1M445.4 413.9l1 .4M425.4 416l1 .3M406.9 414l-1 .4M382 415.4l1 .4M385.2 416.6l-.9 .5M393.3 414.9l-0 1M444.2 415.3l-.1 1M437.4 414.7l-.6 .8M390.9 416.4l-.6 .9M388 416.1l-.3 1M463.8 415.4l1 .2M384.7 416.4l.7 .8M467.2 433.4l-.5 .9M476.9 433.2l-.1 1M418.6 430l-.9 .6M398.6 432.4l1 .1M449.4 433.2l-1 .4M462.5 432l-.6 .8M470.6 431.5l-.1 1M478.7 432.5l-1 .3M424 432l-1 .4M448.7 431.8l-1 .2M445.5 431.4l.1 1M490.8 429.1l-.9 .5M450 431.1l-.5 .9M386.1 433.2l.9 .6M442.4 430.1l1 .4M449 431.5l.8 .7M469.3 432.4l1 0M441.1 432.8l.8 .6M452.8 433.8l-.9 .6M425 432.4l-1 .4M385.4 433.2l.9 .5M394.5 334.1l.7 .9M404 326.2l-.9 .2M398.2 331.8l-.3 1M403.3 325.4l-.4 1M394.9 333.4l-.8 .8M401.6 325.5l1 .7M395.1 330.6l-.6 .7M398.4 332.7l1.1 .2M400.8 330.5l-1.1 .4M404 327.1l.1 1.2M401.3 327.3l.7 .8M398.3 327.2l.6 1.3M400.1 332.4l-1 .1M402.8 326.2l.9 .1M397 333.1l-1.3 0M396.6 333.7l-.2 .9M399.5 329.2l.1 1.4M400 327.6l-.9 .9M403.3 326.4l0 1M395.3 331.5l.8 .5M398.6 331.6l-.4 1.3M391.1 336.3l-1.1 .7M404.5 327l1.3 .1M399.1 334.2l-.7 1M401.2 327.2l.9 1M405.8 329.6l-.1 .9M439.6 336.7l.9 1M440.6 340.8l-.9 .5M441.2 345.4l.3 1.3M442.6 348.7l-1.1 .6M438.8 346.2l-1 .2M442.8 344.3l-1.2 .5M440.3 347.4l-1.4 .1M440.6 342l-.3 .8M439.7 351.9l.7 1M440.1 353.7l1.4 0M441.2 342l-1.2 .1M440.8 350.9l1.1 .5M440.8 347.7l.7 .5M438.1 336.1l.1 1.2M438.5 348.7l-1.4 .6M442.5 344.8l0 1.1M440.1 346.6l-.1 1M439.2 342l-1.1 .7M440.4 348.3l-1.2 .8M440.2 339.9l-.9 1.1M438.9 340.6l.5 1M441.2 341.7l-.1 1M438.3 349.3l-.7 .9M442.4 344.8l-1.1 .8M437.8 340.1l-1.4 .2M440.8 347.5l.4 1.2M459.3 335.3l1.4 .3M459.4 335.2l-.9 .1M459.6 332.2l-1.1 .1M461 333.5l-.8 .4M460.3 331.6l-.1 1.5M462.8 336.5l-.1 1.1M466.9 335.6l-1.1 .1M461.5 336.7l-.7 1.2M458.9 335.8l1 0M452.8 334.5l1.2 .2M466.4 334l-.4 .8M451.2 337.7l1.1 .1M462.7 333.5l-.6 1.2M457.6 335.7l.3 1.4M457.8 335.6l-1.4 .4M453.1 334.9l-1.3 .5M460.4 339.4l-1.3 .3M461.9 334l-1.1 .2M461.8 335.3l-1.2 .2M459.6 335.4l.4 1.1M458.4 336.2l0 1M455.8 336.2l1.1 .6M453.7 334.1l-.4 1.2M453.5 334.3l1.2 .7M457.8 336.8l-1 .4M457.1 336.7l-.3 .9M391.6 372.3l.5 .7M397 383.1l.6 1M396.4 380.4l1 0M395.2 382.6l-.3 1.2M394.1 383.3l.5 1.1M392.8 384.4l.2 .9M396.3 378l-1.2 .5M393.8 378.6l-1.2 .1M394.6 377l.9 .3M395.8 377.6l.9 .5M394.2 375.6l-.6 1M395.8 385.1l-1 .2M392.8 377.5l.3 1.2M393.4 383.3l-.1 1.5M395.9 382.4l.7 .6M391.8 374.4l1.2 .3M391 367.1l-1.3 .8M397.3 377.4l1 .3M396 376.6l.2 1.4M393.4 378.7l-1.1 .2M396.2 385.1l-1 1M398.1 382.7l.9 1M399.4 390l1.2 .4M393.3 374l0 1.3M394.5 377.3l.9 .3M393.8 378.5l-.3 1.2M412.1 410.2l-.7 1M410.3 405l-.1 1.2M408.5 405.4l-0 1M408.1 400.3l-.7 .7M410.7 404.4l.9 .2M410.7 407.1l1.2 .4M409.4 405.3l-.3 1.4M410.2 394.6l-.3 .9M411.4 406.6l-1 .8M413.7 402.3l1 .4M412.3 400.5l.9 .5M412.1 399.1l1 .1M408.3 405.1l-.8 .8M409 400.4l1.4 .3M411.3 401l-.5 .8M407.9 409.7l-.9 .3M411 417.8l-1.3 .3M410.4 405.1l-.7 1.3M407.9 407.1l.6 1.1M410.9 402.8l-.4 .8M407 405.4l-.9 .6M408.1 399l-.4 1.3M410.4 405.7l1 1M411.7 403.4l-1 .6M409.8 407.9l-.3 1.4M410.5 403.1l1.4 .1M478.6 385.5l1 .8M481 396.4l1 .1M481.7 392.4l.6 .9M482.7 391.5l.4 .8M476 385.1l-1.1 .2M478.2 384.9l-.2 .9M480 387.5l-.5 .8M484.6 394.8l.5 .8M480.1 390.7l.3 1M478.2 390.2l1 0M482.9 396.3l-1.1 .5M485.9 398.8l.9 .5M489.1 397.8l.4 1M478.9 390.4l1.1 .2M489.8 398.6l.7 .8M480.2 393.6l.9 .7M481.3 389l-1.2 .5M481.8 397.3l-.3 1.2M476.7 387.3l-.9 .6M478.3 387.8l-1 .4M486.1 393.3l1.4 .5M473.7 388.4l-.7 1M479.2 390.7l-.1 1.2M472.4 379.2l-1.3 .4M478.7 387.8l-.9 .6M476.7 386l-1.3 .4" stroke="#6a6a6a" stroke-width="0.55"/>
<defs><path id="w9" d="M450.2 286.1h0M438 286.4h0M479.4 286.1h0M401 285.6h0M447.3 286.6h0M384.6 285.4h0M407.4 286.1h0M491.3 286h0M459.1 286.2h0M424.3 285.5h0M406.5 285.7h0M441.4 285.4h0M407.5 285.8h0M382.8 285.3h0M395.1 287.9h0M490.1 285.6h0M434 285.7h0M392.5 303.2h0M453.9 301.1h0M402 301.2h0M384 301.5h0M420.4 301.8h0M468.2 302.1h0M428.8 302.3h0M426 301.7h0M488.8 300.6h0M480.4 302.1h0M402.5 300.4h0M385.8 305.1h0M404 302.9h0M446.3 304.2h0M488.4 301.3h0M416.4 303.2h0M485.7 303.7h0M460.6 302.1h0M460.5 304.2h0M438.2 303.6h0M420.5 302.1h0M385.6 304h0M440.9 302.8h0M389 302.3h0M487.6 303.7h0M425.1 305.9h0M395 302.3h0M440.3 302.7h0M403.8 302.4h0M467.6 301.3h0M452.2 302.5h0M447 302.4h0M441.3 302.9h0M459.4 304.8h0M478.7 301.7h0M423.1 302.9h0M459 302.4h0M482.7 304.2h0M449.4 303.2h0M472.2 302.6h0M392.5 303.6h0M409.6 302.4h0M464.4 303.6h0M481 416.2h0M395.4 416.1h0M396.1 415.6h0M398.5 415.1h0M444.8 416.1h0M382 416.5h0M475.7 413.7h0M382.5 416.1h0M453.3 416.6h0M385.9 418.4h0M412.3 414.7h0M476.4 416.2h0M463.1 415h0M417.1 415.8h0M430.9 414.7h0M486.8 418.2h0M387.1 415.9h0M389.3 419.1h0M455.7 414.7h0M483 416.1h0M399.3 416.8h0M463.3 417.8h0M424.2 418.4h0M420.4 414.3h0M422.7 416.2h0M416.1 415.6h0M424.8 415h0M446 416.7h0M445.4 413.9h0M488.7 414h0M425.4 416h0M387.7 416.5h0M406.9 414h0M382 415.4h0M385.2 416.6h0M393.3 414.9h0M444.2 415.3h0M437.4 414.7h0M390.9 416.4h0M388 416.1h0M463.8 415.4h0M408.1 414.7h0M416.8 431.8h0M383.8 431.1h0M418.6 430h0M447.2 430.7h0M398.6 432.4h0M456.8 431.6h0M485.2 431.5h0M467.9 430.8h0M462.5 432h0M453.7 431.6h0M408 431.9h0M478.7 432.5h0M448.7 431.8h0M439.8 432.9h0M430.2 432h0M407.8 430.1h0M489.6 433h0M490.8 429.1h0M447.9 432.7h0M450 431.1h0M437.8 430.1h0M441.7 430.3h0M441.1 432.8h0M428.4 432.4h0M471.6 432h0M475.7 430.3h0M451.8 430.8h0M425 432.4h0M408.5 431.6h0M399.7 324.5h0M401.6 329.4h0M402.1 321.1h0M398 332.3h0M395.2 334.1h0M398 325.8h0M400.9 330.6h0M398 324h0M398.8 338h0M395.3 326.7h0M431.9 346.3h0M439.9 339.9h0M445.9 346.4h0M441.1 341.8h0M438.5 348.2h0M435.7 343.6h0M439.8 332.8h0M438.4 342.2h0M440.7 343h0M441 340.4h0M457.2 336.9h0M460.4 336.5h0M457.8 340.1h0M455.5 335.1h0M461.3 338.9h0M464.7 333h0M458.4 337h0M453 338.3h0M450 328.2h0M461 335h0M398.4 382.3h0M394.2 370.6h0M385.2 380.6h0M397.4 383.7h0M396.5 384.7h0M395.4 379.6h0M392.8 375.6h0M394.2 377.6h0M395.3 376.4h0M388.3 377.6h0M408.1 408.4h0M410.7 401.6h0M419.7 397.6h0M413.8 415.2h0M406.7 408h0M412.2 402.7h0M409.7 404.7h0M421.4 402h0M409 400.4h0M415 405.9h0M483.5 392.2h0M484.8 391.9h0M481.8 388.9h0M478.8 392.1h0M487.6 388.1h0M484.3 401.9h0M479.6 388.2h0M477.8 390.8h0M480.8 390.2h0M473.7 389.4h0"/></defs>
<use href="#w9" stroke="#999" stroke-width="1.70"/>
<use href="#w9" stroke="#f6f6f6" stroke-width="0.90"/>
<path d="M423.2 286.5h0M481.5 286.8h0M482.4 285.4h0M451.7 285.3h0M410.5 288h0M444.2 286h0M467.5 286h0M441.2 287h0M490.2 287.2h0M486.6 286.4h0M412.3 287.3h0M466.3 286.4h0M389.7 305.6h0M421.6 304.5h0M457 304.6h0M457.3 301.9h0M405.2 300.6h0M485.7 302.7h0M490 302.5h0M446.3 303.7h0M432.2 303.3h0M401.9 304h0M439.6 301.7h0M487.2 302.9h0M433.4 303.7h0M417.7 304.3h0M405.1 302.3h0M472.9 302.7h0M428.8 304.5h0M400.5 301.9h0M489.4 302.6h0M434.5 303h0M462.2 303.1h0M383.2 302.6h0M474.1 304.1h0M477.9 302h0M414.1 304.8h0M422.1 414.9h0M410.3 415.4h0M411.4 415.7h0M401.9 416.7h0M427.9 414.3h0M419.3 416.8h0M460.9 417.8h0M490.6 416.6h0M397.7 417.6h0M444.8 414.2h0M429.2 415.7h0M434.1 414.3h0M456.2 416.9h0M389.6 415.9h0M473.9 415h0M430.9 416.3h0M388 415h0M420 416.7h0M461.2 414.4h0M475 416.4h0M402 416h0M474 415.6h0M396 414.6h0M400.5 417.6h0M384.7 416.4h0M384.7 417.4h0M485.9 432.6h0M465 432.1h0M488.3 430.7h0M467.7 430.7h0M470.6 431.5h0M382.4 432.7h0M393.3 432.6h0M474.8 430.6h0M424 432h0M412.3 432h0M445.5 431.4h0M442.4 430.1h0M449 431.5h0M469.3 432.4h0M442.8 431.1h0M415.5 430.3h0M385.2 430.5h0M479.3 432.9h0M393.1 432.6h0" stroke="#e01616" stroke-width="1.68"/>
<path d="M428.9 404.8h0M402.5 347.6h0M388.6 395.2h0M453.7 316.4h0M399 403.4h0M387.6 354h0M477.4 323.2h0M423.3 352.8h0M488.4 348h0M396.5 357.4h0M474.4 375.5h0M492.5 343.7h0M393 314.1h0M469.4 388.4h0M410.3 368h0M409.5 317.3h0M391.7 390.8h0M470.8 378.8h0M412.5 357.1h0M473.9 411.6h0M412.5 385.5h0M489.3 413.7h0M473.7 356.3h0M405.7 415.5h0M466.7 391.9h0M422.8 358h0M479 368.4h0M419.7 346.7h0M415.7 333h0M465.5 356.1h0M424.4 409h0M458.5 309.6h0M429.9 381.4h0M391 364.8h0M400.8 372.4h0M383.2 308.4h0M409.4 323h0M468.8 361h0M481.9 329.9h0M456.9 384.4h0M399.6 348.4h0M440.7 414.4h0M411.9 390.8h0M417.6 309h0M444.2 399.9h0M442.1 391.2h0M451.3 305h0M430.6 364.3h0M468.4 321.4h0M397.7 395.7h0M385.9 365.2h0M416.9 320.3h0M406.4 415.3h0M486.4 365.8h0M407.7 371.9h0M407.3 344.6h0M486.3 361.6h0M422.3 315.4h0M455.8 387.4h0M477.6 345.1h0M392.1 381.4h0M394.3 384.4h0M385.2 373.9h0M463.8 333.9h0M391.4 328h0M480.9 341.6h0M485.6 383.6h0M418.7 408.5h0M436.5 344.2h0M444.1 338.4h0M473.4 382.3h0M382.5 394.1h0M437.6 406.9h0M481.4 392.6h0M478 337.9h0M438.3 374h0M439.9 378.3h0M469.2 361.1h0M402.8 321.5h0M435 408.4h0M399.9 329.8h0M385.5 408.3h0M477.3 324.2h0M435.8 352.5h0M419.6 380.7h0M489 391.3h0M456.5 385.6h0M397 313.9h0M482.1 344.2h0M411.3 376.9h0M461.2 357.4h0M431.1 410.3h0M462 378.5h0M424.6 341.2h0M478.5 327h0M414.3 336.8h0M477.4 354.3h0M400.8 387.6h0M486.1 350.4h0M389.7 392.5h0M383.9 360.8h0M421.2 315.9h0M447.2 357.4h0M382.2 355.7h0M481.8 395h0M432.3 385.8h0M480.1 346.1h0M436 350.3h0M391.1 339h0M486.9 322.8h0M469.1 387h0M435.2 369.3h0M480.3 304.2h0M471 402.1h0M416.3 398.8h0M427.7 350.6h0M399.3 321.9h0M402.9 370.7h0M440.6 335.4h0M432.9 321.7h0M399.6 383.2h0M392.6 320.9h0M405.1 405.3h0M384.4 342.8h0M482.9 341.8h0M401.6 330.8h0M448 347.1h0M440.4 329.2h0M489.3 377.5h0M393.7 313.2h0M424 381.7h0M433.3 383.4h0M406.2 307.8h0M467.3 366.3h0M489.6 317.3h0M437.1 355.6h0M442.7 390.9h0M472.7 342.7h0M446 381.2h0M459 354.1h0M473 304.3h0M417.7 311.5h0M463.9 307.1h0M388.5 321.8h0M461.9 382.8h0M438.2 374.4h0M427.9 357.7h0M439.2 360.1h0M395.9 395.4h0M419.9 306.4h0M453.5 415.4h0M410.1 373.3h0M468.6 350.6h0M387.9 407.5h0M434.3 394.8h0M413.4 376.9h0M437.4 414.5h0M462.4 360.7h0M436.7 414h0M445.9 343.1h0M417 403.4h0M431.5 411h0M446.2 406.2h0M416.8 337.8h0M433.3 309.2h0M478.1 366.2h0M470.7 337.4h0M426.6 357.2h0M422.7 331.1h0M455.1 355.1h0M448.8 407.7h0M470.8 401.2h0M471.6 343.1h0M426.2 408.1h0M458.3 338.9h0M405.4 353.8h0M491.1 369h0M429.3 316.4h0M450.4 309h0M416.5 404.4h0M414 337.4h0M395.2 330.7h0M402.7 378h0M469.4 386.7h0M421.3 372.8h0M395.5 389.7h0M467.3 385.3h0M401.5 342h0M451.7 326.3h0M424.4 304.5h0M478.3 312.8h0M463.4 383.2h0M435.1 411.9h0M415.1 343.7h0M440.1 374.7h0M443.6 406.8h0M414.4 306.9h0M487.5 331.3h0M451.8 303.6h0M403.9 340.1h0M403.7 304.1h0M487.6 348.2h0M393.2 357.4h0M481.3 331h0M463.8 336.9h0M409.1 327.4h0M449.7 402.2h0M467.4 401.8h0M439.7 374.2h0M483 376.4h0M444.9 393.4h0M394.9 407.9h0M453.4 394.2h0M451.3 378.1h0M439.6 380h0M440.1 398.3h0M452.2 411.2h0M463.9 370.6h0M465.8 399.9h0M387 347.6h0M474.8 387h0M471.9 363.1h0M385.8 349.4h0M401.2 361.4h0M407.8 331.3h0M462.1 331.1h0M386.9 413.7h0M481.7 332.9h0M467.3 363.2h0M480.2 337.3h0M469.1 384.5h0M414.5 370.1h0M474.6 323.4h0M416.3 321.5h0M446.6 363.2h0M458.4 369.5h0M420.4 319.8h0M418.7 313.3h0M387.5 372.3h0M476 378.5h0M405.6 373h0M407.7 402.4h0M486.3 407.6h0M392.3 384.2h0M391.2 351.3h0M407.4 335.6h0M478.8 307.1h0M415.8 355.3h0M486.7 307.6h0M439.4 310.6h0M489.6 413.7h0M488.5 332.2h0M465.5 410h0M445 410.5h0M448.3 352.9h0M478.6 321.8h0M416.7 395.1h0M448.7 411.9h0M440.9 322.2h0M382.6 335.8h0M468.5 314.7h0M384.9 307.9h0M466 372.3h0M382.1 350.4h0M463 381.4h0M424.8 305.5h0M386.1 406.5h0M467.9 369.8h0M406.4 352.7h0M417.1 381.6h0M398.8 374.4h0M486 368.6h0M482.1 365.1h0M436.9 396.7h0M451.8 337.7h0M433.5 347.2h0M479.3 405.4h0M462 396.2h0M464.9 312.9h0M413.4 370.5h0M488.7 367.1h0M424.6 402.5h0M464.9 351.5h0M465.2 319.4h0M427.1 357.8h0M413.8 332h0M471.3 399.1h0M485 406.4h0M399.8 338.9h0M415.6 305.7h0M491.6 311.1h0M401.3 335.4h0M442.8 385.6h0M432.5 363.5h0M424 353h0M490 383.9h0M439.9 337.8h0M402.6 399.3h0M465.6 305.7h0M392.8 324.6h0M445 398.5h0M480.5 401.9h0M394.2 360.4h0M417.5 391.6h0M482 388.9h0M413.4 341h0M465.4 359.8h0M434.6 344.5h0M424 412.3h0M431.4 382h0M398.3 406.1h0M383.1 365.6h0M453.5 415.9h0M460.1 395.3h0M434.1 395.4h0M434.9 371.5h0M476.4 407.9h0M436.5 324h0M398.9 322.4h0M487.3 382.8h0M443.3 378.3h0M489.2 410.2h0M455.5 411.8h0M478.8 341.8h0M458.6 334.5h0M432 373.7h0M391 386.5h0M395.7 390h0M451.1 355.7h0M412.1 306.9h0M385.5 314.1h0M388.4 368.7h0M405.2 380h0M389.5 324.6h0M463.7 408.2h0M431.1 389.6h0M417.2 321.9h0M455.9 315.4h0M403.9 386.7h0M478.6 371.1h0M444.4 358.1h0M473.3 322.8h0M423.2 329.5h0M491 363.8h0M395.9 322.3h0M428.7 390h0M427.6 308.6h0M444 384h0M425.1 354.5h0M389.3 379.1h0M415.8 340.1h0M392.9 391h0M433.6 311.3h0M488.1 412.7h0M457.1 414.7h0M489 371.6h0M414.1 370.2h0M411 397h0M467.6 407.9h0M389.1 337.1h0M431.9 305.4h0M397.2 402.4h0M416.5 372h0M481.9 357.4h0M438.4 332h0M486.4 395.1h0M385.7 371.8h0M385 339.4h0M484.8 337.3h0M415.5 339.6h0M439.6 375.3h0M465.6 378.5h0M422.1 352.8h0M382.7 367.4h0M447.8 402.5h0M385.9 406.1h0M412.1 354.9h0M415.2 327.3h0M383 338.2h0M477.1 393.8h0M439.7 392.7h0M399.4 369.7h0M477.6 360.6h0M440.3 377.2h0M445.5 344.5h0M417.9 389.5h0M428.4 388.8h0M422.2 367.4h0M445.6 304.1h0M405.6 316.3h0M452.6 400.6h0M395.7 329.4h0M483.1 350.9h0M419.6 384.1h0M416.4 371.9h0M431.6 323.9h0M491.2 360.9h0M473.9 387.8h0M453.9 365.2h0M464 365.6h0M399.2 345.1h0M477.2 377.4h0M416.9 317h0M453.4 348.3h0M451.1 348.7h0M472.5 303h0M436.5 319.4h0M478.6 339.2h0M458.8 318.4h0M472.8 395.5h0M413.6 393.4h0M451.9 316.1h0M487 413.3h0M423.9 339.5h0M416.5 398.8h0M400.8 306.9h0M423.5 390.9h0M424.5 410.4h0M390 304.1h0M479.6 382.4h0M405.1 402.6h0M437.9 408.5h0M386.9 361.4h0M438.2 323.9h0M460.8 312.2h0M488.5 346.5h0M422.6 369.9h0M445.2 415.4h0M485.3 409h0M419.7 306.7h0M478.1 414.1h0M389.3 380.3h0M426.5 379.9h0M454.3 351.9h0M464.8 403h0M421.5 379.9h0M422.9 338.9h0M418.8 354.4h0M397.3 369.9h0M394.6 401.4h0M387.7 329.1h0M394.4 399.1h0M403.7 328.7h0M449.5 349.6h0M382.5 360.1h0M393.9 330.6h0M453.8 308.2h0M462.1 361.9h0M404.4 344.3h0M459.6 323.5h0M405.1 339.4h0M464.1 389.2h0M412.2 324.4h0M475.2 409.6h0M469.1 337.5h0M435.4 360.8h0M468.6 367.6h0M461.1 370h0M407.4 402.7h0M411.5 370.2h0M430.6 379.7h0M454.6 342.6h0M452.3 378.1h0M469.5 384.5h0M447 321.3h0M399.1 388.4h0M383.3 374.4h0M413.6 392.7h0M464.9 331.1h0M424.2 336.1h0M433.6 411.7h0M439.6 332.7h0M464.7 346.8h0M403.2 313.3h0M487.3 330h0M415.6 379.6h0M479.3 366.8h0M382.8 391.1h0M433.4 310.8h0M416.9 348.2h0M430.3 347.9h0M388.7 316.4h0M436.8 304.5h0M399.4 328.7h0M476 376.7h0M414.4 345h0M467.6 330.9h0M388 333.5h0M461.7 403.2h0M442.9 387.9h0M385.8 366.2h0M401.6 383.5h0M382.9 316h0M459.1 415.8h0M452.1 398.5h0M449.1 390.1h0M485.3 369.6h0M472 345.4h0M401.5 400.8h0M435.5 306.7h0M485.1 377.4h0M472.8 371.2h0M394.3 320.6h0M417.9 331.6h0M409.6 384.8h0M484 354.3h0M416.7 402.6h0M412.5 360.1h0M410.8 384.3h0M458.5 323.1h0M473.4 350.1h0M429.7 337.1h0M471 400.9h0M451.2 397.8h0M427.1 404.2h0M437.2 341.4h0M448.6 378.6h0M390.2 325.5h0M437.8 328.8h0M413.8 359.1h0M402.1 372.8h0M425.1 305.8h0M473.7 407.9h0M462.6 329.3h0M418.4 395.8h0M402.7 374.2h0M485.8 375.8h0M473.9 387.2h0M454.4 308.4h0M492.3 393.8h0M390.9 379.4h0M470.8 316.1h0M387.5 384.2h0M429.4 365.7h0M387.1 333.8h0M424.3 412h0M414 325.8h0M463.5 310.2h0M469.1 322.2h0M448.8 336.8h0M466.2 400.5h0M466.8 375.8h0M427.5 387.8h0M487 314.8h0M447 401.9h0M472.3 391h0M436.3 395.8h0M388.3 396.5h0M481 317.4h0M386.2 412.4h0M387 385.1h0M488.8 361.9h0M411.4 400.9h0M429.1 412.1h0M398 381h0M473.7 328h0M462.1 310.8h0M474.6 316.6h0M386.8 379.1h0M418.4 379h0M434.8 346.7h0M478.1 337.7h0M415.3 346.5h0M451.8 340h0M476.2 321.7h0M408.3 397.3h0M388.3 345.5h0M382.2 415.1h0M392.6 333.4h0M394.8 394h0M414.1 410.2h0M399 308.9h0M401 323h0M402.8 402.6h0M398.4 324.4h0M406.2 311.1h0M405.9 310.3h0M382.3 318h0M478.5 362.7h0M419.7 318.9h0M452.8 339.1h0M390.9 399.7h0M483.3 411.4h0M383 357.4h0M409.5 381.7h0M438.1 348.5h0M419.7 348h0M403.9 388.4h0M449.6 385.3h0M470.3 406.5h0M451.5 345.6h0M483.1 353.4h0M460.2 337.5h0M429.4 329.1h0M403.7 346.1h0M436.3 381.2h0M453.4 346.5h0M485.2 394.2h0M415.7 369h0M390.6 361.1h0M437.8 387.2h0M481.9 333.3h0M469.3 313.1h0M483.1 355.3h0M437.8 397.1h0M467.6 336h0M486.7 321.6h0M410.4 407.9h0M441 414.2h0M433 303.4h0M408 364.4h0M408.1 348.2h0M438.8 368h0M427.4 306.1h0M459.6 384.8h0M462.7 403.6h0M481.2 310.8h0M489.8 341h0M478.7 380.6h0M466.9 317.5h0M409.1 306.5h0M422.5 391h0M394.2 359.7h0M448.1 327.6h0M394.9 346.3h0M483 336h0M395.9 329.8h0M432.1 339.3h0M444.9 354h0M416.6 330.5h0M410.5 379.2h0M484.3 351.2h0M403.8 409.7h0M398.1 327.3h0M475.9 364.5h0M403.2 314.2h0M407.4 317.3h0M463 332.5h0" stroke="#d83434" stroke-width="1.25"/>
<defs><path id="ww9" d="M429.2 403.9h0M429.8 405.4h0M402.7 346.6h0M403.5 348h0M389.4 394.5h0M389 396.1h0M452.7 316.1h0M454.2 315.6h0M399 404.5h0M398 403.2h0M387.7 355h0M386.6 353.8h0M478.2 323.9h0M476.6 323.7h0M422.3 352.5h0M423.8 351.9h0M489.1 347.3h0M488.9 348.9h0M397.3 356.8h0M397 358.3h0M475.3 376.1h0M473.7 376.2h0M491.9 342.8h0M392.1 314.7h0M392.7 313.1h0M468.6 389h0M469 387.4h0M409.3 368.4h0M410.2 367h0M410.5 317.7h0M408.9 318.2h0M392.7 390.5h0M391.8 391.8h0M469.8 379.1h0M470.7 377.7h0M411.7 357.7h0M412.1 356.1h0M473 412.2h0M473.5 410.7h0M413.4 385h0M412.8 386.5h0M489.6 412.7h0M490.2 414.2h0M473.4 355.4h0M474.8 356.2h0M405.8 416.5h0M404.7 415.4h0M467.4 391.2h0M467.2 392.8h0M423.9 358.1h0M422.5 359h0M479.6 369.2h0M478.1 368.8h0M418.6 346.9h0M419.7 345.7h0M414.7 332.9h0M416.1 332.1h0M464.5 356.5h0M465.4 355.1h0M424.4 408h0M425.3 409.3h0M458.5 308.6h0M459.4 309.9h0M428.9 381.6h0M430 380.4h0M390.9 363.7h0M392.1 364.9h0M400.7 373.4h0M399.8 372h0M382.4 309.1h0M382.8 307.5h0M408.9 323.9h0M408.6 322.3h0M467.8 360.6h0M469.4 360.2h0M482.7 329.3h0M482.3 330.9h0M457.8 384h0M457.2 385.4h0M398.6 348.1h0M400.1 347.5h0M440.8 415.5h0M439.7 414.3h0M412.2 389.8h0M412.8 391.3h0M416.5 309h0M417.8 308h0M443.2 399.5h0M444.8 399.1h0M441.6 390.4h0M443.1 390.9h0M451 304h0M452.3 305h0M429.6 364h0M431.1 363.4h0M469.1 320.7h0M468.9 322.3h0M398.2 394.9h0M398.3 396.5h0M386.4 364.3h0M386.7 365.9h0M417.9 320h0M417.1 321.4h0M405.8 416.2h0M405.7 414.6h0M487.3 366.3h0M485.7 366.6h0M408.7 372h0M407.4 372.9h0M408.1 345.2h0M406.5 345.2h0M485.7 362.4h0M485.8 360.8h0M421.5 314.8h0M423.1 314.8h0M456.5 386.6h0M456.4 388.2h0M477.7 346.2h0M476.6 345h0M391.5 380.6h0M393.1 381h0M395 383.7h0M394.7 385.3h0M385.4 372.9h0M386.2 374.3h0M463 334.6h0M463.3 333h0M390.5 327.5h0M392.1 327.2h0M480.4 340.7h0M481.9 341.3h0M485.8 384.7h0M484.6 383.6h0M419.7 408.6h0M418.4 409.5h0M436.9 345.2h0M435.5 344.4h0M443.9 339.5h0M443.1 338h0M474.1 381.7h0M473.8 383.2h0M382.6 393h0M436.6 406.8h0M438 406h0M482.4 393h0M480.8 393.4h0M477 337.7h0M478.5 337h0M439.2 374.4h0M437.7 374.8h0M439.6 379.3h0M438.9 377.9h0M468.2 361.4h0M469.2 360.1h0M402.1 322.3h0M402.1 320.7h0M434.7 407.4h0M436.1 408.3h0M400.8 329.3h0M400.2 330.8h0M385.8 407.3h0M386.3 408.9h0M477.9 323.3h0M478 325h0M435.7 353.5h0M434.9 352.1h0M419.4 381.7h0M418.6 380.3h0M489.8 390.6h0M489.5 392.2h0M456.5 386.6h0M455.5 385.3h0M396.3 313.1h0M397.9 313.4h0M481.1 343.9h0M482.6 343.3h0M412.2 376.3h0M411.7 377.8h0M462.1 356.8h0M461.6 358.3h0M431.5 409.4h0M431.9 410.9h0M461.2 379.1h0M461.6 377.6h0M424.2 340.2h0M425.6 341h0M477.5 327.1h0M478.7 326h0M414.6 337.8h0M413.3 336.8h0M477.8 353.3h0M478.3 354.8h0M399.8 387.2h0M401.4 386.8h0M485.7 351.3h0M485.2 349.8h0M389.8 391.5h0M390.6 392.9h0M383.5 359.8h0M384.9 360.7h0M420.5 316.7h0M420.6 315.1h0M446.5 356.6h0M448.1 356.9h0M381.8 354.8h0M482.6 394.3h0M482.2 395.9h0M431.8 384.9h0M433.3 385.5h0M479.8 345.1h0M481.2 346h0M435.9 351.3h0M435 349.9h0M390.1 338.6h0M391.7 338.2h0M487.7 322.1h0M487.4 323.7h0M468.1 387.1h0M469.2 385.9h0M435.3 368.3h0M436.1 369.7h0M481.1 303.5h0M480.8 305.1h0M470.6 403.1h0M470.1 401.5h0M417 398h0M417 399.6h0M427.5 351.7h0M426.7 350.2h0M398.9 322.8h0M398.5 321.3h0M402.9 369.7h0M403.8 371h0M440.8 336.4h0M439.6 335.3h0M432 322.3h0M432.6 320.8h0M399.6 382.2h0M400.6 383.5h0M392.2 321.9h0M391.9 320.3h0M404.1 405.5h0M405.1 404.2h0M383.8 342h0M385.3 342.5h0M483.8 341.3h0M483.1 342.8h0M401.4 329.8h0M402.6 330.8h0M448.7 347.9h0M447.1 347.6h0M441.2 328.5h0M440.8 330.1h0M488.6 376.8h0M490.2 376.9h0M392.8 313.7h0M393.4 312.2h0M425 381.3h0M424.2 382.7h0M434.4 383.2h0M433.2 384.4h0M407 308.5h0M405.4 308.3h0M467 365.3h0M468.3 366.3h0M488.8 316.7h0M490.4 316.6h0M436.1 355.6h0M437.4 354.6h0M441.7 390.8h0M443.1 389.9h0M473.6 342.1h0M473 343.7h0M444.9 381.2h0M446.2 380.2h0M458.7 353.1h0M460 354h0M472 304.5h0M473 303.3h0M418.6 311.9h0M417.1 312.4h0M463.3 306.2h0M464.9 306.8h0M387.5 322.2h0M388.4 320.8h0M460.9 383.3h0M461.6 381.8h0M439.2 374.7h0M437.7 375.3h0M429 357.7h0M427.6 358.6h0M438.9 359.1h0M440.2 360.1h0M395.3 394.6h0M396.9 395h0M420.4 305.5h0M420.7 307.1h0M454.6 415.3h0M453.4 416.4h0M409 373.3h0M410.3 372.3h0M467.6 350.2h0M469.2 349.8h0M388.9 407.8h0M387.3 408.4h0M434.6 395.8h0M433.3 394.7h0M414.3 377.4h0M412.6 377.6h0M437.3 415.5h0M436.4 414.1h0M461.5 361.2h0M462.2 359.7h0M437.4 414.8h0M435.8 414.5h0M446.5 343.9h0M444.9 343.6h0M416 403.7h0M417 402.4h0M432.5 411.3h0M431 412h0M447.2 406.1h0M445.9 407.2h0M416.7 336.8h0M417.8 337.9h0M433.9 310h0M432.3 309.7h0M478.8 365.4h0M478.6 367.1h0M469.8 337.9h0M470.4 336.4h0M426.6 358.3h0M425.6 356.9h0M422.1 331.9h0M422.1 330.3h0M456 355.5h0M454.5 356h0M449.7 407.4h0M448.9 408.7h0M471.3 402.2h0M469.8 401.4h0M471.2 344.1h0M470.7 342.6h0M426 407.1h0M427.3 408.1h0M458.1 337.8h0M459.3 338.9h0M405.8 352.8h0M406.2 354.4h0M490.1 368.6h0M491.7 368.1h0M428.6 315.6h0M430.2 315.9h0M449.8 309.9h0M449.7 308.3h0M416.8 403.4h0M417.4 404.9h0M413.3 338.2h0M413.3 336.6h0M395.1 331.7h0M394.3 330.3h0M403.6 378.4h0M402.1 378.8h0M469.5 387.7h0M468.4 386.4h0M422.3 372.5h0M421.3 373.8h0M395.2 390.7h0M394.5 389.2h0M466.6 386.1h0M466.7 384.5h0M401 341.1h0M402.5 341.8h0M451.7 327.4h0M450.7 326.1h0M423.5 304h0M425.1 303.7h0M479.2 313.3h0M477.7 313.6h0M464.1 382.4h0M464 384h0M435.7 411.1h0M435.8 412.7h0M416.1 344h0M414.6 344.5h0M439.1 374.3h0M440.7 373.8h0M444.5 406.1h0M444.1 407.7h0M415.2 307.5h0M413.6 307.4h0M488.5 331.1h0M487.5 332.3h0M450.8 303.7h0M452 302.6h0M403.3 341h0M403.3 339.3h0M404.7 304.5h0M403.2 305h0M486.6 348.1h0M488 347.2h0M393.3 356.4h0M394.1 357.8h0M482.3 330.8h0M481.1 332h0M464.5 337.7h0M462.9 337.5h0M409.8 328.2h0M408.2 327.9h0M448.6 402.3h0M449.9 401.2h0M468.4 401.7h0M467.2 402.8h0M439.3 373.3h0M440.7 374h0M483 375.4h0M484 376.6h0M445.4 392.5h0M445.7 394.1h0M394.1 408.6h0M394.5 407h0M454.3 394.6h0M452.7 395.1h0M450.3 377.7h0M451.9 377.3h0M438.7 380.4h0M439.5 378.9h0M440.3 397.2h0M441.1 398.7h0M451.7 410.3h0M453.2 410.9h0M463 370.1h0M464.6 369.8h0M464.7 399.9h0M466.1 399h0M386.6 348.5h0M386.2 347h0M474.4 386h0M475.8 386.8h0M470.9 363.2h0M472 362.1h0M386 348.4h0M386.8 349.8h0M400.9 362.4h0M400.2 360.9h0M407.8 332.4h0M406.8 331.1h0M463 330.6h0M462.4 332.1h0M387.4 412.8h0M387.7 414.4h0M482.7 332.9h0M481.4 333.9h0M467.8 364.1h0M466.3 363.4h0M480.8 338.2h0M479.2 337.6h0M469.7 385.4h0M468.2 384.8h0M413.9 369.3h0M415.5 369.7h0M475.6 323h0M474.8 324.4h0M416 320.5h0M417.3 321.4h0M445.6 362.9h0M447.1 362.3h0M457.6 370.1h0M458 368.6h0M421.2 320.4h0M419.6 320.4h0M419.1 312.4h0M419.5 313.9h0M386.5 372.3h0M387.8 371.4h0M475 379h0M475.8 377.5h0M406.3 373.7h0M404.7 373.6h0M408.3 401.5h0M408.4 403.2h0M485.3 407.3h0M486.8 406.7h0M393 383.4h0M392.8 385h0M391.7 350.4h0M392 352h0M407.2 336.6h0M406.4 335.2h0M479.4 307.9h0M477.9 307.4h0M414.8 355.2h0M416.1 354.3h0M486.4 308.6h0M485.8 307.1h0M439.3 311.6h0M438.5 310.2h0M488.7 413.2h0M490.2 412.9h0M488.9 331.2h0M489.4 332.7h0M465.8 410.9h0M464.4 410h0M445.1 409.5h0M446 410.8h0M449.1 352.2h0M448.8 353.8h0M479.1 320.9h0M479.3 322.5h0M416.8 396.1h0M415.7 394.8h0M449.2 412.8h0M447.7 412.1h0M441.8 322.7h0M440.1 322.9h0M383 336.8h0M467.7 315.3h0M468.2 313.8h0M384.4 307h0M385.9 307.6h0M465.2 371.7h0M466.8 371.6h0M382.2 351.5h0M462.1 381.9h0M462.7 380.4h0M423.8 305.8h0M424.8 304.5h0M387.1 406.9h0M385.5 407.3h0M467 369.2h0M468.7 369.1h0M405.6 353.3h0M405.9 351.7h0M417.4 382.6h0M416.1 381.6h0M399.6 375h0M398 375.1h0M486.9 369.2h0M485.3 369.3h0M482.8 365.8h0M481.2 365.6h0M436.7 397.7h0M436 396.3h0M452.8 338.2h0M451.2 338.5h0M432.6 347.8h0M433.2 346.2h0M478.3 405.3h0M479.7 404.4h0M461.3 396.9h0M461.4 395.3h0M465 313.9h0M463.9 312.8h0M414.4 370.9h0M412.8 371.3h0M489.1 366.2h0M489.5 367.7h0M424.1 401.6h0M425.6 402.2h0M464.1 352.2h0M464.4 350.6h0M464.9 320.4h0M464.3 318.9h0M428 358.3h0M426.5 358.6h0M414.2 331.1h0M414.6 332.7h0M471.9 398.3h0M472 399.9h0M484 406.6h0M485.1 405.4h0M398.9 339.4h0M399.5 337.9h0M414.7 306.2h0M415.4 304.7h0M490.8 311.7h0M491.1 310.1h0M401.7 334.5h0M402.1 336h0M443.5 386.3h0M441.9 386.1h0M433 364.4h0M431.5 363.8h0M424.3 352h0M424.9 353.5h0M490.9 383.5h0M490.1 384.9h0M440.9 338h0M439.4 338.8h0M402.9 398.3h0M403.5 399.8h0M464.7 305.1h0M466.3 305h0M392 324.1h0M393.6 323.9h0M444 398.5h0M445.3 397.5h0M480.5 400.9h0M481.5 402.2h0M395.2 360.6h0M393.7 361.3h0M416.9 392.5h0M416.9 390.8h0M481.1 388.4h0M482.7 388.1h0M414.1 340.3h0M414 341.9h0M464.8 360.6h0M464.8 359h0M435.6 344.7h0M434.1 345.4h0M424.8 411.7h0M424.4 413.3h0M431.2 381h0M432.5 382h0M397.5 405.5h0M399.1 405.4h0M383.2 366.7h0M382.1 365.5h0M453.6 417h0M452.5 415.8h0M459.2 394.8h0M460.8 394.6h0M433.1 395.1h0M434.5 394.4h0M435.7 372.2h0M434.1 372.1h0M475.8 408.7h0M475.7 407.1h0M435.4 324.1h0M436.7 323h0M398.2 323.1h0M398.3 321.5h0M487.8 383.7h0M486.3 383h0M442.6 379.1h0M442.8 377.5h0M488.3 410.7h0M489 409.2h0M456.4 411.2h0M455.8 412.8h0M479.8 341.7h0M478.7 342.9h0M457.6 334.2h0M459.1 333.7h0M432.5 372.8h0M432.7 374.4h0M392 386.2h0M391 387.5h0M394.8 389.5h0M396.4 389.2h0M450.6 354.8h0M452.1 355.4h0M412.4 307.9h0M411 307h0M386.3 314.8h0M384.7 314.7h0M388.7 367.8h0M389.3 369.3h0M404.3 379.5h0M405.9 379.2h0M388.5 324.2h0M390 323.7h0M464.7 408.6h0M463.1 409.1h0M430.1 389.8h0M431 388.6h0M417.2 322.9h0M416.1 321.7h0M456.4 316.3h0M454.9 315.6h0M404.8 387.1h0M403.2 387.5h0M479.7 370.9h0M478.5 372.1h0M443.5 357.7h0M445.1 357.3h0M474.2 323.2h0M472.7 323.6h0M424.2 329.4h0M423 330.5h0M490 363.3h0M491.6 363h0M395.8 323.3h0M395 321.9h0M428.1 390.8h0M427.9 389.2h0M427.7 307.6h0M428.5 309h0M444.4 385h0M443 384.2h0M424.5 353.6h0M426.1 354.1h0M388.3 378.8h0M389.8 378.2h0M416.8 339.9h0M415.8 341.1h0M392.7 390h0M393.9 391.1h0M433.3 312.2h0M432.8 310.6h0M488.9 413.4h0M487.3 413.3h0M457.8 415.5h0M456.1 415.2h0M489.6 372.4h0M488 372h0M414.8 370.9h0M413.2 370.7h0M411.2 398h0M410 397h0M468.5 407.4h0M467.8 408.9h0M388.4 337.9h0M388.4 336.3h0M430.9 305.3h0M432.3 304.5h0M396.6 401.5h0M398.2 402h0M416.9 372.9h0M415.4 372.1h0M480.9 357.8h0M481.7 356.3h0M438.3 333h0M437.4 331.7h0M485.5 394.6h0M487.1 394.3h0M386.4 371h0M386.2 372.7h0M386 339.3h0M384.9 340.4h0M485.9 337.4h0M484.5 338.3h0M415.9 340.5h0M414.5 339.8h0M439.8 374.3h0M440.5 375.8h0M466.4 379.1h0M464.8 379.2h0M421.6 351.9h0M423.1 352.5h0M382 366.8h0M383.6 366.9h0M448 401.5h0M448.8 402.9h0M385.8 407.1h0M384.9 405.7h0M412.9 354.3h0M412.4 355.8h0M414.9 328.2h0M414.4 326.7h0M382.4 339.1h0M382.2 337.5h0M478 394.3h0M476.4 394.5h0M440.7 393h0M439.2 393.6h0M398.8 370.6h0M398.8 368.9h0M478.4 360h0M478 361.5h0M441.4 377.3h0M440 378.2h0M444.6 345h0M445.2 343.5h0M417.5 390.4h0M417.2 388.8h0M427.4 388.7h0M428.8 387.8h0M423.2 367.6h0M421.8 368.4h0M445.3 303.1h0M446.7 304.1h0M404.7 316.1h0M406.2 315.5h0M453 399.6h0M453.5 401.1h0M394.6 329.3h0M396.1 328.5h0M482.6 350.1h0M484.1 350.6h0M420.6 384.2h0M419.2 385.1h0M416.4 370.9h0M417.4 372.1h0M430.6 323.4h0M432.2 323.1h0M490.4 360.2h0M492 360.2h0M474.5 386.9h0M474.6 388.5h0M454.6 364.5h0M454.3 366.1h0M464.6 366.5h0M463 366h0M400.2 345h0M399 346.1h0M476.4 376.8h0M478 376.8h0M417.8 317.5h0M416.2 317.8h0M454.4 348.6h0M452.9 349.2h0M451.4 347.7h0M452 349.2h0M473.5 303.1h0M472.2 304h0M435.6 319.7h0M436.5 318.4h0M479.2 340h0M477.7 339.6h0M459.8 318.2h0M458.7 319.4h0M471.8 395.2h0M473.3 394.6h0M414.4 394.1h0M412.7 393.9h0M452.9 316.2h0M451.6 317.1h0M488 413.2h0M486.8 414.3h0M423.6 338.5h0M424.9 339.5h0M417.4 398.2h0M416.8 399.8h0M400.5 307.9h0M400 306.3h0M422.5 391.1h0M423.7 389.9h0M425.5 410.4h0M424.2 411.4h0M391 304.1h0M389.7 305.1h0M480.6 382.1h0M479.7 383.4h0M405.7 403.4h0M404.2 403h0M436.9 408.5h0M438.2 407.5h0M386 362h0M386.5 360.4h0M438.1 325h0M437.3 323.5h0M461.8 312.5h0M460.2 313h0M488.2 347.5h0M487.6 346h0M423.6 370.1h0M422.1 370.8h0M444.1 415.5h0M445.3 414.4h0M484.4 409.5h0M484.9 408h0M418.7 306.6h0M420 305.7h0M477.4 413.3h0M479 413.7h0M390.1 380.9h0M388.5 381h0M425.7 379.2h0M427.4 379.2h0M453.3 351.6h0M454.8 351.1h0M465.3 403.9h0M463.8 403.3h0M422.5 380h0M421.1 380.8h0M423.9 338.4h0M423.1 339.9h0M419.4 353.5h0M419.5 355.1h0M398.3 370.1h0M396.8 370.8h0M395.3 402.2h0M393.7 401.9h0M388.5 328.4h0M388.1 330h0M394 400h0M393.6 398.5h0M403.7 327.6h0M404.7 328.9h0M450 350.5h0M448.5 349.8h0M383 359.2h0M383.2 360.8h0M393 331h0M393.8 329.6h0M454.5 308.9h0M452.9 308.8h0M463.1 361.8h0M461.9 362.9h0M403.7 345.1h0M403.8 343.5h0M458.8 322.8h0M460.4 322.8h0M404.4 340.1h0M404.6 338.5h0M463.2 388.7h0M464.8 388.5h0M411.4 325.1h0M411.8 323.5h0M476.1 408.9h0M475.7 410.5h0M470.1 337.7h0M468.7 338.5h0M436 361.7h0M434.5 361.2h0M469.1 368.4h0M467.6 367.8h0M461.3 369h0M462.1 370.4h0M407.4 401.7h0M408.4 403h0M411.8 371.2h0M410.5 370.2h0M431.1 378.8h0M431.3 380.4h0M455 343.6h0M453.6 342.8h0M452.1 377.1h0M453.3 378.2h0M470.4 384h0M469.7 385.5h0M446.5 322.2h0M446.2 320.6h0M398.8 387.5h0M400.1 388.4h0M382.4 373.9h0M383.9 373.6h0M413.7 393.7h0M412.6 392.5h0M464.1 330.4h0M465.7 330.5h0M424.2 335.1h0M425.2 336.4h0M434.3 412.5h0M432.7 412.2h0M440.2 331.9h0M440.2 333.5h0M464.7 347.9h0M463.7 346.6h0M402.3 312.7h0M403.9 312.7h0M486.3 329.8h0M487.8 329.1h0M415.4 378.6h0M416.6 379.7h0M480.2 366.4h0M479.5 367.8h0M383.7 391.6h0M382.1 391.9h0M432.9 309.9h0M434.4 310.6h0M417.8 347.8h0M417 349.2h0M430.1 348.9h0M429.3 347.4h0M388.6 315.4h0M389.8 316.5h0M437.5 303.7h0M437.3 305.4h0M398.4 329h0M399.4 327.7h0M476.2 377.7h0M474.9 376.7h0M414.8 345.9h0M413.4 345.1h0M466.5 331h0M467.7 329.9h0M387.9 334.5h0M387 333.2h0M461.3 402.3h0M462.7 403.1h0M442.3 387.1h0M443.9 387.5h0M386.8 366.6h0M385.2 367h0M400.9 382.8h0M402.5 383h0M383.9 316.3h0M382.5 317h0M459.8 416.5h0M458.2 416.3h0M451.9 397.5h0M453.1 398.5h0M449.9 390.8h0M448.3 390.8h0M485.6 368.6h0M486.2 370.1h0M472.7 344.6h0M472.7 346.2h0M402.5 401.2h0M401 401.7h0M434.7 307.4h0M435 305.8h0M485.3 378.4h0M484.1 377.4h0M472.4 372.2h0M472 370.6h0M393.3 320.9h0M394.2 319.6h0M418.1 332.6h0M416.9 331.5h0M409.4 385.8h0M408.7 384.3h0M483.1 354.8h0M483.7 353.3h0M417.2 403.5h0M415.7 402.8h0M411.5 359.7h0M413.1 359.2h0M410.2 385.2h0M410.2 383.5h0M457.5 323.2h0M458.7 322.1h0M473.6 349.1h0M474.3 350.6h0M429.7 336.1h0M430.7 337.3h0M471.9 401.4h0M470.3 401.7h0M451.5 396.8h0M452.1 398.3h0M427.7 405.1h0M426.1 404.6h0M438 340.8h0M437.6 342.3h0M448.2 377.7h0M449.6 378.5h0M389.4 326.2h0M389.6 324.6h0M437 329.3h0M437.6 327.8h0M413.9 358.1h0M414.8 359.4h0M401.3 373.5h0M401.5 371.9h0M425.7 306.7h0M424.1 306.1h0M474.3 408.7h0M472.7 408.4h0M463 330.2h0M461.6 329.5h0M417.9 396.7h0M417.6 395.1h0M403 373.2h0M403.6 374.7h0M484.9 375.3h0M486.5 375h0M474.6 386.4h0M474.5 388.1h0M454.7 307.4h0M455.3 308.8h0M491.6 394.5h0M391.4 378.5h0M391.6 380.1h0M469.8 316.4h0M470.7 315.1h0M386.8 383.5h0M388.4 383.7h0M428.4 365.9h0M429.5 364.6h0M386.7 332.9h0M388.1 333.7h0M424.4 411h0M425.3 412.4h0M414.4 324.8h0M414.9 326.4h0M463.4 311.2h0M462.6 309.8h0M468.1 322.5h0M469.1 321.2h0M447.9 336.2h0M449.6 336.1h0M467.1 400.9h0M465.5 401.3h0M467.8 375.4h0M467 376.8h0M426.5 387.9h0M427.6 386.7h0M486.7 315.8h0M486.2 314.2h0M446 402.1h0M447 400.9h0M473.3 390.7h0M472.4 392.1h0M436.5 394.8h0M437.3 396.2h0M387.6 395.8h0M389.2 395.9h0M480.7 316.5h0M482.1 317.4h0M385.4 411.7h0M387.1 411.8h0M387.8 384.4h0M387.4 386h0M488.7 362.9h0M487.8 361.6h0M412.2 401.6h0M410.6 401.5h0M428.4 411.3h0M430 411.5h0M397.1 380.5h0M398.7 380.2h0M474.6 327.5h0M473.9 329h0M463 310.4h0M462.3 311.8h0M475.6 316.8h0M474.1 317.4h0M386.9 380.1h0M385.8 379h0M418.5 380h0M417.4 378.8h0M435.9 346.7h0M434.6 347.7h0M479.1 337.2h0M478.3 338.7h0M416.3 346.8h0M414.8 347.4h0M452 341h0M450.8 340h0M475.6 322.6h0M475.6 320.9h0M407.3 397.2h0M408.7 396.4h0M387.3 345.6h0M388.5 344.5h0M382.2 414.1h0M383.2 415.4h0M392.7 332.3h0M393.6 333.6h0M394.4 393h0M395.8 393.7h0M415.1 410.5h0M413.6 411.1h0M398.3 309.6h0M398.6 308h0M401.9 323.6h0M400.2 323.7h0M403.6 403.2h0M402 403.2h0M399.4 324.4h0M398.1 325.4h0M407.2 311.3h0M405.7 312.1h0M405 310.7h0M405.7 309.3h0M382.8 317.2h0M478.9 363.6h0M477.5 362.9h0M419 318.1h0M420.6 318.4h0M451.8 338.9h0M453.4 338.3h0M390 399.2h0M391.6 398.9h0M483.3 410.4h0M484.3 411.7h0M382.8 356.4h0M384 357.5h0M410.6 381.5h0M409.4 382.7h0M437.1 348.5h0M438.3 347.5h0M418.7 347.6h0M420.3 347.3h0M403.8 389.4h0M402.9 388.1h0M449.1 386.2h0M448.8 384.6h0M470.1 407.5h0M469.4 406h0M452.2 344.8h0M452 346.5h0M483.1 352.3h0M484.1 353.6h0M460.5 338.5h0M459.2 337.5h0M430.2 328.3h0M430 330h0M404.2 347h0M402.7 346.4h0M437.1 380.6h0M436.7 382.1h0M453.2 345.5h0M454.4 346.5h0M484.2 394.2h0M485.5 393.2h0M415.4 370h0M414.8 368.5h0M391.3 361.8h0M389.7 361.6h0M437.3 386.3h0M438.8 387h0M482.6 332.5h0M482.5 334.1h0M468.3 313.2h0M469.4 312h0M484.1 355.7h0M482.5 356.1h0M438.4 397.9h0M436.8 397.5h0M467.4 335h0M468.7 336h0M487.7 321.4h0M486.6 322.6h0M409.9 408.7h0M409.7 407.1h0M440.6 413.2h0M442 414.1h0M432.2 304h0M432.7 302.4h0M407.4 363.6h0M408.9 363.9h0M407.9 347.2h0M409.1 348.3h0M438.7 367h0M439.8 368.2h0M426.5 305.6h0M428.1 305.3h0M460 385.7h0M458.6 385h0M463.2 402.7h0M463.4 404.4h0M481.4 309.8h0M482 311.3h0M490.7 340.4h0M490.2 341.9h0M477.7 380.4h0M479.1 379.7h0M467.9 317.2h0M467 318.6h0M408.1 306.7h0M409 305.4h0M422 390.1h0M423.5 390.8h0M393.6 358.9h0M395.1 359.3h0M447.3 327h0M448.9 326.9h0M395.8 345.8h0M395.2 347.3h0M483 337.1h0M482 335.8h0M395 329.3h0M396.6 329.1h0M433.1 339.3h0M431.8 340.3h0M445.2 355h0M443.8 354.1h0M417.6 330.8h0M416.1 331.4h0M410.2 380.2h0M409.6 378.7h0M485.2 350.7h0M484.6 352.2h0M404.1 410.7h0M402.8 409.7h0M398.1 328.3h0M397.2 327h0M474.9 364.9h0M475.7 363.5h0M403.4 313.2h0M404.1 314.6h0M406.5 316.8h0M408.1 316.5h0M462 332.7h0M463 331.4h0"/></defs>
<use href="#ww9" stroke="#c4c4c4" stroke-width="1.40"/>
<use href="#ww9" stroke="#f6f6f6" stroke-width="0.70"/>
<path d="M394.3 327.6h0M401.7 330.4h0M397.7 330.5h0M437.9 343.7h0M438.9 346.4h0M440.1 348.1h0M459.5 340.8h0M453.9 332.8h0M457.7 333.6h0M392.8 384.2h0M391.5 381.7h0M393.4 377.1h0M411.6 402.7h0M413.7 412.9h0M408.8 411.5h0M481.9 387.8h0M473.3 384h0M481.1 392h0" stroke="#2434c8" stroke-width="1.33"/>
<path d="M427.1 297.4h0M411.7 289.9h0M459.1 290.1h0M491.5 297.6h0M402.2 286.3h0M448.2 288.1h0M437.3 295.6h0M471.5 292.2h0M442.4 299h0M396.7 291.4h0M471.6 291.7h0M485.1 287.3h0M413.1 424.2h0M462.7 417.5h0M385.2 422.8h0M407.3 427h0M472.1 429.7h0M491.3 430.5h0M408.4 424.9h0M396.2 424.6h0M459.5 425.9h0M490.8 422.3h0M398.6 324h0M442.1 340.5h0M459.4 336.6h0M399.3 380.8h0M405.8 399.8h0M474 388.5h0" stroke="#e6d21e" stroke-width="1.51"/>
</g>
<line x1="380.8" y1="297" x2="493.8" y2="297" stroke="#444" stroke-width="0.8" opacity="0.8"/>
<line x1="380.8" y1="284.3" x2="493.8" y2="284.3" stroke="#8a8a8a" stroke-width="1"/>
<line x1="380.8" y1="434" x2="493.8" y2="434" stroke="#8a8a8a" stroke-width="1"/>
<line x1="22.1" y1="31" x2="33.1" y2="31" stroke="#bbb" stroke-width="1" stroke-dasharray="2,1.5"/>
<line x1="22.1" y1="106" x2="33.1" y2="106" stroke="#bbb" stroke-width="1" stroke-dasharray="2,1.5"/>
<line x1="28.1" y1="35" x2="28.1" y2="102" stroke="#999" stroke-width="0.9" stroke-dasharray="3,2"/>
<path d="M28.1,31.8L30.1,35.5L26.1,35.5Z" fill="#888"/>
<path d="M28.1,105.2L30.1,101.5L26.1,101.5Z" fill="#888"/>
<text transform="translate(25,69) rotate(-90)" font-size="16" text-anchor="middle" fill="#111">1.25 nm</text>
<line x1="20.3" y1="156" x2="31.3" y2="156" stroke="#bbb" stroke-width="1" stroke-dasharray="2,1.5"/>
<line x1="20.3" y1="254" x2="31.3" y2="254" stroke="#bbb" stroke-width="1" stroke-dasharray="2,1.5"/>
<line x1="26.3" y1="160" x2="26.3" y2="250" stroke="#999" stroke-width="0.9" stroke-dasharray="3,2"/>
<path d="M26.3,156.8L28.3,160.5L24.3,160.5Z" fill="#888"/>
<path d="M26.3,253.2L28.3,249.5L24.3,249.5Z" fill="#888"/>
<text transform="translate(24.5,202) rotate(-90)" font-size="16" text-anchor="middle" fill="#111">5 nm</text>
<line x1="18.7" y1="292.2" x2="29.7" y2="292.2" stroke="#bbb" stroke-width="1" stroke-dasharray="2,1.5"/>
<line x1="18.7" y1="425.2" x2="29.7" y2="425.2" stroke="#bbb" stroke-width="1" stroke-dasharray="2,1.5"/>
<line x1="24.7" y1="296.2" x2="24.7" y2="421.2" stroke="#999" stroke-width="0.9" stroke-dasharray="3,2"/>
<path d="M24.7,293.0L26.7,296.7L22.7,296.7Z" fill="#888"/>
<path d="M24.7,424.4L26.7,420.7L22.7,420.7Z" fill="#888"/>
<text transform="translate(24.2,355) rotate(-90)" font-size="16" text-anchor="middle" fill="#111">10 nm</text>
<text x="156.3" y="66.4" font-size="16" text-anchor="start" font-weight="normal" fill="#000" >20 ps</text>
<path d="M153,71.94999999999999H194.7V70.1L199.2,73.6L194.7,77.1V75.25H153Z" fill="#4a90d9"/>
<text x="333" y="64.4" font-size="16" text-anchor="start" font-weight="normal" fill="#000" >20 ps</text>
<path d="M330,69.94999999999999H371.5V68.1L376,71.6L371.5,75.1V73.25H330Z" fill="#4a90d9"/>
<text x="155.2" y="203.9" font-size="16" text-anchor="start" font-weight="normal" fill="#000" >20 ps</text>
<path d="M151.9,208.95H193.5V207.1L198,210.6L193.5,214.1V212.25H151.9Z" fill="#4a90d9"/>
<text x="330.8" y="205.70000000000002" font-size="16" text-anchor="start" font-weight="normal" fill="#000" >20 ps</text>
<path d="M327.5,211.15H369.1V209.3L373.6,212.8L369.1,216.3V214.45000000000002H327.5Z" fill="#4a90d9"/>
<text x="155.5" y="350.4" font-size="16" text-anchor="start" font-weight="normal" fill="#000" >20 ps</text>
<path d="M151.7,355.55H193.5V353.7L198,357.2L193.5,360.7V358.84999999999997H151.7Z" fill="#4a90d9"/>
<text x="332" y="350.4" font-size="16" text-anchor="start" font-weight="normal" fill="#000" >20 ps</text>
<path d="M328.2,355.55H370.6V353.7L375.1,357.2L370.6,360.7V358.84999999999997H328.2Z" fill="#4a90d9"/>
<path d="M499.2,71.8H518.8V70.0L523.3,73.5L518.8,77.0V75.2H499.2Z" fill="#f2a27c"/>
<path d="M496.8,213.3H515.9V211.5L520.4,215L515.9,218.5V216.7H496.8Z" fill="#f2a27c"/>
<path d="M497.1,359.90000000000003H516.8V358.1L521.3,361.6L516.8,365.1V363.3H497.1Z" fill="#f2a27c"/>
<rect x="551.5" y="14.5" width="126.79999999999995" height="102.3" fill="none" stroke="#333" stroke-width="1.1"/>
<line x1="548.9" y1="107.5" x2="551.5" y2="107.5" stroke="#333" stroke-width="1"/>
<text x="547.9" y="111.208" font-size="10.3" text-anchor="end" font-weight="normal" fill="#111" >1</text>
<line x1="548.9" y1="88.9" x2="551.5" y2="88.9" stroke="#333" stroke-width="1"/>
<text x="547.9" y="92.608" font-size="10.3" text-anchor="end" font-weight="normal" fill="#111" >2</text>
<line x1="548.9" y1="70.30000000000001" x2="551.5" y2="70.30000000000001" stroke="#333" stroke-width="1"/>
<text x="547.9" y="74.00800000000001" font-size="10.3" text-anchor="end" font-weight="normal" fill="#111" >3</text>
<line x1="548.9" y1="51.7" x2="551.5" y2="51.7" stroke="#333" stroke-width="1"/>
<text x="547.9" y="55.408" font-size="10.3" text-anchor="end" font-weight="normal" fill="#111" >4</text>
<line x1="548.9" y1="33.1" x2="551.5" y2="33.1" stroke="#333" stroke-width="1"/>
<text x="547.9" y="36.808" font-size="10.3" text-anchor="end" font-weight="normal" fill="#111" >5</text>
<line x1="548.9" y1="14.5" x2="551.5" y2="14.5" stroke="#333" stroke-width="1"/>
<text x="547.9" y="18.208" font-size="10.3" text-anchor="end" font-weight="normal" fill="#111" >6</text>
<line x1="550.0" y1="98.2" x2="551.5" y2="98.2" stroke="#333" stroke-width="1"/>
<line x1="550.0" y1="79.60000000000001" x2="551.5" y2="79.60000000000001" stroke="#333" stroke-width="1"/>
<line x1="550.0" y1="61.0" x2="551.5" y2="61.0" stroke="#333" stroke-width="1"/>
<line x1="550.0" y1="42.400000000000006" x2="551.5" y2="42.400000000000006" stroke="#333" stroke-width="1"/>
<line x1="550.0" y1="23.8" x2="551.5" y2="23.8" stroke="#333" stroke-width="1"/>
<line x1="561.3" y1="116.8" x2="561.3" y2="119.2" stroke="#333" stroke-width="1"/>
<line x1="580.8" y1="116.8" x2="580.8" y2="119.2" stroke="#333" stroke-width="1"/>
<line x1="600.3" y1="116.8" x2="600.3" y2="119.2" stroke="#333" stroke-width="1"/>
<line x1="619.8" y1="116.8" x2="619.8" y2="119.2" stroke="#333" stroke-width="1"/>
<line x1="639.3" y1="116.8" x2="639.3" y2="119.2" stroke="#333" stroke-width="1"/>
<line x1="658.8" y1="116.8" x2="658.8" y2="119.2" stroke="#333" stroke-width="1"/>
<line x1="678.3" y1="116.8" x2="678.3" y2="119.2" stroke="#333" stroke-width="1"/>
<line x1="551.55" y1="116.8" x2="551.55" y2="118.3" stroke="#333" stroke-width="1"/>
<line x1="571.05" y1="116.8" x2="571.05" y2="118.3" stroke="#333" stroke-width="1"/>
<line x1="590.55" y1="116.8" x2="590.55" y2="118.3" stroke="#333" stroke-width="1"/>
<line x1="610.05" y1="116.8" x2="610.05" y2="118.3" stroke="#333" stroke-width="1"/>
<line x1="629.55" y1="116.8" x2="629.55" y2="118.3" stroke="#333" stroke-width="1"/>
<line x1="649.05" y1="116.8" x2="649.05" y2="118.3" stroke="#333" stroke-width="1"/>
<line x1="668.55" y1="116.8" x2="668.55" y2="118.3" stroke="#333" stroke-width="1"/>
<text x="561.3" y="129.4" font-size="10.3" text-anchor="middle" font-weight="normal" fill="#111" >0</text>
<text x="580.8" y="129.4" font-size="10.3" text-anchor="middle" font-weight="normal" fill="#111" >5</text>
<text x="600.3" y="129.4" font-size="10.3" text-anchor="middle" font-weight="normal" fill="#111" >10</text>
<text x="619.8" y="129.4" font-size="10.3" text-anchor="middle" font-weight="normal" fill="#111" >15</text>
<text x="639.3" y="129.4" font-size="10.3" text-anchor="middle" font-weight="normal" fill="#111" >20</text>
<text x="658.8" y="129.4" font-size="10.3" text-anchor="middle" font-weight="normal" fill="#111" >25</text>
<text x="678.3" y="129.4" font-size="10.3" text-anchor="middle" font-weight="normal" fill="#111" >30</text>
<text transform="translate(537.6,131) rotate(-90)" font-size="11.6" fill="#111">Mass Density (10<tspan font-size="6.96" dy="-4.4079999999999995">-2</tspan><tspan dy="4.4079999999999995"> g/cm</tspan><tspan font-size="6.96" dy="-4.4079999999999995">3</tspan><tspan dy="4.4079999999999995">)</tspan></text>
<text x="612.3" y="140.2" font-size="11.2" text-anchor="middle" font-weight="normal" fill="#111" >Distance (Å)</text>
<path d="M562.68,78.97C563.08,79.91 564.25,81.95 565.12,84.62C566.00,87.29 567.01,92.00 567.95,94.98C568.89,97.96 569.68,100.69 570.77,102.51C571.87,104.33 573.28,105.59 574.54,105.90C575.80,106.22 577.21,105.43 578.31,104.40C579.41,103.36 580.19,102.20 581.13,99.69C582.07,97.18 583.02,94.19 583.96,89.33C584.90,84.46 586.00,76.77 586.78,70.50C587.57,64.22 588.04,57.94 588.66,51.66C589.29,45.39 589.92,37.70 590.55,32.83C591.18,27.97 591.87,24.42 592.43,22.47C593.00,20.53 593.37,20.84 593.94,21.16C594.50,21.47 595.19,21.78 595.82,24.36C596.45,26.93 597.08,32.05 597.70,36.60C598.33,41.15 598.90,46.33 599.59,51.66C600.28,57.00 601.00,63.28 601.85,68.61C602.69,73.95 603.73,79.60 604.67,83.68C605.61,87.76 606.40,90.27 607.50,93.10C608.60,95.92 609.85,98.59 611.26,100.63C612.68,102.67 614.40,104.33 615.97,105.34C617.54,106.34 619.27,106.75 620.68,106.66C622.09,106.56 623.35,105.78 624.45,104.77C625.54,103.77 626.33,102.89 627.27,100.63C628.21,98.37 629.15,95.61 630.10,91.21C631.04,86.82 631.98,80.23 632.92,74.26C633.86,68.30 634.80,61.08 635.75,55.43C636.69,49.78 637.69,44.07 638.57,40.37C639.45,36.66 640.23,33.99 641.02,33.21C641.80,32.42 642.43,33.21 643.28,35.66C644.13,38.11 645.16,43.03 646.10,47.90C647.05,52.76 647.99,59.83 648.93,64.85C649.87,69.87 650.65,74.26 651.75,78.03C652.85,81.80 654.26,85.41 655.52,87.45C656.78,89.49 658.03,90.43 659.29,90.27C660.54,90.11 661.89,88.07 663.05,86.50C664.21,84.94 665.16,82.42 666.25,80.85C667.35,79.29 669.08,77.72 669.64,77.09" fill="none" stroke="#5b55a3" stroke-width="1.9" stroke-linejoin="round" stroke-linecap="round"/>
<line x1="621.6" y1="24.7" x2="646.1" y2="24.7" stroke="#5b55a3" stroke-width="2"/>
<text x="650.2" y="29.1" font-size="11" text-anchor="start" font-weight="normal" fill="#5b55a3" >PMS</text>
<rect x="551.3" y="153.4" width="127.10000000000002" height="105.49999999999997" fill="none" stroke="#333" stroke-width="1.1"/>
<line x1="548.6999999999999" y1="258.9" x2="551.3" y2="258.9" stroke="#333" stroke-width="1"/>
<text x="547.6999999999999" y="262.78799999999995" font-size="10.8" text-anchor="end" font-weight="normal" fill="#111" >0</text>
<line x1="548.6999999999999" y1="241.34999999999997" x2="551.3" y2="241.34999999999997" stroke="#333" stroke-width="1"/>
<text x="547.6999999999999" y="245.23799999999997" font-size="10.8" text-anchor="end" font-weight="normal" fill="#111" >1</text>
<line x1="548.6999999999999" y1="223.79999999999998" x2="551.3" y2="223.79999999999998" stroke="#333" stroke-width="1"/>
<text x="547.6999999999999" y="227.688" font-size="10.8" text-anchor="end" font-weight="normal" fill="#111" >2</text>
<line x1="548.6999999999999" y1="206.24999999999997" x2="551.3" y2="206.24999999999997" stroke="#333" stroke-width="1"/>
<text x="547.6999999999999" y="210.13799999999998" font-size="10.8" text-anchor="end" font-weight="normal" fill="#111" >3</text>
<line x1="548.6999999999999" y1="188.7" x2="551.3" y2="188.7" stroke="#333" stroke-width="1"/>
<text x="547.6999999999999" y="192.588" font-size="10.8" text-anchor="end" font-weight="normal" fill="#111" >4</text>
<line x1="548.6999999999999" y1="171.14999999999998" x2="551.3" y2="171.14999999999998" stroke="#333" stroke-width="1"/>
<text x="547.6999999999999" y="175.03799999999998" font-size="10.8" text-anchor="end" font-weight="normal" fill="#111" >5</text>
<line x1="548.6999999999999" y1="153.59999999999997" x2="551.3" y2="153.59999999999997" stroke="#333" stroke-width="1"/>
<text x="547.6999999999999" y="157.48799999999997" font-size="10.8" text-anchor="end" font-weight="normal" fill="#111" >6</text>
<line x1="549.8" y1="250.12499999999997" x2="551.3" y2="250.12499999999997" stroke="#333" stroke-width="1"/>
<line x1="549.8" y1="232.575" x2="551.3" y2="232.575" stroke="#333" stroke-width="1"/>
<line x1="549.8" y1="215.02499999999998" x2="551.3" y2="215.02499999999998" stroke="#333" stroke-width="1"/>
<line x1="549.8" y1="197.47499999999997" x2="551.3" y2="197.47499999999997" stroke="#333" stroke-width="1"/>
<line x1="549.8" y1="179.92499999999995" x2="551.3" y2="179.92499999999995" stroke="#333" stroke-width="1"/>
<line x1="549.8" y1="162.37499999999997" x2="551.3" y2="162.37499999999997" stroke="#333" stroke-width="1"/>
<line x1="559.5" y1="258.9" x2="559.5" y2="261.29999999999995" stroke="#333" stroke-width="1"/>
<line x1="591.2" y1="258.9" x2="591.2" y2="261.29999999999995" stroke="#333" stroke-width="1"/>
<line x1="622.9" y1="258.9" x2="622.9" y2="261.29999999999995" stroke="#333" stroke-width="1"/>
<line x1="654.6" y1="258.9" x2="654.6" y2="261.29999999999995" stroke="#333" stroke-width="1"/>
<line x1="551.575" y1="258.9" x2="551.575" y2="260.4" stroke="#333" stroke-width="1"/>
<line x1="575.35" y1="258.9" x2="575.35" y2="260.4" stroke="#333" stroke-width="1"/>
<line x1="607.05" y1="258.9" x2="607.05" y2="260.4" stroke="#333" stroke-width="1"/>
<line x1="638.75" y1="258.9" x2="638.75" y2="260.4" stroke="#333" stroke-width="1"/>
<line x1="670.45" y1="258.9" x2="670.45" y2="260.4" stroke="#333" stroke-width="1"/>
<text x="559.5" y="271.7" font-size="11.4" text-anchor="middle" font-weight="normal" fill="#111" >0</text>
<text x="591.2" y="271.7" font-size="11.4" text-anchor="middle" font-weight="normal" fill="#111" >20</text>
<text x="622.9" y="271.7" font-size="11.4" text-anchor="middle" font-weight="normal" fill="#111" >40</text>
<text x="654.6" y="271.7" font-size="11.4" text-anchor="middle" font-weight="normal" fill="#111" >60</text>
<text transform="translate(537.6,272.5) rotate(-90)" font-size="11.6" fill="#111">Mass Density (10<tspan font-size="6.96" dy="-4.4079999999999995">-2</tspan><tspan dy="4.4079999999999995"> g/cm</tspan><tspan font-size="6.96" dy="-4.4079999999999995">3</tspan><tspan dy="4.4079999999999995">)</tspan></text>
<text x="615" y="282.3" font-size="11.2" text-anchor="middle" font-weight="normal" fill="#111" >Distance (Å)</text>
<path d="M559.66,204.22C559.85,204.79 560.42,204.85 560.79,207.61C561.17,210.38 561.51,216.09 561.92,220.80C562.33,225.50 562.80,231.84 563.24,235.86C563.68,239.88 564.15,243.18 564.56,244.90C564.97,246.63 565.28,246.63 565.69,246.22C566.10,245.81 566.57,245.44 567.01,242.45C567.45,239.47 567.85,233.51 568.33,228.33C568.80,223.15 569.36,215.05 569.83,211.38C570.30,207.71 570.74,206.77 571.15,206.30C571.56,205.82 571.87,205.82 572.28,208.56C572.69,211.29 573.13,218.13 573.60,222.68C574.07,227.23 574.57,232.10 575.11,235.86C575.64,239.63 576.17,243.08 576.80,245.28C577.43,247.48 578.15,248.04 578.87,249.05C579.59,250.05 580.35,250.68 581.13,251.31C581.92,251.93 582.80,252.87 583.58,252.81C584.36,252.75 585.15,252.03 585.84,250.93C586.53,249.83 587.10,247.79 587.72,246.22C588.35,244.65 588.98,242.61 589.61,241.51C590.23,240.41 590.77,239.94 591.49,239.63C592.21,239.32 593.15,240.10 593.94,239.63C594.72,239.16 595.44,237.65 596.20,236.80C596.95,235.96 597.77,234.64 598.46,234.54C599.15,234.45 599.71,235.33 600.34,236.24C600.97,237.15 601.50,238.81 602.22,240.01C602.95,241.20 603.86,242.61 604.67,243.40C605.49,244.18 606.34,244.87 607.12,244.71C607.91,244.56 608.69,243.46 609.38,242.45C610.07,241.45 610.54,239.79 611.26,238.69C611.99,237.59 612.93,236.02 613.71,235.86C614.50,235.71 615.22,236.99 615.97,237.75C616.73,238.50 617.51,240.07 618.23,240.38C618.95,240.70 619.58,239.44 620.30,239.63C621.03,239.82 621.81,241.04 622.56,241.51C623.32,241.98 624.04,242.36 624.82,242.45C625.61,242.55 626.46,242.55 627.27,242.08C628.09,241.61 629.00,240.45 629.72,239.63C630.44,238.81 630.97,237.24 631.60,237.18C632.23,237.12 632.80,238.28 633.49,239.25C634.18,240.23 634.99,242.20 635.75,243.02C636.50,243.83 637.32,244.15 638.01,244.15C638.70,244.15 639.17,243.33 639.89,243.02C640.61,242.70 641.55,242.30 642.34,242.27C643.12,242.23 643.91,243.58 644.60,242.83C645.29,242.08 645.92,240.48 646.48,237.75C647.05,235.02 647.52,229.65 647.99,226.45C648.46,223.24 648.90,220.11 649.31,218.54C649.71,216.97 650.03,216.65 650.44,217.03C650.84,217.41 651.28,217.66 651.75,220.80C652.22,223.94 652.73,231.47 653.26,235.86C653.79,240.26 654.36,244.65 654.95,247.16C655.55,249.67 656.21,250.46 656.84,250.93C657.47,251.40 658.16,251.56 658.72,249.99C659.29,248.42 659.73,245.44 660.23,241.51C660.73,237.59 661.23,232.03 661.73,226.45C662.24,220.86 662.99,211.07 663.24,207.99" fill="none" stroke="#1fa5a5" stroke-width="1.9" stroke-linejoin="round" stroke-linecap="round"/>
<line x1="620.7" y1="163.9" x2="646.1" y2="163.9" stroke="#1fa5a5" stroke-width="2"/>
<text x="650.0" y="168.1" font-size="11" text-anchor="start" font-weight="normal" fill="#1fa5a5" >PMS</text>
<rect x="550.6" y="305.5" width="129.60000000000002" height="107.89999999999998" fill="none" stroke="#333" stroke-width="1.1"/>
<line x1="548.0" y1="413.4" x2="550.6" y2="413.4" stroke="#333" stroke-width="1"/>
<text x="547.0" y="417.35999999999996" font-size="11.0" text-anchor="end" font-weight="normal" fill="#111" >0</text>
<line x1="548.0" y1="395.41999999999996" x2="550.6" y2="395.41999999999996" stroke="#333" stroke-width="1"/>
<text x="547.0" y="399.37999999999994" font-size="11.0" text-anchor="end" font-weight="normal" fill="#111" >1</text>
<line x1="548.0" y1="377.44" x2="550.6" y2="377.44" stroke="#333" stroke-width="1"/>
<text x="547.0" y="381.4" font-size="11.0" text-anchor="end" font-weight="normal" fill="#111" >2</text>
<line x1="548.0" y1="359.46" x2="550.6" y2="359.46" stroke="#333" stroke-width="1"/>
<text x="547.0" y="363.41999999999996" font-size="11.0" text-anchor="end" font-weight="normal" fill="#111" >3</text>
<line x1="548.0" y1="341.47999999999996" x2="550.6" y2="341.47999999999996" stroke="#333" stroke-width="1"/>
<text x="547.0" y="345.43999999999994" font-size="11.0" text-anchor="end" font-weight="normal" fill="#111" >4</text>
<line x1="548.0" y1="323.5" x2="550.6" y2="323.5" stroke="#333" stroke-width="1"/>
<text x="547.0" y="327.46" font-size="11.0" text-anchor="end" font-weight="normal" fill="#111" >5</text>
<line x1="548.0" y1="305.52" x2="550.6" y2="305.52" stroke="#333" stroke-width="1"/>
<text x="547.0" y="309.47999999999996" font-size="11.0" text-anchor="end" font-weight="normal" fill="#111" >6</text>
<line x1="549.1" y1="404.40999999999997" x2="550.6" y2="404.40999999999997" stroke="#333" stroke-width="1"/>
<line x1="549.1" y1="386.42999999999995" x2="550.6" y2="386.42999999999995" stroke="#333" stroke-width="1"/>
<line x1="549.1" y1="368.45" x2="550.6" y2="368.45" stroke="#333" stroke-width="1"/>
<line x1="549.1" y1="350.46999999999997" x2="550.6" y2="350.46999999999997" stroke="#333" stroke-width="1"/>
<line x1="549.1" y1="332.49" x2="550.6" y2="332.49" stroke="#333" stroke-width="1"/>
<line x1="549.1" y1="314.51" x2="550.6" y2="314.51" stroke="#333" stroke-width="1"/>
<line x1="560.5" y1="413.4" x2="560.5" y2="415.79999999999995" stroke="#333" stroke-width="1"/>
<line x1="597.68" y1="413.4" x2="597.68" y2="415.79999999999995" stroke="#333" stroke-width="1"/>
<line x1="634.86" y1="413.4" x2="634.86" y2="415.79999999999995" stroke="#333" stroke-width="1"/>
<line x1="672.04" y1="413.4" x2="672.04" y2="415.79999999999995" stroke="#333" stroke-width="1"/>
<line x1="551.205" y1="413.4" x2="551.205" y2="414.9" stroke="#333" stroke-width="1"/>
<line x1="579.09" y1="413.4" x2="579.09" y2="414.9" stroke="#333" stroke-width="1"/>
<line x1="616.27" y1="413.4" x2="616.27" y2="414.9" stroke="#333" stroke-width="1"/>
<line x1="653.45" y1="413.4" x2="653.45" y2="414.9" stroke="#333" stroke-width="1"/>
<text x="560.5" y="427.0" font-size="11.6" text-anchor="middle" font-weight="normal" fill="#111" >0</text>
<text x="597.68" y="427.0" font-size="11.6" text-anchor="middle" font-weight="normal" fill="#111" >40</text>
<text x="634.86" y="427.0" font-size="11.6" text-anchor="middle" font-weight="normal" fill="#111" >80</text>
<text x="672.04" y="427.0" font-size="11.6" text-anchor="middle" font-weight="normal" fill="#111" >120</text>
<text transform="translate(536.8,428.4) rotate(-90)" font-size="11.6" fill="#111">Mass Density (10<tspan font-size="6.96" dy="-4.4079999999999995">-2</tspan><tspan dy="4.4079999999999995"> g/cm</tspan><tspan font-size="6.96" dy="-4.4079999999999995">3</tspan><tspan dy="4.4079999999999995">)</tspan></text>
<text x="577.7" y="439.5" font-size="11.5" fill="#111">Distance<tspan x="630.3">(</tspan><tspan>Å</tspan><tspan dx="1.5">)</tspan></text>
<path d="M560.79,364.32C560.92,366.36 561.30,372.33 561.55,376.56C561.80,380.80 561.99,385.98 562.30,389.75C562.61,393.51 563.05,396.90 563.43,399.16C563.81,401.42 564.18,402.52 564.56,403.31C564.94,404.09 565.28,404.40 565.69,403.87C566.10,403.34 566.57,400.98 567.01,400.10C567.45,399.22 567.92,398.28 568.33,398.60C568.73,398.91 569.05,400.64 569.46,401.99C569.86,403.34 570.30,405.53 570.77,406.69C571.24,407.86 571.75,408.80 572.28,408.95C572.81,409.11 573.44,408.11 573.98,407.64C574.51,407.17 574.92,406.44 575.48,406.13C576.05,405.82 576.74,406.29 577.37,405.75C577.99,405.22 578.62,404.34 579.25,402.93C579.88,401.52 580.50,398.69 581.13,397.28C581.76,395.87 582.39,394.83 583.02,394.45C583.64,394.08 584.27,395.11 584.90,395.02C585.53,394.92 586.22,393.51 586.78,393.89C587.35,394.27 587.82,396.02 588.29,397.28C588.76,398.53 589.17,400.86 589.61,401.42C590.05,401.99 590.45,401.20 590.92,400.67C591.40,400.13 591.93,398.31 592.43,398.22C592.93,398.13 593.47,399.38 593.94,400.10C594.41,400.83 594.72,402.08 595.26,402.55C595.79,403.02 596.51,402.33 597.14,402.93C597.77,403.52 598.39,405.50 599.02,406.13C599.65,406.76 600.28,406.85 600.91,406.69C601.53,406.54 602.16,405.56 602.79,405.19C603.42,404.81 604.04,404.18 604.67,404.44C605.30,404.69 605.93,406.63 606.56,406.69C607.18,406.76 607.81,405.91 608.44,404.81C609.07,403.71 609.79,401.20 610.32,400.10C610.86,399.01 611.17,398.06 611.64,398.22C612.11,398.38 612.64,399.79 613.15,401.05C613.65,402.30 614.18,404.75 614.65,405.75C615.12,406.76 615.53,407.23 615.97,407.07C616.41,406.91 616.82,405.50 617.29,404.81C617.76,404.12 618.29,402.93 618.80,402.93C619.30,402.93 619.74,404.34 620.30,404.81C620.87,405.28 621.56,405.75 622.19,405.75C622.81,405.75 623.54,404.81 624.07,404.81C624.60,404.81 624.92,406.00 625.39,405.75C625.86,405.50 626.36,403.71 626.89,403.31C627.43,402.90 627.99,403.52 628.59,403.31C629.19,403.09 629.84,402.74 630.47,401.99C631.10,401.23 631.73,399.73 632.36,398.79C632.98,397.84 633.61,396.84 634.24,396.34C634.87,395.83 635.56,395.62 636.12,395.77C636.69,395.93 637.06,396.56 637.63,397.28C638.19,398.00 638.88,399.38 639.51,400.10C640.14,400.83 640.77,401.30 641.40,401.61C642.02,401.92 642.65,402.24 643.28,401.99C643.91,401.74 644.47,400.57 645.16,400.10C645.85,399.63 646.79,398.69 647.42,399.16C648.05,399.63 648.43,401.61 648.93,402.93C649.43,404.25 649.87,406.07 650.44,407.07C651.00,408.08 651.69,408.55 652.32,408.95C652.95,409.36 653.57,409.74 654.20,409.52C654.83,409.30 655.46,408.89 656.08,407.64C656.71,406.38 657.43,403.40 657.97,401.99C658.50,400.57 658.85,399.48 659.29,399.16C659.73,398.85 660.13,399.63 660.60,400.10C661.08,400.57 661.61,401.77 662.11,401.99C662.61,402.21 663.18,402.52 663.62,401.42C664.06,400.32 664.37,398.60 664.75,395.40C665.12,392.19 665.50,386.92 665.88,382.21C666.25,377.50 666.82,369.66 667.01,367.15" fill="none" stroke="#1a6db3" stroke-width="1.9" stroke-linejoin="round" stroke-linecap="round"/>
<line x1="620.1" y1="315.7" x2="645.7" y2="315.7" stroke="#1a6db3" stroke-width="2"/>
<text x="650.0" y="320.1" font-size="11" text-anchor="start" font-weight="normal" fill="#1a6db3" >PMS</text>
<rect x="45.3" y="452.3" width="174.8" height="145.3" fill="none" stroke="#333" stroke-width="1.1"/>
<line x1="42.3" y1="584.4" x2="45.3" y2="584.4" stroke="#333" stroke-width="1"/>
<text x="41.0" y="588.6" font-size="11.8" text-anchor="end" font-weight="normal" fill="#111" >0</text>
<line x1="42.3" y1="558.0" x2="45.3" y2="558.0" stroke="#333" stroke-width="1"/>
<text x="41.0" y="562.2" font-size="11.8" text-anchor="end" font-weight="normal" fill="#111" >200</text>
<line x1="42.3" y1="531.6" x2="45.3" y2="531.6" stroke="#333" stroke-width="1"/>
<text x="41.0" y="535.8000000000001" font-size="11.8" text-anchor="end" font-weight="normal" fill="#111" >400</text>
<line x1="42.3" y1="505.2" x2="45.3" y2="505.2" stroke="#333" stroke-width="1"/>
<text x="41.0" y="509.4" font-size="11.8" text-anchor="end" font-weight="normal" fill="#111" >600</text>
<line x1="42.3" y1="478.79999999999995" x2="45.3" y2="478.79999999999995" stroke="#333" stroke-width="1"/>
<text x="41.0" y="482.99999999999994" font-size="11.8" text-anchor="end" font-weight="normal" fill="#111" >800</text>
<line x1="42.3" y1="452.4" x2="45.3" y2="452.4" stroke="#333" stroke-width="1"/>
<text x="41.0" y="456.59999999999997" font-size="11.8" text-anchor="end" font-weight="normal" fill="#111" >1000</text>
<line x1="43.699999999999996" y1="597.6" x2="45.3" y2="597.6" stroke="#333" stroke-width="1"/>
<line x1="43.699999999999996" y1="571.1999999999999" x2="45.3" y2="571.1999999999999" stroke="#333" stroke-width="1"/>
<line x1="43.699999999999996" y1="544.8" x2="45.3" y2="544.8" stroke="#333" stroke-width="1"/>
<line x1="43.699999999999996" y1="518.4" x2="45.3" y2="518.4" stroke="#333" stroke-width="1"/>
<line x1="43.699999999999996" y1="492.0" x2="45.3" y2="492.0" stroke="#333" stroke-width="1"/>
<line x1="43.699999999999996" y1="465.59999999999997" x2="45.3" y2="465.59999999999997" stroke="#333" stroke-width="1"/>
<line x1="62.6" y1="597.6" x2="62.6" y2="600.6" stroke="#333" stroke-width="1"/>
<text x="62.6" y="612.6" font-size="11.8" text-anchor="middle" font-weight="normal" fill="#111" >0</text>
<line x1="97.6" y1="597.6" x2="97.6" y2="600.6" stroke="#333" stroke-width="1"/>
<text x="97.6" y="612.6" font-size="11.8" text-anchor="middle" font-weight="normal" fill="#111" >10</text>
<line x1="132.6" y1="597.6" x2="132.6" y2="600.6" stroke="#333" stroke-width="1"/>
<text x="132.6" y="612.6" font-size="11.8" text-anchor="middle" font-weight="normal" fill="#111" >20</text>
<line x1="167.6" y1="597.6" x2="167.6" y2="600.6" stroke="#333" stroke-width="1"/>
<text x="167.6" y="612.6" font-size="11.8" text-anchor="middle" font-weight="normal" fill="#111" >30</text>
<line x1="202.6" y1="597.6" x2="202.6" y2="600.6" stroke="#333" stroke-width="1"/>
<text x="202.6" y="612.6" font-size="11.8" text-anchor="middle" font-weight="normal" fill="#111" >40</text>
<line x1="45.1" y1="597.6" x2="45.1" y2="599.2" stroke="#333" stroke-width="1"/>
<line x1="80.1" y1="597.6" x2="80.1" y2="599.2" stroke="#333" stroke-width="1"/>
<line x1="115.1" y1="597.6" x2="115.1" y2="599.2" stroke="#333" stroke-width="1"/>
<line x1="150.1" y1="597.6" x2="150.1" y2="599.2" stroke="#333" stroke-width="1"/>
<line x1="185.1" y1="597.6" x2="185.1" y2="599.2" stroke="#333" stroke-width="1"/>
<text x="132.6" y="625.4" font-size="11.8" text-anchor="middle" font-weight="normal" fill="#111" >Time (ps)</text>
<text transform="translate(15.3,525) rotate(-90)" font-size="12" text-anchor="middle" fill="#111">MSD (Å<tspan font-size="7" dy="-4">2</tspan><tspan dy="4">)</tspan></text>
<path d="M62.47,584.32C68.12,584.19 82.17,583.85 96.39,583.55C110.60,583.25 130.13,582.82 147.77,582.52C165.42,582.22 193.17,581.88 202.25,581.75" fill="none" stroke="#6a5fb0" stroke-width="1.3"/>
<path d="M62.47,584.32C63.84,583.81 68.04,582.40 70.69,581.24C73.35,580.08 75.83,578.80 78.40,577.39C80.97,575.97 83.11,574.60 86.11,572.76C89.11,570.92 92.53,568.82 96.39,566.34C100.24,563.85 104.95,560.51 109.23,557.86C113.52,555.20 117.80,552.63 122.08,550.41C126.36,548.18 130.65,546.25 134.93,544.50C139.21,542.74 144.35,541.16 147.77,539.87C151.20,538.59 152.49,538.37 155.48,536.79C158.48,535.20 162.33,532.29 165.76,530.37C169.19,528.44 172.83,526.64 176.04,525.23C179.25,523.81 182.03,522.66 185.03,521.89C188.03,521.12 191.67,520.90 194.02,520.60C196.38,520.30 197.79,520.39 199.16,520.09C200.53,519.79 201.73,519.02 202.25,518.80" fill="none" stroke="#2bb5b0" stroke-width="1.3"/>
<path d="M62.47,584.32C63.84,583.89 68.04,583.04 70.69,581.75C73.35,580.47 75.83,578.46 78.40,576.61C80.97,574.77 83.11,573.15 86.11,570.71C89.11,568.26 92.53,565.27 96.39,561.97C100.24,558.67 104.95,554.69 109.23,550.92C113.52,547.15 117.80,543.21 122.08,539.36C126.36,535.50 130.65,531.65 134.93,527.80C139.21,523.94 143.49,520.17 147.77,516.23C152.06,512.29 156.34,508.23 160.62,504.16C164.90,500.09 169.61,495.47 173.47,491.83C177.32,488.19 180.96,484.89 183.75,482.32C186.53,479.75 188.24,477.91 190.17,476.41C192.10,474.91 193.30,474.10 195.31,473.33C197.32,472.55 201.09,472.04 202.25,471.78" fill="none" stroke="#1f6fb6" stroke-width="1.4"/>
<text x="50.7" y="466.6" font-size="11.7" text-anchor="start" font-weight="normal" fill="#111" >PMS</text>
<line x1="49.6" y1="480.5" x2="74.5" y2="480.5" stroke="#555" stroke-width="1"/>
<line x1="49.6" y1="495.8" x2="74.5" y2="495.8" stroke="#2bb5b0" stroke-width="1.3"/>
<line x1="49.6" y1="511" x2="74.5" y2="511" stroke="#1f6fb6" stroke-width="1.3"/>
<text x="79.7" y="484.6" font-size="11.5" text-anchor="start" font-weight="normal" fill="#6a5fb0" >1.25nm</text>
<text x="79.7" y="500" font-size="11.5" text-anchor="start" font-weight="normal" fill="#2bb5b0" >5nm</text>
<text x="79.7" y="515.5" font-size="11.5" text-anchor="start" font-weight="normal" fill="#1f6fb6" >10nm</text>
<defs><pattern id="hT" width="3" height="3" patternUnits="userSpaceOnUse" patternTransform="rotate(45)"><rect width="3" height="3" fill="#8fd3cf"/><rect width="0.9" height="3" fill="#3a8f8c"/></pattern><pattern id="hP" width="3" height="3" patternUnits="userSpaceOnUse" patternTransform="rotate(45)"><rect width="3" height="3" fill="#a3a8dc"/><rect width="0.9" height="3" fill="#4f5596"/></pattern></defs>
<rect x="299.4" y="591.8242353666932" width="23.0" height="9.175764633306812" fill="url(#hT)" stroke="#333" stroke-width="0.7"/>
<rect x="322.4" y="526.2612383527389" width="23.0" height="74.73876164726107" fill="#16a29e" stroke="#333" stroke-width="0.7"/>
<rect x="390.4" y="545.4684761046426" width="23.0" height="55.531523895357395" fill="url(#hP)" stroke="#333" stroke-width="0.7"/>
<rect x="413.4" y="463.46485722869073" width="23.600000000000023" height="137.53514277130927" fill="#5f579e" stroke="#333" stroke-width="0.7"/>
<path d="M276,456.2H459.6V601H276Z" fill="none" stroke="#222" stroke-width="1.2"/>
<line x1="273" y1="601.0" x2="276" y2="601.0" stroke="#222" stroke-width="1"/>
<text x="271.4" y="605.2" font-size="11.9" text-anchor="end" font-weight="normal" fill="#111" >1E-11</text>
<line x1="274.5" y1="593.74" x2="276" y2="593.74" stroke="#222" stroke-width="0.6"/>
<line x1="274.5" y1="589.49" x2="276" y2="589.49" stroke="#222" stroke-width="0.6"/>
<line x1="274.5" y1="586.47" x2="276" y2="586.47" stroke="#222" stroke-width="0.6"/>
<line x1="274.5" y1="584.13" x2="276" y2="584.13" stroke="#222" stroke-width="0.6"/>
<line x1="274.5" y1="582.22" x2="276" y2="582.22" stroke="#222" stroke-width="0.6"/>
<line x1="274.5" y1="580.60" x2="276" y2="580.60" stroke="#222" stroke-width="0.6"/>
<line x1="274.5" y1="579.21" x2="276" y2="579.21" stroke="#222" stroke-width="0.6"/>
<line x1="274.5" y1="577.97" x2="276" y2="577.97" stroke="#222" stroke-width="0.6"/>
<line x1="273" y1="576.8666666666667" x2="276" y2="576.8666666666667" stroke="#222" stroke-width="1"/>
<text x="271.4" y="581.0666666666667" font-size="11.9" text-anchor="end" font-weight="normal" fill="#111" >1E-10</text>
<line x1="274.5" y1="569.60" x2="276" y2="569.60" stroke="#222" stroke-width="0.6"/>
<line x1="274.5" y1="565.35" x2="276" y2="565.35" stroke="#222" stroke-width="0.6"/>
<line x1="274.5" y1="562.34" x2="276" y2="562.34" stroke="#222" stroke-width="0.6"/>
<line x1="274.5" y1="560.00" x2="276" y2="560.00" stroke="#222" stroke-width="0.6"/>
<line x1="274.5" y1="558.09" x2="276" y2="558.09" stroke="#222" stroke-width="0.6"/>
<line x1="274.5" y1="556.47" x2="276" y2="556.47" stroke="#222" stroke-width="0.6"/>
<line x1="274.5" y1="555.07" x2="276" y2="555.07" stroke="#222" stroke-width="0.6"/>
<line x1="274.5" y1="553.84" x2="276" y2="553.84" stroke="#222" stroke-width="0.6"/>
<line x1="273" y1="552.7333333333333" x2="276" y2="552.7333333333333" stroke="#222" stroke-width="1"/>
<text x="271.4" y="556.9333333333334" font-size="11.9" text-anchor="end" font-weight="normal" fill="#111" >1E-9</text>
<line x1="274.5" y1="545.47" x2="276" y2="545.47" stroke="#222" stroke-width="0.6"/>
<line x1="274.5" y1="541.22" x2="276" y2="541.22" stroke="#222" stroke-width="0.6"/>
<line x1="274.5" y1="538.20" x2="276" y2="538.20" stroke="#222" stroke-width="0.6"/>
<line x1="274.5" y1="535.86" x2="276" y2="535.86" stroke="#222" stroke-width="0.6"/>
<line x1="274.5" y1="533.95" x2="276" y2="533.95" stroke="#222" stroke-width="0.6"/>
<line x1="274.5" y1="532.34" x2="276" y2="532.34" stroke="#222" stroke-width="0.6"/>
<line x1="274.5" y1="530.94" x2="276" y2="530.94" stroke="#222" stroke-width="0.6"/>
<line x1="274.5" y1="529.70" x2="276" y2="529.70" stroke="#222" stroke-width="0.6"/>
<line x1="273" y1="528.6" x2="276" y2="528.6" stroke="#222" stroke-width="1"/>
<text x="271.4" y="532.8000000000001" font-size="11.9" text-anchor="end" font-weight="normal" fill="#111" >1E-8</text>
<line x1="274.5" y1="521.34" x2="276" y2="521.34" stroke="#222" stroke-width="0.6"/>
<line x1="274.5" y1="517.09" x2="276" y2="517.09" stroke="#222" stroke-width="0.6"/>
<line x1="274.5" y1="514.07" x2="276" y2="514.07" stroke="#222" stroke-width="0.6"/>
<line x1="274.5" y1="511.73" x2="276" y2="511.73" stroke="#222" stroke-width="0.6"/>
<line x1="274.5" y1="509.82" x2="276" y2="509.82" stroke="#222" stroke-width="0.6"/>
<line x1="274.5" y1="508.20" x2="276" y2="508.20" stroke="#222" stroke-width="0.6"/>
<line x1="274.5" y1="506.81" x2="276" y2="506.81" stroke="#222" stroke-width="0.6"/>
<line x1="274.5" y1="505.57" x2="276" y2="505.57" stroke="#222" stroke-width="0.6"/>
<line x1="273" y1="504.46666666666664" x2="276" y2="504.46666666666664" stroke="#222" stroke-width="1"/>
<text x="271.4" y="508.66666666666663" font-size="11.9" text-anchor="end" font-weight="normal" fill="#111" >1E-7</text>
<line x1="274.5" y1="497.20" x2="276" y2="497.20" stroke="#222" stroke-width="0.6"/>
<line x1="274.5" y1="492.95" x2="276" y2="492.95" stroke="#222" stroke-width="0.6"/>
<line x1="274.5" y1="489.94" x2="276" y2="489.94" stroke="#222" stroke-width="0.6"/>
<line x1="274.5" y1="487.60" x2="276" y2="487.60" stroke="#222" stroke-width="0.6"/>
<line x1="274.5" y1="485.69" x2="276" y2="485.69" stroke="#222" stroke-width="0.6"/>
<line x1="274.5" y1="484.07" x2="276" y2="484.07" stroke="#222" stroke-width="0.6"/>
<line x1="274.5" y1="482.67" x2="276" y2="482.67" stroke="#222" stroke-width="0.6"/>
<line x1="274.5" y1="481.44" x2="276" y2="481.44" stroke="#222" stroke-width="0.6"/>
<line x1="273" y1="480.3333333333333" x2="276" y2="480.3333333333333" stroke="#222" stroke-width="1"/>
<text x="271.4" y="484.5333333333333" font-size="11.9" text-anchor="end" font-weight="normal" fill="#111" >1E-6</text>
<line x1="274.5" y1="473.07" x2="276" y2="473.07" stroke="#222" stroke-width="0.6"/>
<line x1="274.5" y1="468.82" x2="276" y2="468.82" stroke="#222" stroke-width="0.6"/>
<line x1="274.5" y1="465.80" x2="276" y2="465.80" stroke="#222" stroke-width="0.6"/>
<line x1="274.5" y1="463.46" x2="276" y2="463.46" stroke="#222" stroke-width="0.6"/>
<line x1="274.5" y1="461.55" x2="276" y2="461.55" stroke="#222" stroke-width="0.6"/>
<line x1="274.5" y1="459.94" x2="276" y2="459.94" stroke="#222" stroke-width="0.6"/>
<line x1="274.5" y1="458.54" x2="276" y2="458.54" stroke="#222" stroke-width="0.6"/>
<line x1="274.5" y1="457.30" x2="276" y2="457.30" stroke="#222" stroke-width="0.6"/>
<line x1="273" y1="456.2" x2="276" y2="456.2" stroke="#222" stroke-width="1"/>
<text x="271.4" y="460.4" font-size="11.9" text-anchor="end" font-weight="normal" fill="#111" >1E-5</text>
<rect x="281.4" y="464" width="15" height="7.5" fill="url(#hT)" stroke="#444" stroke-width="0.6"/>
<rect x="281.4" y="471.5" width="15" height="7.5" fill="url(#hP)" stroke="#444" stroke-width="0.6"/>
<rect x="281.4" y="484.4" width="15" height="8" fill="#16a29e" stroke="#444" stroke-width="0.6"/>
<rect x="281.4" y="492.4" width="15" height="7.6" fill="#5f579e" stroke="#444" stroke-width="0.6"/>
<text x="299.4" y="475.4" font-size="9.6" text-anchor="start" font-weight="normal" fill="#222" >Heterogeneous catalysis</text>
<text x="299" y="494.4" font-size="9.6" text-anchor="start" font-weight="normal" fill="#222" >Nanoconfined catalysis</text>
<text transform="translate(239.3,528.6) rotate(-90)" font-size="12.2" text-anchor="middle" fill="#111">Concentration(M)</text>
<text x="316" y="614" font-size="12.3" text-anchor="start" font-weight="normal" fill="#111" >1O<tspan font-size="8.5" dy="4.3">2</tspan></text>
<text x="409.3" y="615" font-size="12.2" text-anchor="middle" font-weight="normal" fill="#111" >Co(IV)=O</text>
<defs><pattern id="stk" width="10" height="2.7" patternUnits="userSpaceOnUse" x="483.6" y="0.3"><rect x="0" y="0.1" width="5.4" height="1.1" fill="#7f6c9e"/><rect x="6.8" y="1.45" width="2.6" height="0.9" fill="#8a7aa6"/><rect x="2.3" y="0" width="1.0" height="2.7" fill="#c48aa8" opacity="0.6"/></pattern></defs>
<rect x="483.3" y="472.3" width="26.6" height="16.0" fill="url(#stk)" opacity="0.9"/>
<rect x="519.7" y="472.3" width="58.7" height="16.0" fill="url(#stk)" opacity="0.9"/>
<rect x="590.5" y="472.3" width="58.7" height="16.0" fill="url(#stk)" opacity="0.9"/>
<rect x="662.4" y="472.3" width="17.4" height="16.0" fill="url(#stk)" opacity="0.9"/>
<rect x="483.3" y="505.0" width="56.7" height="15.6" fill="url(#stk)" opacity="0.9"/>
<rect x="553.0" y="505.0" width="56.5" height="15.6" fill="url(#stk)" opacity="0.9"/>
<rect x="623.3" y="505.0" width="56.9" height="15.6" fill="url(#stk)" opacity="0.9"/>
<rect x="483.3" y="537.3" width="26.0" height="16.1" fill="url(#stk)" opacity="0.9"/>
<rect x="519.7" y="537.3" width="58.7" height="16.1" fill="url(#stk)" opacity="0.9"/>
<rect x="590.5" y="537.3" width="60.1" height="16.1" fill="url(#stk)" opacity="0.9"/>
<rect x="662.4" y="537.3" width="17.8" height="16.1" fill="url(#stk)" opacity="0.9"/>
<rect x="483.3" y="570.0" width="57.9" height="15.6" fill="url(#stk)" opacity="0.9"/>
<rect x="552.4" y="570.0" width="59.2" height="15.6" fill="url(#stk)" opacity="0.9"/>
<rect x="623.3" y="570.0" width="56.9" height="15.6" fill="url(#stk)" opacity="0.9"/>
<path d="M483.00,559.00C484.50,558.50 488.67,556.75 492.00,556.00C495.33,555.25 499.33,554.50 503.00,554.50C506.67,554.50 510.50,555.25 514.00,556.00C517.50,556.75 520.50,558.33 524.00,559.00C527.50,559.67 531.00,560.33 535.00,560.00C539.00,559.67 543.83,557.83 548.00,557.00C552.17,556.17 556.00,555.17 560.00,555.00C564.00,554.83 567.83,555.50 572.00,556.00C576.17,556.50 580.83,557.17 585.00,558.00C589.17,558.83 592.83,560.17 597.00,561.00C601.17,561.83 605.67,562.67 610.00,563.00C614.33,563.33 618.83,564.00 623.00,563.00C627.17,562.00 630.83,557.17 635.00,557.00C639.17,556.83 643.83,561.67 648.00,562.00C652.17,562.33 656.33,559.67 660.00,559.00C663.67,558.33 666.50,557.50 670.00,558.00C673.50,558.50 679.17,561.33 681.00,562.00" fill="none" stroke="#c4e1f3" stroke-width="4.2" stroke-linecap="butt" stroke-linejoin="round" opacity="0.85"/>
<path d="M481 558.1h0M484.2 560.5h0M490 556.1h0M489.4 554.8h0M491.7 554.5h0M497.2 554.4h0M500.2 555.1h0M501 552.5h0M506.2 553.7h0M509.9 553.5h0M512.8 555.2h0M515.6 556.3h0M514 556.1h0M517.9 555.6h0M517.2 558.5h0M519.5 555.6h0M522.5 559.6h0M524.3 556.9h0M525.1 557.4h0M523.8 560.7h0M527.4 558.2h0M527.9 559.3h0M529.4 558.8h0M540.5 561.2h0M541.2 557.2h0M546.6 556.9h0M550.3 557.5h0M556.8 556.8h0M567.6 553.4h0M568.7 557h0M567.5 557h0M572.2 554.3h0M572.7 556h0M576.5 554.6h0M577 555.3h0M583 559h0M594.7 562.3h0M594 562.6h0M597 561.6h0M598.3 562.3h0M604.4 561.3h0M607.9 562.1h0M611.5 562.9h0M614.5 561.9h0M615.6 562.3h0M622.6 561.6h0M623.1 561.1h0M627.7 562.7h0M631.6 556.9h0M636.7 555.3h0M639.5 559.5h0M639 558.3h0M642.3 558.6h0M644.2 561.3h0M661.2 557.5h0M663.6 557.9h0M676.9 561.9h0M680.2 561.9h0M680.9 562.1h0" stroke="#eef7fc" stroke-width="1.6" stroke-linecap="round" opacity="0.8"/>
<path d="M484.4 556.5h0M486.1 557.8h0M491.5 557.5h0M494 555.5h0M493.3 557.3h0M499 554.1h0M501.5 555.3h0M506.3 553.8h0M506.3 555.1h0M513.3 557.8h0M519.4 556.3h0M530.3 561.8h0M532.9 558.5h0M534.9 561.2h0M545.4 559.1h0M548.6 559.1h0M555 556.2h0M555.6 555.7h0M555.9 553.9h0M557.3 553.5h0M560.5 554.7h0M562.6 553.7h0M562.3 554.3h0M569.6 556.1h0M571 556.4h0M572.6 556.1h0M576.6 555.5h0M579.4 556.9h0M580.6 558.5h0M584.2 557.2h0M585.7 559.8h0M587.1 559.7h0M585.8 560.1h0M588.9 558.1h0M594.9 559.1h0M600.3 562.5h0M600.4 560h0M609.1 564.5h0M614.7 562.7h0M616.4 563.2h0M619.8 562.4h0M623.6 564h0M624.9 564.4h0M626.2 562.1h0M629.4 560.3h0M631.2 556.4h0M636.8 558h0M642.2 560.3h0M648.3 563.1h0M654.2 560.9h0M653.6 562.3h0M657.2 558.7h0M656.3 560.1h0M662.8 558.4h0M663.2 556.8h0M663.9 556.7h0M664.4 559.5h0M667.2 559.3h0M670.3 556.9h0M669.1 557.6h0M672.2 556.4h0M672.9 556.9h0M675.5 561.5h0M678.3 560.4h0" stroke="#9ccbe8" stroke-width="1.6" stroke-linecap="round" opacity="0.7"/>
<path d="M547.00,560.00C546.83,562.50 545.75,569.67 546.00,575.00C546.25,580.33 548.33,587.33 548.50,592.00C548.67,596.67 547.25,601.17 547.00,603.00" fill="none" stroke="#aed4ee" stroke-width="7" stroke-linecap="butt" stroke-linejoin="round" opacity="1.0"/>
<path d="M545.8 561.4h0M548.7 558.8h0M550.2 561.8h0M545 567.1h0M543.9 567.2h0M547 564.4h0M546.2 568.7h0M543.1 564.9h0M544.3 568.5h0M547.7 573.4h0M543.6 569h0M546.5 574.3h0M547.5 579.7h0M547.8 578.3h0M547.8 581.5h0M549.4 583.7h0M547.8 584.4h0M548.6 587.7h0M548.7 585.7h0M546.4 589.5h0M547.8 593.6h0M546.9 589.2h0M548.4 588.9h0M548.8 591.7h0M549.9 596.3h0M550.7 597.5h0M548 597.7h0M550.4 595.8h0M544.3 602.7h0M547.6 604h0" stroke="#e0f0fa" stroke-width="1.6" stroke-linecap="round" opacity="0.8"/>
<path d="M543.5 570.2h0M549.5 567.9h0M544.5 570.3h0M545.6 574.5h0M546.8 574.3h0M547 577h0M548.9 580.4h0M546.5 581.8h0M549.5 581.3h0M546.9 585.1h0M550.8 586.3h0M548.3 584.7h0M547.8 585.6h0M548.3 587.5h0M548.4 592.5h0M549 591.2h0M549 597.8h0M545.7 597h0M549 600.6h0M547.1 596.8h0M550.8 602.5h0M550.1 600.2h0M547.9 600.7h0" stroke="#7fb8e0" stroke-width="1.6" stroke-linecap="round" opacity="0.7"/>
<path d="M617.00,562.00C616.83,564.50 615.75,571.67 616.00,577.00C616.25,582.33 618.33,589.67 618.50,594.00C618.67,598.33 617.25,601.50 617.00,603.00" fill="none" stroke="#aed4ee" stroke-width="7" stroke-linecap="butt" stroke-linejoin="round" opacity="1.0"/>
<path d="M619.8 563.7h0M617.9 562.5h0M614.7 562.8h0M617.3 567.7h0M617.9 562.7h0M615.1 567.1h0M614.6 571.6h0M617.9 569.2h0M612.6 572.5h0M613.3 571.4h0M616.4 576.2h0M618.8 572.8h0M614.6 575.1h0M612.8 577.7h0M619.6 578.4h0M613.1 583.1h0M613.6 583.8h0M614.4 581.1h0M617.7 588.9h0M617.6 584.4h0M617.4 591.3h0M617.9 592.5h0M616.9 593.9h0M620.2 593.5h0M618.8 596.9h0M618.7 598.1h0M619.7 599.8h0M615.9 600.9h0M617.7 601.3h0M613.8 604.3h0" stroke="#e0f0fa" stroke-width="1.6" stroke-linecap="round" opacity="0.8"/>
<path d="M618.4 561.9h0M615.1 567.9h0M617.4 567.9h0M618.9 567.5h0M613.6 566.1h0M619.6 569.6h0M613.7 573.6h0M619.5 574.6h0M617.3 572.9h0M613.4 575.8h0M619.1 575.5h0M618.7 576.6h0M616.1 582.2h0M615.5 580.3h0M613.7 581.2h0M614.5 590h0M615.1 588.9h0M615.4 592.6h0M617.6 592.7h0M615.6 593.4h0M619.9 600.8h0M615.9 597.2h0M618.1 602.9h0M619.8 601.5h0" stroke="#7fb8e0" stroke-width="1.6" stroke-linecap="round" opacity="0.7"/>
<path d="M514.50,528.00C514.33,529.67 513.33,534.67 513.50,538.00C513.67,541.33 515.33,544.67 515.50,548.00C515.67,551.33 514.67,556.33 514.50,558.00" fill="none" stroke="#9ccbe8" stroke-width="6.5" stroke-linecap="butt" stroke-linejoin="round" opacity="1.0"/>
<path d="M516.3 528.4h0M511.7 529.3h0M514 531.7h0M510.8 530.2h0M515.8 536.3h0M511.8 538.6h0M516.1 543.4h0M516.2 544h0M515.8 542.4h0M514.1 546h0M515.5 546.9h0M514.3 547.8h0M514.5 551.2h0M513.1 550.9h0M517 554.6h0M517.4 553.5h0M516 555.5h0M514.8 557.9h0" stroke="#d5ebf8" stroke-width="1.6" stroke-linecap="round" opacity="0.8"/>
<path d="M515.6 527h0M511.6 532.5h0M510.7 531.2h0M514.1 535.7h0M514.2 539.3h0M511.4 540.6h0M514.5 544.7h0M515.1 544.7h0M512.7 549.5h0M518.1 547.7h0M513.6 556h0M513.5 555.4h0M515.7 559.1h0" stroke="#6aa8d6" stroke-width="1.6" stroke-linecap="round" opacity="0.7"/>
<path d="M585.00,528.00C584.83,529.67 583.83,534.67 584.00,538.00C584.17,541.33 585.83,544.67 586.00,548.00C586.17,551.33 585.17,556.33 585.00,558.00" fill="none" stroke="#9ccbe8" stroke-width="6.5" stroke-linecap="butt" stroke-linejoin="round" opacity="1.0"/>
<path d="M584.9 526.2h0M586.5 531.8h0M582.8 531.1h0M584.2 531.7h0M584.2 534.6h0M587.5 532.1h0M586.5 535.6h0M582.4 542h0M585.3 544.5h0M582.7 546.4h0M583.2 548.2h0M586.4 548.2h0M589.1 547.3h0M587.5 548.7h0M586.7 553.7h0M585.6 550.4h0M585.7 556.8h0M584.4 552.1h0M587 558h0M587.2 557.7h0M587.3 556.5h0M583.9 557.6h0" stroke="#d5ebf8" stroke-width="1.6" stroke-linecap="round" opacity="0.8"/>
<path d="M582.3 530.2h0M581.9 527.4h0M587.3 535.4h0M586.3 533.9h0M581.7 535.8h0M586.4 540.6h0M585.8 539h0M585.4 543h0M584.2 546.6h0M585 551.3h0M588 548.6h0M583.5 553.6h0M585.3 555.4h0M584.1 554.5h0M583.5 561.1h0" stroke="#6aa8d6" stroke-width="1.6" stroke-linecap="round" opacity="0.7"/>
<path d="M655.00,528.00C654.83,529.67 653.83,534.67 654.00,538.00C654.17,541.33 655.83,544.67 656.00,548.00C656.17,551.33 655.17,556.33 655.00,558.00" fill="none" stroke="#9ccbe8" stroke-width="6.5" stroke-linecap="butt" stroke-linejoin="round" opacity="1.0"/>
<path d="M654 528.3h0M656 532h0M655.2 530h0M653 529.9h0M653.1 534.2h0M654.1 535h0M656.5 532.2h0M655 537.2h0M650.9 537.5h0M654.3 537.9h0M652.1 542.7h0M651.5 538.1h0M653.2 543h0M657.6 541.6h0M655.6 546.3h0M659.1 547.4h0M654.8 549.6h0M654.1 555h0M654.4 555.3h0M655.6 552.4h0M655.5 557.6h0M656.3 556h0M654.3 556.3h0" stroke="#d5ebf8" stroke-width="1.6" stroke-linecap="round" opacity="0.8"/>
<path d="M654.1 530h0M652.7 528.7h0M653.1 527.3h0M656.7 536.6h0M655.4 538.2h0M651.3 541.9h0M653.2 542.1h0M653.6 544.2h0M655 540.8h0M656.7 544.5h0M655.9 545.6h0M655.7 548.3h0M654.8 550.3h0M654.8 558.7h0M652.3 557.5h0M656.2 555.5h0" stroke="#6aa8d6" stroke-width="1.6" stroke-linecap="round" opacity="0.7"/>
<path d="M483.00,522.00C485.00,522.50 491.33,523.83 495.00,525.00C498.67,526.17 501.67,528.00 505.00,529.00C508.33,530.00 511.17,531.17 515.00,531.00C518.83,530.83 523.83,528.83 528.00,528.00C532.17,527.17 536.67,526.67 540.00,526.00C543.33,525.33 544.67,524.00 548.00,524.00C551.33,524.00 556.00,525.17 560.00,526.00C564.00,526.83 568.00,528.17 572.00,529.00C576.00,529.83 579.67,531.33 584.00,531.00C588.33,530.67 593.67,528.33 598.00,527.00C602.33,525.67 606.67,523.83 610.00,523.00C613.33,522.17 614.67,521.33 618.00,522.00C621.33,522.67 626.00,525.67 630.00,527.00C634.00,528.33 637.83,529.33 642.00,530.00C646.17,530.67 650.67,531.50 655.00,531.00C659.33,530.50 663.67,528.33 668.00,527.00C672.33,525.67 678.83,523.67 681.00,523.00" fill="none" stroke="#a6d0ec" stroke-width="6.5" stroke-linecap="butt" stroke-linejoin="round" opacity="1.0"/>
<path d="M483.5 519.2h0M484.8 521.3h0M486.9 521.3h0M485.6 523.9h0M489.8 524.9h0M488.5 521h0M487.2 520.5h0M492.2 521h0M492.7 523.1h0M494.3 525.8h0M492.4 527.8h0M497.2 525.8h0M501.8 527.8h0M500.6 524h0M497.9 529h0M504.6 525.2h0M502.4 532.1h0M505.6 527.3h0M510.8 532.1h0M507 527.9h0M512.7 527.9h0M515.7 532.3h0M512.7 531.8h0M515.7 530.5h0M516.8 529.1h0M518.9 528.1h0M513.7 531.3h0M517.3 531.2h0M515.6 528.7h0M520.9 530.1h0M521 527h0M524.8 532.4h0M525.8 530.1h0M532.2 524.5h0M530.2 527.2h0M534.6 526h0M532.7 525.7h0M532.1 525.7h0M537.2 529.6h0M537.7 528.7h0M539.9 529.1h0M539 523.9h0M542.1 528.4h0M541.7 523.9h0M542.9 527.1h0M542.4 523.5h0M543.6 522h0M545.9 523.8h0M551 524.9h0M546.5 525.4h0M549 524.9h0M548.4 525.5h0M550.8 524.1h0M548.5 524.5h0M555.2 521.9h0M555.4 523.1h0M553.8 522.1h0M558 527.8h0M558.2 522.7h0M561.8 526.2h0M558 528.8h0M561.4 525.3h0M560.1 528.8h0M564.7 523.5h0M566.7 528.6h0M566.5 528.9h0M569 525.4h0M569.3 527.9h0M573.8 531.9h0M577.3 528.2h0M580.6 533.6h0M578.5 532.1h0M585.2 533h0M581.2 534.2h0M587.5 532.2h0M584.6 533.4h0M590 530.1h0M587.9 530.8h0M590 529.9h0M588.5 532.2h0M595.2 529.4h0M593.3 525.9h0M598 526.3h0M595.3 524.7h0M595.8 528.8h0M599.3 524.4h0M595.2 526.1h0M598.2 527.9h0M600.9 528.1h0M597 524.1h0M600.7 525.6h0M602.2 523.2h0M607.8 524.7h0M605 526.6h0M605 522.6h0M609.6 523.9h0M609.6 526.4h0M609.6 520.2h0M612.9 523.3h0M617.9 523h0M613 524.1h0M614.7 521.2h0M619.5 519.2h0M617.1 524.9h0M620.2 523.7h0M617.7 519.3h0M619.7 523.4h0M621.4 525.2h0M622.3 525.3h0M622.4 524h0M627.2 523.7h0M626.8 528h0M630.8 524.7h0M633.1 524.6h0M635.4 529h0M634 529.8h0M637.7 528.4h0M633.1 531h0M638.8 530.2h0M636.8 529.8h0M639.2 531.9h0M644.2 531.2h0M643.5 532.3h0M647 531.9h0M644.1 530.4h0M646.8 529.3h0M649.9 529.2h0M647.6 530.8h0M649.6 529.9h0M649.4 528.4h0M654.7 528.3h0M651.4 531.5h0M652.1 531.9h0M653.3 532.9h0M655.9 529.4h0M658.2 533.8h0M658 532.4h0M654.8 530.7h0M657.4 531.9h0M654.6 528h0M655.3 530.8h0M656.3 528.8h0M660.1 531.7h0M660.9 527.5h0M664.1 527.5h0M664.8 530.2h0M662.3 526h0M668.2 527.8h0M670.9 525.7h0M672.6 525.6h0M668.3 524.4h0M668.3 526.7h0M670.3 524h0M677.2 527h0M674.8 527.6h0M681.7 521.4h0M680.8 526.2h0M683 523.7h0M683.1 523.1h0" stroke="#dcf0fb" stroke-width="1.6" stroke-linecap="round" opacity="0.8"/>
<path d="M482 524.9h0M485.3 523.9h0M488.1 524.2h0M491.1 521.1h0M490.1 525.6h0M491.5 523.3h0M494.6 524.3h0M494.4 522.8h0M498.7 528.5h0M500.3 525.2h0M503.3 526.6h0M501.1 525.6h0M503.4 530.7h0M500.6 530.9h0M507.2 531.5h0M505.3 529h0M509.3 530.2h0M513.6 529.3h0M522 529.3h0M524.2 526.9h0M523.1 531.4h0M525.8 529.1h0M527.5 528.4h0M530.3 525.3h0M532.7 524.5h0M538.4 527.9h0M537.3 524.6h0M542.4 524h0M540.4 525.9h0M537.8 528.6h0M543.8 527h0M547.1 525h0M552.3 525.2h0M550.1 525h0M548.6 526.4h0M558.2 523.2h0M556 527.3h0M555.4 523.8h0M559.3 529.5h0M561.4 528.3h0M560.1 525.3h0M563.6 528.1h0M576.4 531.1h0M577.1 529.5h0M578.2 530h0M582.1 531.3h0M584.4 530.8h0M582.3 532h0M582.8 532.6h0M583.3 533.8h0M592.2 527.3h0M599.4 525.7h0M603.6 526.5h0M610.7 522.5h0M611 521.9h0M610.5 526h0M612.4 521.5h0M616.6 524.5h0M617.6 523.5h0M618.5 520.6h0M622.6 520.6h0M623.6 526h0M623.7 527h0M625.9 525.2h0M630.9 524.3h0M631.4 526.5h0M633.8 528.7h0M635.7 531.8h0M638 531.8h0M642.3 531.8h0M645.7 528.2h0M644.5 533.1h0M645.3 527.9h0M652.4 531.4h0M653.5 529h0M657.9 528.1h0M665.3 526.8h0M664.1 527.5h0M669.6 525.1h0M664.9 524.2h0M674.2 526h0M678.4 521.5h0M679.1 527.4h0M676.6 525.9h0M677 525.9h0" stroke="#6aa8d6" stroke-width="1.6" stroke-linecap="round" opacity="0.7"/>
<path d="M542.00,505.00C542.58,506.67 544.33,511.67 545.50,515.00C546.67,518.33 548.42,523.33 549.00,525.00" fill="none" stroke="#74b0da" stroke-width="6.5" stroke-linecap="butt" stroke-linejoin="round" opacity="1.0"/>
<path d="M538.8 507.7h0M544.9 507.7h0M547.2 514.5h0M547.7 510.7h0M542.3 514.1h0M542.8 515.9h0M545.8 515.9h0M549.1 519.1h0M547.9 516.2h0M547.6 522.8h0M548.4 520.9h0M545.4 523.6h0M549.6 524.2h0M550.9 521.8h0M549.7 523h0" stroke="#b8dcf2" stroke-width="1.6" stroke-linecap="round" opacity="0.8"/>
<path d="M545.1 507.8h0M545.6 505.8h0M545.3 511.9h0M544.9 512.6h0M541.9 509.4h0M547.3 508.6h0M543.8 517.4h0M545.4 517.2h0" stroke="#3f7fb2" stroke-width="1.6" stroke-linecap="round" opacity="0.7"/>
<path d="M613.00,507.00C613.42,508.33 614.67,512.33 615.50,515.00C616.33,517.67 617.58,521.67 618.00,523.00" fill="none" stroke="#74b0da" stroke-width="6.5" stroke-linecap="butt" stroke-linejoin="round" opacity="1.0"/>
<path d="M611.9 506.8h0M610.5 507.8h0M612.5 507.7h0M614.9 506.9h0M617.2 511.1h0M616.2 510h0M614.2 513.9h0M615.8 513.1h0M616.1 516.3h0M618.2 512.2h0M617.9 517.5h0M614.3 518.1h0M614.4 519.7h0M620.6 525.1h0M616.7 521.6h0M615.4 525.4h0" stroke="#b8dcf2" stroke-width="1.6" stroke-linecap="round" opacity="0.8"/>
<path d="M616.1 512.4h0M612.8 516.4h0M612.5 512.8h0M618.3 521.4h0M618.9 518.9h0" stroke="#3f7fb2" stroke-width="1.6" stroke-linecap="round" opacity="0.7"/>
<path d="M514.50,461.50C514.50,463.75 514.50,469.58 514.50,475.00C514.50,480.42 514.50,490.83 514.50,494.00" fill="none" stroke="#5fa0cf" stroke-width="8" stroke-linecap="butt" stroke-linejoin="round" opacity="1.0"/>
<path d="M514 464.1h0M511.8 461h0M517.5 459.3h0M517.2 461.1h0M515.6 460.8h0M516.5 467.7h0M512.7 467.3h0M515.3 465h0M517.1 471.1h0M515.8 475.7h0M515.4 471.3h0M515.6 476.9h0M517.6 473.4h0M518.5 473.8h0M513 485.2h0M511.1 488h0M513.6 483.2h0M511.6 483.4h0M517.8 485.5h0M514.4 490.7h0M513.3 489.4h0M511.8 495h0M513.2 496.8h0M517.8 493.2h0" stroke="#a6d2ee" stroke-width="1.6" stroke-linecap="round" opacity="0.8"/>
<path d="M512 459.7h0M516.6 464.9h0M516.1 462h0M511.9 467.5h0M518.2 469.9h0M516.6 464.1h0M512.9 472.7h0M517.7 477.4h0M515.8 477.2h0M515.1 474.9h0M516.8 481.5h0M517.3 480.9h0M516.6 478.5h0M514.3 486.8h0M516.7 486.7h0M510.5 485.9h0M515.6 487.8h0M512 493.2h0M515.3 491.7h0M511.5 495.9h0" stroke="#2f6d9e" stroke-width="1.6" stroke-linecap="round" opacity="0.7"/>
<path d="M584.20,461.50C584.20,463.75 584.20,469.58 584.20,475.00C584.20,480.42 584.20,490.83 584.20,494.00" fill="none" stroke="#5fa0cf" stroke-width="8" stroke-linecap="butt" stroke-linejoin="round" opacity="1.0"/>
<path d="M580.5 465h0M580.4 464h0M581.3 466.4h0M581.1 461.4h0M581.8 467.8h0M586.9 469.3h0M586 465.8h0M582.6 469.6h0M582.7 473.8h0M585.4 478.9h0M580.7 480.1h0M586.6 478.8h0M586.9 482.9h0M581.1 479.3h0M588 483.3h0M580.6 485h0M587 487.8h0M583.8 490.5h0M585.2 488.7h0M587.8 489.9h0M581.1 494.5h0M587.9 491.4h0M580.6 490.9h0" stroke="#a6d2ee" stroke-width="1.6" stroke-linecap="round" opacity="0.8"/>
<path d="M580.6 465.9h0M584 460.3h0M582.6 464.4h0M582.8 464h0M580.6 475.8h0M587.2 471.7h0M582.4 474.8h0M585.6 483.1h0M585.8 478.7h0M583.3 486.6h0M580.6 483.6h0M581 488.7h0M585.2 492.2h0M586 490.4h0M583.3 493.7h0" stroke="#2f6d9e" stroke-width="1.6" stroke-linecap="round" opacity="0.7"/>
<path d="M654.20,461.50C654.20,463.75 654.20,469.58 654.20,475.00C654.20,480.42 654.20,490.83 654.20,494.00" fill="none" stroke="#5fa0cf" stroke-width="8" stroke-linecap="butt" stroke-linejoin="round" opacity="1.0"/>
<path d="M654.9 463.7h0M657.8 459h0M653.8 460.9h0M655.4 469.8h0M652.8 463.1h0M651.5 467.2h0M656.1 471.4h0M655.4 476h0M656.4 478.7h0M651.7 473.1h0M651.2 477.2h0M651.4 474.6h0M655.1 479.5h0M653.1 481.4h0M653.5 481.3h0M650.3 485.2h0M657.1 488h0M657.7 491.4h0M654.7 492.4h0" stroke="#a6d2ee" stroke-width="1.6" stroke-linecap="round" opacity="0.8"/>
<path d="M651.1 460.8h0M650.6 465.4h0M657.6 459.9h0M651.2 462.2h0M654.2 462.2h0M656.3 462h0M656.2 462.9h0M655.9 468h0M652.5 464.1h0M655.5 466.4h0M652.5 470.8h0M650.4 465.1h0M655.7 468.3h0M651 473.9h0M656.6 470.2h0M653.3 475.6h0M650.3 471h0M657.2 476.6h0M654.4 487.9h0M655.1 485.8h0M652.8 488.2h0M652.5 489.1h0M653.8 483.1h0M657.8 485h0M650.3 485.1h0M655.8 493.2h0M653.7 488.6h0M655.3 494h0M655.8 489.6h0M652.6 490.2h0" stroke="#2f6d9e" stroke-width="1.6" stroke-linecap="round" opacity="0.7"/>
<path d="M483.00,503.00C485.00,502.17 491.00,499.42 495.00,498.00C499.00,496.58 503.75,495.50 507.00,494.50C510.25,493.50 511.50,491.58 514.50,492.00C517.50,492.42 521.25,495.17 525.00,497.00C528.75,498.83 533.67,501.50 537.00,503.00C540.33,504.50 541.17,506.50 545.00,506.00C548.83,505.50 555.00,501.83 560.00,500.00C565.00,498.17 570.97,496.33 575.00,495.00C579.03,493.67 580.70,491.50 584.20,492.00C587.70,492.50 592.37,496.00 596.00,498.00C599.63,500.00 602.83,502.33 606.00,504.00C609.17,505.67 611.33,508.33 615.00,508.00C618.67,507.67 623.50,504.00 628.00,502.00C632.50,500.00 637.63,497.67 642.00,496.00C646.37,494.33 650.37,491.67 654.20,492.00C658.03,492.33 661.53,496.17 665.00,498.00C668.47,499.83 672.33,501.67 675.00,503.00C677.67,504.33 680.00,505.50 681.00,506.00" fill="none" stroke="#5fa0cf" stroke-width="8" stroke-linecap="butt" stroke-linejoin="round" opacity="1.0"/>
<path d="M482.8 503.3h0M483.8 506.5h0M484.4 503h0M484.8 505.9h0M488.4 500.8h0M485.3 499.4h0M484.9 498h0M487.3 499.7h0M491.2 502h0M495.6 498.6h0M490.5 498.9h0M490.8 494.9h0M490.5 498.9h0M498.3 498.4h0M494.8 500.2h0M497.7 496h0M499.1 498.4h0M501.2 499.1h0M499.8 496h0M500.3 497.6h0M505.2 493.9h0M502.3 498.8h0M502 492.4h0M502.6 492.6h0M505.5 494.7h0M503.3 495.1h0M509.7 494.2h0M510.2 492h0M512.8 495.5h0M508.6 494.7h0M509 491.6h0M512 491.6h0M509.9 494.2h0M515.3 491.1h0M516.2 496.2h0M521 494.2h0M521 492.5h0M518.3 497.2h0M520.6 494.2h0M523 497.8h0M526.6 498.7h0M521.8 494.1h0M525.2 493.9h0M531.2 497.2h0M529.7 497.2h0M533.4 499h0M532.1 502.4h0M534.1 500.4h0M541.9 504.9h0M539.1 503.2h0M547.1 509h0M547.3 504.3h0M541.4 508.4h0M545.5 506.5h0M547.2 507.9h0M547.6 501.3h0M548.5 506.3h0M550.1 505.3h0M553.3 501.4h0M557.9 500.4h0M552.7 504.3h0M558.3 503.7h0M564.5 499h0M564.5 494.8h0M560.8 496.7h0M568 496.8h0M562.8 500.7h0M568.7 496.6h0M566.9 495.9h0M568.5 498h0M565.9 496.2h0M567.8 496.1h0M571.9 495.7h0M573.5 496.5h0M575.9 490.3h0M580.9 491h0M585.1 494.6h0M580.6 494.1h0M581.2 495.6h0M584.9 489.9h0M586.7 489.9h0M590.9 496.3h0M590.6 493.8h0M590.4 494h0M594.3 495.1h0M596.3 497.1h0M594.1 501.6h0M595.1 498.8h0M601 500.6h0M603.8 499.3h0M600.1 502.2h0M600 504h0M601.3 500.3h0M604.2 502.1h0M606.9 504.5h0M611.4 505.7h0M605.9 503.3h0M609.4 509.3h0M608.2 509.2h0M612.1 510.5h0M610.2 510.2h0M612.9 507.9h0M614.1 506.1h0M614.2 506.5h0M620 504.3h0M618.4 508.2h0M620.4 504.9h0M617.8 510h0M618.6 505.4h0M623.9 505.8h0M624.5 508h0M619.3 504.6h0M620.8 504.7h0M621.1 505.7h0M625.3 500.4h0M627.7 505.7h0M628.4 500.2h0M625.5 502h0M624.2 500h0M628.1 504.9h0M627.1 501.1h0M632.9 497.1h0M633.3 501h0M636.4 498.3h0M637.1 501.9h0M639.8 495.3h0M640.8 501.2h0M636.6 498h0M638 498.6h0M640.7 498.5h0M639.8 493.9h0M636.7 494.7h0M645.2 498.3h0M645.2 499.2h0M646.1 495.3h0M645.4 495.9h0M646.1 492.3h0M651.5 490.3h0M651.1 494.4h0M653.3 493.3h0M650.9 493.7h0M653.8 493h0M651.8 495.4h0M655.5 491.6h0M659.1 489h0M655.6 496.3h0M656.1 492.6h0M663.2 500.1h0M665.7 500.1h0M663.8 498.2h0M666 501.4h0M661.9 496h0M665.1 498.9h0M673 500.8h0M670 501.6h0M673.9 504.4h0M675 502.2h0M672.7 501.4h0M678.2 506.8h0M681.3 505.8h0M678.3 506.5h0M680.9 505.9h0M679.1 503.3h0" stroke="#a6d2ee" stroke-width="1.6" stroke-linecap="round" opacity="0.8"/>
<path d="M486.7 505.2h0M483.4 499.2h0M488.7 505.2h0M484.2 502h0M487.5 501h0M490.8 499.4h0M495.8 497.5h0M497 494.6h0M502.3 496.8h0M504 495.2h0M502.6 492.7h0M502.5 491h0M512.7 490.7h0M517.8 495.3h0M513.7 494.7h0M518.5 494.6h0M523.8 494.6h0M525.3 499h0M528.1 498.3h0M531.6 501.1h0M536 499.7h0M531.1 504.8h0M538.1 506h0M537 504.3h0M538.5 504.8h0M538.9 500h0M542.7 501.5h0M539 508.8h0M541.5 503.2h0M539.5 502.7h0M543.5 506.8h0M539.4 505.9h0M545 505.1h0M547.2 505.6h0M544.8 505.3h0M554.9 503.6h0M551.3 503.6h0M559 499.6h0M556 503.5h0M554 498.6h0M558.2 499.6h0M562.9 502.9h0M568.2 495.1h0M572.1 493h0M578.3 497.5h0M578.4 494h0M577.8 492.5h0M584.5 492.2h0M584.8 488.7h0M579.6 491.6h0M587.2 491.7h0M583.2 495.4h0M583.1 489.2h0M592 497.6h0M592.4 496.5h0M590.5 492.4h0M591.3 498.9h0M597.5 495.5h0M597.7 497h0M596.3 498.3h0M596.7 499.7h0M596.2 500.7h0M605.6 498.3h0M602.1 502.1h0M603.9 502.6h0M609.4 502h0M604.4 508h0M612.9 508.9h0M613.3 508.1h0M610.9 509.6h0M617.1 505.8h0M615.5 507.3h0M616.2 504.7h0M618.4 504.8h0M618.5 501.8h0M625.7 500h0M624 500.9h0M631.9 503.7h0M634.9 496.1h0M632.6 502.2h0M638 500.5h0M635.3 494.9h0M642.7 493.8h0M645.2 495.2h0M644.6 494.6h0M645.4 493.8h0M647.2 493h0M645.2 495.5h0M653.8 494.8h0M651.8 491.1h0M653 491.8h0M654.4 493h0M653.5 495.7h0M659.5 495.3h0M656.1 493.4h0M659.1 492.3h0M661.7 497.3h0M661.4 496.9h0M661.9 500.8h0M665.1 497.1h0M666.2 501.1h0M672.4 502.5h0M670 502.8h0M670.5 497.9h0M675.9 504h0M674.4 507.4h0M680 501.5h0M681.3 504h0" stroke="#2f6d9e" stroke-width="1.6" stroke-linecap="round" opacity="0.7"/>
<circle cx="545" cy="506" r="3.5" fill="#2a6696" opacity="0.55"/>
<circle cx="616" cy="507" r="4.2" fill="#2a6696" opacity="0.55"/>
<circle cx="514.5" cy="491" r="3" fill="#2a6696" opacity="0.55"/>
<circle cx="584" cy="491" r="3" fill="#2a6696" opacity="0.55"/>
<circle cx="654" cy="492" r="3" fill="#2a6696" opacity="0.55"/>
<circle cx="502" cy="497" r="1.5" fill="#5a5a5a" opacity="0.85"/>
<circle cx="511" cy="463" r="1.5" fill="#5a5a5a" opacity="0.85"/>
<circle cx="513" cy="480" r="1.5" fill="#5a5a5a" opacity="0.85"/>
<circle cx="522" cy="496" r="1.5" fill="#5a5a5a" opacity="0.85"/>
<circle cx="534" cy="501" r="1.5" fill="#5a5a5a" opacity="0.85"/>
<circle cx="555" cy="500" r="1.5" fill="#5a5a5a" opacity="0.85"/>
<circle cx="570" cy="497" r="1.5" fill="#5a5a5a" opacity="0.85"/>
<circle cx="583" cy="470" r="1.5" fill="#5a5a5a" opacity="0.85"/>
<circle cx="585" cy="480" r="1.5" fill="#5a5a5a" opacity="0.85"/>
<circle cx="596" cy="497" r="1.5" fill="#5a5a5a" opacity="0.85"/>
<circle cx="607" cy="503" r="1.5" fill="#5a5a5a" opacity="0.85"/>
<circle cx="620" cy="505" r="1.5" fill="#5a5a5a" opacity="0.85"/>
<circle cx="629" cy="500" r="1.5" fill="#5a5a5a" opacity="0.85"/>
<circle cx="640" cy="496" r="1.5" fill="#5a5a5a" opacity="0.85"/>
<circle cx="651" cy="463" r="1.5" fill="#5a5a5a" opacity="0.85"/>
<circle cx="657" cy="476" r="1.5" fill="#5a5a5a" opacity="0.85"/>
<circle cx="660" cy="500" r="1.5" fill="#5a5a5a" opacity="0.85"/>
<circle cx="675" cy="503" r="1.5" fill="#5a5a5a" opacity="0.85"/>
<circle cx="513" cy="527" r="1.5" fill="#5a5a5a" opacity="0.85"/>
<circle cx="525" cy="528" r="1.5" fill="#5a5a5a" opacity="0.85"/>
<circle cx="536" cy="530" r="1.5" fill="#5a5a5a" opacity="0.85"/>
<circle cx="547" cy="525" r="1.5" fill="#5a5a5a" opacity="0.85"/>
<circle cx="555" cy="527" r="1.5" fill="#5a5a5a" opacity="0.85"/>
<circle cx="566" cy="529" r="1.5" fill="#5a5a5a" opacity="0.85"/>
<circle cx="590" cy="528" r="1.5" fill="#5a5a5a" opacity="0.85"/>
<circle cx="610" cy="522" r="1.5" fill="#5a5a5a" opacity="0.85"/>
<circle cx="628" cy="528" r="1.5" fill="#5a5a5a" opacity="0.85"/>
<circle cx="646" cy="529" r="1.5" fill="#5a5a5a" opacity="0.85"/>
<circle cx="656" cy="531" r="1.5" fill="#5a5a5a" opacity="0.85"/>
<circle cx="660" cy="528" r="1.5" fill="#5a5a5a" opacity="0.85"/>
<circle cx="668" cy="526" r="1.5" fill="#5a5a5a" opacity="0.85"/>
<circle cx="675" cy="522" r="1.5" fill="#5a5a5a" opacity="0.85"/>
<circle cx="518" cy="540" r="1.5" fill="#5a5a5a" opacity="0.85"/>
<circle cx="586" cy="538" r="1.5" fill="#5a5a5a" opacity="0.85"/>
<circle cx="653" cy="540" r="1.5" fill="#5a5a5a" opacity="0.85"/>
<text x="527.6" y="489.4" font-size="9.1" font-weight="bold" fill="#111">RNTD</text>
<path d="M542,489.6 L554.6,497" stroke="#111" stroke-width="0.9" stroke-dasharray="2 1.2"/>
<path d="M556.6,498.2 L552.2,497.8 L554.2,494.9Z" fill="#111"/>
<text x="484.6" y="568.6" font-size="12.1" font-weight="bold" fill="#000">Nanoconfined channels</text>
<text x="-1" y="14.5" font-size="21" text-anchor="start" font-weight="bold" fill="#000" >a</text>
<text x="0" y="460" font-size="20" text-anchor="start" font-weight="bold" fill="#000" >b</text>
<text x="231.5" y="461.5" font-size="20" text-anchor="start" font-weight="bold" fill="#000" >c</text>
<text x="468.5" y="466.5" font-size="20" text-anchor="start" font-weight="bold" fill="#000" >d</text>
</svg></body></html>
